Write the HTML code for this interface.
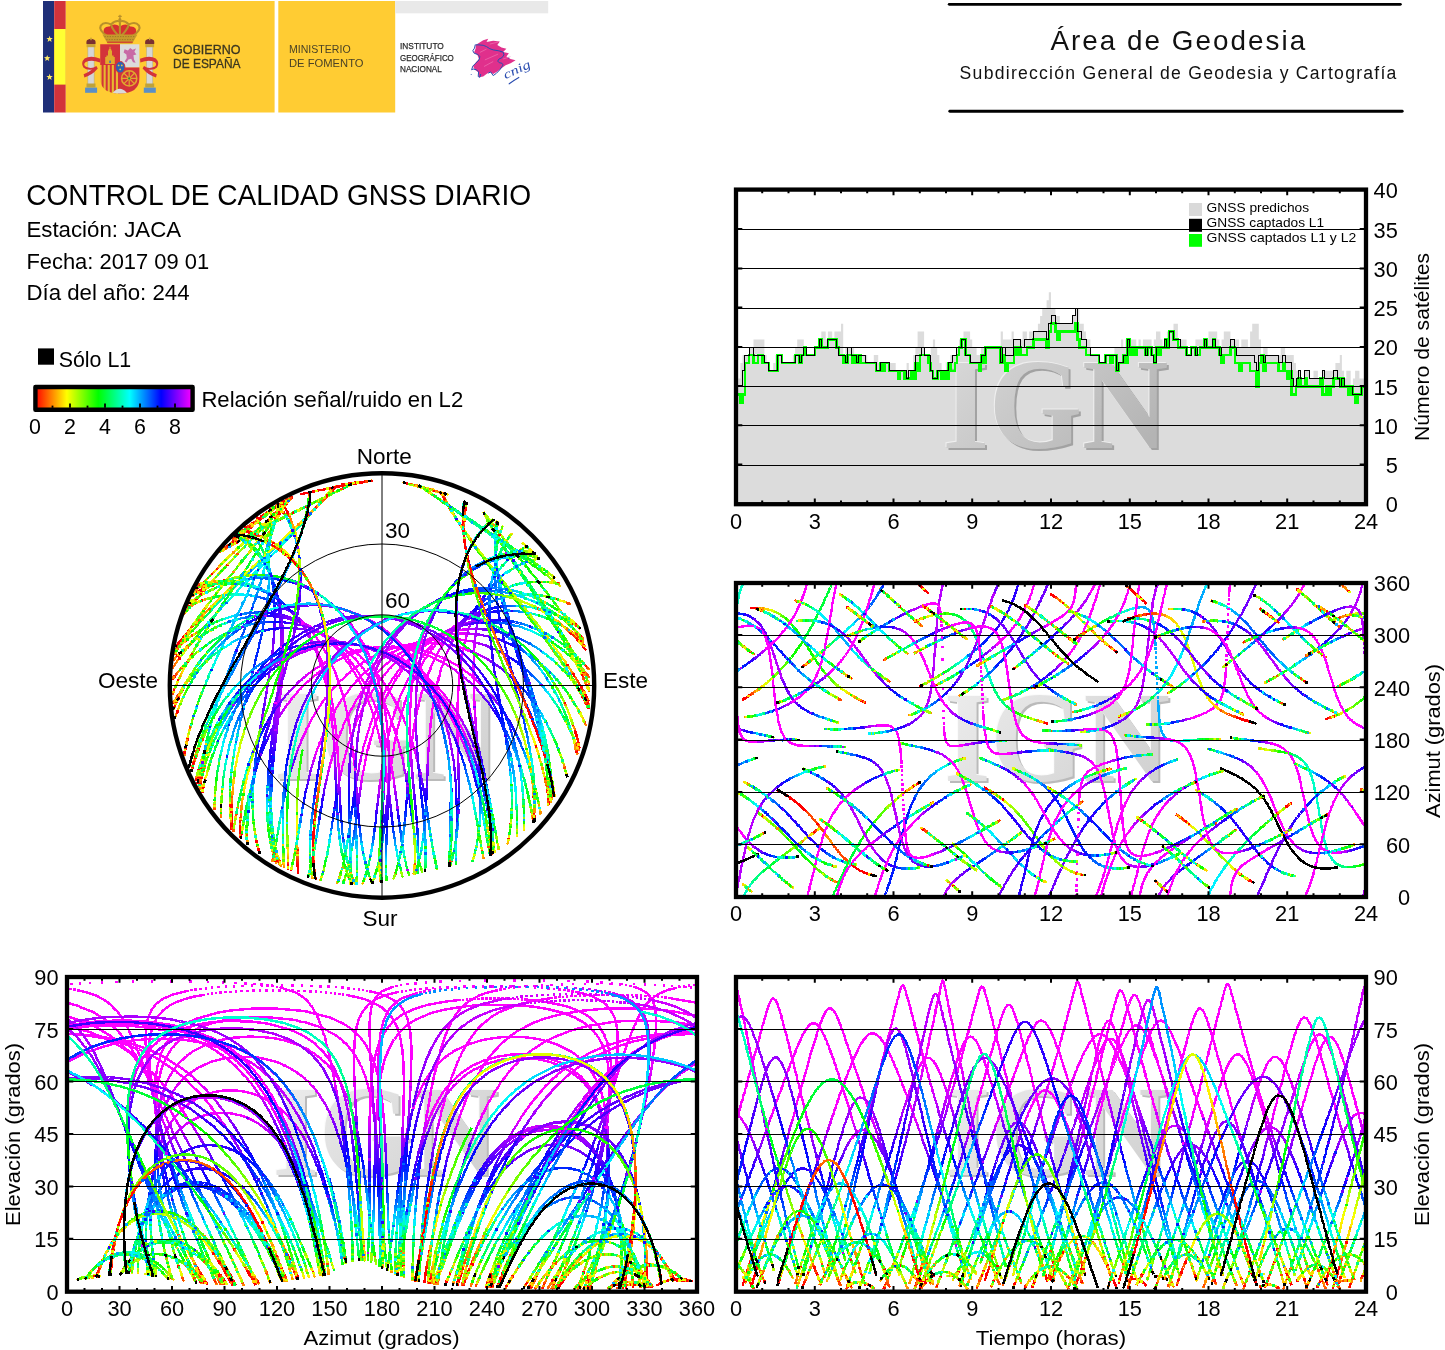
<!DOCTYPE html>
<html lang="es"><head><meta charset="utf-8"><title>Control de calidad GNSS diario - JACA</title>
<style>html,body{margin:0;padding:0;background:#fff}body{width:1445px;height:1350px;overflow:hidden}svg{display:block}</style></head><body>
<svg width="1445" height="1350" viewBox="0 0 1445 1350">
<rect width="1445" height="1350" fill="#fff"/>
<defs><linearGradient id="wgw" x1="0" x2="1" y1="0" y2="0.6"><stop offset="0" stop-color="#efefef"/><stop offset="1" stop-color="#d2d2d2"/></linearGradient><filter id="embw" x="-5%" y="-10%" width="110%" height="125%"><feOffset in="SourceAlpha" dx="2.4" dy="2.4" result="o1"/><feFlood flood-color="#bababa"/><feComposite in2="o1" operator="in" result="sh"/><feOffset in="SourceAlpha" dx="-1.2" dy="-1.2" result="o2"/><feFlood flood-color="#fbfbfb"/><feComposite in2="o2" operator="in" result="hl"/><feMerge><feMergeNode in="sh"/><feMergeNode in="hl"/><feMergeNode in="SourceGraphic"/></feMerge></filter><linearGradient id="wgg" x1="0" x2="1" y1="0" y2="0.6"><stop offset="0" stop-color="#dcdcdc"/><stop offset="1" stop-color="#b4b4b4"/></linearGradient><filter id="embg" x="-5%" y="-10%" width="110%" height="125%"><feOffset in="SourceAlpha" dx="2.4" dy="2.4" result="o1"/><feFlood flood-color="#a2a2a2"/><feComposite in2="o1" operator="in" result="sh"/><feOffset in="SourceAlpha" dx="-1.2" dy="-1.2" result="o2"/><feFlood flood-color="#efefef"/><feComposite in2="o2" operator="in" result="hl"/><feMerge><feMergeNode in="sh"/><feMergeNode in="hl"/><feMergeNode in="SourceGraphic"/></feMerge></filter></defs>
<g id="logo">
<rect x="43" y="1" width="11.2" height="111.5" fill="#1f2f78"/>
<rect x="54.2" y="1" width="11.6" height="111.5" fill="#d3333a"/>
<rect x="54.2" y="29" width="11.6" height="55.6" fill="#ffff33"/>
<polygon points="49.6,35.8 50.4,38.0 52.8,38.1 51.0,39.6 51.6,42.0 49.6,40.6 47.6,42.0 48.2,39.6 46.4,38.1 48.8,38.0" fill="#fde866"/>
<polygon points="47.2,54.9 48.0,57.1 50.4,57.2 48.6,58.7 49.2,61.1 47.2,59.7 45.2,61.1 45.8,58.7 44.0,57.2 46.4,57.1" fill="#fde866"/>
<polygon points="49.6,73.8 50.4,76.0 52.8,76.1 51.0,77.6 51.6,80.0 49.6,78.6 47.6,80.0 48.2,77.6 46.4,76.1 48.8,76.0" fill="#fde866"/>
<rect x="65.8" y="1" width="208.8" height="111.5" fill="#ffcc33"/>
<rect x="278.3" y="1" width="116.9" height="111.5" fill="#ffcc33"/>
<rect x="395.2" y="1" width="153" height="12.3" fill="#e9e9e9"/>
<g id="coat">
<rect x="87.89999999999999" y="46.5" width="6.2" height="38" fill="#d6d6d6" stroke="#a9a58f" stroke-width="0.5"/>
<rect x="86.6" y="43.6" width="8.8" height="3.6" fill="#c9a437"/>
<rect x="86.5" y="83.5" width="9" height="4" fill="#bfa23a"/>
<rect x="85.1" y="87.6" width="12" height="5.2" fill="#5b8fc7"/>
<path d="M86.5 44 q-0.600 -4 1.800 -4.400 q2.700 -1.600 5.400 0 q2.400 0.400 1.800 4.400 z" fill="#7a3030"/>
<rect x="90.3" y="37.6" width="1.4" height="2.6" fill="#c9a437"/>
<rect x="146.6" y="46.5" width="6.2" height="38" fill="#d6d6d6" stroke="#a9a58f" stroke-width="0.5"/>
<rect x="145.3" y="43.6" width="8.8" height="3.6" fill="#c9a437"/>
<rect x="145.2" y="83.5" width="9" height="4" fill="#bfa23a"/>
<rect x="143.8" y="87.6" width="12" height="5.2" fill="#5b8fc7"/>
<path d="M145.2 44 q-0.600 -4 1.800 -4.400 q2.700 -1.600 5.400 0 q2.400 0.400 1.800 4.400 z" fill="#7a3030"/>
<rect x="149.0" y="37.6" width="1.4" height="2.6" fill="#c9a437"/>
<path d="M84.6 58.6 q6 -3.6 15.8 0.2 l-0.4 3.6 q-8.6 -3.2 -14.6 -0.2 q-2.6 2.4 0.6 4.6 q5.6 2.6 10.4 -0.8 l1.4 2.6 q-5.8 6.8 -13.4 9 l-0.8 -3.4 q5 -1.6 8.4 -4.6 q-5.4 1 -8.6 -2.2 q-3 -4.6 1.2 -8.8z" fill="#d3333a"/>
<path d="M155.8 58.6 q-6 -3.6 -15.8 0.2 l0.4 3.6 q8.6 -3.2 14.6 -0.2 q2.6 2.4 -0.6 4.6 q-5.6 2.6 -10.4 -0.8 l-1.4 2.6 q5.800 6.8 13.4 9 l0.8 -3.400 q-5 -1.6 -8.4 -4.6 q5.400 1 8.6 -2.2 q3 -4.6 -1.2 -8.8z" fill="#d3333a"/>
<clipPath id="shc"><path d="M100.2 44.2 H139.4 V78 Q139.4 93.4 119.8 93.6 Q100.2 93.4 100.2 78 Z"/></clipPath>
<g clip-path="url(#shc)">
<rect x="100" y="44" width="20" height="21" fill="#d3333a"/>
<rect x="120" y="44" width="20" height="23.5" fill="#dcdcdc"/>
<rect x="100" y="65" width="20" height="30" fill="#e7b92f"/>
<rect x="101.6" y="65" width="2" height="30" fill="#d3333a"/>
<rect x="105.7" y="65" width="2" height="30" fill="#d3333a"/>
<rect x="109.8" y="65" width="2" height="30" fill="#d3333a"/>
<rect x="113.9" y="65" width="2" height="30" fill="#d3333a"/>
<rect x="118.0" y="65" width="2" height="30" fill="#d3333a"/>
<rect x="120" y="67.5" width="20" height="27" fill="#d3333a"/>
<path d="M113 92.500 Q119.800 85 126.500 92.500 V95 H113Z" fill="#dadada"/>
</g>
<path d="M105.2 64 V57 h1.2 v-1.400 h1.600 V50.400 h0.800 v-1.400 h0.700 v-2.200 h1 v2.200 h0.700 v1.400 h0.800 V55.600 h1.600 V57 h1.200 V64z" fill="#e2aa2c"/>
<rect x="109.300" y="60.600" width="1.500" height="2.400" fill="#3d6fb5"/>
<path d="M124.6 49.2 l3.4 1.400 l2.200 -2.600 l2.400 1.800 l3.400 -1.200 l-1.600 3.200 l2 2.800 l-3 0.600 l0.600 4.200 l1.600 3.400 l-2.600 -0.600 l-1.800 -3.400 l-2.800 0.800 l-2 3 l-1.800 -1 l2.200 -3.600 l-0.400 -3.400 l-2.800 -2 z" fill="#c86aa6"/>
<circle cx="129.2" cy="78.400" r="7.600" fill="none" stroke="#e0a92e" stroke-width="1.500"/>
<path d="M129.2 70.8 V86 M121.600 78.400 H136.8 M123.8 73 L134.600 83.8 M134.600 73 L123.8 83.8" stroke="#e0a92e" stroke-width="1.200" fill="none"/>
<circle cx="129.2" cy="78.400" r="1.100" fill="#2f8a3c"/>
<ellipse cx="120.2" cy="67.2" rx="4.700" ry="5.800" fill="#2d62b3" stroke="#d3333a" stroke-width="1"/>
<circle cx="118.600" cy="65.400" r="0.900" fill="#e7c43a"/><circle cx="121.800" cy="65.400" r="0.900" fill="#e7c43a"/><circle cx="120.200" cy="69.400" r="0.900" fill="#e7c43a"/>
<path d="M103.6 33 Q102.6 26 109.5 26.4 Q114.6 22.6 119.9 26.6 Q125.2 22.6 130.300 26.4 Q137.2 26 136.2 33 Q135 36 133 37 H106.800 Q104.800 36 103.600 33Z" fill="#d6302f"/>
<path d="M107.600 36.400 Q98.200 30 100.800 25.600 Q104.200 21 111 24.400 M119.900 37 Q112.400 30 111 24.400 Q115.400 19.800 119.900 21.400 Q124.400 19.800 128.800 24.400 Q127.400 30 119.900 37 M132.200 36.400 Q141.600 30 139 25.600 Q135.600 21 128.800 24.400 M119.900 21 V37" stroke="#b98f2a" stroke-width="2.100" fill="none"/>
<path d="M102.400 34.600 H137.400 L132.200 43.400 H107.600Z" fill="#c79a2c"/>
<path d="M104.400 36.600 H135.400 M106.200 39.600 H133.600" stroke="#8f6f22" stroke-width="0.700" stroke-dasharray="1.400 1.200"/>
<path d="M107.200 42.200 H132.600" stroke="#d6302f" stroke-width="1.100"/>
<circle cx="119.900" cy="19.600" r="1.500" fill="#b98f2a"/><rect x="119.300" y="14.800" width="1.300" height="4" fill="#b98f2a"/><rect x="118.100" y="15.800" width="3.700" height="1.100" fill="#b98f2a"/>
</g>
<text x="173" y="54.2" font-family="Liberation Sans, Arial, Helvetica, sans-serif" font-size="12.4" fill="#3b3620" stroke="#3b3620" stroke-width="0.3" textLength="67.5" lengthAdjust="spacingAndGlyphs">GOBIERNO</text>
<text x="173" y="68.4" font-family="Liberation Sans, Arial, Helvetica, sans-serif" font-size="12.4" fill="#3b3620" stroke="#3b3620" stroke-width="0.3" textLength="67.5" lengthAdjust="spacingAndGlyphs">DE ESPAÑA</text>
<text x="289" y="52.8" font-family="Liberation Sans, Arial, Helvetica, sans-serif" font-size="11.6" fill="#4a4226" textLength="61.6" lengthAdjust="spacingAndGlyphs">MINISTERIO</text>
<text x="289" y="67.3" font-family="Liberation Sans, Arial, Helvetica, sans-serif" font-size="11.6" fill="#4a4226" textLength="74.5" lengthAdjust="spacingAndGlyphs">DE FOMENTO</text>
<text x="400" y="49.3" font-family="Liberation Sans, Arial, Helvetica, sans-serif" font-size="9" fill="#2c2c2c" textLength="43.8" stroke="#2c2c2c" stroke-width="0.25" lengthAdjust="spacingAndGlyphs">INSTITUTO</text>
<text x="400" y="60.7" font-family="Liberation Sans, Arial, Helvetica, sans-serif" font-size="9" fill="#2c2c2c" textLength="53.8" stroke="#2c2c2c" stroke-width="0.25" lengthAdjust="spacingAndGlyphs">GEOGRÁFICO</text>
<text x="400" y="71.7" font-family="Liberation Sans, Arial, Helvetica, sans-serif" font-size="9" fill="#2c2c2c" textLength="41.8" stroke="#2c2c2c" stroke-width="0.25" lengthAdjust="spacingAndGlyphs">NACIONAL</text>
<g id="cnig">
<path d="M475.7 44.9L483.2 40.3L488.2 38.7L486.5 42.0L493.2 40.8L499.8 41.6L497.3 44.9L501.5 47.4L506.4 48.7L503.1 52.0L508.9 53.2L506.4 56.5L510.6 59.0L515.6 60.3L510.6 63.2L505.6 65.3L501.5 68.2L497.3 71.5L493.2 74.0L489.8 71.9L486.5 74.0L483.2 76.5L479.0 77.3L478.2 72.3L474.9 69.8L473.2 66.5L475.7 62.4L479.0 59.0L477.4 54.9L474.1 52.4L475.7 48.2 Z" fill="#e0308c"/>
<path d="M484.9 59.9L498.1 54.1M479.9 52.4L486.5 49.1M484.0 66.5L493.2 61.5M489.8 44.1L498.1 42.0M503.1 59.0L510.6 56.5" stroke="#f28cc0" stroke-width="0.5" fill="none"/>
<path d="M475.3 44.5L474.5 48.2L472.8 50.7L474.1 53.2L477.8 54.5L479.9 56.5L479.0 59.9L475.7 63.2L472.8 66.1L471.6 69.8L473.2 69.0L476.5 69.8L478.6 71.9L478.2 76.5L479.9 77.3L480.7 74.0 M488.2 73.2L490.7 71.9L493.2 75.6L496.5 73.2L499.8 69.8L503.1 64.9L501.9 63.2L499.4 62.8L497.7 61.1L499.0 59.0L501.9 57.8L504.0 54.9L503.1 52.0L500.2 51.6 M475.7 44.8L479.0 44.9L483.2 45.3L486.5 46.6L489.8 48.7L493.2 49.9L498.1 50.7L501.9 51.6" stroke="#2a4db0" stroke-width="1" fill="none" stroke-linejoin="round"/>
<circle cx="471.2" cy="74.6" r="0.5" fill="#2a4db0"/><circle cx="508.8" cy="58" r="0.6" fill="#2a4db0"/>
<text x="505.6" y="79.2" font-family="Liberation Serif, serif" font-style="italic" font-size="12.5" fill="#2a4db0" transform="rotate(-25 505.6 79.2)" textLength="28.5" lengthAdjust="spacingAndGlyphs">cnig</text>
<path d="M509.2 83.8 Q513.5 80.4 518.8 77.4" stroke="#2a4db0" stroke-width="1.1" fill="none" stroke-linecap="round"/>
</g>
</g>
<g id="area">
<line x1="949.2" y1="4.3" x2="1400.4" y2="4.3" stroke="#000" stroke-width="2.8" stroke-linecap="round"/>
<line x1="949.8" y1="111.3" x2="1402.2" y2="111.3" stroke="#000" stroke-width="2.9" stroke-linecap="round"/>
<text x="1050.5" y="49.5" font-family="Liberation Sans, Arial, Helvetica, sans-serif" font-size="27.8" fill="#111" textLength="254.6" lengthAdjust="spacing">Área de Geodesia</text>
<text x="959.6" y="78.6" font-family="Liberation Sans, Arial, Helvetica, sans-serif" font-size="17.6" fill="#111" textLength="436.8" lengthAdjust="spacing">Subdirección General de Geodesia y Cartografía</text>
</g>
<text x="26.2" y="205" font-family="Liberation Sans, Arial, Helvetica, sans-serif" font-size="29" fill="#000" textLength="505" lengthAdjust="spacingAndGlyphs">CONTROL DE CALIDAD GNSS DIARIO</text>
<text x="26.4" y="236.600" font-family="Liberation Sans, Arial, Helvetica, sans-serif" font-size="22.2" fill="#000" textLength="154.8" lengthAdjust="spacingAndGlyphs">Estación: JACA</text>
<text x="26.4" y="268.600" font-family="Liberation Sans, Arial, Helvetica, sans-serif" font-size="22.2" fill="#000" textLength="182.8" lengthAdjust="spacingAndGlyphs">Fecha: 2017 09 01</text>
<text x="26.4" y="299.600" font-family="Liberation Sans, Arial, Helvetica, sans-serif" font-size="22.2" fill="#000" textLength="163.2" lengthAdjust="spacingAndGlyphs">Día del año: 244</text>
<rect x="38" y="348.400" width="16" height="16.300" fill="#000"/>
<text x="58.7" y="366.500" font-family="Liberation Sans, Arial, Helvetica, sans-serif" font-size="21.8" fill="#000" textLength="72.6" lengthAdjust="spacingAndGlyphs">Sólo L1</text>
<text x="201.4" y="406.500" font-family="Liberation Sans, Arial, Helvetica, sans-serif" font-size="22.2" fill="#000" textLength="261.8" lengthAdjust="spacingAndGlyphs">Relación señal/ruido en L2</text>
<defs><linearGradient id="rb" x1="0" x2="1" y1="0" y2="0"><stop offset="0.0" stop-color="#ff0000"/><stop offset="0.2" stop-color="#ffff00"/><stop offset="0.4" stop-color="#00ff00"/><stop offset="0.6" stop-color="#00ffff"/><stop offset="0.8" stop-color="#0000ff"/><stop offset="1.0" stop-color="#ff00ff"/></linearGradient></defs>
<rect x="35.400" y="387" width="157.200" height="22.700" fill="url(#rb)" stroke="#000" stroke-width="4.400" stroke-linejoin="round"/>
<line x1="52.5" y1="407.8" x2="52.5" y2="405.6" stroke="#000" stroke-width="1.800"/>
<line x1="70.0" y1="407.8" x2="70.0" y2="403.6" stroke="#000" stroke-width="1.800"/>
<line x1="87.5" y1="407.8" x2="87.5" y2="405.6" stroke="#000" stroke-width="1.800"/>
<line x1="105.0" y1="407.8" x2="105.0" y2="403.6" stroke="#000" stroke-width="1.800"/>
<line x1="122.5" y1="407.8" x2="122.5" y2="405.6" stroke="#000" stroke-width="1.800"/>
<line x1="140.0" y1="407.8" x2="140.0" y2="403.6" stroke="#000" stroke-width="1.800"/>
<line x1="157.5" y1="407.8" x2="157.5" y2="405.6" stroke="#000" stroke-width="1.800"/>
<line x1="175.0" y1="407.8" x2="175.0" y2="403.6" stroke="#000" stroke-width="1.800"/>
<text x="35.0" y="433.600" font-family="Liberation Sans, Arial, Helvetica, sans-serif" font-size="21.400" fill="#000" text-anchor="middle">0</text>
<text x="70.0" y="433.600" font-family="Liberation Sans, Arial, Helvetica, sans-serif" font-size="21.400" fill="#000" text-anchor="middle">2</text>
<text x="105.0" y="433.600" font-family="Liberation Sans, Arial, Helvetica, sans-serif" font-size="21.400" fill="#000" text-anchor="middle">4</text>
<text x="140.0" y="433.600" font-family="Liberation Sans, Arial, Helvetica, sans-serif" font-size="21.400" fill="#000" text-anchor="middle">6</text>
<text x="175.0" y="433.600" font-family="Liberation Sans, Arial, Helvetica, sans-serif" font-size="21.400" fill="#000" text-anchor="middle">8</text>
<g id="sky">
<text x="387.0" y="779.0" font-family="Liberation Serif, Times New Roman, serif" font-size="130" font-weight="bold" text-anchor="middle" textLength="226" lengthAdjust="spacingAndGlyphs" fill="url(#wgw)" filter="url(#embw)">IGN</text>
<g transform="scale(0.5)" fill="none" stroke-width="4.6" stroke-linecap="square" stroke-linejoin="bevel" shape-rendering="crispEdges">
<defs><radialGradient id="g1_G4" gradientUnits="userSpaceOnUse" cx="764.0" cy="1371.0" r="424.4"><stop offset="0.000" stop-color="#5500ff"/><stop offset="0.044" stop-color="#4d00ff"/><stop offset="0.089" stop-color="#4600ff"/><stop offset="0.133" stop-color="#3e00ff"/><stop offset="0.178" stop-color="#3700ff"/><stop offset="0.222" stop-color="#2f00ff"/><stop offset="0.267" stop-color="#2800ff"/><stop offset="0.311" stop-color="#2000ff"/><stop offset="0.356" stop-color="#0b00ff"/><stop offset="0.400" stop-color="#0017ff"/><stop offset="0.444" stop-color="#0039ff"/><stop offset="0.489" stop-color="#006cff"/><stop offset="0.533" stop-color="#009fff"/><stop offset="0.578" stop-color="#00d4ff"/><stop offset="0.622" stop-color="#00fff1"/><stop offset="0.667" stop-color="#00ffb8"/><stop offset="0.683" stop-color="#00ff9f"/><stop offset="0.700" stop-color="#00ff85"/><stop offset="0.717" stop-color="#00ff6c"/><stop offset="0.733" stop-color="#00ff4d"/><stop offset="0.750" stop-color="#00ff2a"/><stop offset="0.767" stop-color="#00ff08"/><stop offset="0.783" stop-color="#18ff00"/><stop offset="0.800" stop-color="#37ff00"/><stop offset="0.817" stop-color="#55ff00"/><stop offset="0.833" stop-color="#73ff00"/><stop offset="0.850" stop-color="#9aff00"/><stop offset="0.867" stop-color="#c1ff00"/><stop offset="0.883" stop-color="#e7ff00"/><stop offset="0.900" stop-color="#ffe400"/><stop offset="0.917" stop-color="#ffad00"/><stop offset="0.933" stop-color="#ff7500"/><stop offset="0.950" stop-color="#ff3600"/><stop offset="0.967" stop-color="#ff0000"/><stop offset="1.000" stop-color="#ff0000"/></radialGradient><radialGradient id="g1_G5" gradientUnits="userSpaceOnUse" cx="764.0" cy="1371.0" r="424.4"><stop offset="0.000" stop-color="#bf00ff"/><stop offset="0.044" stop-color="#b800ff"/><stop offset="0.089" stop-color="#b000ff"/><stop offset="0.133" stop-color="#a900ff"/><stop offset="0.178" stop-color="#a100ff"/><stop offset="0.222" stop-color="#9900ff"/><stop offset="0.267" stop-color="#9200ff"/><stop offset="0.311" stop-color="#8a00ff"/><stop offset="0.356" stop-color="#7600ff"/><stop offset="0.400" stop-color="#5400ff"/><stop offset="0.444" stop-color="#3200ff"/><stop offset="0.489" stop-color="#0001ff"/><stop offset="0.533" stop-color="#0034ff"/><stop offset="0.578" stop-color="#006aff"/><stop offset="0.622" stop-color="#00a3ff"/><stop offset="0.667" stop-color="#00dcff"/><stop offset="0.683" stop-color="#00f5ff"/><stop offset="0.700" stop-color="#00ffef"/><stop offset="0.717" stop-color="#00ffd6"/><stop offset="0.733" stop-color="#00ffb7"/><stop offset="0.750" stop-color="#00ff95"/><stop offset="0.767" stop-color="#00ff73"/><stop offset="0.783" stop-color="#00ff51"/><stop offset="0.800" stop-color="#00ff2e"/><stop offset="0.817" stop-color="#00ff0c"/><stop offset="0.833" stop-color="#16ff00"/><stop offset="0.850" stop-color="#41ff00"/><stop offset="0.867" stop-color="#6cff00"/><stop offset="0.883" stop-color="#96ff00"/><stop offset="0.900" stop-color="#cdff00"/><stop offset="0.917" stop-color="#fff600"/><stop offset="0.933" stop-color="#ffba00"/><stop offset="0.950" stop-color="#ff7700"/><stop offset="0.967" stop-color="#ff3400"/><stop offset="0.983" stop-color="#ff1500"/><stop offset="1.000" stop-color="#ff0000"/></radialGradient><radialGradient id="g1_G6" gradientUnits="userSpaceOnUse" cx="764.0" cy="1371.0" r="424.4"><stop offset="0.000" stop-color="#ff00ff"/><stop offset="0.222" stop-color="#ff00ff"/><stop offset="0.267" stop-color="#fc00ff"/><stop offset="0.311" stop-color="#f500ff"/><stop offset="0.356" stop-color="#e000ff"/><stop offset="0.400" stop-color="#be00ff"/><stop offset="0.444" stop-color="#9c00ff"/><stop offset="0.489" stop-color="#6900ff"/><stop offset="0.533" stop-color="#3600ff"/><stop offset="0.578" stop-color="#0000ff"/><stop offset="0.622" stop-color="#0039ff"/><stop offset="0.667" stop-color="#0071ff"/><stop offset="0.683" stop-color="#008bff"/><stop offset="0.700" stop-color="#00a4ff"/><stop offset="0.717" stop-color="#00beff"/><stop offset="0.733" stop-color="#00ddff"/><stop offset="0.750" stop-color="#00ffff"/><stop offset="0.767" stop-color="#00ffdd"/><stop offset="0.783" stop-color="#00ffba"/><stop offset="0.800" stop-color="#00ff93"/><stop offset="0.817" stop-color="#00ff6d"/><stop offset="0.833" stop-color="#00ff47"/><stop offset="0.850" stop-color="#00ff18"/><stop offset="0.867" stop-color="#17ff00"/><stop offset="0.883" stop-color="#45ff00"/><stop offset="0.900" stop-color="#80ff00"/><stop offset="0.917" stop-color="#bfff00"/><stop offset="0.933" stop-color="#ffff00"/><stop offset="0.950" stop-color="#ffb800"/><stop offset="0.967" stop-color="#ff7100"/><stop offset="0.983" stop-color="#ff4e00"/><stop offset="1.000" stop-color="#ff2a00"/></radialGradient><radialGradient id="g1_G7" gradientUnits="userSpaceOnUse" cx="764.0" cy="1371.0" r="424.4"><stop offset="0.000" stop-color="#ff00ff"/><stop offset="0.400" stop-color="#ff00ff"/><stop offset="0.444" stop-color="#f100ff"/><stop offset="0.489" stop-color="#be00ff"/><stop offset="0.533" stop-color="#8b00ff"/><stop offset="0.578" stop-color="#5500ff"/><stop offset="0.622" stop-color="#1c00ff"/><stop offset="0.667" stop-color="#001cff"/><stop offset="0.683" stop-color="#0036ff"/><stop offset="0.700" stop-color="#004fff"/><stop offset="0.717" stop-color="#0069ff"/><stop offset="0.733" stop-color="#0088ff"/><stop offset="0.750" stop-color="#00aaff"/><stop offset="0.767" stop-color="#00ccff"/><stop offset="0.783" stop-color="#00f0ff"/><stop offset="0.800" stop-color="#00ffe4"/><stop offset="0.817" stop-color="#00ffbb"/><stop offset="0.833" stop-color="#00ff91"/><stop offset="0.850" stop-color="#00ff5f"/><stop offset="0.867" stop-color="#00ff2d"/><stop offset="0.883" stop-color="#05ff00"/><stop offset="0.900" stop-color="#42ff00"/><stop offset="0.917" stop-color="#85ff00"/><stop offset="0.933" stop-color="#c8ff00"/><stop offset="0.950" stop-color="#ffec00"/><stop offset="0.967" stop-color="#ffa200"/><stop offset="0.983" stop-color="#ff7c00"/><stop offset="1.000" stop-color="#ff5500"/></radialGradient><radialGradient id="g1_R0" gradientUnits="userSpaceOnUse" cx="764.0" cy="1371.0" r="424.4"><stop offset="0.000" stop-color="#9cff00"/><stop offset="0.044" stop-color="#a7ff00"/><stop offset="0.089" stop-color="#b2ff00"/><stop offset="0.133" stop-color="#beff00"/><stop offset="0.178" stop-color="#c9ff00"/><stop offset="0.222" stop-color="#d4ff00"/><stop offset="0.267" stop-color="#e6ff00"/><stop offset="0.311" stop-color="#f6ff00"/><stop offset="0.356" stop-color="#fff400"/><stop offset="0.400" stop-color="#ffdd00"/><stop offset="0.444" stop-color="#ffc600"/><stop offset="0.489" stop-color="#ffaa00"/><stop offset="0.533" stop-color="#ff8e00"/><stop offset="0.578" stop-color="#ff6f00"/><stop offset="0.622" stop-color="#ff4d00"/><stop offset="0.667" stop-color="#ff2a00"/><stop offset="0.683" stop-color="#ff1700"/><stop offset="0.700" stop-color="#ff0400"/><stop offset="0.717" stop-color="#ff0000"/><stop offset="1.000" stop-color="#ff0000"/></radialGradient><radialGradient id="g1_R1" gradientUnits="userSpaceOnUse" cx="764.0" cy="1371.0" r="424.4"><stop offset="0.000" stop-color="#00ffaa"/><stop offset="0.044" stop-color="#00ff9f"/><stop offset="0.089" stop-color="#00ff93"/><stop offset="0.133" stop-color="#00ff88"/><stop offset="0.178" stop-color="#00ff7d"/><stop offset="0.222" stop-color="#00ff71"/><stop offset="0.267" stop-color="#00ff60"/><stop offset="0.311" stop-color="#00ff4f"/><stop offset="0.356" stop-color="#00ff3b"/><stop offset="0.400" stop-color="#00ff25"/><stop offset="0.444" stop-color="#00ff0e"/><stop offset="0.489" stop-color="#0eff00"/><stop offset="0.533" stop-color="#2aff00"/><stop offset="0.578" stop-color="#4aff00"/><stop offset="0.622" stop-color="#6cff00"/><stop offset="0.667" stop-color="#8eff00"/><stop offset="0.683" stop-color="#a1ff00"/><stop offset="0.700" stop-color="#b4ff00"/><stop offset="0.717" stop-color="#c7ff00"/><stop offset="0.733" stop-color="#daff00"/><stop offset="0.750" stop-color="#edff00"/><stop offset="0.767" stop-color="#fffe00"/><stop offset="0.783" stop-color="#ffee00"/><stop offset="0.800" stop-color="#ffe600"/><stop offset="0.817" stop-color="#ffdd00"/><stop offset="0.833" stop-color="#ffd500"/><stop offset="0.850" stop-color="#ffbb00"/><stop offset="0.867" stop-color="#ffa100"/><stop offset="0.883" stop-color="#ff8800"/><stop offset="0.900" stop-color="#ff5c00"/><stop offset="0.917" stop-color="#ff2700"/><stop offset="0.933" stop-color="#ff0000"/><stop offset="1.000" stop-color="#ff0000"/></radialGradient><radialGradient id="g1_R2" gradientUnits="userSpaceOnUse" cx="764.0" cy="1371.0" r="424.4"><stop offset="0.000" stop-color="#00fff1"/><stop offset="0.044" stop-color="#00ffe6"/><stop offset="0.089" stop-color="#00ffda"/><stop offset="0.133" stop-color="#00ffcf"/><stop offset="0.178" stop-color="#00ffc4"/><stop offset="0.222" stop-color="#00ffb8"/><stop offset="0.267" stop-color="#00ffa7"/><stop offset="0.311" stop-color="#00ff96"/><stop offset="0.356" stop-color="#00ff82"/><stop offset="0.400" stop-color="#00ff6c"/><stop offset="0.444" stop-color="#00ff55"/><stop offset="0.489" stop-color="#00ff39"/><stop offset="0.533" stop-color="#00ff1c"/><stop offset="0.578" stop-color="#03ff00"/><stop offset="0.622" stop-color="#25ff00"/><stop offset="0.667" stop-color="#47ff00"/><stop offset="0.683" stop-color="#5aff00"/><stop offset="0.700" stop-color="#6dff00"/><stop offset="0.717" stop-color="#80ff00"/><stop offset="0.733" stop-color="#93ff00"/><stop offset="0.750" stop-color="#a6ff00"/><stop offset="0.767" stop-color="#baff00"/><stop offset="0.783" stop-color="#caff00"/><stop offset="0.800" stop-color="#d5ff00"/><stop offset="0.817" stop-color="#e0ff00"/><stop offset="0.833" stop-color="#ecff00"/><stop offset="0.850" stop-color="#fff600"/><stop offset="0.867" stop-color="#ffda00"/><stop offset="0.883" stop-color="#ffbe00"/><stop offset="0.900" stop-color="#ff8f00"/><stop offset="0.917" stop-color="#ff5800"/><stop offset="0.933" stop-color="#ff2000"/><stop offset="0.950" stop-color="#ff0000"/><stop offset="1.000" stop-color="#ff0000"/></radialGradient><radialGradient id="g1_R3" gradientUnits="userSpaceOnUse" cx="764.0" cy="1371.0" r="424.4"><stop offset="0.000" stop-color="#0080ff"/><stop offset="0.044" stop-color="#008bff"/><stop offset="0.089" stop-color="#0096ff"/><stop offset="0.133" stop-color="#00a1ff"/><stop offset="0.178" stop-color="#00adff"/><stop offset="0.222" stop-color="#00b8ff"/><stop offset="0.267" stop-color="#00c9ff"/><stop offset="0.311" stop-color="#00daff"/><stop offset="0.356" stop-color="#00eeff"/><stop offset="0.400" stop-color="#00fff9"/><stop offset="0.444" stop-color="#00ffe3"/><stop offset="0.489" stop-color="#00ffc6"/><stop offset="0.533" stop-color="#00ffaa"/><stop offset="0.578" stop-color="#00ff8b"/><stop offset="0.622" stop-color="#00ff69"/><stop offset="0.667" stop-color="#00ff47"/><stop offset="0.683" stop-color="#00ff34"/><stop offset="0.700" stop-color="#00ff21"/><stop offset="0.717" stop-color="#00ff0d"/><stop offset="0.733" stop-color="#06ff00"/><stop offset="0.750" stop-color="#19ff00"/><stop offset="0.767" stop-color="#2cff00"/><stop offset="0.783" stop-color="#3eff00"/><stop offset="0.800" stop-color="#4fff00"/><stop offset="0.817" stop-color="#5fff00"/><stop offset="0.833" stop-color="#70ff00"/><stop offset="0.850" stop-color="#91ff00"/><stop offset="0.867" stop-color="#b3ff00"/><stop offset="0.883" stop-color="#d4ff00"/><stop offset="0.900" stop-color="#fff600"/><stop offset="0.917" stop-color="#ffb900"/><stop offset="0.933" stop-color="#ff7c00"/><stop offset="0.950" stop-color="#ff2600"/><stop offset="0.967" stop-color="#ff0000"/><stop offset="1.000" stop-color="#ff0000"/></radialGradient><radialGradient id="g1_R4" gradientUnits="userSpaceOnUse" cx="764.0" cy="1371.0" r="424.4"><stop offset="0.000" stop-color="#0e00ff"/><stop offset="0.044" stop-color="#0300ff"/><stop offset="0.089" stop-color="#0008ff"/><stop offset="0.133" stop-color="#0014ff"/><stop offset="0.178" stop-color="#001fff"/><stop offset="0.222" stop-color="#002bff"/><stop offset="0.267" stop-color="#003cff"/><stop offset="0.311" stop-color="#004cff"/><stop offset="0.356" stop-color="#0060ff"/><stop offset="0.400" stop-color="#0077ff"/><stop offset="0.444" stop-color="#008eff"/><stop offset="0.489" stop-color="#00aaff"/><stop offset="0.533" stop-color="#00c6ff"/><stop offset="0.578" stop-color="#00e5ff"/><stop offset="0.622" stop-color="#00fff7"/><stop offset="0.667" stop-color="#00ffd4"/><stop offset="0.683" stop-color="#00ffc1"/><stop offset="0.700" stop-color="#00ffae"/><stop offset="0.717" stop-color="#00ff9b"/><stop offset="0.733" stop-color="#00ff88"/><stop offset="0.750" stop-color="#00ff75"/><stop offset="0.767" stop-color="#00ff62"/><stop offset="0.783" stop-color="#00ff4e"/><stop offset="0.800" stop-color="#00ff38"/><stop offset="0.817" stop-color="#00ff22"/><stop offset="0.833" stop-color="#00ff0c"/><stop offset="0.850" stop-color="#1aff00"/><stop offset="0.867" stop-color="#41ff00"/><stop offset="0.883" stop-color="#68ff00"/><stop offset="0.900" stop-color="#a1ff00"/><stop offset="0.917" stop-color="#e4ff00"/><stop offset="0.933" stop-color="#ffd800"/><stop offset="0.950" stop-color="#ff7d00"/><stop offset="0.967" stop-color="#ff2200"/><stop offset="0.983" stop-color="#ff0000"/><stop offset="1.000" stop-color="#ff0000"/></radialGradient><radialGradient id="g1_R5" gradientUnits="userSpaceOnUse" cx="764.0" cy="1371.0" r="424.4"><stop offset="0.000" stop-color="#7800ff"/><stop offset="0.044" stop-color="#6d00ff"/><stop offset="0.089" stop-color="#6200ff"/><stop offset="0.133" stop-color="#5600ff"/><stop offset="0.178" stop-color="#4b00ff"/><stop offset="0.222" stop-color="#4000ff"/><stop offset="0.267" stop-color="#2f00ff"/><stop offset="0.311" stop-color="#1e00ff"/><stop offset="0.356" stop-color="#0a00ff"/><stop offset="0.400" stop-color="#000dff"/><stop offset="0.444" stop-color="#0023ff"/><stop offset="0.489" stop-color="#0040ff"/><stop offset="0.533" stop-color="#005cff"/><stop offset="0.578" stop-color="#007bff"/><stop offset="0.622" stop-color="#009dff"/><stop offset="0.667" stop-color="#00bfff"/><stop offset="0.683" stop-color="#00d2ff"/><stop offset="0.700" stop-color="#00e5ff"/><stop offset="0.717" stop-color="#00f9ff"/><stop offset="0.733" stop-color="#00fff2"/><stop offset="0.750" stop-color="#00ffdf"/><stop offset="0.767" stop-color="#00ffcc"/><stop offset="0.783" stop-color="#00ffb7"/><stop offset="0.800" stop-color="#00ff9d"/><stop offset="0.817" stop-color="#00ff83"/><stop offset="0.833" stop-color="#00ff69"/><stop offset="0.850" stop-color="#00ff3f"/><stop offset="0.867" stop-color="#00ff14"/><stop offset="0.883" stop-color="#17ff00"/><stop offset="0.900" stop-color="#54ff00"/><stop offset="0.917" stop-color="#9bff00"/><stop offset="0.933" stop-color="#e1ff00"/><stop offset="0.950" stop-color="#ffbe00"/><stop offset="0.967" stop-color="#ff5f00"/><stop offset="0.983" stop-color="#ff3100"/><stop offset="1.000" stop-color="#ff0400"/></radialGradient><radialGradient id="g1_R6" gradientUnits="userSpaceOnUse" cx="764.0" cy="1371.0" r="424.4"><stop offset="0.000" stop-color="#e300ff"/><stop offset="0.044" stop-color="#d700ff"/><stop offset="0.089" stop-color="#cc00ff"/><stop offset="0.133" stop-color="#c100ff"/><stop offset="0.178" stop-color="#b500ff"/><stop offset="0.222" stop-color="#aa00ff"/><stop offset="0.267" stop-color="#9900ff"/><stop offset="0.311" stop-color="#8800ff"/><stop offset="0.356" stop-color="#7400ff"/><stop offset="0.400" stop-color="#5d00ff"/><stop offset="0.444" stop-color="#4700ff"/><stop offset="0.489" stop-color="#2a00ff"/><stop offset="0.533" stop-color="#0e00ff"/><stop offset="0.578" stop-color="#0011ff"/><stop offset="0.622" stop-color="#0033ff"/><stop offset="0.667" stop-color="#0055ff"/><stop offset="0.683" stop-color="#0068ff"/><stop offset="0.700" stop-color="#007bff"/><stop offset="0.717" stop-color="#008eff"/><stop offset="0.733" stop-color="#00a2ff"/><stop offset="0.750" stop-color="#00b5ff"/><stop offset="0.767" stop-color="#00c8ff"/><stop offset="0.783" stop-color="#00deff"/><stop offset="0.800" stop-color="#00fcff"/><stop offset="0.817" stop-color="#00ffe4"/><stop offset="0.833" stop-color="#00ffc6"/><stop offset="0.850" stop-color="#00ff98"/><stop offset="0.867" stop-color="#00ff69"/><stop offset="0.883" stop-color="#00ff3a"/><stop offset="0.900" stop-color="#07ff00"/><stop offset="0.917" stop-color="#51ff00"/><stop offset="0.933" stop-color="#9cff00"/><stop offset="0.950" stop-color="#ffff00"/><stop offset="0.967" stop-color="#ff9c00"/><stop offset="0.983" stop-color="#ff6a00"/><stop offset="1.000" stop-color="#ff3900"/></radialGradient><radialGradient id="g1_R7" gradientUnits="userSpaceOnUse" cx="764.0" cy="1371.0" r="424.4"><stop offset="0.000" stop-color="#ff00ff"/><stop offset="0.222" stop-color="#ff00ff"/><stop offset="0.267" stop-color="#ee00ff"/><stop offset="0.311" stop-color="#dd00ff"/><stop offset="0.356" stop-color="#c900ff"/><stop offset="0.400" stop-color="#b300ff"/><stop offset="0.444" stop-color="#9c00ff"/><stop offset="0.489" stop-color="#8000ff"/><stop offset="0.533" stop-color="#6300ff"/><stop offset="0.578" stop-color="#4400ff"/><stop offset="0.622" stop-color="#2200ff"/><stop offset="0.667" stop-color="#0000ff"/><stop offset="0.683" stop-color="#0013ff"/><stop offset="0.700" stop-color="#0026ff"/><stop offset="0.717" stop-color="#0039ff"/><stop offset="0.733" stop-color="#004dff"/><stop offset="0.750" stop-color="#0060ff"/><stop offset="0.767" stop-color="#0073ff"/><stop offset="0.783" stop-color="#008aff"/><stop offset="0.800" stop-color="#00abff"/><stop offset="0.817" stop-color="#00ccff"/><stop offset="0.833" stop-color="#00edff"/><stop offset="0.850" stop-color="#00ffdf"/><stop offset="0.867" stop-color="#00ffad"/><stop offset="0.883" stop-color="#00ff7b"/><stop offset="0.900" stop-color="#00ff37"/><stop offset="0.917" stop-color="#17ff00"/><stop offset="0.933" stop-color="#65ff00"/><stop offset="0.950" stop-color="#cbff00"/><stop offset="0.967" stop-color="#ffcd00"/><stop offset="0.983" stop-color="#ff9800"/><stop offset="1.000" stop-color="#ff6300"/></radialGradient></defs>
<path stroke="url(#g1_G7)" d="M452 1435l5-10 14-21 5-5 6-9 6-6 4-6 1 0 24-25 12-9 1-2 21-15 17-9 2-2 30-14 18-6 4 0 4-2 18-3 1-1 15-1 1-1 27-1 1 1 15 0 1 1 14 1 1 1 10 1 1 1 11 2 4 2 3 0 12 4 17 8 9 3 29 17 15 11 1 2 8 5 2 3 9 7 2 3 13 12 4 6 3 2 12 16 5 5 28 44 0 2 5 8 13 28 1 5 3 5 1 5 4 8 9 27 0 3 5 14 0 3 2 4 0 4 4 12 9 42 0 4 1 1 0 5 1 1 2 15 2 6 0 6 2 6 1 11 1 1 1 10 2 6 0 6 1 1 0 4 2 6M399 1573l2-12 2-4 4-18 2-3 3-13 2-3 0-3 2-3 5-16 16-37 20-35M1024 1212l22 0 1 1 7 0 1 1 12 1 1 1 15 3 4 2 3 0 17 6 5 3 5 1 21 11 22 14M583 995l-4 5-5 4-5 7-6 5-6 8-15 14-9 11-9 8-11 13-26 25-62 66-5 7-19 20-1 3-8 8-9 12-6 6-2 4-6 6M745 1765l9-26 0-3 5-17 0-4 1-1 0-5 1-1 0-4 2-6 0-5 1-1 3-27 1-1 0-7 1-1 1-16 1-2 0-9 1-1 0-8 1-1 0-9 1-1 0-9 1-1 0-9 1-1 2-27 1-1 0-7 1-1 0-7 1-1 0-8 1-1 2-20 1-1 4-29 2-6 0-5 1-1 2-13 6-21 0-4 9-27 0-3 3-6 0-3 2-3 0-2 2-3 0-3 4-7 0-3 4-7 2-7 9-18 2-2 14-26 2-1 5-9 2-1 4-7 2-1 6-9 2-1 5-7 2-1 11-12 9-7 1-2 4-2 1-2 4-2 0-1 7-5 3-1 0-1 15-9 14-7 2 0 3-2 2 0 0-1 11-4 3 0 4-2 3 0 12-4 5 0 7-2 30-1M351 1300l2-3 9-7 3-4 10-7 2-3 7-5 22-14 27-14 36-12 4 0 1-1 8-1 1-1 5 0 1-1 19-1 1-1 18 0 1 1 12 0 1 1 13 1 10 3 4 0 3 1 0 1 3 0 23 8 2 2 4 1 17 9 0 1 5 2 3 2 0 1 6 3 0 1 16 11 4 5 7 5 0 1 10 9 5 7 3 2 2 4 3 2 10 15 2 1 20 32 18 38 1 5 3 5 0 3 3 5 9 27 0 3 2 4 0 3 2 4 0 3 2 4 0 3 3 9 0 4 2 4 0 4 1 1 0 4 1 1 2 13 1 1 0 5 2 6 2 16 1 1 0 5 1 1 0 6 1 1 0 6 4 23 0 7 1 1 0 7 1 1 0 7 1 1 0 8 1 1 0 7 1 1 0 8 1 1 0 8 1 1 0 7 1 1 0 8 1 1 1 14 1 1 0 7 1 1 2 18 1 1 0 5 1 1 3 19 1 1 1 8 1 1 0 3 1 1 5 21M1068 1106l-22-19M482 1675l0-4 2-6 0-6 1-1 0-4 2-6 0-5 2-6 0-5 1-1 1-10 2-5 0-5 2-5 2-14 2-4 1-8 1-1 3-15 2-4 1-7 4-11 0-3 3-6 1-6 2-3 0-3 2-3 2-8 3-5 0-3 3-5 1-5 5-9 10-23 6-9 0-2 8-14 18-27 2-1 8-12 3-2 11-14 1 0 13-14 6-4 0-1 9-8 5-3 2-3 13-8 0-1 4-3 15-8 2-2 24-12 8-2 8-4 29-8 5 0 1-1 11-1 1-1 8 0 1-1 24-1 1 1 26 1 1 1 5 0 7 2 4 0 1 1 4 0 1 1 11 2 10 4 3 0 20 9 2 0 30 16 1 2 3 1 24 17 2 3 5 3 7 8 10 8 21 24 6 9 5 5 12 18 1 3 7 10 10 20 2 2 0 2 11 22 1 5 7 15 0 3 3 5 1 6 2 3 0 3 2 3 1 6 5 14 0 3 2 4 1 7 4 12 0 4 2 4 2 13 2 5 0 5 1 1 3 18M947 1345l1-48 1-1 0-11 1-1 0-9 1-1 2-20 1-1 1-10 1-1 0-4 3-9 2-12 11-32 1 0 3-9 1 0 1-4 10-18 1 0 4-8 1 0 10-14 3-2 10-12 5-3 0-1 6-4 1-2 24-15M541 1018l0 4 1 1 0 40-1 1 0 10-1 1 0 7-1 1 0 6-2 7 0 6-1 1-2 14-3 9-4 20-5 14 0 4-3 6-3 13-5 12 0 3-5 12 0 3-2 3 0 3-3 5 0 3-5 11-9 27-4 8-6 18-6 13 0 3-2 3-5 15-4 8-2 8-4 8 0 3-4 8-2 8-3 6 0 3-6 14 0 3-5 12 0 3-10 30-3 14-5 16 0 3-1 1 0 4-2 5 0 4-1 1-3 18-1 1-1 12-2 7 0 7-1 1 0 8-1 1-2 35M945 1722l3-7 0-4 2-4 1-8 3-10 1-10 1-1 2-23 1-1 1-33 1-1 0-36-1-1-1-43-1-1-1-27-1-1-1-25-1-1-2-37-1-1 0-12-1-1 0-14-1-1 0-16-1-1-1-66M582 1740l3-14 1-1 0-4 1 0 4-24 1-1 0-5 1-1 1-11 2-6 0-5 1-1 0-5 2-7 0-6 2-6 0-6 2-6 2-16 2-6 0-5 1-1 4-24 2-5 0-4 1-1 7-31 14-44 2-3 1-5 2-3 1-5 3-5 2-7 11-22 0-2 11-18 1-4 16-25 2-1 15-21 23-25 9-7 2-3 5-3 2-3 4-2 5-5 9-5 1-2 18-10 1-2 25-12 8-2 3-2 15-5 4 0 13-4 5 0 7-2 7 0 1-1 12 0 1-1 21 0 2 1 10 0 2 1 13 1 1 1 14 2 11 4 7 1 3 2 5 1 10 5 7 2 20 10 23 15 26 21 2 3 19 18 4 6 4 3 6 9 3 2 22 32 0 2 15 25 1 4 4 6 1 4 4 7 0 2 4 7 0 2 3 5 0 3 3 5 1 5 3 6M392 1560l1-7 2-4 4-17 8-24 5-11 1-5 7-14 0-3 4-6 6-15 7-11 1-4 17-27 24-32 4-3 3-5 1 0 14-15 10-8 2-3 8-5 2-3 25-17 33-17 25-9 7-1 8-3 4 0 1-1 4 0 7-2 6 0 1-1 8 0 1-1 38 0 2 1 20 2 1 1 4 0 1 1 4 0 1 1 11 2 12 5 3 0 6 3 2 0 29 14 31 20 2 3 4 2 14 12 2 3 18 17 3 5 3 2 3 5 6 6 7 11 2 1 3 4 14 22 20 38 5 14 4 7 1 5 7 16 0 3 2 3 1 6 3 6 2 10 3 7 0 3 2 4 0 4 2 4 0 4 2 4 0 4 2 4 3 17 1 1 21 116M1104 1578l-1-23-1-2 0-9-1-1-1-15-1-1-2-18-1-1 0-4-1-1 0-4-4-20-2-5 0-4-3-9-1-8-3-8-4-18-3-7-1-7-2-3-1-7-2-3-3-13-2-3-1-7-2-3 0-3-10-28 0-3-2-3 0-3-2-3-5-15 0-3-2-3 0-3-4-9 0-3-7-19-1-6-3-7 0-3-2-3-2-10-4-10 0-3-6-18 0-4-3-8-7-33-2-5 0-5-2-5-2-18-2-7 0-8-1-1 0-8-1-1 0-13-1-1 0-33 1-1 0-11 1-1 1-9M471 1072l10 5 0 1 3 1 0 1 4 2 1 2 9 6 0 1 14 13 4 6 2 1 13 19 1 4 1 0 3 5 1 4 1 0 1 2 0 2 6 12 1 5 2 3 4 12 0 3 2 4 0 3 3 9 0 4 2 5 1 10 1 1 0 6 2 7 1 19 1 1 0 12 1 1 0 65-1 1 0 17-1 2 0 13-1 1 0 11-1 2 0 9-1 2-2 27-1 1 0 9-1 1 0 8-1 1-2 25-1 1 0 8-1 1-2 25-1 1-2 28-1 2-1 22-1 1 0 14-1 2 0 19-1 1 0 40 1 1 0 16 1 2 1 19 6 34 1 1 3 15 7 19M1104 1598l0-29-1-1M1101 1603l0-40-1-1 0-12-1-1 0-8-1-1 0-8-2-7 0-7-1-1-1-10-1-1-5-29-2-5 0-4-1-1-6-27-3-8 0-3-3-7-1-7-3-7 0-3-3-7-4-16-30-91-1-6-3-7 0-3-2-3 0-3-2-4 0-3-2-3 0-3-2-4-5-21-6-18 0-4-2-4 0-4-2-4 0-4-1-1-3-17-2-5 0-5-2-6 0-5-1-1-1-11-1-1 0-6-1-1-1-18-1-1 0-15-1-1 1-38 1-1 0-8 1 0 0-6 1-2M473 1070l19 13 0 1 6 4 0 1 14 13 6 9 2 1 1 3 1 0 1 3 1 0 1 3 1 0 1 3 1 0 3 5 1 4 1 0 2 5 1 0 4 11 2 2 1 5 5 11 0 3 3 6 0 3 2 4 2 12 2 5 3 22 1 1 0 7 1 1 0 8 1 2 0 10 1 1 0 18 1 1-1 63-1 1 0 13-1 1 0 13-1 1-2 31-1 1 0 8-1 1 0 7-1 1-1 17-1 1-2 25-1 1-4 41-1 1-1 18-1 1-2 33-1 1 0 15-1 1 0 23-1 1 1 48 1 1 0 11 1 1 1 16 1 1 1 11 1 1 0 4 6 26 3 7 0 3 4 8M1178 1367l-4-8 0-2-2-2-1-4-2-2 0-2-6-12-2-2-1-4-2-2 0-2-2-2-2-5-2-2 0-2-14-23 0-2-3-3-2-5-12-18 0-2-3-3-8-14-9-12-2-5-3-3-1-3-5-6-1-3-5-6-9-15-6-7 0-2-15-20-3-6-7-9-1-3-8-10-3-6-10-13-2-5-13-18 0-2-24-36-1-4-8-12-6-12M392 1176l21-5 1-1 20-2 1-1 35 0 1 1 8 0 1 1 5 0 5 2 4 0 1 1 11 2 3 2 13 4 7 4 4 1 0 1 4 2 2 0 0 1 10 5 1 2 3 1 0 1 3 1 12 9 3 4 3 1 0 1 12 11 4 6 4 3 2 4 2 1 1 3 2 1 2 4 1 0 5 7 8 14 1 0 9 19 1 0 5 10 0 2 10 23 8 24 0 3 4 12 3 16 3 9 0 5 2 6 0 5 1 1 2 11 0 6 2 7 2 23 1 1 0 7 1 1 0 9 1 1 0 11 1 1 0 11 1 2 0 14 1 1 0 16 1 1 3 83 1 1 0 15 1 1 0 14 1 1 2 29 1 1 0 6 1 1 0 7 2 6 0 6 1 1 2 15 1 1 3 15 8 25 6 14M545 1722l2-7 0-4 1-1 0-5 1-1 2-14 1-1 1-10 1-1 0-6 2-6 0-5 1-1 1-11 1-1 1-10 2-6 0-5 2-6 0-5 1-1 3-19 1-1 1-8 3-10 0-4 2-4 3-15 2-4 0-4 18-54 4-7 1-5 9-18 1-4 4-6 7-15 21-33 5-7 2-1 8-12 1 0 6-8 7-6 4-6 10-8 6-7 5-3 2-3 8-5 1-2 4-3 9-5 1-2 15-9 33-16 6-1 3-2 12-4 4 0 4-2 18-3 1-1 17-1 1-1 36 0 1 1 9 0 1 1 6 0 1 1 14 2 1 1 11 2 33 12 25 13 30 20 2 3 5 3 2 3 5 3 3 4 10 8 4 6 1 0 4 5 3 2 4 6 3 2 9 13 2 1 3 4 16 24 3 5 0 2 9 14 1 4 6 10 0 2 13 27 0 3 3 5 0 3 3 5 0 3 2 3 3 9 0 3 2 3 7 25M556 1009l-2 17-1 1 0 4-2 5 0 4-1 1-2 11-2 4 0 3-3 7 0 3-3 7-1 6-2 3-10 30-3 5-4 12-7 14 0 2-8 17 0 2-3 4-9 20 0 2-2 2-2 6-4 6-3 9-2 2-2 6-3 4-2 6-2 2-3 9-2 2-2 6-6 10 0 2-6 11 0 2-3 4-1 4-2 2 0 2-11 22 0 2-3 4-3 9-2 2 0 2-10 21 0 2-18 43-9 28-2 3 0 3-4 10-1 7-2 3 0 3-6 21 0 4-2 5-4 25M900 1731l4-10 0-4 2-4 2-13 2-5 0-6 1-1 1-11 1-1 0-7 1-1 0-8 1-1 0-10 1-1 1-48 1-1-2-114-1-2 0-77 1-2 0-21 1-2 1-25 1-1 1-18 1-1 2-20 1-1 3-20 1-1 1-8 3-8 0-4 2-4 0-3 6-16 0-3 3-5 6-17 4-6 0-2 3-6 2-2 6-12 1 0 2-5 1 0 11-16 2-1 1-3 1 0 19-20 3-1 0-1 6-5 17-10 0-1 24-11 25-7M713 1580l2 33 1 2 0 11 1 1 0 10 1 1 0 11 1 1 1 16 1 1 0 7 1 1 0 7 1 1 0 5 2 7 0 6 1 1 0 4 1 1 0 4 2 5 3 17 11 32M1169 1292l-23-36-4-4 0-2-6-7-1-3-4-4-1-3-7-8-1-3-4-4-14-20-5-5-5-8-20-24-1-3-15-17-1-3-24-28 0-2-29-35-34-45M374 1214l4-1 20-10 3 0 3-2 12-4 3 0 13-4 4 0 1-1 12-1 1-1 9 0 1-1 27 0 1 1 16 1 1 1 9 1 21 6 27 12 2 2 5 2 0 1 5 2 1 2 3 1 10 7 1 2 3 1 3 4 6 4 0 1 16 15 2 4 2 1 12 15 1 3 11 15 3 7 5 7 17 36 17 51 0 3 3 9 0 4 2 4 0 4 3 10 1 9 1 1 0 5 2 6 2 18 2 7 0 6 1 1 1 16 1 1 0 7 1 1 0 9 1 1 0 9 1 1 2 35 1 1 0 12 1 1 0 12 1 2M475 1067l11 7 5 4 2 3 3 1 0 1 12 11 8 11 1 0 1 3 1 0 3 4 7 13 1 0 9 18 1 5 1 0 1 2 1 5 3 6 0 3 3 7 0 3 2 4 0 3 3 9 1 10 1 1 1 10 1 1 0 6 1 1 1 19 1 1 0 15 1 1 0 53-1 1 0 19-1 1 0 12-1 1 0 11-1 1 0 10-1 1 0 9-1 1 0 8-1 1 0 9-1 1-2 24-1 1 0 6-1 1 0 8-1 1-3 30-1 1 0 6-1 2 0 7-1 1 0 8-1 1 0 6-1 1 0 9-1 1-1 18-1 1 0 8-1 2 0 11-1 1-1 33-1 1 0 43 1 1 0 16 1 1 1 17 3 20 1 1 0 4 3 10 0 4 2 4 6 22M1096 1610l1-26-1-1 0-21-1-1-1-20-1-1 0-7-1-1 0-6-1-2 0-5-1-1 0-5-1-1 0-5-6-30-2-5 0-4-2-5-1-8-4-12-1-7-3-8-1-7-5-14-1-7-2-3-4-17-5-13-3-13-10-29-1-6-3-7 0-3-3-7 0-3-2-3 0-3-3-7-2-10-2-3-5-21-6-18 0-4-3-8 0-4-2-4 0-4-2-4 0-4-2-5 0-4-1-1-1-8-1-1 0-5-2-6 0-5-2-6 0-6-1-1-1-13-1-1 0-9-1-1 0-10-1-1 0-45 1-1 0-10 1-1 0-6 1-1 1-9M611 1250l2 0 4 2 0 1 11 5 0 1 7 3 3 3 12 7 1 2 14 10 0 1 24 23 3 5 2 1 3 5 2 1 2 4 4 4 13 19 13 24 2 2 14 30 17 47 0 3 6 18 0 4 3 8 0 4 5 18 2 15 2 5 0 5 2 7 0 5 1 1 0 5 1 1 0 5 1 1 3 27 1 1 0 7 1 1 0 6 1 1 2 24 1 1 0 7 1 1 0 7 1 1 0 6 1 1 0 7 1 1 0 7 1 1 3 27 1 1 0 5 1 1 4 24 2 5 0 4 6 20M348 1319l2-3 6-5 10-11 7-5 3-4 9-6 2-3 21-14 17-9 2-2 19-9 2 0 11-5 25-7 16-2 1-1 8 0 1-1 36 0 1 1 8 0 1 1 6 0 1 1 9 1 12 4 3 0 14 6 5 1 12 6M641 1760l7-21 1-8 1-1 1-8 3-10 0-4 1-1 0-4 1-1 0-5 1-1 1-10 1-1 0-6 1-1 0-5 2-7 0-6 2-7 0-6 2-7 0-6 1-1 0-6 2-7 0-6 1-1 3-23 1-1 2-16 1-1 0-4 1-1 0-4 1-1 0-4 3-10 2-13 14-51 2-3 0-3 3-6 0-3 9-21 1-5 5-9 7-17 9-15 4-9 10-16 2-1 10-16 5-5 2-4 3-2 9-12 1 0 15-16 5-3 5-6 4-2 5-5 17-12 5-2 5-4 31-15 22-7 3 0 9-3 4 0 1-1 12-1 1-1 9 0 2-1 28 0 1 1 10 0 1 1 12 1 1 1 4 0 1 1 19 4 9 4 3 0 6 3 2 0 27 13 20 12 4 4 11 7 2 3 9 6 0 1 8 6 0 1 16 15 5 7 4 3 24 32 15 24M581 996l-3 4-10 8-16 17-10 8-9 10-24 21-12 13-39 36-56 57-17 19M725 1767l2-6 1 0 3-9 0-3 4-10 0-3 3-9 0-4 2-5 2-14 1-1 0-5 1-1 0-5 1-1 0-5 1-1 0-5 1-2 0-6 1-1 1-14 1-1 0-7 1-1 3-35 1-1 1-16 1-1 0-7 1-1 0-9 1-1 0-7 1-1 0-6 1-1 2-21 1-1 1-12 1-1 0-5 1-1 0-5 1-1 0-5 2-6 1-10 2-5 0-4 4-14 0-4 2-4 0-4 3-8 0-4 7-20 0-3 2-3 1-6 2-3 6-18 16-35 2-2 4-9 5-7 5-10 4-6 1 0 6-10 2-1 4-7 1 0 4-6 2-1 2-4 1 0 21-22 4-2 2-3 5-3 4-4 10-6 1-2 27-15 34-12 4 0 1-1 8-1 1-1 5 0 1-1 23-1 1-1 24 1 1 1 13 1 1 1 18 3 22 7 25 12 2 0 16 9 7 6 21 14 2 3 3 2M568 1002l-9 8-7 4-11 10-21 15-6 6-8 5-6 6-9 6-7 7-2 0-7 7-10 7-7 7-3 1-10 10-2 0-3 3M686 1766l4-9 2-10 1 0 1-3 0-3 4-13 0-4 2-5 3-19 1-1 2-18 1-1 0-5 1-1 0-5 1-2 0-6 1-1 0-6 1-1 0-6 1-1 0-7 1-1 1-15 2-7 0-7 1-1 0-6 1-1 2-21 1-1 0-5 1-1 0-6 1-1 0-5 1-1 1-10 1-1 0-5 2-6 0-5 1-1 3-18 2-5 1-9 2-4 0-4 2-4 0-3 2-4 0-3 4-11 2-10 3-6 0-3 2-3 4-14 3-5 0-3 4-7 2-7 4-7 0-2 6-10 4-10 2-2 14-25 2-1 8-13 4-4 2-4 3-2 7-10 3-2 3-5 1 0 6-7 8-6 5-6 4-2 1-2 4-2 0-1 5-3 1-2 6-3 1-2 8-4 3-3 17-9 2 0 6-3 0-1 19-7 3 0 4-2 3 0 4-2 4 0 5-2 5 0 7-2 9 0 1-1 35 0 2 1 7 0 1 1 5 0 1 1 6 0 5 2 4 0 4 2 3 0 19 6 10 5 7 2 18 9 29 19 4 3 2 3 9 6 3 4 6 4 1 2 18 17 9 11M616 1754l2-10 4-12 0-3 1-1 3-17 1-1 0-5 2-6 0-5 1-1 0-5 2-6 2-18 1-1 0-5 1-1 0-5 2-7 0-6 1-1 0-5 2-7 0-6 2-6 3-22 1-1 2-15 1-1 1-8 3-10 0-4 2-5 0-4 2-4 0-4 2-4 0-3 4-12 0-3 2-4 0-3 3-6 0-3 6-18 6-13 0-3 4-7 1-5 9-19 2-2 0-2 4-8 6-9 1-4 6-10 6-8 3-6 2-1 9-14 3-2 5-8 2-1 4-6 1 0 21-22 8-6 2-3 7-4 1-2 7-4 1-2 6-3 11-8 19-9 4-3 27-10 3 0 12-4 9-1 1-1 12-1 1-1 9 0 1-1 29 0 1 1 18 1 1 1 5 0 5 2 9 1 28 9 34 16 6 5 17 10 4 4 8 5 2 3 5 3 3 4 6 4 0 1 16 15 4 6 4 3 10 14 3 2 14 20 2 5 8 11 3 7 5 7 1 4 3 4 1 4 6 11M1067 1643l1-19 1-1 0-53-1-1-1-22-1-2 0-7-1-1 0-7-1-1-2-19-1-1-2-16-1-1-5-29-2-5-1-9-2-5 0-4-3-8 0-4-7-25 0-4-7-23 0-4-4-12-2-12-2-4 0-3-1-1 0-3-8-29 0-4-4-13 0-4-3-9 0-4-1-1 0-4-1-1-3-18-1-1 0-5-1-1 0-4-2-6-3-26-2-7 0-8-1-1-1-23-1-2 0-44 1-1 0-10 1-1 0-8 1-1 0-6 1-1 2-14 9-27M491 1054l8 7 4 6 1 0 4 5 2 4 1 0 1 3 1 0 1 3 1 0 1 3 1 0 1 3 1 0 1 4 1 0 3 5 0 2 2 2 1 4 1 0 4 12 1 0 1 6 2 3 1 6 3 7 1 8 3 10 2 18 1 1 0 7 1 1 1 31 1 2-1 44-1 1 0 13-1 1 0 11-1 1-1 17-1 1 0 7-1 1 0 8-1 1 0 6-1 1 0 6-2 8-2 18-1 1-2 18-1 1 0 5-1 1 0 5-2 6-1 12-2 6 0 5-1 1 0 5-2 6-1 12-2 6-3 24-1 1 0 5-2 7 0 6-4 23 0 7-1 1 0 8-1 1-1 20-1 1 0 12-1 1-1 48 1 1 1 29 1 1 2 22 1 1 2 14 6 20"/>
<path stroke="url(#g1_R7)" d="M1109 1155l-14-11-11-7-8-7-6-3-11-9-2 0-24-18-2 0-7-6-6-3-6-5-3-1-6-5-27-17-3-3-14-8-15-11-17-10-21-15-11-6-19-14-2 0-3-3-3-1-3-3-26-17M350 1435l12-31 13-27 2-2 0-2 15-25 10-13 0-2 9-10 0-2 15-17 33-32 4-2 5-5 4-2 4-4 3-1 4-4 2 0 3-3 8-5 2 0 3-3 2 0 2-2 30-14 8-2 6-3 3 0 3-2 3 0 13-4 4 0 1-1 16-2 1-1 24-1 1-1 28 1 1 1 8 0 17 3 1 1 4 0 1 1 11 2 3 2 7 1 8 4 8 2 9 5 4 1 2 2 4 1 2 2 4 1 15 9 6 5 3 1 25 20 23 23 20 24 1 3 4 4 10 17 3 3 0 2 3 3 0 2 8 13 0 2 2 2 12 26 10 29 3 6 0 3 6 18 1 7 2 4 1 9 2 5 1 9 1 1 1 9 1 1 1 12 1 1 2 13 0 7 1 1 0 7 1 2 1 21 1 1 1 43 1 2 0 47-1 1-1 70M985 1706l0-8 1-1 0-35-1-1 0-15-1-1-1-19-1-1 0-7-1-1-1-12-1-1 0-6-2-6-1-10-1-1-1-10-1-1-3-19-3-10 0-4-3-9-1-9-3-9-2-12-3-9-1-8-1-1-11-50-2-5-1-8-2-5 0-5-2-5-7-38-1-1-6-40-1-1-2-22-1-1-2-29-1-2 0-16-1-1 0-43 1-1 1-24 1-1 1-14 1-1 3-19 2-4 0-4 5-14 0-3 6-13 1-5 8-16 3-3 5-10 18-23 16-14M555 1010l1 2 3 2 6 10 2 1 15 27 0 2 7 16 0 3 3 7 0 3 3 9 4 23 1 20 1 1 0 42-1 1 0 13-1 2 0 9-1 1-1 15-1 1-4 30-1 1 0 4-2 6 0 4-1 1 0 5-4 13-1 9-3 8-3 16-2 4-1 7-2 4-1 7-2 4 0 3-9 31-6 17 0 3-3 7 0 3-3 7 0 3-3 7-3 13-3 7 0 3-8 23 0 3-2 4 0 3-2 4 0 3-8 25-2 11-2 4 0 3-1 1 0 3-1 1 0 3-1 1-5 21 0 4-2 5 0 4-2 6-2 16-2 7-2 21-1 2 0 9-1 2 0 14-1 2 0 28 1 1 0 6M754 1379l1 7 2 5 0 5 2 5 5 33 1 16 1 1 0 10 1 2 0 13 1 1 0 19 1 1 0 66-1 1 0 25-1 1-1 36-1 1 0 16-1 1 0 16-1 1-1 54-1 2 2 46M1120 1172l-27-22-3-1-17-14-11-7-12-10-6-3-12-10-6-3-21-16-6-3-30-22-3-1-16-12-6-3-7-6-3-1-3-3-17-11-3-3-3-1-24-18-3-1-4-4-2 0-4-4-28-20M348 1417l3-9 4-7 0-2 2-2 1-5 2-2 0-2 3-4 2-6 2-2 4-9 2-2 5-10 3-3 0-2 21-30 24-27 16-16 31-24 26-16 4-1 2-2 2 0 2-2 4-1 7-4 25-9 22-5 1-1 4 0 1-1 6 0 1-1 14-1 2-1 40 0 2 1 7 0 2 1 5 0 1 1 11 1 1 1 15 3 10 4 3 0 8 4 3 0 3 2 2 0 2 2 4 1 16 8 2 2 2 0 16 11 3 1 25 20 21 20 0 2 17 18 0 2 5 5 7 10 1 3 4 4 0 2 3 3 5 10 5 7 0 2 2 2 10 20 0 2 2 2 0 2 5 10 10 27 1 6 7 21 6 28 1 1 3 20 1 1 1 12 1 1 2 23 1 1 0 9 1 1 1 27 1 1 1 37M671 973l-42 46-28 27-21 22-16 14-10 11-13 11-9 10-12 10-7 8-11 9-17 18-11 9-1 2-42 41-18 20-7 6-20 24-6 5-30 38M836 1745l0-15 1-2-1-57-1-1 0-14-1-1-1-23-1-1 0-10-1-2 0-8-1-1 0-10-1-1 0-10-1-1-2-30-1-2 0-11-1-1 0-10-1-2 0-13-1-1-1-37-1-2 0-63 1-2 1-30 1-2 0-8 1-1 0-8 1-1 2-20 1-1 1-10 2-6 0-5 3-9 1-8 2-4 4-17 5-12 0-3 11-25 0-2 2-2 2-6 4-6 0-2 20-31 6-8 4-3 3-5 4-3 14-15 5-3 2-3 11-8 31-18 7-2 5-3 3 0 3-2 13-3 4-2 32-5 31 0 2 1 9 0M556 1010l4 6 2 1 1 3 9 12 8 15 0 2 7 15 4 12 1 7 2 4 0 4 1 1 1 9 2 6 1 16 1 1 0 13 1 1 0 35-1 1-1 25-1 1-1 16-1 1 0 6-1 1-1 12-1 1 0 5-2 6-1 10-2 5 0 5-3 9-1 9-1 1-7 31-2 4-1 7-4 11 0 3-6 19 0 3-2 4 0 3-3 7 0 3-6 16 0 3-3 7-3 13-4 10-3 13-11 33 0 3-8 25-1 7-2 4-1 7-2 4 0 3-6 21-1 9-3 9-1 10-2 5 0 5-3 13 0 6-3 17 0 9-1 1 0 15-1 1 0 29 1 1 0 5M1109 1591l-4-28-1-1-7-32-7-21 0-3-17-48-6-13-6-17-6-12-2-7-2-2-1-5-2-2 0-2-3-5-7-18-5-9-3-9-4-6-1-5-4-6-3-9-5-9-4-11-20-43 0-2-6-12-2-7-2-2-3-10-2-2-3-10-5-10 0-2-6-14-1-6-5-11-4-12 0-3-5-12-1-7-3-7 0-3-7-25-2-14-2-6 0-5-1-1-1-15-1-1 0-9-1-1 0-42 1-1 1-12M378 1206l4-2 4-4 2 0 3-3 15-9 2 0 2-2 10-5 2 0 2-2 19-8 12-4 3 0 7-3 12-2 5-2 6 0 1-1 13-1 1-1 27-1 1 1 23 1 1 1 16 2 24 7 3 2 5 1 5 3 4 1 7 4 2 0 12 8 2 0 19 13 21 18 4 5 7 6 18 22 3 6 6 7 2 5 3 3 2 3 0 2 4 5 0 2 2 2 12 24 2 7 2 2 7 18 0 3 4 9 0 3 5 13 1 7 3 8 2 13 1 1 2 13 1 1 0 5 1 1 1 10 1 1 0 6 3 16 0 9 1 1 0 9 1 1 0 12 1 1 0 14 1 2 0 37 1 1 0 10-1 2-1 64-1 1 0 19-1 1-1 36-1 1 0 21-1 2 0 60 1 1 0 8M1108 1155l-21-17-2 0-16-13-2 0-11-9-3-1-23-17-2 0-7-6-6-3-18-13-3-1-7-6-2 0-15-11-3-1-17-12-3-1-3-3-6-3-3-3-2 0-7-6-2 0-21-15-2 0-13-10-2 0-19-14-2 0-4-4-2 0-4-4-3-1-3-3-10-6"/>
<path stroke="url(#g1_G6)" d="M396 1169l6-2 5 0 5-2 4 0 1-1 6 0 1-1 9 0 1-1 29 0 1 1 8 0 1 1 6 0 1 1 5 0 5 2 4 0 28 10 4 3 2 0 18 10 1 2 3 1 0 1 3 1 1 2 3 1 1 2 3 1 3 4 3 1 0 1 19 18 7 10 2 1 1 3 2 1 1 3 9 12 2 5 1 0 6 12 2 2 13 28 0 2 2 3 0 3 4 8 2 9 4 9 3 14 2 4 0 4 2 4 0 4 1 1 4 23 1 1 0 4 1 1 0 5 1 1 0 5 1 1 0 6 1 1 0 6 1 1 0 6 1 2 0 7 1 1 1 17 1 1 0 11 1 2 0 11 1 1 1 32 1 1 0 20 1 2 0 24 1 1 0 24 1 1 0 21 1 1 0 16 1 1 0 14 1 1 1 22 1 1 2 22 1 1 0 5 1 1 0 5 1 1 0 5 2 5 1 9 1 1 2 11 2 4 0 3 6 18 6 14M1178 1381l-6-15-6-11-1-4-2-2 0-2-3-6-2-2-1-4-2-2 0-2-3-4 0-2-6-9 0-2-7-11 0-2-3-3-2-5-2-2 0-2-4-5 0-2-4-5-5-10-3-3-2-5-3-3 0-2-5-6 0-2-5-6 0-2-5-6 0-2-11-15 0-2-3-3-3-6-13-18 0-2-3-3-5-9-15-21 0-2-8-10-2-5-7-9-2-5-11-15 0-2-13-19-1-4-15-23-16-30M574 999l-19 38-2 2-12 22-4 5-1 4-16 24-2 5-5 6-6 9 0 2-5 6-7 12-17 24 0 2-6 7-3 6-13 18 0 2-12 16-8 14-3 3-8 14-3 3-2 5-3 3-2 5-3 3-2 5-3 3 0 2-4 5-5 10-3 3 0 2-4 5 0 2-2 2-2 5-6 9 0 2-6 9-1 4-2 2-11 22 0 2-5 8-2 7-4 7-5 13M831 1747l4-12 0-3 2-4 0-4 5-18 0-5 1-1 0-5 1-1 1-11 1-1 2-24 1-1 1-23 1-1 0-14 1-1 0-18 1-2 0-21 1-1 0-24 1-1 0-22 1-1 1-34 1-1 0-14 1-1 1-21 1-1 0-9 1-1 3-30 1-1 3-23 3-10 3-18 2-4 0-4 2-4 3-14 4-9 0-3 3-6 3-11 13-27 0-2 19-32 2-1 6-10 2-1 9-12 1 0 11-12 8-6 1-2 3-1 1-2 8-5 1-2 5-2 0-1 10-6 10-5 2 0 0-1 2-1 5-1 2-2 9-2 0-1 6-2 3 0 9-3 4 0 1-1 14-1 1-1 37 0 1 1 7 0 1 1 11 1M345 1358l21-26 3-2 22-23 33-25 15-8 2-2 27-13 24-8 3 0 9-3 4 0 1-1 4 0 1-1 15-1 1-1 38 0 1 1 20 2 1 1 15 3 23 8 2 1 0 1 2 0 17 8 0 1 10 5 3 3 3 1 3 2 0 1 14 9 2 3 6 4 2 3 8 6 0 1 11 10 8 11 3 2 2 4 3 2 6 10 2 1 8 12 14 25 2 2 5 10 0 2 7 12 0 3 5 9 8 23 2 3 0 3 3 6 0 3 9 27 0 3 3 9 0 4 4 12 5 29 1 1 3 22 1 1 0 5 1 1 0 6 1 1 1 11 1 1 0 6 1 1 0 6 1 1 0 7 1 1 1 14 2 7 0 7 1 1 0 7 2 7 2 20 1 1 0 5 1 1 0 5 1 1 0 5 1 1 0 5 1 1 3 19 6 21M675 1765l1 0 5-15 1-7 3-7 1-8 3-10 0-4 1-1 0-4 1-1 0-4 1-1 0-4 1-1 0-5 1-1 0-5 2-7 0-6 1-1 0-6 2-7 2-21 1-1 2-22 1-1 3-26 1-1 0-6 1-1 0-5 1-1 1-11 2-6 0-5 1-1 0-5 2-5 2-15 2-5 1-9 2-4 0-4 2-4 0-4 16-52 17-41 5-8 4-10 18-30 2-1 8-13 3-2 2-4 11-13 3-2 6-8 12-10 2-3 6-4 2-3 21-15 10-5 0-1 15-7 0-1 14-6 25-8 4 0 1-1 8-1 1-1 5 0 1-1 20-1 1-1 17 0 1 1 12 0 1 1 14 1 14 4 8 1 12 4 3 2 8 2 29 14 2 2 10 5 6 4 1 2 14 9 5 5 5 3 3 4 6 4 2 3 18 17 8 11 4 3 6 8M557 1008l-3 3-7 4-5 5-7 4-4 4-3 1-9 8-2 0-5 5-8 5-5 5-2 0-5 5-8 5-5 5-3 1-6 6-5 3M346 1406l27-41 4-3 10-14 5-4 4-6 17-15 3-4 6-4 2-3 11-7 2-3 22-13 3-2 0-1 13-7 5-1 19-9 15-4 4-2 17-3 1-1 4 0 1-1 16-1 1-1 32 0 1 1 16 1 1 1 9 1 1 1 19 4 19 7 5 3 2 0 6 4 15 7 3 3 8 4 3 3 7 4 1 2 4 2 12 10 1 2 9 7 0 1 8 7 3 5 3 2 11 13 5 8 2 1 23 36 20 40 2 7 6 13 1 5 2 3 0 3 2 3 6 18 0 3 6 18 1 7 5 17 0 4 3 9 0 5 3 10 0 5 1 1 1 9 1 1 0 5 1 1 0 5 1 1 1 11 2 7 0 6 1 1 0 5 2 7 0 6 1 1 0 6 1 2 0 5 1 1 0 6 2 7 2 18 1 1 1 12 1 1 1 10 1 1 0 4 1 1 0 4 1 1 0 4 1 1 0 4 1 1 3 15M467 1661l4-27 2-5 0-5 1-1 3-19 2-5 0-4 2-5 0-4 1-1 5-23 2-4 1-7 2-4 0-3 3-6 0-3 4-12 2-3 0-3 2-3 2-8 11-24 2-7 2-2 11-23 5-7 1-4 15-23 7-8 7-11 1 0 5-7 4-3 3-5 2-1 18-19 5-3 1-2 6-4 2-3 11-7 1-2 22-13 3-3 34-16 6-1 12-5 3 0 9-3 4 0 5-2 10-1 1-1 18-1 1-1 31 0 1 1 18 1 1 1 19 3 8 3 4 0 9 4 11 3 31 15 26 16 2 3 7 4 2 3 8 5 3 4 9 7 1 2 9 8 4 6 4 3 9 12 6 6 17 25 15 25 2 6 2 2 15 32 0 3 4 7 2 8 2 3 0 3 2 3 7 21 2 10 3 7 0 4 2 4 0 3 4 13 0 4 2 5 0 4 2 5 0 4 2 5 0 5 2 5 0 5 1 1 1 10 2 7M405 1583l0-4 1-1 5-23 2-4 4-17 6-18 2-3 0-3 2-3 4-13 4-7 0-3 15-31 2-2 2-6 10-15 1-4 25-35 1 0 5-7 4-3 3-5 3-2 17-18 6-4 2-3 5-3 5-5 7-4 1-2 24-15 26-13 28-10 4 0 4-2 13-2 1-1 12-1 1-1 8 0 1-1 39 0 1 1 21 2 1 1 4 0 1 1 15 3 4 2 3 0 14 6 8 2 26 13 26 17 1 2 8 5 13 11 3 4 18 17 13 15 5 8 3 2 16 24 12 20 0 2 4 6 16 34 1 5 3 5 5 16 2 3 0 3 2 3 2 9 2 3 0 3 7 22 0 3 4 13 0 4 2 5 0 4 2 5 0 4 2 5 17 96M412 1215l-5 5 0 2-4 4-5 8-4 4-7 12-4 4-7 12-13 18 0 2-8 11 0 2-6 9M787 1757l5-12 0-3 2-4 0-3 4-12 0-4 2-5 1-10 2-6 0-5 1-1 1-12 1-1 2-24 1-1 0-9 1-1 0-10 1-1 0-11 1-1 0-12 1-1 1-25 1-2 0-11 1-2 0-12 1-1 0-12 1-1 3-40 1-1 2-22 1-1 1-13 1-1 0-5 1-1 0-5 1-1 0-5 2-6 1-10 2-5 1-9 2-4 0-4 1-1 2-11 2-4 1-7 4-10 4-15 4-8 0-3 6-12 0-3 17-34 2-3 1 0 5-10 3-3 3-6 2-1 3-6 2-1 2-4 2-1 2-4 2-1 4-6 2-1 17-18 3-1 1-2 5-4 17-12 5-2 0-1 9-5 4-1 0-1 2-1 7-2 2-2 11-3 0-1 3 0 4-2 3 0 9-3 9-1 1-1 20-1 1-1 17 0 1 1 19 1 1 1 5 0 10 3 4 0 14 4 3 2 6 1 13 6M581 996l-12 18-3 2-4 7-19 26-3 2-21 28-13 15-4 7-24 28-4 5-1 3-30 36-1 3-10 11 0 2-10 11 0 2-5 5-12 17M534 1093l1 9 1 1 0 6 1 1 0 10 1 1 0 49-1 1 0 12-1 2 0 8-1 2 0 6-1 1-2 21-1 1 0 5-1 1 0 5-1 1-1 10-2 6 0 5-1 1-3 18-4 14 0 4-2 5 0 4-2 4 0 4-1 1-12 51-3 8-1 8-4 12-1 8-3 8-2 12-3 8 0 4-4 14 0 4-4 13 0 4-1 1 0 4-1 1 0 4-1 1 0 4-1 1 0 4-2 6-3 23-1 1-1 13-1 1-2 26-1 1 0 13-1 1 0 52 1 2 1 20 1 1 0 6 2 7M1015 1687l5-24 1-15 1-1 0-10 1-1 0-18 1-2-1-47-1-1-1-24-1-1-1-17-1-1-3-29-1-1 0-5-1-1-2-18-1-1 0-5-2-7-1-12-2-6-1-11-2-6-3-23-2-6 0-5-1-1 0-5-1-1 0-5-2-7-1-11-1-1 0-6-1-1 0-5-1-1-1-13-1-1 0-6-1-1 0-6-1-2 0-7-1-1-2-26-1-2 0-10-1-1 0-16-1-1 0-53 1-1 0-12 1-1 0-8 1-2 1-12 1-1 0-5 1-1 1-9 1 0 3-15 6-18 2-2 1-5 1 0 0-2 6-12 1 0 1-4 1 0 5-10 1 0 8-11M514 1035l9 18 0 2 2 3 0 3 1 0 1 3 0 3 1 0 1 3 0 3 2 4 0 4 2 5 2 14"/>
<path stroke="url(#g1_R6)" d="M867 979l-20-4-9-3-8-1-9-3-13-2-1-1M442 1634l1-41 1-2 0-11 1-2 2-26 1-1 0-6 2-7 1-11 1-1 0-4 2-6 0-5 2-5 3-16 7-21 0-3 11-31 10-21 0-2 4-6 0-2 2-2 6-13 9-15 20-29 6-6 1-3 30-31 21-18 2 0 5-5 20-13 29-15 30-11 7-1 7-3 14-2 1-1 5 0 9-2 8 0 1-1 43 0 32 5 16 4 4 2 3 0 6 3 8 2 27 13 2 0 20 12 3 3 2 0 3 3 7 4 5 5 3 1 8 8 4 2 28 28 4 6 7 7 1 3 6 6 0 2 5 5 0 2 8 10 0 2 3 3 9 15 8 17 2 2 0 2 5 9 2 7 2 2 3 10 3 5 4 11 0 3 4 10 0 3 3 7 4 18 3 8 0 5 2 5 5 28 2 21 1 1 0 8 1 1 0 10 1 1 1 33 1 1 0 43M743 961l-1 1-7 0-1 1-44 5M568 1734l0-3-1-1 0-34-1-1 0-91 1-1 0-18 1-2 0-11 1-1 1-19 1-1 0-7 4-27 1-1 0-5 2-5 0-5 2-5 2-13 2-4 0-3 4-12 0-3 3-7 0-3 14-38 9-18 0-2 2-2 6-13 2-2 0-2 3-3 0-2 8-13 8-12 4-4 1-3 5-5 0-2 24-27 11-11 3-1 15-14 3-1 5-5 6-3 4-4 20-11 2-2 2 0 2-2 4-1 2-2 9-3 2-2 5-2 8-2 6-3 3 0 3-2 3 0 17-5 9-1 1-1 6 0 1-1 19-1 1-1 39 1 1 1 7 0 1 1 5 0 7 2 4 0 1 1 4 0 30 9 11 5 2 0 2 2 4 1 7 4 2 0 32 19 11 9 3 1 7 7 3 1 30 29 2 4 14 15 0 2 5 5 2 4 6 7 0 2 4 4 0 2 8 11 17 32 12 28 14 42 7 33 1 1M710 965l-38 19-2 0-2 2-2 0-2 2-14 7-2 0-2 2-2 0-2 2-2 0-8 5-2 0-2 2-2 0-62 31-2 2-2 0-8 5-2 0-8 5-6 2-4 3-2 0-9 6-2 0-25 14-2 0-5 4-2 0-9 6-2 0-5 4-2 0-2 2-24 13M713 1767l0-11 1-2 0-56-1-1 0-27-1-1-1-52-1-1 0-75 1-1 0-19 1-1 0-13 1-2 1-20 1-1 0-7 5-33 2-6 0-4 1-1 4-22 2-4 3-14 2-4 4-15 3-6 6-18 2-3 0-2 4-7 0-2 8-16 2-2 0-2 3-4 0-2 12-18 1-3 6-7 0-2 3-4 16-19 8-9 21-20 10-8 6-3 12-9 7-3 5-4 2 0 6-4 14-6 5-1 9-4 3 0 3-2 3 0 13-4 4 0 1-1 13-1 1-1 8 0 1-1 34 0 2 1 9 0 1 1 12 1 1 1 4 0 1 1 4 0 1 1 11 2 26 9 3 2 7 2 2 2 4 1 10 5 2 2 2 0 3 3 2 0 13 9 3 1 3 3 3 1 19 16 3 1 8 7 7 8M665 975l-20 25-6 6-1 3-5 6-16 17-4 6-27 28-4 6-15 14-14 16-12 11-12 14-21 20-11 13-18 17-9 11-5 4-11 13-7 6-15 18-6 5-53 63-1 3-11 13-15 22M850 1742l0-6 1-1 0-56-1-2 0-14-1-1 0-12-1-1-2-32-1-1 0-8-1-1-2-28-1-1-2-28-1-1 0-10-1-1 0-9-1-1-1-23-1-2-1-31-1-2-1-53 1-2 1-42 1-1 0-10 1-1 0-9 1-1 2-21 1-1 0-5 2-6 1-10 3-9 0-4 1-1 2-11 9-28 14-33 5-7 1-4 13-21 22-27 21-19 7-4 5-5 15-9 8-3 11-6 27-9 32-5 26 0M618 984l-1 21-1 1 0 6-1 1 0 5-1 1-1 9-2 5-1 9-2 4-4 17-7 21-15 38-13 27 0 2-2 2-1 4-2 2 0 2-14 28-2 2 0 2-2 2 0 2-2 2-24 46-5 7-2 6-2 2-6 12-6 9 0 2-14 23 0 2-2 2-3 7-6 9 0 2-2 2-9 18-2 2-2 6-2 2-5 11-3 4-20 40-1 4-16 34-3 10-2 2-4 13-3 6-9 27 0 3-4 11-4 18M604 1142l18 30 0 2 9 18 0 3 3 5 0 3 2 3 0 3 4 9 0 3 6 21 0 4 1 1 0 4 1 1 0 4 2 7 0 5 1 1 1 13 1 2 0 9 1 2 0 11 1 1 0 17 1 1 0 44-1 2 0 20-1 1 0 13-1 2-2 32-1 1-2 25-1 1 0 6-1 1 0 8-1 1-3 27-2 7-2 20-2 7-4 33-1 1 0 6-1 1 0 6-1 1 0 5-1 2 0 7-1 1-2 22-1 2 0 8-1 1 0 9-1 1 0 11-1 1-1 56 1 1 1 23 1 1 0 6 2 8M1177 1413l-8-16-6-9 0-2-9-14 0-2-3-3 0-2-8-11 0-2-5-6-10-17-6-7 0-2-23-31-1-3-8-9-1-3-26-33-1-3-31-38 0-2-14-16-1-3-13-15-1-3-10-11 0-2-10-11 0-2-5-5-6-9-4-4-1-3-5-5 0-2-11-13 0-2-4-4-9-14-3-3-1-3-3-3-3-6-11-15 0-2-5-6-2-5-10-15-1-4-5-7-1-4-5-7-1-4-3-5M384 1192l3-1 3-3 2 0 3-3 2 0 2-2 13-6 2-2 2 0 7-4 2 0 19-8 25-7 22-3 1-1 9 0 1-1 31 0 1 1 9 0 1 1 12 1 14 3 11 4 3 0 3 2 3 0 5 3 12 4 2 2 13 6 14 9 26 20 21 22 15 19 0 2 6 7 2 3 0 2 9 13 1 4 2 2 9 18 1 4 2 2 14 38 0 3 4 10 5 21M901 1607l0 51-1 1-1 72M895 989l-14-3-7-3-3 0-8-3-14-3-15-5-11-2-15-5M429 1618l1-35 1-2 1-19 1-1 0-6 1-1 1-14 1-1 3-22 4-14 1-8 1-1 3-14 3-7 0-3 4-10 0-3 5-14 3-5 3-10 3-5 3-9 4-6 0-2 2-2 6-13 10-17 10-14 1-3 4-4 1-3 6-6 0-2 24-27 23-21 17-12 4-4 2 0 4-4 5-2 12-8 11-5 2-2 7-2 2-2 7-2 8-4 34-10 25-4 9 0 1-1 37 0 1 1 10 0 1 1 23 3 1 1 14 3 4 2 3 0 27 10 2 2 2 0 30 16 3 3 12 7 5 5 2 0 6 6 13 10 23 23 18 22 14 20 15 25 0 2 2 2 16 34 13 36 0 3 6 18 3 16 2 5 0 5 2 5 3 22 1 1 0 6 1 1 0 6 1 1 0 7 1 2 0 8 1 2 0 8 1 2 1 35 1 1 0 52M710 965l-9 5-2 0-2 2-2 0-2 2-2 0-2 2-2 0-2 2-2 0-11 6-4 1-15 8-2 0-2 2-10 5-2 0-2 2-2 0-46 23-2 0-4 3-6 2-2 2-2 0-4 3-2 0-2 2-2 0-8 5-2 0-8 5-2 0-8 5-6 2-4 3-2 0-2 2-2 0-15 9-2 0-4 3-13 6-2 2-2 0-5 4-2 0-22 13-2 0-2 2M700 1768l0-3 1-1 0-76-1-1-1-56-1-1 0-83 1-1 0-19 1-1 0-12 1-1 1-20 2-9 1-13 1-1 0-6 1-1 1-10 1-1 0-5 1-1 1-9 2-5 2-12 4-12 1-7 3-7 0-3 3-6 1-6 3-6 3-10 3-5 2-7 4-7 0-2 14-27 2-2 2-5 3-3 0-2 12-16 0-2 13-15 2-4 8-7 12-14 24-20 3-1 9-7 15-9 2 0 14-8 2 0 5-3 5-1 12-5 10-2 8-3 9-1 1-1 13-1 1-1 10 0 2-1 27 0 1 1 18 1 1 1 4 0 24 5 3 2 3 0 12 4 3 2 17 6 2 2 2 0 10 5 2 2 14 7 3 3 2 0 4 4 2 0 4 4 3 1 4 4 4 2 24 21 10 11 8 7"/>
<path stroke="url(#g1_G5)" d="M770 1312l10 5 3 3 9 5 6 4 1 2 7 4 2 3 8 5 6 7 6 4 0 1 9 8 7 9 4 3 3 5 6 6 7 11 1 0 4 5 19 30 2 6 8 13 1 4 11 22 5 15 3 5 0 3 6 14 0 3 5 13 5 21 2 4 0 4 4 12 1 8 1 1 3 14 0 4 1 1 0 4 1 1 0 4 1 1 0 4 1 1 0 4 1 1 0 5 1 1 1 10 2 6 0 6 2 6 2 17 2 6 0 6 1 1 1 10 1 1 0 4 1 1 3 17M383 1542l11-36 2-3 6-18 4-7 0-2 4-7 0-2 4-7 1-4 4-6 6-13 5-7 3-7 14-21 5-7 3-2 9-13 3-2 3-5 3-2 22-23 6-4 2-3 8-5 1-2 27-18 25-13 27-10 10-2 4-2 9-1 5-2 6 0 1-1 6 0 1-1 10 0 1-1 29 0 1 1 10 0 1 1 6 0 1 1 6 0 1 1 9 1 18 5 25 9 27 14"/>
<path stroke="url(#g1_R5)" d="M621 984l-4 31-1 1-2 13-2 4 0 4-2 4-3 13-2 3 0 3-2 3 0 3-2 3 0 3-2 3-1 5-11 25-2 7-5 9-2 7-2 2-1 4-2 2 0 2-13 26-2 2 0 2-5 10-2 2 0 2-5 7-2 6-5 7-5 11-15 25 0 2-12 19 0 2-12 19 0 2-3 3 0 2-9 14 0 2-12 19 0 2-11 18 0 2-3 3-2 6-2 2-9 18-2 2 0 2-2 2 0 2-2 2 0 2-2 2 0 2-2 2 0 2-2 2 0 2-6 10 0 2-7 13 0 2-4 6 0 2-6 12-2 7-2 2-1 5-6 13-13 38 0 3-2 4-4 17M982 1708l0-18 1-1-1-36-1-2-1-21-1-1 0-7-1-1-2-20-1-1-1-10-1-1 0-6-1-1-6-34-1-1-2-13-3-9 0-5-1-1-4-20-3-9-2-12-2-5 0-5-3-9-1-8-1-1-6-29-1-1-1-9-2-5 0-5-1-1-2-13-2-6-1-10-1-1-4-26-1-1-2-19-1-1 0-8-1-1 0-6-1-1-1-17-1-1 0-10-1-1 0-14-1-1 0-56 1-2 0-11 1-1 1-15 1-1 0-5 1-1 0-5 1-1 3-18 6-20 2-3 0-3 5-10 0-2 9-18 12-19 2-1 2-4 2-1 2-4 3-2 5-7 10-8 2-3 4-2"/>
<path stroke="url(#g1_G4)" d="M395 1566l2-10 4-12 0-3 2-3 3-13 2-3 0-3 5-12 1-5 2-3 1-5 6-12 1-5 4-7 0-2 3-4 5-12 6-9 1-4 32-48 3-2 3-5 7-8 4-3 4-6 15-13 3-4 5-3 2-3 31-22 18-9 2-2 2 0 13-7 3 0 8-4 9-3 3 0 7-3 8-1 9-3 12-1 1-1 28-1 1-1 3 1 28 1 1 1 5 0 1 1 5 0 5 2 4 0 12 4 7 1 3 2 23 8 23 12 32 22 0 1 6 4 2 3 5 3 1 2 23 22 3 5 14 16 20 30 9 15 2 6 3 4 16 34 0 3 4 7 0 3 6 14 4 15 2 3 0 3 3 7 7 30 2 4 0 4 2 5 0 4 2 5 0 4 1 1 0 4 2 6 2 14 1 1 0 5 1 1 1 10 2 6 0 6 2 6 0 5 2 7 1 10 1 1 0 5 2 7 0 4 1 1 1 10"/>
<path stroke="url(#g1_R4)" d="M347 1417l8-17 0-2 2-2 0-2 6-11 0-2 8-13 0-2 7-10 0-2 3-3 1-3 5-6 0-2 6-7 1-3 8-9 0-2 14-16 22-23 27-22 15-10 3-1 3-3 2 0 9-6 16-8 2 0 2-2 27-10 14-4 8-1 1-1 27-4 27-1 1 1 16 0 1 1 20 2 1 1 4 0 20 6 3 0 24 10 2 0 16 8 2 2 2 0 5 4 5 2 3 3 6 3 7 6 3 1 12 10 29 28 7 8 2 4 6 6 2 4 6 7 1 3 4 4 0 2 8 11 3 5 0 2 3 3 0 2 8 13 0 2 6 11 0 2 2 2 2 7 3 5 6 18 3 6 1 6 7 21 1 7 2 4 0 3 3 9 0 5 2 5 0 5 2 5 1 12 1 1 3 20 0 7 1 1 1 19 1 1 1 31 1 1 0 97-1 1 0 38-1 1 0 8M891 988l-1-1-11-2-7-3-4 0-7-3-11-2-4-2-4 0-7-3-26-6"/>
<path stroke="url(#g1_R3)" d="M1177 1416l-5-8 0-2-2-2-2-6-11-18 0-2-10-15 0-2-8-11-12-20-3-3-3-6-3-3-1-3-6-7-1-3-6-7-4-7-7-8 0-2-11-13 0-2-12-14 0-2-13-15-4-7-13-15 0-2-28-34 0-2-9-10-6-9-14-17-11-16-5-5 0-2-10-12-1-3-4-4-1-3-5-5 0-2-4-4-7-12-4-4-3-6-3-3-1-3-11-16 0-2-5-6-7-14-11-18-1-4-5-9M385 1190l3-1 3-3 2 0 3-3 2 0 2-2 18-9 19-8 3 0 13-5 3 0 13-4 9-1 1-1 13-1 1-1 9 0 1-1 27 0 1 1 10 0 24 4 36 12 28 15 21 15 8 8 8 6 13 14 13 16 8 11 3 6 3 3 2 5 4 5 0 2 4 5 0 2 3 4 0 2 2 2 2 6 2 2 2 7 2 2 9 23 4 12 0 3 3 6 0 3 3 8 4 20 2 5 1 9 1 1 1 10 2 7 0 6 2 7 1 16 1 1 0 7 1 2 1 26 1 1 0 22 1 1 0 53-1 1 0 27-1 1 0 19-1 2 0 16-1 1-1 32-1 1 0 18-1 2 0 22-1 2 0 44 1 2 0 15 1 3M743 962l-6 0-2 1-22 2-8 2-21 2M576 1738l-1-67-1-1 0-51 1-2 0-24 1-2 1-26 1-2 0-8 1-2 2-22 2-7 0-6 1-1 0-5 2-5 2-15 1-1 6-27 12-37 3-5 7-19 6-11 0-2 2-2 0-2 2-2 6-13 19-30 10-12 1-3 8-8 2-4 23-23 18-16 2 0 5-5 13-9 20-12 2 0 4-3 4-1 2-2 2 0 23-10 3 0 10-4 12-2 5-2 4 0 6-2 6 0 1-1 8 0 1-1 31-1 1 1 13 0 2 1 8 0 1 1 11 1 1 1 9 1 5 2 7 1 4 2 3 0 3 2 6 1 3 2 17 6 7 4 2 0 9 6 2 0 9 6 2 0 3 3 12 7 5 5 2 0 6 6 3 1 10 10 2 0 29 30 7 10 6 6 2 4 6 7 1 3 3 3 18 30 10 20 0 2 4 6 1 5 2 2 2 8 2 2 2 8 10 27 0 3 5 15 3 14"/>
<path stroke="url(#g1_R2)" d="M740 1331l0-2 6-9 0-2 3-3 2-5 3-3 7-12 7-8 1-3 27-30 30-25 22-14 30-14 33-10 4 0 6-2 14-1 1-1 31-1 1 1 13 0 2 1 19 2 5 2 4 0 9 3 3 0 10 4 3 0 16 7 2 0 7 4 2 0 2 2 4 1 13 8 2 0 3 3 3 1 15 10 7 6 4 2 15 14 2 0 2 3 17 16 19 23M673 973l-7 6-11 13-54 54-30 27-9 10-30 26-7 8-19 16-6 7-10 8-4 5-13 11-6 7-11 9-1 2-41 40-24 27-7 6-31 37M828 1747l1-1 0-17 1-1-1-55-1-1 0-14-1-1-2-36-1-1 0-10-1-1 0-10-1-1-2-32-1-1 0-11-1-1-1-27-1-2 0-16-1-1 0-22-1-1 0-54 1-1 0-20 1-2 0-11 1-2 0-10 1-1 1-16 1-1 0-6 1-1 0-6 1-1 3-21 1-1 7-31 4-10 0-3 3-9 2-3 0-2 10-24 3-4 0-2 4-6 0-2 3-4 3-7 15-22 18-22 17-16 5-3 2-3 22-14M473 1070l6 0 1 1 6 0 1 1 9 1 27 8 27 13 1 2 11 6 3 2 2 3 7 4 0 1 21 20 3 5 2 1 7 11 2 1 12 19 1 4 4 6 7 15 6 18 2 3 0 3 3 7 0 3 2 4 0 3 3 9 0 4 1 1 2 13 1 1 1 11 1 1 2 23 1 1 0 10 1 1 0 14 1 2 0 65-1 2 0 16-1 1 0 13-1 2 0 10-1 1-2 28-1 1 0 7-2 9-2 23-1 1 0 6-1 1 0 6-1 1 0 6-1 1 0 6-10 64 0 6-4 26 0 8-1 1 0 9-1 1 0 11-1 1 0 15-1 2 0 47 1 1 1 20 1 1 0 6 2 7M1177 1401l-3-5 0-2-2-2 0-2-9-14 0-2-8-11 0-2-8-11 0-2-3-3-3-6-9-12-1-3-6-7-1-3-17-22 0-2-11-13 0-2-13-15-4-7-17-20-1-3-44-53-1-3-30-36-1-3-10-11-1-3-6-6-2-4-19-24-10-15-4-4-1-3-6-7-7-12-6-7 0-2-3-3-9-14-2-5-6-8-3-7-9-15"/>
<path stroke="url(#g1_R1)" d="M563 1006l9 13 9 18 10 28 0 4 3 9 0 5 1 1 1 11 1 1 0 8 1 1 0 12 1 1 0 35-1 1 0 14-1 1-1 18-1 1 0 6-1 1 0 5-5 30-2 5-2 14-1 1-9 39-2 4 0 3-2 4 0 3-2 4-4 17-3 7 0 3-11 32 0 3-5 12 0 3-6 16 0 3-12 33 0 3-9 25-3 13-3 6 0 3-3 7 0 3-2 4 0 3-2 4 0 3-2 4-1 7-2 4-2 11-2 4 0 3-3 9 0 4-3 10-1 8-1 1-1 10-1 1-1 10-1 1-2 22-1 1-1 22-1 1 0 31M1098 1607l-2-20-1-1-2-16-1-1-3-17-1-1-4-19-2-4 0-3-2-4 0-3-2-4 0-3-11-33-7-17-4-13-3-5-4-13-2-2-3-10-3-5-1-5-2-2-6-17-9-19-2-7-6-12 0-2-2-2-1-5-6-12-5-14-2-2-1-5-3-5-2-7-9-20 0-2-3-5-6-18-3-5 0-2-9-22 0-3-4-9-13-41 0-3-1-1 0-3-8-29-3-19-1-1-2-19-1-1 0-9-1-1-1-40 1-1 0-12 1-1 0-7 1-1 2-15M482 1062l5 0 1 1 12 2 7 3 3 0 8 4 3 0 20 10 10 6 4 4 6 3 2 3 4 2 7 6 1 2 11 10 3 5 3 2 2 4 3 2 18 30M463 1657l0-50 1-2 0-14 1-2 1-21 1-1 0-8 1-1 0-6 1-1 0-6 2-13 1-1 0-5 1-1 3-19 1-1 4-19 7-21 0-3 8-20 1-5 2-2 3-10 2-2 0-2 8-17 2-2 0-2 2-2 0-2 5-7 0-2 6-10 10-14 1-3 4-4 1-3 4-4 2-4 7-7 0-2 28-29 22-19 30-20 2 0 9-6 6-3 2 0 2-2 4-1 7-4 16-5 6-3 3 0 8-3 12-2 5-2 5 0 7-2 7 0 1-1 10 0 1-1 34 0 1 1 10 0 1 1 7 0 6 2 6 0 5 2 12 2 10 4 3 0 6 3 3 0 6 3 2 0 12 6 2 0 2 2 4 1 9 6 2 0 2 2 5 2 3 3 2 0 3 3 6 3 3 3 3 1 5 5 4 2 22 19 22 23 3 5 7 7 1 3 5 5 0 2 5 5 0 2 8 10 0 2 3 3 0 2 3 3 0 2 6 8 0 2 2 2 0 2 2 2 7 14 0 2 2 2 0 2 3 5 8 20 11 33 10 41 2 16 1 1 2 12 1 14 1 1 2 32 1 2 1 45M739 962l-9 1-6 2-5 0-6 2-5 0-6 2-5 0-6 2-5 0-1 1-14 2-10 2-1 1-5 0-6 2-14 2-32 7M596 1746l0-11-1-1 0-39-1-1 0-99 1-1 0-17 1-2 1-22 1-1 1-16 1-1 2-20 3-14"/>
<path stroke="url(#g1_R0)" d="M1108 1592l-2-15-1-1 0-5-1-1 0-4-7-31-2-4 0-3-2-4 0-3-2-4-2-9-4-10 0-3-11-28-1-5-6-13-4-13-2-2-6-17-2-2-2-7-9-19 0-2-2-2 0-2-11-23-4-11-5-9-3-9-2-2-3-9-2-2-3-9-2-2 0-2-10-21 0-2-2-2-1-5-2-2-2-7-11-24-3-10-2-2-9-26-8-19 0-3-3-6-1-6-2-3 0-3-4-10 0-3-3-7 0-3-7-25 0-4-2-5 0-5-1-1-3-17 0-6-1-1 0-8-1-1 0-11-1-1 0-32 1-1 0-10 1-1 0-7 1-1M474 1069l15 2 1 1 9 1 4 2 4 0 6 3 3 0 8 4 5 1 16 8 13 8 3 3 7 4 2 3 4 2 2 3 5 3 0 1 8 7 4 6 3 2 2 4 3 2 10 14 7 11 1 4 2 2 3 7 2 2 8 18 1 5 3 5 0 3 4 9 0 3 7 23 0 4 3 10 0 6 2 6 0 6 1 1 0 5 1 2 0 8 1 1 0 8 1 2 1 32 1 1 0 37-1 2 0 23-1 1 0 13-1 2 0 11-1 2-2 29-1 1 0 7-1 2-3 30-1 1-1 15-1 1 0 6-1 1 0 6-2 7-5 40-1 1 0 6-1 1 0 7-1 1 0 6-1 1 0 7-1 1 0 6-1 1 0 8-1 1-1 16-1 1 0 10-1 1 0 12-1 1 0 15-1 1 0 42 1 1 1 22 1 1 0 6 2 7"/>
<path stroke="#ff0000" d="M987 1692h0M401 1565h0M403 1556h0M405 1167h0M698 1756h0M702 1766h0M1174 1372h0M1173 1370h0M1172 1367h0M1166 1355h0M1164 1350h0M992 1069h0M1146 1247h0M1158 1255h0M583 995h0M559 1021h0M557 1023h0M547 1034h0M455 1130h0M401 1189h0M393 1198h0M569 1010h0M559 1028h0M384 1308h0M375 1324h0M356 1361h0M348 1381h0M1115 1167h0M346 1357h0M349 1353h0M354 1296h0M358 1293h0M371 1282h0M482 1675h0M482 1673h0M482 1671h0M483 1667h0M541 1019h0M542 1034h0M582 1739h0M1153 1489h0M680 1751h0M1164 1337h0M554 1011h0M549 1014h0M534 1025h0M527 1030h0M525 1032h0M523 1033h0M519 1037h0M516 1038h0M505 1047h0M472 1072h0M470 1074h0M392 1559h0M397 1540h0M347 1405h0M356 1390h0M362 1382h0M368 1373h0M991 1055h0M479 1076h0M559 1723h0M1104 1588h0M992 1058h0M993 1047h0M494 1085h0M496 1087h0M555 1721h0M1066 1637h0M1066 1639h0M405 1583h0M406 1576h0M407 1574h0M410 1560h0M361 1288h0M358 1293h0M1114 1198h0M581 996h0M573 1008h0M569 1014h0M567 1015h0M564 1019h0M563 1021h0M560 1025h0M550 1039h0M1167 1344h0M1162 1334h0M974 1038h0M396 1175h0M400 1174h0M411 1171h0M440 1167h0M547 1711h0M549 1703h0M556 1009h0M553 1027h0M375 1479h0M371 1497h0M369 1505h0M1168 1290h0M1162 1281h0M379 1212h0M404 1201h0M460 1611h0M461 1633h0M464 1653h0M1017 1678h0M1021 1649h0M515 1036h0M515 1038h0M517 1041h0M551 1722h0M1096 1606h0M1096 1601h0M1097 1598h0M385 1536h0M388 1525h0M391 1515h0M397 1499h0M400 1492h0M355 1311h0M358 1308h0M384 1285h0M1176 1406h0M569 1008h0M562 1015h0M558 1018h0M536 1040h0M434 1138h0M424 1148h0M408 1164h0M401 1172h0M395 1566h0M396 1561h0M398 1554h0M400 1545h0M403 1538h0M982 1694h0M983 1700h0M567 1003h0M565 1005h0M550 1016h0M522 1038h0M520 1039h0M501 1055h0M499 1056h0M488 1065h0M466 1083h0M1172 1332h0M999 1070h0M491 1054h0M496 1059h0M501 1064h0M513 1683h0M515 1692h0M517 1699h0M354 1426h0M355 1423h0M699 967h0M1153 1503h0M710 965h0M611 1014h0M586 1026h0M560 1039h0M495 1073h0M473 1085h0M1152 1248h0M359 1317h0M387 1526h0M386 1529h0M1107 1588h0M1097 1538h0M1096 1532h0M1089 1510h0M1085 1497h0M1080 1483h0M1068 1450h0M1022 1344h0M938 1126h0M933 1104h0M927 1065h0M926 1056h0M926 1036h0M926 1034h0M927 1020h0M927 1016h0M493 1072h0M507 1075h0M533 1085h0M539 1088h0M543 1090h0M627 1676h0M626 1686h0M626 1704h0M626 1709h0M626 1716h0M628 1743h0M630 1755h0M1168 1400h0M1165 1394h0M1164 1392h0M899 1015h0M897 1011h0M400 1181h0M426 1169h0M431 1167h0M449 1161h0M568 1014h0M575 1025h0M576 1026h0M480 1651h0M480 1659h0M480 1662h0M1097 1601h0M1097 1596h0M1090 1559h0M1072 1493h0M929 1042h0M931 1020h0M932 1014h0M498 1065h0M503 1066h0M512 1069h0M547 1086h0M394 1186h0M404 1181h0M425 1171h0M357 1397h0M851 977h0M848 976h0M811 966h0M733 963h0M727 964h0M724 964h0M711 966h0M699 967h0M576 1733h0M576 1731h0M1130 1407h0M1146 1450h0M1150 1462h0M1151 1465h0M1153 1471h0M686 977h0M588 1024h0M492 1073h0M455 1093h0M1162 1273h0M620 995h0M618 1008h0M1141 1266h0M1143 1268h0M1154 1279h0M665 981h0M659 987h0M655 991h0M632 1015h0M618 1029h0M388 1250h0M364 1278h0M356 1287h0M354 1290h0M561 1016h0M567 1025h0M478 1070h0M487 1072h0M502 1075h0M506 1076h0M630 1750h0M1167 1382h0M1163 1374h0M1148 1351h0M1147 1348h0M1135 1330h0M921 1050h0M891 1003h0M889 999h0M883 988h0M845 976h0M365 1379h0M868 982h0M817 968h0M814 967h0M463 1647h0M463 1617h0M463 1611h0M1064 1555h0M1067 1593h0M1068 1596h0M1068 1601h0M1069 1635h0M1069 1638h0M739 962h0M724 965h0M702 969h0M696 970h0M677 973h0M671 974h0M636 981h0M627 983h0M624 984h0M595 1700h0"/>
<path stroke="#ff4700" d="M401 1563h0M407 1542h0M399 1168h0M401 1168h0M441 1162h0M1167 1357h0M1140 1244h0M1152 1251h0M581 997h0M496 1087h0M475 1108h0M419 1169h0M410 1179h0M408 1181h0M384 1209h0M573 1000h0M383 1310h0M832 1742h0M352 1349h0M363 1336h0M382 1316h0M356 1294h0M384 1271h0M542 1024h0M401 1570h0M1140 1460h0M1152 1487h0M1173 1348h0M1175 1350h0M496 1053h0M977 1694h0M354 1394h0M355 1392h0M990 1070h0M990 1067h0M558 1721h0M1104 1593h0M1104 1570h0M475 1072h0M551 1707h0M467 1658h0M472 1630h0M473 1627h0M1063 1624h0M384 1253h0M364 1283h0M791 1747h0M1135 1206h0M1137 1207h0M579 998h0M1178 1366h0M1140 1293h0M978 1044h0M546 1719h0M547 1715h0M1128 1533h0M1129 1535h0M380 1455h0M371 1494h0M903 1722h0M1157 1273h0M1154 1269h0M1153 1267h0M1126 1228h0M383 1210h0M389 1207h0M462 1643h0M464 1656h0M519 1046h0M1096 1603h0M1096 1575h0M995 1049h0M964 1703h0M405 1479h0M348 1319h0M367 1300h0M374 1293h0M382 1287h0M553 1024h0M549 1027h0M499 1075h0M436 1136h0M1143 1264h0M397 1559h0M408 1522h0M980 1681h0M561 1008h0M525 1036h0M503 1053h0M451 1095h0M449 1097h0M696 1735h0M1168 1328h0M1170 1330h0M1175 1336h0M1162 1430h0M1170 1445h0M1068 1630h0M852 976h0M740 962h0M1152 1500h0M504 1068h0M445 1101h0M375 1295h0M618 990h0M393 1503h0M494 1669h0M1051 1409h0M953 1177h0M500 1074h0M553 1096h0M575 1112h0M601 1140h0M640 1556h0M630 1637h0M1171 1405h0M898 1013h0M439 1164h0M1093 1570h0M928 1051h0M868 991h0M836 973h0M429 1618h0M683 978h0M475 1082h0M458 1091h0M1143 1254h0M664 981h0M1076 1217h0M1150 1274h0M650 997h0M634 1013h0M470 1168h0M419 1218h0M378 1261h0M374 1266h0M830 1728h0M1166 1380h0M897 1012h0M901 1723h0M887 987h0M844 975h0M820 968h0M464 1594h0M733 963h0M714 966h0M595 1708h0"/>
<path stroke="#ff8e00" d="M402 1560h0M405 1546h0M409 1535h0M410 1166h0M431 1163h0M1171 1365h0M568 1012h0M438 1148h0M425 1162h0M397 1194h0M383 1211h0M571 1006h0M539 1064h0M534 1073h0M377 1320h0M372 1329h0M360 1354h0M350 1376h0M1077 1164h0M1081 1164h0M347 1355h0M380 1318h0M353 1298h0M360 1291h0M392 1266h0M484 1661h0M1078 1609h0M1081 1625h0M542 1023h0M542 1030h0M542 1051h0M408 1510h0M403 1551h0M679 1755h0M681 1747h0M685 1736h0M1165 1339h0M538 1022h0M348 1403h0M352 1396h0M358 1388h0M366 1375h0M377 1362h0M489 1084h0M1104 1578h0M1104 1573h0M480 1075h0M553 1714h0M470 1641h0M475 1616h0M1065 1632h0M378 1262h0M566 1017h0M562 1023h0M535 1058h0M524 1072h0M467 1144h0M410 1217h0M1169 1349h0M1154 1319h0M405 1173h0M702 1747h0M706 1757h0M545 1721h0M1128 1531h0M1133 1549h0M552 1033h0M386 1437h0M374 1481h0M1142 1250h0M1122 1223h0M987 1050h0M410 1199h0M462 1641h0M1008 1089h0M518 1043h0M522 1052h0M490 1078h0M545 1702h0M549 1715h0M384 1539h0M393 1511h0M394 1508h0M350 1317h0M362 1305h0M1151 1369h0M1172 1400h0M578 999h0M545 1031h0M505 1069h0M495 1078h0M467 1105h0M439 1132h0M428 1144h0M726 1766h0M1109 1244h0M399 1552h0M984 1704h0M557 1011h0M548 1018h0M542 1023h0M486 1067h0M477 1074h0M471 1079h0M616 1753h0M620 1740h0M1156 1419h0M1159 1425h0M1069 1623h0M1069 1618h0M1069 1600h0M998 1074h0M503 1067h0M511 1671h0M885 1003h0M859 985h0M844 975h0M833 971h0M1150 1491h0M1151 1497h0M650 995h0M1036 1104h0M520 1080h0M560 1101h0M627 1731h0M1107 1301h0M892 1002h0M413 1175h0M436 1165h0M580 1036h0M588 1056h0M483 1613h0M483 1616h0M480 1648h0M480 1670h0M1092 1568h0M1091 1562h0M1085 1537h0M541 1082h0M563 1098h0M427 1170h0M884 986h0M1131 1410h0M620 993h0M1079 1219h0M1164 1290h0M597 1049h0M461 1176h0M403 1234h0M494 1682h0M517 1079h0M627 1706h0M628 1735h0M1176 1398h0M942 1079h0M902 1021h0M901 1019h0M372 1365h0M466 1577h0M468 1556h0M1061 1538h0M1065 1564h0M1066 1575h0"/>
<path stroke="#ffd500" d="M987 1689h0M988 1696h0M410 1530h0M424 1163h0M457 1162h0M1177 1377h0M1140 1304h0M999 1082h0M970 1031h0M578 1001h0M574 1004h0M573 1006h0M563 1017h0M542 1039h0M529 1052h0M456 1128h0M423 1164h0M395 1196h0M386 1207h0M745 1764h0M751 1747h0M566 1016h0M564 1020h0M563 1022h0M562 1024h0M557 1032h0M551 1044h0M406 1270h0M354 1366h0M352 1371h0M347 1384h0M1102 1165h0M365 1334h0M839 1726h0M369 1283h0M484 1663h0M485 1656h0M1072 1582h0M1043 1099h0M412 1487h0M406 1523h0M584 1733h0M589 1708h0M591 1700h0M1133 1444h0M1155 1496h0M680 1753h0M1150 1323h0M1155 1328h0M1162 1335h0M530 1028h0M514 1040h0M503 1048h0M483 1063h0M481 1065h0M403 1520h0M979 1704h0M350 1401h0M372 1367h0M373 1365h0M1103 1560h0M992 1050h0M471 1072h0M560 1725h0M483 1077h0M497 1088h0M549 1698h0M471 1636h0M471 1634h0M1062 1619h0M407 1571h0M996 1691h0M376 1265h0M370 1274h0M367 1279h0M351 1305h0M1106 1196h0M570 1012h0M543 1049h0M516 1082h0M513 1086h0M502 1101h0M498 1105h0M457 1156h0M428 1193h0M407 1221h0M1160 1329h0M970 1030h0M409 1172h0M413 1171h0M708 1763h0M709 1765h0M1132 1547h0M555 1015h0M554 1023h0M379 1460h0M373 1487h0M372 1489h0M740 1757h0M1169 1292h0M972 1031h0M425 1195h0M461 1628h0M461 1636h0M1018 1670h0M1013 1082h0M1019 1073h0M521 1049h0M529 1071h0M505 1091h0M540 1679h0M550 1718h0M1096 1578h0M1096 1562h0M383 1541h0M357 1310h0M373 1295h0M438 1134h0M389 1185h0M387 1187h0M726 1764h0M1126 1252h0M1141 1262h0M1147 1266h0M407 1524h0M414 1503h0M975 1656h0M976 1662h0M983 1702h0M544 1021h0M510 1048h0M505 1051h0M447 1099h0M445 1101h0M1145 1402h0M997 1079h0M510 1664h0M516 1694h0M881 1000h0M350 1435h0M444 1588h0M566 1689h0M702 969h0M696 972h0M691 974h0M633 1003h0M580 1029h0M526 1057h0M518 1061h0M1090 1205h0M636 1011h0M383 1285h0M616 1010h0M565 1024h0M926 1038h0M646 1520h0M1157 1378h0M903 1022h0M501 1151h0M759 1733h0M481 1638h0M1080 1521h0M885 989h0M397 1185h0M1105 1160h0M351 1408h0M430 1592h0M1034 1660h0M575 1696h0M1157 1489h0M647 996h0M497 1070h0M489 1074h0M701 1755h0M1097 1219h0M1116 1231h0M1134 1246h0M662 983h0M975 1050h0M1114 1242h0M1158 1283h0M560 1084h0M465 1172h0M445 1191h0M408 1229h0M393 1245h0M370 1271h0M828 1747h0M829 1742h0M829 1737h0M829 1735h0M508 1077h0M534 1086h0M628 1731h0M1169 1385h0M1096 1275h0M925 1056h0M1108 1155h0M994 1075h0M359 1390h0M901 1728h0M832 972h0M463 1619h0M1035 1439h0M1064 1558h0M1066 1581h0M1067 1590h0M664 976h0"/>
<path stroke="#e3ff00" d="M987 1687h0M417 1509h0M403 1167h0M408 1166h0M416 1165h0M418 1164h0M435 1162h0M693 1740h0M701 1762h0M1178 1380h0M1175 1375h0M1162 1345h0M1159 1340h0M1157 1335h0M1152 1325h0M1145 1313h0M1040 1145h0M1022 1117h0M988 1063h0M1128 1237h0M1142 1245h0M566 1014h0M552 1028h0M549 1032h0M507 1075h0M468 1116h0M447 1138h0M413 1175h0M388 1204h0M372 1224h0M749 1755h0M573 1002h0M565 1018h0M555 1036h0M532 1075h0M531 1077h0M526 1085h0M514 1104h0M513 1106h0M490 1140h0M435 1224h0M417 1251h0M400 1279h0M380 1315h0M370 1334h0M368 1337h0M355 1364h0M1075 1164h0M1100 1165h0M383 1315h0M396 1304h0M388 1269h0M485 1658h0M488 1639h0M1072 1584h0M1037 1103h0M1051 1095h0M542 1026h0M542 1038h0M542 1059h0M540 1075h0M403 1543h0M401 1572h0M946 1720h0M947 1716h0M949 1709h0M583 1737h0M1134 1446h0M1150 1483h0M684 1739h0M1142 1314h0M1149 1321h0M536 1024h0M400 1529h0M365 1377h0M386 1350h0M392 1343h0M1103 1557h0M992 1051h0M549 1687h0M554 1705h0M554 1707h0M557 1716h0M560 1727h0M1104 1583h0M1101 1599h0M490 1082h0M548 1693h0M550 1700h0M468 1654h0M1060 1606h0M405 1581h0M417 1534h0M389 1246h0M381 1258h0M1129 1204h0M530 1064h0M522 1074h0M519 1078h0M478 1129h0M443 1173h0M435 1184h0M415 1210h0M413 1213h0M1177 1364h0M1114 1251h0M697 1731h0M699 1739h0M550 1695h0M1121 1510h0M1132 1545h0M555 1019h0M370 1500h0M1059 1122h0M1135 1241h0M1016 1088h0M1010 1080h0M1004 1072h0M990 1054h0M976 1037h0M460 1606h0M462 1638h0M1017 1680h0M1022 1647h0M1020 1071h0M530 1075h0M532 1085h0M478 1069h0M483 1072h0M544 1700h0M548 1713h0M1096 1608h0M1097 1585h0M993 1059h0M393 1278h0M395 1277h0M421 1261h0M1135 1350h0M1143 1359h0M1149 1367h0M564 1013h0M520 1054h0M491 1082h0M485 1088h0M475 1097h0M473 1099h0M447 1124h0M430 1142h0M729 1757h0M730 1755h0M736 1734h0M399 1549h0M432 1461h0M981 1688h0M563 1006h0M554 1013h0M535 1028h0M516 1043h0M512 1046h0M479 1072h0M689 1760h0M695 1739h0M1154 1416h0M1161 1427h0M1163 1432h0M1167 1441h0M1068 1633h0M992 1102h0M509 1074h0M513 1079h0M1087 1139h0M855 976h0M442 1617h0M445 1577h0M693 968h0M707 966h0M704 968h0M597 1021h0M501 1070h0M470 1087h0M1119 1223h0M1147 1244h0M362 1312h0M1059 1103h0M618 996h0M617 1001h0M513 1078h0M630 1753h0M1154 1373h0M1136 1344h0M922 1053h0M483 1153h0M759 1738h0M1088 1551h0M1086 1543h0M970 1241h0M933 1114h0M929 1039h0M489 1063h0M553 1090h0M622 1735h0M905 1025h0M407 1179h0M448 1162h0M762 1736h0M762 1748h0M861 986h0M354 1402h0M845 975h0M429 1612h0M715 965h0M576 1735h0M576 1721h0M1144 1444h0M636 1001h0M597 1020h0M594 1021h0M506 1065h0M701 1757h0M701 1748h0M1158 1269h0M1063 1112h0M618 1006h0M616 1017h0M615 1022h0M615 1024h0M411 1440h0M982 1707h0M1130 1256h0M1160 1286h0M1162 1288h0M606 1041h0M495 1144h0M430 1207h0M423 1213h0M401 1236h0M493 1655h0M1107 1576h0M926 1030h0M492 1073h0M567 1107h0M574 1112h0M630 1645h0M1084 1261h0M1031 1193h0M922 1052h0M912 1036h0M903 1023h0M898 1014h0M383 1203h0M385 1201h0M408 1188h0M410 1186h0M1080 1134h0M380 1352h0M412 1308h0M901 1726h0M487 1468h0M1068 1610h0M655 977h0M633 982h0M595 1710h0M594 1669h0"/>
<path stroke="#9cff00" d="M1141 1306h0M1126 1280h0M1015 1107h0M982 1053h0M976 1043h0M1113 1230h0M1136 1241h0M1148 1248h0M561 1019h0M488 1094h0M487 1096h0M421 1166h0M375 1220h0M755 1734h0M572 1004h0M530 1079h0M413 1258h0M412 1260h0M395 1289h0M359 1356h0M1069 1164h0M1108 1166h0M377 1322h0M843 1739h0M351 1300h0M802 1742h0M803 1746h0M804 1750h0M1066 1105h0M1077 1605h0M1018 1118h0M542 1032h0M542 1053h0M953 1693h0M957 1664h0M584 1731h0M590 1704h0M1137 1453h0M679 1756h0M1152 1324h0M1167 1341h0M545 1017h0M394 1550h0M395 1547h0M396 1545h0M396 1543h0M399 1534h0M405 1515h0M408 1506h0M409 1504h0M973 1674h0M381 1356h0M413 1323h0M872 1729h0M1103 1565h0M1100 1534h0M990 1072h0M492 1086h0M502 1094h0M546 1664h0M1104 1575h0M1101 1589h0M498 1089h0M512 1103h0M543 1666h0M546 1684h0M468 1656h0M468 1651h0M470 1645h0M471 1638h0M1064 1626h0M408 1567h0M416 1539h0M420 1525h0M993 1675h0M994 1679h0M997 1695h0M387 1249h0M363 1286h0M790 1749h0M1078 1191h0M1087 1192h0M1093 1193h0M1102 1195h0M526 1070h0M503 1098h0M480 1127h0M470 1140h0M448 1167h0M1163 1336h0M1149 1310h0M1148 1307h0M1146 1305h0M1135 1286h0M1134 1284h0M1080 1199h0M1020 1110h0M438 1167h0M1126 1526h0M1130 1540h0M547 1053h0M545 1061h0M530 1105h0M403 1387h0M378 1466h0M1062 1121h0M1066 1120h0M742 1761h0M1031 1106h0M1024 1098h0M1015 1086h0M1013 1084h0M1005 1074h0M982 1044h0M975 1035h0M973 1033h0M460 1581h0M460 1618h0M1020 1659h0M1022 1642h0M1022 1639h0M1023 1620h0M1009 1088h0M1021 1070h0M526 1062h0M529 1073h0M534 1093h0M489 1077h0M508 1095h0M543 1693h0M548 1711h0M550 1720h0M1097 1593h0M1092 1527h0M956 1657h0M394 1506h0M400 1490h0M409 1470h0M414 1459h0M810 1718h0M648 1739h0M1113 1327h0M1127 1341h0M1161 1383h0M1165 1389h0M514 1060h0M493 1080h0M402 1170h0M399 1174h0M401 1542h0M402 1540h0M408 1519h0M424 1478h0M529 1033h0M490 1063h0M687 1763h0M1135 1297h0M1155 1314h0M619 1742h0M1121 1368h0M1124 1372h0M1139 1391h0M1148 1406h0M1157 1421h0M1168 1443h0M1069 1590h0M510 1075h0M506 1618h0M507 1642h0M508 1654h0M510 1668h0M512 1678h0M1102 1150h0M856 983h0M848 975h0M442 1620h0M1048 1637h0M1138 1449h0M1141 1458h0M658 991h0M628 1006h0M529 1055h0M713 1765h0M713 1763h0M714 1742h0M650 994h0M391 1276h0M616 1007h0M986 1693h0M1170 1402h0M1147 1363h0M1138 1347h0M1056 1232h0M901 1017h0M421 1171h0M467 1156h0M480 1153h0M759 1723h0M507 1504h0M1094 1576h0M1053 1441h0M946 1167h0M929 1076h0M932 1011h0M484 1062h0M620 1708h0M622 1733h0M1151 1365h0M458 1159h0M927 1033h0M348 1417h0M363 1383h0M375 1361h0M891 988h0M826 970h0M823 970h0M429 1606h0M1034 1663h0M1143 1441h0M1145 1447h0M602 1017h0M557 1039h0M464 1088h0M1111 1228h0M1150 1260h0M405 1239h0M364 1286h0M1056 1112h0M1058 1112h0M1069 1213h0M608 1039h0M554 1090h0M456 1180h0M829 1744h0M830 1723h0M828 1671h0M558 1013h0M493 1658h0M493 1674h0M1097 1278h0M1090 1268h0M1073 1246h0M1071 1244h0M1052 1220h0M1035 1198h0M989 1141h0M393 1196h0M425 1179h0M1028 1098h0M392 1334h0M449 1271h0M902 1703h0M902 1713h0M862 980h0M856 978h0M470 1542h0M1032 1431h0M1037 1444h0M594 1672h0M594 1596h0"/>
<path stroke="#55ff00" d="M980 1647h0M412 1526h0M414 1519h0M422 1496h0M449 1162h0M463 1162h0M697 1752h0M1170 1362h0M1133 1292h0M1121 1271h0M1109 1252h0M1106 1248h0M1031 1132h0M1009 1098h0M1003 1088h0M984 1057h0M975 1041h0M1134 1240h0M554 1026h0M451 1134h0M445 1140h0M440 1146h0M432 1154h0M553 1040h0M552 1042h0M548 1048h0M535 1071h0M527 1083h0M485 1149h0M463 1181h0M442 1213h0M420 1247h0M351 1374h0M1112 1167h0M842 1737h0M398 1262h0M487 1643h0M1066 1559h0M1074 1591h0M1076 1600h0M1025 1112h0M1026 1111h0M541 1021h0M542 1036h0M541 1071h0M956 1673h0M586 1721h0M588 1714h0M589 1710h0M1131 1442h0M1138 1455h0M676 1764h0M681 1749h0M686 1732h0M1131 1304h0M978 1698h0M396 1339h0M866 1699h0M870 1721h0M872 1727h0M1101 1542h0M1100 1529h0M990 1069h0M551 1696h0M1101 1583h0M1101 1571h0M1101 1568h0M1101 1563h0M1093 1502h0M991 1073h0M492 1083h0M500 1090h0M513 1104h0M519 1112h0M549 1696h0M555 1718h0M487 1565h0M1059 1604h0M1063 1621h0M417 1537h0M418 1532h0M423 1516h0M983 1619h0M402 1228h0M398 1233h0M397 1235h0M394 1239h0M801 1708h0M578 1000h0M533 1060h0M482 1125h0M453 1161h0M442 1176h0M433 1186h0M1174 1359h0M1173 1356h0M1157 1324h0M1145 1302h0M1081 1201h0M977 1042h0M398 1174h0M419 1170h0M432 1168h0M442 1167h0M469 1167h0M703 1751h0M1109 1480h0M1131 1542h0M550 1041h0M542 1071h0M539 1082h0M396 1407h0M901 1728h0M904 1717h0M1024 1138h0M1111 1208h0M1093 1184h0M1091 1182h0M1076 1163h0M1073 1158h0M1064 1148h0M1051 1131h0M1039 1117h0M997 1064h0M994 1060h0M387 1208h0M391 1206h0M466 1516h0M461 1631h0M1021 1651h0M1005 1096h0M1011 1085h0M524 1057h0M477 1068h0M496 1082h0M497 1084h0M516 1105h0M537 1656h0M537 1658h0M1096 1570h0M1096 1565h0M991 1103h0M994 1053h0M957 1659h0M961 1683h0M395 1504h0M396 1501h0M817 1746h0M378 1290h0M431 1255h0M642 1759h0M644 1750h0M654 1711h0M1148 1365h0M501 1073h0M489 1084h0M451 1120h0M443 1128h0M410 1162h0M728 1761h0M1161 1276h0M1163 1278h0M400 1547h0M409 1517h0M410 1515h0M973 1643h0M974 1647h0M979 1675h0M980 1683h0M533 1029h0M531 1031h0M497 1058h0M442 1102h0M690 1754h0M694 1741h0M1141 1301h0M1163 1323h0M620 1738h0M1140 1393h0M1069 1613h0M1069 1595h0M1069 1593h0M1004 1055h0M508 1652h0M849 978h0M361 1408h0M818 968h0M443 1603h0M1047 1612h0M567 1721h0M566 1670h0M1144 1467h0M644 997h0M523 1058h0M498 1071h0M490 1076h0M1070 1195h0M1156 1253h0M409 1254h0M397 1268h0M364 1310h0M1008 1108h0M1041 1103h0M613 1025h0M405 1470h0M404 1473h0M400 1484h0M570 1031h0M1175 1413h0M1133 1339h0M1124 1327h0M954 1099h0M418 1172h0M759 1718h0M760 1752h0M482 1624h0M1083 1529h0M952 1188h0M936 1129h0M623 1747h0M1144 1355h0M1117 1314h0M466 1157h0M1115 1168h0M1062 1128h0M892 1008h0M890 1007h0M854 981h0M390 1337h0M839 974h0M430 1586h0M431 1580h0M431 1574h0M438 1527h0M1034 1649h0M1034 1666h0M575 1691h0M1083 1331h0M1123 1394h0M661 989h0M633 1002h0M628 1005h0M563 1037h0M529 1054h0M1154 1264h0M1160 1271h0M658 987h0M393 1252h0M359 1293h0M1068 1113h0M620 997h0M396 1478h0M395 1481h0M385 1509h0M963 1062h0M971 1054h0M977 1048h0M985 1041h0M821 1586h0M495 1629h0M494 1647h0M493 1666h0M926 1033h0M524 1082h0M566 1105h0M613 1157h0M634 1608h0M627 1696h0M1088 1266h0M969 1116h0M395 1195h0M1070 1126h0M1044 1108h0M1002 1080h0M976 1063h0M966 1056h0M855 982h0M382 1349h0M397 1327h0M902 1688h0M469 1551h0M469 1545h0M993 1359h0"/>
<path stroke="#0eff00" d="M988 1694h0M407 1539h0M410 1532h0M421 1498h0M425 1489h0M439 1162h0M447 1162h0M483 1165h0M686 1713h0M1160 1342h0M1143 1308h0M1128 1282h0M1114 1259h0M1095 1229h0M1076 1200h0M1063 1180h0M1055 1169h0M1053 1165h0M1007 1094h0M980 1049h0M978 1045h0M1091 1222h0M1109 1228h0M1111 1229h0M1130 1238h0M1132 1239h0M543 1038h0M520 1062h0M449 1136h0M443 1142h0M374 1222h0M752 1745h0M753 1741h0M542 1058h0M520 1095h0M507 1114h0M450 1201h0M436 1222h0M371 1332h0M835 1734h0M836 1730h0M1059 1165h0M1063 1164h0M1079 1164h0M1096 1164h0M360 1340h0M366 1332h0M385 1313h0M448 1269h0M840 1730h0M375 1279h0M400 1261h0M434 1243h0M484 1665h0M486 1650h0M489 1637h0M500 1583h0M1059 1534h0M1067 1562h0M1076 1602h0M1021 1115h0M1041 1100h0M540 1081h0M407 1515h0M956 1678h0M959 1652h0M585 1727h0M590 1706h0M1120 1421h0M677 1762h0M682 1745h0M688 1722h0M690 1712h0M1105 1285h0M1120 1296h0M1134 1308h0M1140 1312h0M547 1015h0M407 1508h0M430 1454h0M433 1450h0M384 1352h0M871 1723h0M873 1735h0M1102 1544h0M991 1102h0M990 1092h0M990 1088h0M542 1619h0M547 1673h0M1101 1591h0M1095 1517h0M990 1083h0M991 1068h0M993 1051h0M544 1670h0M1052 1572h0M1060 1608h0M419 1530h0M985 1630h0M987 1639h0M987 1641h0M990 1656h0M990 1658h0M992 1666h0M994 1683h0M407 1222h0M366 1281h0M353 1302h0M792 1745h0M792 1743h0M797 1727h0M532 1062h0M518 1080h0M483 1123h0M432 1189h0M422 1202h0M1161 1331h0M1153 1317h0M1137 1288h0M1089 1212h0M1084 1206h0M1048 1153h0M999 1079h0M969 1028h0M451 1167h0M465 1167h0M473 1168h0M550 1697h0M1091 1443h0M533 1099h0M408 1375h0M400 1395h0M386 1435h0M383 1448h0M1050 1125h0M732 1730h0M733 1734h0M734 1739h0M1146 1257h0M1096 1188h0M1061 1144h0M1052 1133h0M433 1193h0M437 1192h0M538 1124h0M463 1544h0M460 1579h0M1019 1666h0M1020 1661h0M1021 1654h0M1023 1635h0M1023 1571h0M997 1113h0M998 1111h0M1006 1094h0M520 1047h0M499 1086h0M503 1090h0M536 1651h0M537 1660h0M1095 1557h0M1093 1540h0M991 1112h0M994 1055h0M959 1672h0M427 1435h0M456 1391h0M816 1744h0M380 1288h0M386 1284h0M425 1259h0M1112 1326h0M1137 1351h0M1159 1381h0M547 1029h0M518 1056h0M516 1058h0M477 1095h0M420 1152h0M416 1156h0M727 1762h0M728 1759h0M732 1747h0M734 1740h0M740 1718h0M1078 1231h0M1095 1237h0M978 1673h0M688 1761h0M692 1750h0M621 1734h0M622 1732h0M622 1730h0M1141 1395h0M1069 1585h0M1069 1578h0M996 1083h0M504 1068h0M535 1124h0M515 1690h0M1048 1111h0M970 1059h0M876 996h0M854 982h0M442 1626h0M1047 1600h0M1048 1645h0M1105 1375h0M677 981h0M675 982h0M630 1004h0M574 1032h0M1105 1213h0M1112 1218h0M561 1093h0M385 1283h0M851 1695h0M617 999h0M617 1005h0M408 1462h0M985 1698h0M926 1025h0M1011 1174h0M761 1663h0M597 1178h0M487 1589h0M1078 1513h0M954 1193h0M621 1730h0M1166 1392h0M901 1018h0M440 1165h0M762 1750h0M1088 1147h0M1067 1131h0M1060 1126h0M1039 1111h0M1011 1091h0M922 1029h0M902 1015h0M897 1012h0M887 1005h0M880 1000h0M406 1316h0M899 1704h0M899 1712h0M899 1714h0M429 1600h0M1034 1636h0M658 990h0M571 1032h0M540 1048h0M1109 1226h0M1123 1237h0M1139 1250h0M1148 1258h0M420 1223h0M385 1262h0M1033 1112h0M1061 1112h0M610 1042h0M957 1071h0M481 1157h0M493 1653h0M927 1011h0M594 1131h0M629 1652h0M1006 1162h0M913 1039h0M400 1192h0M451 1169h0M772 1733h0M1088 1139h0M418 1301h0M490 1457h0M579 1312h0M1053 1498h0M594 1682h0M594 1627h0"/>
<path stroke="#00ff39" d="M979 1645h0M405 1549h0M428 1482h0M412 1165h0M479 1164h0M485 1165h0M685 1709h0M699 1758h0M1158 1338h0M1125 1278h0M1111 1254h0M1105 1245h0M1104 1243h0M1086 1216h0M1034 1136h0M1070 1216h0M1126 1236h0M417 1171h0M379 1215h0M750 1749h0M758 1720h0M570 1008h0M544 1056h0M410 1263h0M393 1291h0M834 1736h0M837 1725h0M1026 1171h0M1032 1169h0M1045 1166h0M1073 1164h0M1089 1164h0M418 1286h0M424 1282h0M840 1728h0M414 1253h0M426 1247h0M800 1732h0M802 1740h0M491 1624h0M1065 1555h0M1065 1557h0M1067 1564h0M1075 1596h0M1005 1131h0M1024 1113h0M1046 1097h0M542 1063h0M538 1095h0M415 1474h0M411 1495h0M404 1541h0M945 1722h0M957 1669h0M591 1698h0M595 1677h0M1130 1440h0M689 1718h0M1116 1293h0M1127 1301h0M1136 1309h0M1157 1330h0M490 1058h0M398 1536h0M412 1497h0M420 1476h0M972 1667h0M974 1678h0M387 1348h0M409 1326h0M418 1318h0M444 1298h0M861 1672h0M871 1725h0M1102 1547h0M1097 1511h0M994 1134h0M481 1077h0M484 1079h0M513 1106h0M535 1138h0M542 1597h0M990 1093h0M990 1077h0M990 1075h0M991 1069h0M993 1049h0M539 1600h0M540 1624h0M543 1661h0M474 1621h0M479 1599h0M486 1569h0M494 1540h0M1048 1556h0M1057 1592h0M424 1514h0M426 1509h0M442 1469h0M990 1660h0M991 1664h0M372 1272h0M803 1694h0M1099 1195h0M1116 1199h0M540 1052h0M536 1056h0M485 1121h0M452 1163h0M1120 1260h0M1105 1237h0M1101 1231h0M1060 1170h0M1050 1155h0M1028 1123h0M1011 1098h0M1010 1096h0M994 1071h0M980 1048h0M426 1169h0M444 1167h0M477 1168h0M693 1715h0M698 1733h0M704 1753h0M548 1709h0M549 1701h0M553 1681h0M1110 1483h0M550 1043h0M548 1051h0M539 1080h0M511 1151h0M388 1430h0M902 1726h0M1012 1146h0M1031 1134h0M736 1743h0M737 1747h0M738 1751h0M1109 1206h0M1103 1197h0M1084 1173h0M1023 1096h0M991 1056h0M402 1202h0M427 1195h0M429 1194h0M435 1193h0M460 1591h0M1019 1668h0M1023 1632h0M991 1130h0M995 1118h0M1016 1077h0M509 1096h0M535 1627h0M538 1665h0M540 1677h0M1091 1519h0M991 1118h0M992 1068h0M954 1642h0M957 1662h0M965 1705h0M386 1532h0M392 1513h0M433 1424h0M812 1726h0M387 1282h0M413 1265h0M441 1251h0M451 1246h0M645 1748h0M1125 1339h0M1155 1375h0M532 1043h0M503 1071h0M733 1745h0M734 1742h0M1115 1247h0M1120 1249h0M446 1435h0M481 1070h0M687 1765h0M1124 1288h0M1137 1298h0M1150 1309h0M1160 1319h0M617 1751h0M632 1678h0M1113 1359h0M1119 1366h0M1126 1374h0M1149 1408h0M1152 1412h0M993 1098h0M994 1094h0M508 1072h0M512 1078h0M518 1087h0M506 1589h0M505 1601h0M505 1611h0M507 1640h0M1061 1120h0M1051 1113h0M1022 1093h0M993 1074h0M916 1023h0M888 1005h0M383 1364h0M396 1343h0M410 1324h0M912 1722h0M446 1568h0M1048 1617h0M567 1704h0M567 1699h0M1134 1438h0M1137 1447h0M619 1010h0M714 1713h0M580 1074h0M421 1240h0M1022 1105h0M1031 1104h0M402 1478h0M398 1489h0M397 1492h0M986 1696h0M955 1071h0M587 1065h0M1016 1181h0M894 1006h0M573 1158h0M578 1159h0M761 1656h0M620 1710h0M1177 1413h0M1128 1329h0M932 1067h0M422 1172h0M762 1729h0M763 1757h0M924 1031h0M871 993h0M866 990h0M410 1311h0M422 1298h0M430 1597h0M440 1513h0M1034 1622h0M1034 1647h0M581 1532h0M1090 1340h0M694 973h0M689 976h0M667 986h0M616 1010h0M614 1012h0M512 1062h0M503 1067h0M642 1005h0M1028 1113h0M604 1061h0M417 1426h0M399 1470h0M982 1668h0M981 1642h0M948 1083h0M857 1211h0M820 1569h0M562 1018h0M580 1047h0M493 1661h0M645 1231h0M1093 1143h0M1065 1123h0M1018 1090h0M369 1370h0M428 1291h0M474 1252h0M506 1234h0M902 1691h0"/>
<path stroke="#00ff80" d="M981 1654h0M399 1570h0M421 1500h0M431 1476h0M443 1450h0M414 1165h0M443 1162h0M481 1165h0M495 1168h0M678 1666h0M682 1697h0M683 1703h0M1132 1289h0M1082 1209h0M1051 1162h0M1044 1152h0M995 1075h0M1101 1225h0M525 1056h0M505 1077h0M490 1093h0M470 1114h0M436 1150h0M759 1716h0M546 1052h0M506 1117h0M438 1219h0M428 1235h0M396 1286h0M840 1713h0M371 1327h0M400 1301h0M440 1273h0M479 1256h0M444 1239h0M1056 1095h0M488 1641h0M489 1635h0M1063 1550h0M539 1083h0M535 1108h0M524 1156h0M405 1531h0M950 1705h0M952 1696h0M954 1687h0M598 1656h0M1106 1400h0M1116 1414h0M1129 1438h0M1147 1476h0M416 1485h0M969 1648h0M975 1684h0M979 1706h0M391 1345h0M402 1332h0M408 1327h0M860 1663h0M864 1687h0M866 1701h0M869 1713h0M873 1733h0M1104 1575h0M990 1076h0M991 1065h0M486 1081h0M522 1117h0M534 1136h0M543 1628h0M545 1661h0M1091 1494h0M1087 1474h0M1084 1462h0M991 1101h0M990 1091h0M536 1140h0M547 1687h0M473 1625h0M474 1619h0M478 1601h0M480 1594h0M496 1533h0M1041 1533h0M1050 1565h0M1061 1610h0M421 1523h0M991 1662h0M400 1230h0M798 1719h0M1056 1189h0M1083 1191h0M1108 1197h0M492 1113h0M1172 1354h0M1110 1244h0M1093 1219h0M1071 1186h0M1002 1083h0M983 1052h0M428 1168h0M502 1173h0M700 1741h0M547 1713h0M558 1649h0M559 1645h0M1099 1458h0M1125 1521h0M546 1059h0M532 1101h0M416 1355h0M404 1385h0M392 1417h0M904 1719h0M905 1715h0M911 1685h0M914 1667h0M916 1639h0M1020 1141h0M732 1732h0M734 1738h0M1137 1244h0M1124 1226h0M1074 1161h0M1026 1100h0M534 1095h0M537 1110h0M538 1149h0M1024 1613h0M1023 1579h0M1001 1104h0M1002 1102h0M1003 1099h0M1007 1091h0M1018 1074h0M527 1066h0M475 1067h0M498 1085h0M515 1103h0M524 1115h0M535 1630h0M541 1684h0M543 1695h0M1091 1522h0M1086 1494h0M991 1101h0M954 1647h0M962 1691h0M809 1714h0M365 1301h0M407 1269h0M423 1260h0M656 1701h0M658 1691h0M1095 1312h0M1122 1336h0M1134 1348h0M1162 1385h0M522 1053h0M510 1064h0M738 1724h0M1068 1228h0M413 1506h0M435 1454h0M461 1411h0M962 1586h0M965 1599h0M527 1034h0M695 1737h0M704 1699h0M1101 1272h0M1110 1278h0M1129 1292h0M1148 1308h0M1167 1327h0M627 1709h0M627 1705h0M631 1686h0M1102 1346h0M1147 1404h0M1158 1423h0M1069 1573h0M1068 1558h0M1062 1513h0M993 1096h0M994 1090h0M523 1096h0M542 1148h0M505 1591h0M1014 1088h0M934 1035h0M842 973h0M461 1484h0M1046 1589h0M1047 1603h0M1109 1383h0M1136 1444h0M608 1015h0M554 1042h0M714 1725h0M1041 1185h0M1075 1197h0M1138 1237h0M611 1037h0M412 1451h0M411 1454h0M986 1662h0M970 1053h0M571 1032h0M501 1591h0M911 1035h0M591 1164h0M673 1219h0M589 1226h0M1169 1397h0M1154 1370h0M1136 1342h0M1108 1301h0M392 1188h0M432 1168h0M438 1166h0M464 1158h0M904 1017h0M899 1707h0M950 1234h0M976 1244h0M591 1023h0M526 1055h0M1051 1197h0M1089 1214h0M1099 1220h0M1106 1225h0M588 1060h0M447 1196h0M440 1202h0M1025 1113h0M616 1019h0M463 1338h0M425 1410h0M975 1597h0M938 1101h0M943 1091h0M927 1189h0M518 1123h0M497 1615h0M496 1618h0M1088 1501h0M1086 1495h0M927 1067h0M926 1055h0M654 1462h0M1052 1114h0M1015 1089h0M958 1051h0M401 1322h0M420 1299h0M902 1696h0"/>
<path stroke="#00ffc6" d="M978 1641h0M423 1494h0M426 1487h0M496 1168h0M679 1677h0M682 1694h0M1077 1202h0M1057 1171h0M1030 1130h0M1016 1109h0M1034 1212h0M1055 1214h0M1072 1217h0M1078 1218h0M524 1058h0M514 1068h0M749 1753h0M760 1714h0M505 1119h0M475 1164h0M1012 1176h0M1028 1170h0M1051 1166h0M464 1261h0M483 1254h0M830 1674h0M498 1590h0M1063 1548h0M1070 1573h0M990 1152h0M996 1143h0M999 1138h0M1002 1135h0M1032 1106h0M540 1077h0M537 1098h0M533 1119h0M528 1140h0M503 1220h0M449 1364h0M421 1451h0M413 1484h0M954 1689h0M593 1687h0M596 1673h0M597 1664h0M1112 1408h0M1124 1429h0M1141 1462h0M684 1738h0M693 1696h0M695 1683h0M407 1510h0M973 1672h0M543 1633h0M547 1671h0M1095 1515h0M1094 1512h0M1094 1510h0M1086 1472h0M991 1105h0M990 1089h0M990 1081h0M520 1113h0M526 1122h0M527 1124h0M540 1628h0M484 1576h0M983 1621h0M987 1643h0M800 1711h0M801 1706h0M1060 1189h0M511 1088h0M1111 1246h0M1095 1221h0M1092 1217h0M1031 1127h0M1018 1108h0M1014 1102h0M693 1717h0M694 1721h0M554 1674h0M557 1657h0M558 1651h0M1090 1441h0M549 1047h0M547 1055h0M544 1065h0M541 1075h0M538 1084h0M517 1138h0M513 1146h0M436 1311h0M420 1345h0M418 1350h0M413 1362h0M382 1450h0M1017 1143h0M1029 1135h0M1036 1131h0M1038 1130h0M726 1703h0M727 1709h0M728 1715h0M730 1723h0M1143 1253h0M1089 1180h0M1033 1108h0M1029 1104h0M446 1191h0M479 1189h0M525 1262h0M475 1471h0M466 1521h0M463 1541h0M460 1576h0M1023 1625h0M1024 1596h0M1023 1574h0M534 1133h0M535 1135h0M537 1140h0M535 1574h0M1091 1524h0M1087 1497h0M1085 1487h0M991 1110h0M992 1066h0M992 1064h0M950 1623h0M951 1627h0M415 1456h0M804 1687h0M806 1696h0M807 1704h0M808 1706h0M810 1720h0M453 1246h0M474 1239h0M654 1709h0M655 1707h0M1055 1226h0M1151 1311h0M619 1743h0M1069 1603h0M991 1116h0M998 1076h0M1001 1063h0M532 1115h0M506 1572h0M505 1608h0M511 1673h0M1079 1133h0M1041 1106h0M893 1008h0M367 1394h0M433 1297h0M912 1717h0M445 1574h0M1045 1581h0M1046 1592h0M1048 1631h0M566 1681h0M1124 1413h0M1139 1452h0M1129 1229h0M638 1009h0M480 1176h0M978 1118h0M1003 1109h0M1017 1106h0M427 1418h0M423 1427h0M419 1435h0M418 1437h0M401 1481h0M581 1051h0M497 1621h0M496 1629h0M633 1185h0M986 1141h0M461 1158h0M1008 1089h0M985 1073h0M368 1374h0M399 1325h0M416 1304h0M1022 1517h0M1023 1520h0M1034 1644h0M866 1220h0M963 1239h0M548 1044h0M700 1677h0M1120 1235h0M629 1019h0M525 1120h0M837 1708h0M983 1122h0M1038 1112h0M978 1621h0M971 1575h0M928 1126h0M962 1064h0M499 1599h0M493 1677h0M1099 1539h0M1096 1528h0M933 1103h0M927 1009h0M488 1160h0M1010 1085h0M989 1071h0M917 1024h0M912 1020h0M393 1332h0M501 1236h0M565 1213h0"/>
<path stroke="#00f1ff" d="M972 1608h0M435 1467h0M1093 1227h0M1000 1084h0M1097 1224h0M500 1083h0M765 1684h0M525 1087h0M402 1277h0M843 1700h0M992 1185h0M1030 1170h0M1043 1167h0M1049 1166h0M401 1299h0M416 1288h0M836 1712h0M412 1254h0M420 1250h0M794 1704h0M796 1716h0M798 1724h0M1054 1093h0M1055 1523h0M1079 1616h0M991 1150h0M535 1112h0M534 1117h0M527 1143h0M437 1399h0M420 1456h0M952 1698h0M958 1657h0M594 1683h0M1098 1388h0M694 1687h0M1099 1281h0M1125 1300h0M400 1531h0M440 1437h0M448 1423h0M465 1399h0M969 1650h0M970 1655h0M399 1336h0M492 1272h0M867 1707h0M1104 1578h0M1074 1416h0M1003 1180h0M1001 1171h0M996 1149h0M993 1125h0M992 1121h0M491 1085h0M512 1104h0M542 1607h0M543 1640h0M545 1654h0M1060 1377h0M992 1122h0M522 1116h0M523 1118h0M540 1633h0M554 1716h0M428 1502h0M448 1458h0M450 1454h0M464 1429h0M974 1579h0M979 1601h0M984 1623h0M1035 1190h0M1062 1189h0M1104 1196h0M1124 1267h0M1118 1258h0M1104 1235h0M1099 1228h0M1075 1192h0M1038 1138h0M522 1180h0M560 1642h0M536 1088h0M520 1131h0M514 1144h0M414 1360h0M393 1415h0M1013 1145h0M723 1688h0M729 1717h0M1047 1127h0M481 1189h0M491 1190h0M493 1190h0M507 1192h0M535 1097h0M536 1108h0M537 1181h0M499 1369h0M488 1414h0M464 1536h0M462 1549h0M461 1569h0M1023 1576h0M989 1136h0M527 1121h0M532 1129h0M534 1589h0M534 1611h0M1087 1499h0M1081 1472h0M1073 1439h0M1004 1201h0M992 1122h0M992 1072h0M993 1057h0M949 1618h0M457 1389h0M464 1381h0M804 1685h0M470 1240h0M659 1683h0M660 1676h0M662 1664h0M1105 1319h0M730 1753h0M741 1710h0M743 1702h0M1011 1221h0M1057 1226h0M1068 1256h0M1079 1261h0M1057 1309h0M1064 1523h0M990 1152h0M990 1134h0M990 1126h0M991 1114h0M516 1084h0M1033 1100h0M988 1071h0M931 1033h0M912 1714h0M1046 1586h0M566 1686h0M566 1646h0M566 1619h0M1082 1340h0M1084 1343h0M1095 1360h0M1108 1380h0M1119 1402h0M1140 1455h0M546 1046h0M713 1767h0M714 1749h0M714 1705h0M713 1680h0M1122 1224h0M534 1121h0M474 1183h0M417 1245h0M989 1114h0M1044 1103h0M614 1023h0M445 1381h0M985 1654h0M967 1056h0M509 1553h0M495 1640h0M620 1688h0M1134 1339h0M1133 1337h0M1083 1267h0M984 1139h0M926 1058h0M919 1047h0M903 1022h0M762 1712h0M1029 1104h0M1001 1084h0M993 1078h0M988 1075h0M456 1266h0M901 1631h0M900 1668h0M900 1687h0M1031 1574h0M1031 1579h0M1033 1610h0M574 1646h0M1105 1362h0M638 1009h0M611 1037h0M607 1041h0M516 1129h0M489 1154h0M1023 1113h0M553 1177h0M451 1359h0M981 1645h0M942 1093h0M573 1034h0M577 1041h0M496 1623h0M493 1664h0M1098 1534h0M413 1185h0M436 1174h0M438 1173h0M482 1160h0M772 1748h0M896 1010h0M884 1002h0"/>
<path stroke="#00aaff" d="M459 1422h0M976 1630h0M985 1679h0M450 1437h0M487 1166h0M677 1659h0M679 1675h0M1045 1212h0M762 1699h0M486 1147h0M483 1151h0M444 1210h0M842 1702h0M846 1679h0M851 1627h0M472 1258h0M829 1668h0M410 1255h0M799 1730h0M1035 1474h0M1051 1512h0M1038 1102h0M539 1089h0M516 1183h0M457 1342h0M418 1461h0M411 1492h0M410 1497h0M960 1624h0M604 1623h0M604 1621h0M677 1760h0M701 1640h0M1091 1276h0M442 1433h0M444 1429h0M859 1657h0M861 1670h0M863 1680h0M1079 1433h0M1036 1295h0M1009 1207h0M998 1158h0M996 1145h0M539 1146h0M545 1537h0M542 1621h0M553 1703h0M1101 1573h0M1080 1447h0M1065 1392h0M995 1145h0M992 1116h0M990 1085h0M487 1080h0M529 1127h0M539 1612h0M541 1645h0M545 1680h0M1020 1480h0M449 1456h0M451 1452h0M460 1435h0M805 1683h0M980 1205h0M485 1169h0M518 1179h0M690 1702h0M707 1761h0M563 1623h0M564 1618h0M1094 1447h0M1116 1496h0M537 1086h0M508 1160h0M505 1167h0M497 1182h0M485 1207h0M484 1210h0M913 1669h0M998 1158h0M999 1156h0M1044 1127h0M452 1190h0M538 1155h0M504 1349h0M497 1376h0M490 1406h0M474 1474h0M1018 1522h0M979 1207h0M534 1091h0M536 1138h0M1065 1409h0M1031 1298h0M1012 1231h0M998 1172h0M996 1158h0M471 1372h0M804 1683h0M399 1274h0M1120 1334h0M735 1738h0M741 1712h0M1016 1221h0M1018 1221h0M1138 1260h0M940 1509h0M700 1717h0M705 1689h0M1072 1258h0M632 1682h0M634 1667h0M1108 1353h0M1069 1605h0M990 1136h0M992 1104h0M517 1085h0M540 1140h0M508 1545h0M1004 1081h0M923 1028h0M380 1369h0M389 1353h0M425 1306h0M445 1285h0M463 1270h0M912 1719h0M1040 1535h0M1048 1640h0M566 1636h0M1019 1277h0M1069 1324h0M1118 1399h0M459 1093h0M442 1217h0M431 1410h0M414 1448h0M985 1646h0M980 1606h0M960 1064h0M595 1095h0M621 1678h0M620 1715h0M1139 1347h0M951 1095h0M533 1151h0M762 1740h0M944 1045h0M1024 1525h0M701 1724h0M926 1185h0M1064 1202h0M562 1085h0M498 1146h0M837 1715h0M963 1130h0M1009 1116h0M524 1231h0M503 1267h0M977 1608h0M934 1109h0M593 1086h0M501 1588h0M500 1594h0M1090 1506h0M539 1157h0M576 1163h0M984 1068h0"/>
<path stroke="#0063ff" d="M522 1177h0M544 1189h0M1089 1220h0M1099 1224h0M764 1689h0M833 1740h0M848 1659h0M851 1620h0M979 1193h0M1003 1180h0M418 1251h0M513 1225h0M524 1225h0M516 1525h0M518 1520h0M523 1158h0M452 1357h0M448 1367h0M601 1643h0M1000 1246h0M1004 1246h0M1013 1247h0M1089 1275h0M441 1435h0M960 1600h0M853 1615h0M1076 1421h0M1056 1356h0M1016 1231h0M1014 1224h0M1012 1217h0M997 1151h0M545 1160h0M543 1578h0M1096 1520h0M1048 1340h0M1010 1215h0M534 1135h0M548 1167h0M540 1571h0M544 1673h0M467 1424h0M801 1704h0M814 1591h0M959 1216h0M577 1002h0M1021 1112h0M471 1168h0M515 1178h0M538 1188h0M687 1681h0M524 1120h0M511 1153h0M457 1266h0M394 1412h0M387 1432h0M908 1702h0M915 1649h0M1033 1133h0M1053 1124h0M726 1705h0M731 1725h0M534 1199h0M533 1213h0M486 1421h0M472 1484h0M1020 1540h0M980 1188h0M981 1180h0M991 1129h0M557 1207h0M1075 1444h0M1000 1181h0M992 1128h0M799 1646h0M801 1662h0M801 1664h0M805 1690h0M457 1244h0M459 1243h0M646 1744h0M669 1620h0M1059 1287h0M1082 1302h0M740 1714h0M746 1683h0M523 1343h0M711 1652h0M712 1643h0M1064 1255h0M1091 1267h0M1105 1275h0M632 1680h0M1076 1322h0M1100 1345h0M1069 1588h0M990 1148h0M990 1144h0M547 1176h0M549 1208h0M509 1542h0M505 1604h0M394 1346h0M477 1437h0M979 1251h0M1094 1357h0M711 1617h0M1013 1179h0M582 1072h0M573 1080h0M542 1112h0M502 1154h0M453 1206h0M851 1707h0M925 1151h0M953 1130h0M1039 1103h0M458 1357h0M977 1590h0M927 1129h0M942 1091h0M621 1670h0M402 1320h0M901 1634h0M900 1671h0M988 1412h0M699 1643h0M1074 1206h0M621 1027h0M529 1116h0M502 1141h0M836 1678h0M985 1122h0M555 1174h0M917 1169h0M578 1043h0M601 1147h0M1102 1550h0M951 1171h0M498 1158h0M901 1014h0M903 1639h0"/>
<path stroke="#001cff" d="M956 1543h0M850 1634h0M482 1229h0M514 1532h0M519 1518h0M1046 1498h0M978 1172h0M989 1154h0M1015 1120h0M504 1217h0M960 1572h0M956 1509h0M1036 1327h0M697 1673h0M703 1624h0M459 1407h0M1072 1408h0M1068 1396h0M1051 1342h0M558 1205h0M547 1515h0M543 1571h0M1022 1258h0M1017 1239h0M994 1139h0M530 1128h0M549 1171h0M497 1529h0M436 1482h0M810 1639h0M496 1172h0M539 1189h0M544 1192h0M590 1515h0M516 1140h0M423 1340h0M917 1621h0M1006 1150h0M541 1202h0M534 1204h0M498 1371h0M1012 1483h0M981 1178h0M541 1148h0M1056 1379h0M1027 1286h0M1016 1248h0M533 1232h0M749 1661h0M1021 1334h0M992 1110h0M545 1166h0M546 1174h0M549 1206h0M522 1451h0M1043 1108h0M914 1642h0M454 1513h0M974 1362h0M1039 1532h0M897 1225h0M969 1246h0M1039 1293h0M838 1540h0M907 1170h0M968 1123h0M518 1248h0M982 1622h0M598 1113h0M601 1139h0M529 1479h0M512 1539h0M501 1594h0M497 1623h0M1021 1186h0M615 1175h0M624 1180h0M765 1643h0M533 1222h0M458 1450h0M558 1299h0M1018 1497h0M619 1009h0M951 1484h0M1065 1438h0M974 1231h0M508 1157h0"/>
<path stroke="#2a00ff" d="M494 1377h0M968 1590h0M972 1606h0M974 1619h0M1116 1264h0M966 1222h0M813 1562h0M1012 1432h0M1024 1453h0M1036 1476h0M495 1243h0M473 1301h0M420 1454h0M959 1543h0M603 1630h0M708 1590h0M709 1586h0M438 1439h0M475 1386h0M514 1346h0M515 1264h0M532 1260h0M559 1256h0M846 1572h0M1036 1298h0M1024 1259h0M1014 1226h0M552 1181h0M557 1201h0M560 1217h0M549 1500h0M545 1542h0M1019 1246h0M506 1504h0M527 1458h0M548 1423h0M509 1370h0M529 1351h0M548 1337h0M945 1225h0M1027 1121h0M686 1676h0M564 1616h0M590 1517h0M505 1344h0M495 1384h0M996 1385h0M985 1314h0M982 1283h0M979 1236h0M552 1182h0M553 1188h0M542 1496h0M534 1591h0M1049 1354h0M996 1156h0M524 1232h0M1018 1269h0M1024 1222h0M575 1310h0M716 1610h0M1060 1253h0M639 1637h0M515 1493h0M509 1540h0M510 1239h0M576 1215h0M914 1639h0M1022 1461h0M528 1230h0M985 1659h0M925 1133h0M589 1072h0M515 1528h0M1004 1165h0M913 1038h0M543 1152h0M764 1656h0M762 1702h0M761 1721h0M1011 1472h0M901 1191h0M560 1087h0M931 1150h0M585 1061h0M979 1245h0"/>
<path stroke="#7100ff" d="M675 1628h0M854 1574h0M916 1261h0M943 1224h0M485 1254h0M522 1509h0M547 1453h0M963 1213h0M405 1525h0M949 1414h0M1013 1311h0M1083 1370h0M933 1249h0M960 1245h0M940 1523h0M1059 1366h0M559 1211h0M562 1230h0M564 1243h0M542 1546h0M535 1444h0M587 1227h0M588 1228h0M679 1585h0M943 1303h0M983 1324h0M917 1626h0M917 1623h0M917 1600h0M965 1198h0M597 1236h0M982 1288h0M510 1232h0M962 1241h0M1043 1423h0M521 1453h0M910 1543h0M918 1228h0M711 1537h0M970 1555h0M629 1594h0M611 1173h0M636 1187h0M764 1646h0M531 1223h0M834 1652h0M595 1095h0M600 1187h0M589 1259h0M592 1167h0"/>
<path stroke="#b800ff" d="M467 1410h0M940 1233h0M956 1286h0M722 1513h0M516 1344h0M841 1548h0M566 1300h0M562 1376h0M551 1460h0M815 1572h0M557 1367h0M795 1615h0M815 1740h0M531 1232h0M613 1250h0M758 1587h0M907 1256h0M964 1241h0M937 1267h0M534 1381h0M525 1431h0M1012 1107h0M601 1164h0M768 1584h0M764 1654h0M510 1232h0"/>
<path stroke="#ff00ff" d="M566 1319h0M605 1245h0M639 1487h0M950 1497h0M604 1247h0M937 1301h0M927 1296h0M710 1539h0M562 1294h0M560 1330h0M551 1406h0"/>
<path stroke="#000" d="M703 1767l0 1M1160 1256h0M745 1765h0M425 1240l-2 2M1068 1106l-2-1M482 1675l0-1M409 1502l0 3M1053 1093h0M541 1020l-3 2M474 1073l2 1M471 1072h0M994 1045l0-1M1067 1642l0 1M409 1564l1-2M1095 1194l2 0M529 1066l-2 2M988 1061l-2-2M968 1027l0-1M392 1176l1 0M1133 1550l1 2M556 1011l0 2M372 1492l-1 2M556 1009h0M1077 1117h0M741 1759l1 2M1078 1165l-2-2M1036 1113l-2-2M995 1047l0-1M360 1306l2-1M1157 1377l1 2M1170 1397l2 3M543 1033l-2 1M534 1042l-2 1M396 1563l0-2M460 1088l-2 2M616 1754l0-1M519 1705h0M350 1435h0M442 1614l0-3M478 1082l-2 2M665 975l-1 1M850 1742l0-1M618 984h0M383 1541h0M985 1706l0-1M495 1687h0M1108 1592l-6-36-1-1-2-12-4-13M926 1030l1-17 1-1 0-7 1-1M474 1069l15 2 1 1 9 1 4 2 4 0 18 7M627 1728l1 15 1 1 0 6 2 7M385 1190h0M933 1007h0M355 1399l2-2M763 1763h0M899 1726l0 3M899 1730l0 1M808 965h0M702 969l-3 1M986 1040l1 0M352 1292h0M556 1010h0M882 986l-1-1M378 1206l1 0M1108 1155h0M840 973l-1-1M347 1417l1-1M891 988l-1-1M809 966h0M1069 1639l0 2M739 962l-1 0"/>
<path stroke="#000" d="M954 1132l28-13 12-4 3 0 4-2 4 0 10-3 13-1 1-1 12 0 1-1 27 1M621 984l-2 21-1 1-3 19-2 4 0 4-2 4 0 3-2 4 0 3-2 4 0 3-2 3-2 9-5 11 0 3-7 15-7 19-4 7-1 4-2 2-2 7-2 2-1 4-2 2 0 2-5 8 0 2-3 6-2 2 0 2-2 2-6 13-2 2 0 2-2 2 0 2-5 7-10 20-10 16-2 6-3 3 0 2-12 19 0 2-3 3 0 2-9 14 0 2-3 3 0 2-9 14 0 2-3 3 0 2-18 30 0 2-5 7 0 2-2 2-9 18-2 2 0 2-2 2 0 2-2 2 0 2-2 2 0 2-2 2-12 24 0 2-7 13 0 2-2 2 0 2-10 21-1 5-6 13-9 25 0 3-3 7 0 3-2 4 0 3-2 4 0 3-3 9M981 1709l0-9 1-2 0-35-1-1 0-14-1-2 0-9-1-1 0-8-1-2-2-21-1-1-1-11-1-1-1-10-1-1-1-10-1-1-5-29-4-13 0-5-3-9-5-26-1-1-3-16-1-1-3-16-5-18-1-9-1-1-4-22-2-5 0-5-2-5 0-5-2-5-1-11-2-5-4-30-2-7 0-7-1-2 0-6-1-1 0-7-1-1 0-9-1-1 0-9-1-1-2-56 1-1 1-32 1-1 0-8 1-1 2-18 1-1 1-9 2-4 0-4 10-31 12-25 2-2 2-5 2-1 4-8 2-1 2-4 9-11 2-1 11-12 8-6"/>
</g>
<circle cx="382.0" cy="685.5" r="70.7" fill="none" stroke="#000" stroke-width="1"/>
<circle cx="382.0" cy="685.5" r="141.5" fill="none" stroke="#000" stroke-width="1"/>
<path d="M169.8 685.5H594.2M382.0 473.3V897.7" stroke="#000" stroke-width="1"/>
<circle cx="382.0" cy="685.5" r="212.2" fill="none" stroke="#000" stroke-width="4.4"/>
<g font-family="Liberation Sans, Arial, Helvetica, sans-serif" font-size="22.5">
<text x="384.3" y="464" text-anchor="middle">Norte</text>
<text x="380" y="925.8" text-anchor="middle">Sur</text>
<text x="158" y="687.7" text-anchor="end">Oeste</text>
<text x="603" y="687.7">Este</text>
<text x="385" y="538.4">30</text>
<text x="385" y="607.8">60</text>
</g></g>
<g id="p1">
<path d="M736.0 386.5H738.2V378.6H740.4V362.9H742.6V355.1H749.1V347.2H753.5V339.4H764.4V355.1H766.6V362.9H768.8V370.8H773.2V362.9H775.4V355.1H781.9V362.9H792.9V355.1H795.1V347.2H797.2V339.4H803.8V347.2H806.0V355.1H814.8V347.2H819.1V339.4H821.3V331.6H825.7V339.4H827.9V331.6H832.2V339.4H834.4V331.6H841.0V323.7H843.2V355.1H845.4V347.2H854.1V355.1H867.2V362.9H873.8V355.1H878.2V362.9H895.7V370.8H906.6V362.9H908.8V370.8H913.2V355.1H915.4V347.2H917.6V331.6H924.1V355.1H930.7V347.2H932.9V339.4H935.1V347.2H937.2V355.1H939.4V362.9H941.6V370.8H946.0V362.9H950.4V355.1H956.9V347.2H959.1V339.4H963.5V331.6H970.1V339.4H972.2V347.2H976.6V355.1H981.0V347.2H1000.7V331.6H1002.9V339.4H1011.6V331.6H1013.8V339.4H1022.6V331.6H1026.9V339.4H1029.1V331.6H1037.9V323.7H1040.1V315.9H1042.2V308.0H1046.6V300.2H1048.8V292.3H1051.0V308.0H1055.4V315.9H1059.8V323.7H1072.9V315.9H1075.1V308.0H1079.4V323.7H1083.8V331.6H1086.0V339.4H1090.4V355.1H1099.1V362.9H1105.7V355.1H1114.4V347.2H1121.0V339.4H1123.2V347.2H1125.4V339.4H1136.3V347.2H1138.5V339.4H1140.7V347.2H1142.9V339.4H1151.6V347.2H1153.8V339.4H1156.0V331.6H1160.4V339.4H1162.6V347.2H1164.8V339.4H1166.9V331.6H1173.5V323.7H1177.9V339.4H1186.6V355.1H1191.0V347.2H1195.4V339.4H1208.5V331.6H1217.2V339.4H1219.4V347.2H1221.6V339.4H1223.8V331.6H1230.4V339.4H1239.1V347.2H1241.3V339.4H1247.9V347.2H1250.1V331.6H1252.2V323.7H1258.8V339.4H1261.0V355.1H1263.2V347.2H1267.6V355.1H1280.7V347.2H1285.1V355.1H1293.8V362.9H1296.0V370.8H1300.4V378.6H1304.8V370.8H1309.1V378.6H1313.5V370.8H1317.9V378.6H1322.2V370.8H1335.4V362.9H1339.8V355.1H1341.9V370.8H1344.1V378.6H1346.3V370.8H1350.7V386.5H1352.9V378.6H1355.1V370.8H1359.4V378.6H1363.8V386.5H1366V504.2H736Z" fill="#dcdcdc"/>
<text x="1055.5" y="448.3" font-family="Liberation Serif, Times New Roman, serif" font-size="130" font-weight="bold" text-anchor="middle" textLength="226" lengthAdjust="spacingAndGlyphs" fill="url(#wgg)" filter="url(#embg)">IGN</text>
<path d="M736.0 394.3H740.4V402.2H742.6V394.3H744.8V362.9H749.1V355.1H753.5V362.9H757.9V355.1H762.2V362.9H768.8V370.8H777.6V355.1H781.9V362.9H795.1V355.1H799.4V362.9H801.6V355.1H803.8V347.2H806.0V355.1H814.8V347.2H819.1V339.4H821.3V347.2H827.9V339.4H836.6V347.2H838.8V355.1H843.2V362.9H847.6V355.1H851.9V362.9H854.1V355.1H856.3V362.9H858.5V355.1H860.7V362.9H876.0V370.8H880.4V362.9H882.6V370.8H884.8V362.9H889.1V370.8H897.9V378.6H900.1V370.8H904.4V378.6H911.0V370.8H913.2V378.6H915.4V362.9H917.6V370.8H919.8V355.1H928.5V362.9H930.7V370.8H932.9V378.6H937.2V370.8H941.6V378.6H943.8V370.8H946.0V378.6H948.2V362.9H950.4V370.8H954.8V362.9H956.9V355.1H959.1V347.2H961.3V339.4H965.7V355.1H970.1V362.9H978.8V370.8H981.0V355.1H983.2V362.9H985.4V347.2H1000.7V362.9H1002.9V355.1H1005.1V370.8H1007.2V362.9H1013.8V347.2H1016.0V355.1H1018.2V347.2H1020.4V355.1H1026.9V347.2H1033.5V339.4H1046.6V347.2H1048.8V331.6H1051.0V323.7H1055.4V331.6H1057.6V339.4H1059.8V331.6H1075.1V323.7H1077.2V339.4H1079.4V347.2H1086.0V355.1H1099.1V362.9H1105.7V355.1H1110.1V362.9H1112.2V355.1H1116.6V370.8H1118.8V362.9H1123.2V355.1H1125.4V362.9H1127.6V339.4H1129.8V355.1H1131.9V347.2H1134.1V355.1H1136.3V347.2H1145.1V355.1H1147.2V347.2H1151.6V355.1H1153.8V362.9H1156.0V347.2H1158.2V355.1H1160.4V347.2H1164.8V339.4H1166.9V347.2H1169.1V331.6H1173.5V339.4H1177.9V347.2H1186.6V355.1H1191.0V347.2H1195.4V355.1H1199.8V347.2H1204.1V339.4H1206.3V347.2H1212.9V339.4H1215.1V347.2H1219.4V355.1H1221.6V362.9H1223.8V355.1H1230.4V347.2H1234.8V362.9H1239.1V370.8H1241.3V362.9H1250.1V370.8H1256.6V386.5H1258.8V362.9H1261.0V355.1H1263.2V370.8H1265.4V362.9H1278.5V370.8H1282.9V362.9H1285.1V370.8H1287.2V378.6H1289.4V370.8H1291.6V394.3H1296.0V386.5H1298.2V378.6H1300.4V386.5H1304.8V378.6H1306.9V386.5H1320.1V378.6H1322.2V394.3H1326.6V386.5H1328.8V394.3H1331.0V386.5H1333.2V378.6H1339.8V386.5H1341.9V378.6H1344.1V386.5H1348.5V394.3H1350.7V386.5H1352.9V394.3H1355.1V402.2H1357.2V394.3H1361.6V386.5H1366" fill="none" stroke="#00ff00" stroke-width="2.6" shape-rendering="crispEdges"/>
<path d="M736.0 386.5H742.6V370.8H744.8V355.1H749.1V347.2H753.5V355.1H764.4V362.9H768.8V370.8H777.6V355.1H781.9V362.9H795.1V355.1H799.4V362.9H801.6V355.1H803.8V347.2H806.0V355.1H814.8V347.2H819.1V339.4H821.3V347.2H827.9V339.4H836.6V347.2H838.8V355.1H845.4V362.9H847.6V347.2H851.9V355.1H856.3V362.9H858.5V355.1H865.1V362.9H876.0V370.8H880.4V362.9H889.1V370.8H906.6V378.6H908.8V370.8H915.4V355.1H921.9V347.2H924.1V355.1H930.7V370.8H932.9V378.6H937.2V370.8H948.2V362.9H952.6V355.1H956.9V347.2H961.3V339.4H965.7V355.1H970.1V362.9H981.0V355.1H985.4V347.2H1000.7V362.9H1002.9V347.2H1005.1V355.1H1013.8V339.4H1020.4V347.2H1024.8V339.4H1033.5V331.6H1046.6V339.4H1048.8V323.7H1051.0V315.9H1055.4V323.7H1072.9V315.9H1075.1V308.0H1077.2V331.6H1081.6V339.4H1086.0V347.2H1090.4V355.1H1099.1V362.9H1105.7V355.1H1116.6V370.8H1118.8V362.9H1123.2V355.1H1127.6V339.4H1129.8V347.2H1145.1V355.1H1147.2V347.2H1151.6V355.1H1153.8V362.9H1156.0V347.2H1164.8V339.4H1166.9V347.2H1169.1V331.6H1173.5V339.4H1180.1V347.2H1186.6V355.1H1191.0V347.2H1195.4V355.1H1197.6V347.2H1204.1V339.4H1206.3V347.2H1212.9V339.4H1215.1V347.2H1219.4V355.1H1221.6V347.2H1230.4V339.4H1234.8V347.2H1236.9V355.1H1254.4V362.9H1256.6V370.8H1258.8V355.1H1263.2V362.9H1265.4V355.1H1278.5V362.9H1282.9V355.1H1285.1V362.9H1291.6V378.6H1293.8V386.5H1296.0V378.6H1298.2V370.8H1300.4V378.6H1304.8V370.8H1309.1V378.6H1322.2V370.8H1324.4V378.6H1333.2V370.8H1337.6V378.6H1339.8V386.5H1341.9V378.6H1344.1V386.5H1352.9V394.3H1361.6V386.5H1366" fill="none" stroke="#000" stroke-width="1" shape-rendering="crispEdges"/>
<path d="M736 465.0H1366M736 425.7H1366M736 386.5H1366M736 347.2H1366M736 308.0H1366M736 268.8H1366M736 229.5H1366" stroke="#000" stroke-width="1" fill="none" shape-rendering="crispEdges"/>
<path d="M736 464.6h6.3M1366 464.6h-6.3M736 425.3h6.3M1366 425.3h-6.3M736 386.1h6.3M1366 386.1h-6.3M736 346.9h6.3M1366 346.9h-6.3M736 307.6h6.3M1366 307.6h-6.3M736 268.4h6.3M1366 268.4h-6.3M736 229.1h6.3M1366 229.1h-6.3M762.2 189.6v3.7M762.2 504.2v-3.7M788.5 189.6v3.7M788.5 504.2v-3.7M841.0 189.6v3.7M841.0 504.2v-3.7M867.2 189.6v3.7M867.2 504.2v-3.7M919.8 189.6v3.7M919.8 504.2v-3.7M946.0 189.6v3.7M946.0 504.2v-3.7M998.5 189.6v3.7M998.5 504.2v-3.7M1024.8 189.6v3.7M1024.8 504.2v-3.7M1077.2 189.6v3.7M1077.2 504.2v-3.7M1103.5 189.6v3.7M1103.5 504.2v-3.7M1156.0 189.6v3.7M1156.0 504.2v-3.7M1182.2 189.6v3.7M1182.2 504.2v-3.7M1234.8 189.6v3.7M1234.8 504.2v-3.7M1261.0 189.6v3.7M1261.0 504.2v-3.7M1313.5 189.6v3.7M1313.5 504.2v-3.7M1339.8 189.6v3.7M1339.8 504.2v-3.7M736.0 189.6v5.7M736.0 504.2v-5.7M814.8 189.6v5.7M814.8 504.2v-5.7M893.5 189.6v5.7M893.5 504.2v-5.7M972.2 189.6v5.7M972.2 504.2v-5.7M1051.0 189.6v5.7M1051.0 504.2v-5.7M1129.8 189.6v5.7M1129.8 504.2v-5.7M1208.5 189.6v5.7M1208.5 504.2v-5.7M1287.2 189.6v5.7M1287.2 504.2v-5.7M1366.0 189.6v5.7M1366.0 504.2v-5.7" stroke="#000" stroke-width="2" fill="none"/>
<rect x="736" y="189.6" width="630" height="314.6" fill="none" stroke="#000" stroke-width="4.3"/>
<g font-family="Liberation Sans, Arial, Helvetica, sans-serif" font-size="22.6" text-anchor="middle">
<text transform="translate(736.0 528.5) scale(0.965 1)">0</text>
<text transform="translate(814.8 528.5) scale(0.965 1)">3</text>
<text transform="translate(893.5 528.5) scale(0.965 1)">6</text>
<text transform="translate(972.2 528.5) scale(0.965 1)">9</text>
<text transform="translate(1051.0 528.5) scale(0.965 1)">12</text>
<text transform="translate(1129.8 528.5) scale(0.965 1)">15</text>
<text transform="translate(1208.5 528.5) scale(0.965 1)">18</text>
<text transform="translate(1287.2 528.5) scale(0.965 1)">21</text>
<text transform="translate(1366.0 528.5) scale(0.965 1)">24</text>
</g>
<g font-family="Liberation Sans, Arial, Helvetica, sans-serif" font-size="22.6" text-anchor="end">
<text transform="translate(1397.8 512.3) scale(0.965 1)">0</text>
<text transform="translate(1397.8 473.1) scale(0.965 1)">5</text>
<text transform="translate(1397.8 433.8) scale(0.965 1)">10</text>
<text transform="translate(1397.8 394.6) scale(0.965 1)">15</text>
<text transform="translate(1397.8 355.4) scale(0.965 1)">20</text>
<text transform="translate(1397.8 316.1) scale(0.965 1)">25</text>
<text transform="translate(1397.8 276.9) scale(0.965 1)">30</text>
<text transform="translate(1397.8 237.6) scale(0.965 1)">35</text>
<text transform="translate(1397.8 198.4) scale(0.965 1)">40</text>
</g>
<text transform="translate(1428.8 346.9) rotate(-90)" font-family="Liberation Sans, Arial, Helvetica, sans-serif" font-size="20.8" text-anchor="middle" textLength="188.2" lengthAdjust="spacingAndGlyphs">Número de satélites</text>
<rect x="1189" y="203" width="13" height="13" fill="#d9d9d9"/><rect x="1189" y="218.800" width="13" height="13" fill="#000"/><rect x="1189" y="234" width="13" height="12.800" fill="#00ff00"/>
<g font-family="Liberation Sans, Arial, Helvetica, sans-serif" font-size="13" lengthAdjust="spacingAndGlyphs"><text x="1206.6" y="211.6" textLength="102.5" lengthAdjust="spacingAndGlyphs">GNSS predichos</text>
<text x="1206.6" y="226.8" textLength="117.5" lengthAdjust="spacingAndGlyphs">GNSS captados L1</text>
<text x="1206.6" y="242.4" textLength="149.6" lengthAdjust="spacingAndGlyphs">GNSS captados L1 y L2</text></g>
</g>
<g id="p2">
<text x="1057.0" y="781.0" font-family="Liberation Serif, Times New Roman, serif" font-size="130" font-weight="bold" text-anchor="middle" textLength="226" lengthAdjust="spacingAndGlyphs" fill="url(#wgw)" filter="url(#embw)">IGN</text>
<g transform="scale(0.5)" fill="none" stroke-width="4.9" stroke-linecap="square" stroke-linejoin="bevel" shape-rendering="crispEdges">
<path stroke="#ff0000" d="M2530 1365l2 0 0-1M1841 1372l2-1 0-1 2 0 3-2M1556 1580l10 6 0 1 2 0 0 1 3 1 0 1 3 1 0 1 3 1 0 1 3 1 1 2 2 0 0 1 4 2 1 2 3 1 0 1 6 4 1 2 4 2 0 1 14 13M1699 1726l1 2 3 1 0 1 5 3 0 1 3 1 0 1 3 1 0 1 3 1 0 1 2 0 0 1 6 2 0 1 7 2 0 1 3 0 0 1 3 0 0 1 4 0 0 1 10 2M2247 1243l3-2 2 0 0-1 5-1 0-1 3 0 0-1 12-4 3 0 0-1 12-2 1-1 5 0 0-1 9 0 0-1 1 0M2464 1432l47 15M1517 1626l6 5M1673 1764h0M2149 1279l2-1 1-2 2 0 1-2 2 0 1-2M1503 1216l12 0M1718 1399l2 0 0 1 10 5M1970 1576l9 5M2165 1750l5 0M2666 1240l6-2 0-1 3 0 0-1 5-1M1840 1171l3 4 6 4 0 1 7 6M2238 1433l0-1 3 0 1-1M2576 1611l2-1 1-2 3-1M1631 1662l10-7M2102 1189l3 1 1 2 2 0 0 1 2 1M2218 1292l15 12M1830 1243l11-5M2088 1445l6 2M2354 1630l4 2 1 2 2 0 0 1 3 2M2503 1763l4 2M1605 1334l0-1 5-3M1486 1399l0-1 4-1 0-1 3-1 0-1 2 0 1-2 2 0M1831 1570l5-3 0-1 4-1M2253 1172l7 5 6 7 4 2 4 5 6 4 4 5 4 2 3 4M2652 1438l9-3"/>
<path stroke="#ff4700" d="M1693 1273l3-1 0-1 2 0M2274 1635l2 1M1983 1213l0 1 3 1M2130 1323l6 4M1768 1320l3-1 0-1 2 0 0-1M1997 1642l2-1M2521 1218l36 27M1954 1331l4-2M2006 1400l2 0M2065 1376l3-1M1500 1303l7 4 0 1M2635 1212l2 0 0 1 2 1M1678 1398l3 2M2699 1230l4 0M2532 1364l6-3M1848 1368l3-1 0-1 2 0M2219 1538l2 0M2678 1253l1 0 0 1M2650 1314l1 0M2613 1365h0M1616 1626l3 4 3 2 4 6 4 3 6 9 2 1 2 4 1 0 6 8 2 4 1 0 2 4M1663 1685l2 4 3 2 0 2 3 2 1 3 3 2 1 3 2 1 4 6 17 16M2303 1227l11 0 0 1 3 0M2451 1426l6 3 2 0 0 1 5 1 0 1M1523 1631l3 2M1670 1763l3 1M2158 1272l4-2M1515 1216l3 0M1714 1397l2 0 0 1 2 0 0 1M1979 1581l4 2 0 1M2162 1749l3 1M2680 1235l1 0 0-1 3 0M2567 1279l1-1M2242 1431l2 0M2573 1613l3-2M1842 1251l1 0 0 1M1591 1201l2 1M1775 1360l4 3M1626 1666l4-2 1-2M2110 1194l6 4M2212 1287l6 5M1841 1238l4-1M2085 1444l3 1M2364 1637l6 5M2498 1760l5 3M1610 1330l2-1 1-2M2326 1776l1 0 3 4 3 1 1 2M1498 1392l0-1 2 0 0-1 2-1M1827 1572l4-2M2661 1435l4-1"/>
<path stroke="#ff8e00" d="M2675 1373l5-2M1698 1271l4-2M2276 1636l6 4M1528 1666l2-1M2051 1211l9 5 0 1M2142 1279l12 9M1986 1215l6 3M2124 1319l6 4M2706 1690l2-1M1773 1317l4-2M1830 1306l2-1 0-1 4-1 0-1M1555 1405l3-1M2137 1222l5 1M2342 1371l0 1 3 1 0 1 2 0 0 1M1491 1434l2 0M1864 1606l2 0 0-1M1650 1458h0M1993 1645l0-1 4-2M1873 1370l3-1 0-1 2 0 0-1M1958 1329l5-3M2216 1243l5 0M2484 1428l2 1M2722 1578h0M1654 1577l1 0M2407 1243l5-1M2674 1427l2 1M2008 1400l4-2M2391 1564l1 0M2068 1375l3-2 2 0M1493 1298l3 1 0 1 4 2 0 1M2106 1679l2-1M2639 1214l7 4M1640 1638l4 3M2310 1275l7-3M2146 1424l2 0M2526 1592l1 0M1514 1218l5 2M1696 1352l0 1 2 0 0 1 5 3M1843 1656l2 1 1 2M2487 1285l5-3 2 0M1674 1396l4 2M2703 1230l4 1M1594 1242l4 0 0-1 1 0M1859 1425l2 1M2095 1575l1 0M1649 1533l1 0M2538 1361l4-2M2613 1311l0-1 2 0 0-1 5-2M2652 1630l3-2M1845 1211l5 3 0 1 3 1 1 2 2 0M1920 1268l14 10M2580 1660l2-1M1853 1366l2-1 0-1 2 0 0-1M2215 1539l3 0 1-1M1695 1215l52 39M2429 1647l3-2M2105 1443l1 0M2470 1620l0-1 3-1M2256 1237l5 0M2510 1415l3 2M2027 1338l3-2M1919 1391l4-2M2685 1171l1 2 4 2 4 5 6 4M1819 1430l2 0M2162 1605l3-2M2595 1179l0 1 1 0M2670 1246l0 1 4 2 0 1 4 3M2041 1666l1 0 0-1M2644 1310l3 1 0 1 3 2M2424 1202l2 1M2609 1362l1 0 1 2 2 0 0 1M2338 1218l2 0M2569 1409h0M1652 1671l1 0 1 3 1 0 8 11M2317 1228l12 2 0 1 2 0 3 2M2436 1417l15 9M1526 1633l5 3M1666 1761l2 0 0 1 2 0 0 1M2162 1270l3-2M2439 1479h0M1518 1216l7 1M1707 1392l0 1 2 0 0 1 5 2 0 1M1983 1584l3 1 0 1 5 3M2154 1747l8 2M2684 1234l0-1 3 0 0-1 4 0M1676 1445h0M1935 1627l3 2M2568 1278l5-3M2447 1334l3-2M2336 1386l2 0 0-1 2-1M2244 1431l3-1M2568 1617l5-4M1761 1179l0 1 1 0M1834 1244l8 7M2469 1662l0-1 2-1M1812 1305l3 2M1593 1202l2 0M1772 1358l3 2M1621 1670l5-3 0-1M2116 1198l6 4 0 1M2205 1281l7 6M2519 1497l2 0M1922 1218l1 0M2152 1409h0M1845 1237l4-2M2081 1443l4 1M2370 1642l5 3 0 1M2493 1757l5 3M1719 1283l0-1 3-1 0-1M1613 1327l4-2M2311 1762l4 3 7 8 3 1 1 2M1502 1389l1 0 1-2 2 0 1-2 3-1M1819 1578l8-6M2665 1434l6-3"/>
<path stroke="#ffd500" d="M2680 1371l3-1 0-1M1702 1269l4-1M1998 1464l2 0 0 1M2282 1640l2 1 1 2 3 1 0 1M2410 1739l3 2M1524 1668l4-2M2060 1217l3 1 1 2 2 0 0 1 2 1M2134 1273l8 6M1992 1218l3 2 2 0 0 1M2118 1314l0 1 6 4M2702 1691l4-1M1777 1315l5-3M1836 1302l2 0 0-1 2 0 0-1M2518 1709l2 1M1558 1404l4-1M1938 1570l3-1M2142 1223l1 1 3 0M2337 1369l3 1 0 1 2 0M1493 1434l3 0M1860 1609l0-1 2 0 0-1 2 0 0-1M1650 1458l3 0M1989 1647l0-1 4-1M1878 1367l4-1M1963 1326l4-2M2221 1243l3-1M2480 1426l4 2M2722 1578l0 1 2 0 0 1 2 1M1655 1577l4 3M2412 1242l3 0M2670 1425l4 2M2012 1398l4-1M2388 1566l0-1 3-1M2073 1373l0-1 4-1M2444 1542l2 0M1486 1292l0 1 3 1 0 1 4 2 0 1M2102 1681l4-2M2646 1218l1 0 1 2 2 0 0 1 3 1M1644 1641l6 4M2317 1272l3-1M2148 1424l4-1M2522 1594l4-2M1519 1220l4 1M1691 1349l5 3M2231 1705l1 0M1846 1659l3 1 0 1 4 2 0 1M2494 1282l0-1 4-1M1669 1393l5 3M1914 1547l2 1 0 1 2 0M2154 1723h0M2707 1231l3 0M1599 1241l3 0M1855 1423l4 2M2096 1575l2 1 0 1 2 0M1645 1534l3 0 0-1 1 0M2542 1359l5-3M2620 1307l0-1 4-1M2295 1449l3 0M2648 1632l4-2M1856 1218l1 2 3 1 1 2 2 0 1 2 4 2M1908 1258l0 1 4 2 1 2 3 1 0 1 4 2 0 1M2576 1662l4-2M1857 1363l5-2M2210 1540l4 0 0-1 1 0M2087 1461h0M2425 1649l4-2M2106 1443l3 0M2466 1622l4-2M1489 1564l3 2M2261 1237l3 0M2506 1413l4 2M2030 1336l4-3M1486 1768l0 1 4 2 6 7 7 5M1923 1389l2-1M2272 1558h0M1821 1430l2-1M2160 1607l2-1 0-1M2596 1180l0 1 5 3M2665 1242l5 4M2038 1669l0-1 3-2M2509 1191l3 1M2641 1307l2 1 1 2M2426 1203l2 0M2607 1361l2 1M2340 1218l3 0M2566 1408l3 1M2334 1233l2 0 0 1 8 4 0 1 10 9 1 3M2415 1395l1 0 4 7 16 15M1531 1636l0 1 4 3M1662 1758l2 1 0 1 2 0 0 1M2165 1268l5-3M2436 1479l3 0M1525 1217l10 1 0 1 5 1M1692 1383l0 1 2 0 0 1 3 1 0 1 2 0 1 2 2 0 0 1 5 2M1991 1589l3 1 1 2 3 1 0 1 10 7M2139 1741l3 2 2 0 0 1 10 3M2691 1232l0-1 4 0 0-1 4 0 6-2M1674 1445l2 0M1938 1629l2 1 1 2M2091 1764h0M2573 1275l3-2M1906 1688h0M2450 1332l0-1 4-2M1908 1773l11 10M2340 1384l3-2M2689 1553h0M2247 1430l0-1 3-1M2564 1620l4-3M1762 1180l0 1 5 3M1829 1240l5 4M2466 1664l0-1 3-1M1680 1189l1 0 0 1M1808 1302l4 3M1595 1202l0 1 3 0M1770 1357l2 1M2026 1537l2 1M2258 1735h0M1611 1677l10-7M2122 1203l6 4 2 3 3 1 0 1 5 4M2189 1266l1 2 15 13M2521 1497l1 0 0 1 6 0M1923 1218l3 0M2149 1407l0 1 3 1M2393 1580l0 1 1 0M1849 1235l7-2M2074 1441l7 2M2375 1646l1 0 2 3 3 1 0 1 5 4M2483 1750l10 7M1722 1280l4-2M1617 1325l0-1 3-2M1510 1384l0-1 3-1 1-2 2 0 0-1 4-2 1-2 3-1 1-2 3-1M1802 1591l0-1 4-2 2-3 2 0 0-1 4-2 1-2 4-2M2671 1431l5-1 0-1 2 0 0-1 2 0 0-1 2 0 3-2"/>
<path stroke="#e3ff00" d="M1795 1540l3 0M2683 1369l4-2M1706 1268l4-2M1995 1463l3 1M2288 1645l3 1 0 1 4 3M2404 1736l6 3M1520 1670l4-2M2068 1222l12 9M2121 1263l13 10M1997 1221l7 4M2111 1309l7 5M2698 1693l4-1 0-1M1782 1312l3-1 0-1 2 0M1840 1300l4-2M2520 1710l0 1 7 5M1562 1403l3-1M1935 1572l3-1 0-1M1592 1714l3-1M2146 1224l0 1 3 0 1 1M2333 1366l4 2 0 1M2591 1528l1 0M1496 1434l3-1M1856 1611l4-2M1653 1458l4 0M1984 1649l3-1 0-1 2 0M1882 1366l0-1 2 0 0-1 2-1M2249 1537l3 0M1967 1324l5-3M1472 1582l0 1 2 0M1670 1733l2 0M2224 1242l4 0M2476 1424l4 2M2726 1581l4 2M1659 1580l4 2M1860 1732l3 1M2415 1242l4 0M2666 1423l4 2M2016 1397l3-1 0-1M2384 1567l4-1M2077 1371l0-1 4-1M2441 1543l3 0 0-1M1477 1285l4 3 1 2 4 2M2097 1683l5-2M2653 1222l0 1 2 0 1 2 5 3M1650 1645l0 1 3 1 0 1 3 2M1770 1738l0 1 2 0 0 1 2 1M2320 1271l4-2M2617 1466l3 0M2152 1423l3-1M2518 1596l4-1 0-1M1523 1221l4 2M1686 1346l5 3M2228 1706l3-1M1853 1664l7 5M1947 1737l5 3M2498 1280l0-1 3-1M1665 1391l4 2M1918 1549l5 3M2150 1723l4 0M2710 1231l3 0 0 1 1 0M1602 1241l3 0M1851 1421l4 2M2100 1577l0 1 2 0 0 1 2 1M2304 1732l2 0M1641 1535l4-1M2547 1356l4-2M2624 1305l0-1 3-1M2298 1449l3 0M2644 1635l0-1 4-2M1868 1227l0 1 3 1 1 2 4 2 0 1 8 5 1 2 7 4 0 1 6 4 1 2 3 1 1 2 5 3M2250 1470l2 0M2572 1664l4-2M1862 1361l2-1 0-1 2 0 0-1 3-1M2205 1542l5-1 0-1M2087 1461l3 0M2421 1651l4-2M2109 1443l3 0M2461 1625l5-3M1492 1566l4 2M1709 1729l2 0M2264 1237l4 0M2502 1411l4 2M1493 1693l4 3M1583 1773l3 2M2034 1333l2-1 0-1M1925 1388l3-2M2269 1559l3-1M1823 1429l3-1M2157 1609l3-2M2601 1184l0 1 5 3 0 1M2659 1237l6 5M1739 1467h0M2035 1671l3-2M2512 1192l3 2M2638 1305l3 2M1929 1711l1-1M2428 1203l2 1M2604 1359l3 2M2343 1218l1 0M2564 1407l2 1M2355 1251l1 0 6 11 1 0 1 4 1 2 1 0 6 13 0 3 3 5 0 3 2 3 19 60 6 13 1 5 1 2 1 0 1 4 4 6 0 2 2 3 1 0 2 5M1535 1640l2 1 1 2 3 1 1 2M1656 1754l0 1 6 3M2170 1265l6-4M2432 1479l4 0M1540 1220l5 1 0 1 6 2M1681 1375l1 2 10 6M2008 1601l2 1 1 2 3 1 0 1 7 6M2126 1734l13 7M2705 1228l11-1M1672 1444l2 0 0 1M1941 1632l3 1M2088 1763l3 1M2576 1273l2-1 0-1M1906 1688l2 1 2 3M2001 1773l2 1 0 1M2454 1329l0-1 3-2M1894 1761l14 12M2343 1382l2-1M2686 1554l3-1M2250 1428l2 0 0-1 3-1M2557 1626l0-1 3-1 0-1 4-3M1767 1184l6 5M1823 1235l6 5M2163 1464l1 0M2463 1666l3-2M1681 1190l3 1M1804 1299l4 3M2359 1706h0M1598 1203l0 1 2 0M1766 1355l4 2M2028 1538l2 1M2255 1735l3 0M1594 1691l1-2 3-1 1-2 3-1 1-2 4-2 0-1 4-2 0-1M2138 1216l51 50M2528 1498l1 0 0 1 11 1M1926 1218l2 0M2147 1406l2 1M2394 1581l2 1M1856 1233l13-3M2062 1437l12 4M2386 1655l3 2 25 26M2456 1726l10 11 4 2 3 4 10 7M1726 1278l2-1 0-1M2326 1693l4 3M2416 1773l0 1 2 1M1620 1322l5-4M1528 1371l2-3 5-3 0-1 5-4M1789 1602l0-1 5-3 4-5 4-2M2685 1425l10-5"/>
<path stroke="#9cff00" d="M1792 1541l3-1M2687 1367l4-2M1710 1266l4-1M1991 1462l4 1M2295 1650l7 5M2397 1731l7 5M1516 1672l4-2M2080 1231l4 2 1 2 3 1 2 3 4 2 1 2 3 1 1 2 3 1 2 3 4 2 1 2 3 1 2 3 7 5M2462 1475l4 1M2004 1225l7 4M2103 1303l8 6M2416 1498h0M2694 1694l4-1M1787 1310l0-1 4-2M2109 1501h0M1844 1298l3-1 0-1 2 0M1565 1402l1 0 0-1 3 0M1931 1573l4-1M1589 1714l3 0M2150 1226l4 1M2328 1363l5 3M2592 1528l4 2M1499 1433l4 0M1852 1613l4-2M1657 1458l3 0M1980 1652l0-1 2 0 0-1 2-1M1886 1363l2 0 0-1 2-1M2246 1538l3 0 0-1M1972 1321l4-2 0-1M2303 1509l1 0M1474 1583l0 1 5 3M1666 1732l3 0 1 1M2228 1242l4 0M2472 1422l4 2M2730 1583l2 1 0 1M1663 1582l5 3M1857 1731l3 1M2419 1242l3 0 0-1M2662 1421l4 2M2019 1395l4-1M2380 1569l4-2M2081 1369l0-1 4-2M2437 1544l3 0 0-1 1 0M1472 1281l0 1 5 3M1801 1486l3 1M2093 1685l4-2M2661 1228l1 0 1 2 2 0 1 2 3 1 0 1 3 2M2722 1276l10 8M1656 1650l6 4M1764 1735l6 3M2324 1269l4-1M2613 1465l3 0 0 1 1 0M2155 1422l3 0M2515 1598l3-1 0-1M1527 1223l5 2M1681 1342l5 3 0 1M2224 1707l4-1M1545 1474l2 1M1860 1669l9 7M1939 1731l8 6M2501 1278l4-1 0-1M1660 1388l5 3M1923 1552l4 2M2146 1723l4 0M2714 1232l4 0 0 1M1605 1241l4 0M1847 1419l4 2M2104 1580l5 3M2300 1731l4 1M1636 1536l5-1M2551 1354l3-1 0-1 3-1 0-1M2627 1303l5-3M2301 1449l3 0M2639 1637l3-1 0-1 2 0M2252 1470l0 1 3 0M2568 1666l4-2M1869 1357l2-1 0-1 2 0 0-1 3-1M2199 1544l6-2M2090 1461l4 0M2417 1654l0-1 4-2M2112 1443l4-1M2457 1627l4-2M1496 1568l4 2 0 1M1706 1728l3 1M2268 1237l3 0M2498 1408l0 1 4 2M1497 1696l2 1 2 3M1579 1770l4 3M2036 1331l2-1 1-2M1928 1386l2-1 0-1M2266 1561l3-2M1826 1428l2-1M2154 1612l0-1 3-2M2606 1189l7 5 2 3M2650 1229l8 6 1 2M1739 1467l3 0M2032 1673l0-1 3-1M2515 1194l3 1 0 1M2635 1302l0 1 3 1 0 1M1926 1712l3-1M2430 1204l3 1M2601 1357l3 2M1607 1538l1 1M1837 1735h0M2344 1218l3 0M2561 1406l3 1M1542 1646l10 8M1647 1748l0 1 3 1 1 2 2 0 1 2 2 0M2176 1261l7-4M2426 1479l6 0M1551 1224l10 5 0 1 3 1 0 1M1667 1364l1 0 4 5 3 1 3 4 3 1M2021 1612l1 0 15 16M2110 1720l3 4 5 3 2 3 6 3 0 1M2716 1227l11 0M1670 1443l2 1M1944 1633l0 1 3 1 0 1M2085 1761l3 2M2578 1271l4-2M1910 1692l3 1 1 2M1997 1770l4 3M2457 1326l1 0 1-2M2345 1381l3-2M2684 1556l0-1 2 0 0-1M2255 1426l6-2M2549 1633l2-3 3-1 0-1 3-2M1773 1189l0 1 5 3 0 1 4 3M1813 1226l1 0 4 5 4 2 1 2M2164 1464l2 0M2459 1669l4-3M1684 1191l3 2M1801 1296l0 1 3 2M2357 1708l2-1 0-1M1600 1204l3 1M1763 1352l0 1 2 0 1 2M2030 1539l3 1M2252 1736l3-1M1580 1701l0-1 2 0 0-1 8-5 1-2 3-1M2540 1500l2 0 0 1 7 0M1928 1218l2 0M2144 1405l3 1M2396 1582l3 2M2588 1752l1 0M1869 1230l2-1 5 0 0-1 4 0M2053 1434l9 3M2414 1683l10 9 4 6 6 5 4 6 18 17M1728 1276l3-1 0-1M2330 1696l0 1 4 3M2411 1770l5 3M1625 1318l5-3M1927 1517l3-1M1540 1360l16-15M1773 1616l16-14M2695 1420l1 0 1-2 2 0 0-1 8-4"/>
<path stroke="#55ff00" d="M1789 1542l3-1M2691 1365l4-2M1714 1265l1 0 0-1 3 0 0-1M1986 1460l5 2M2302 1655l10 8M2388 1725l9 6M1512 1674l4-2M2466 1476l3 0M2011 1229l0 1 3 1 0 1 3 1 0 1 3 1 0 1M2093 1295l4 3 1 2 5 3M2416 1498l3 0 0 1 1 0M2689 1696l5-1 0-1M1791 1307l6-3M2106 1501l3 0M1849 1296l2-1 0-1 2 0 0-1M2160 1491l1 0M1569 1401l0-1 3-1M1927 1575l4-2M1585 1715l4-1M2154 1227l1 0 0 1 3 0M2323 1359l0 1 2 0 0 1 3 1 0 1M2596 1530l3 1M1503 1433l3-1M1847 1616l5-3M1660 1458l1 0 0 1 3 0M1974 1655l6-3M1890 1361l4-2M2242 1539l4-1M1976 1318l6-3M2299 1509l4 0M1479 1587l4 2M1662 1730l4 2M2232 1242l3 0M2468 1420l4 2M1668 1585l5 3M1853 1730l1 0 0 1 3 0M2422 1241l4 0M2658 1419l4 2M2023 1394l3-1 0-1 2 0M2375 1571l5-2M2085 1366l3-1 0-1 2 0M2432 1546l5-2M1804 1487l3 0 0 1 1 0M2088 1687l5-2M2672 1236l10 7 1 2 3 1 2 3 4 2 0 1 5 3 1 2 5 3 1 2 4 2 1 2 5 3 1 2 3 1 0 1 4 3M1662 1654l8 6M1757 1730l7 5M2328 1268l4-2M2610 1464l3 0 0 1M2158 1422l1 0 0-1 3 0M2510 1601l5-3M1532 1225l3 1 0 1 2 0M1676 1338l0 1 5 3M1961 1516l2 1M2220 1708l1 0 0-1 3 0M1541 1473l1 0 0 1 3 0M1869 1676l12 9M1928 1723l0 1 2 0 1 2 3 1 1 2 4 2M2505 1276l4-1M1655 1384l0 1 3 1 0 1 2 0 0 1M1927 1554l5 3M2141 1723l5 0M2718 1233l4 0 1 1M1609 1241l4 0M1843 1417l4 2M2109 1583l4 2 0 1M2296 1730l4 1M1631 1537l5-1M2557 1350l2 0 0-1 5-2 0-1M1690 1494h0M2632 1300l4-2M2304 1449l4 0M2635 1640l0-1 2 0 0-1 2-1M2255 1471l4 0M2563 1669l5-3M1876 1353l2-1 0-1 5-2 0-1 2 0M2192 1546l7-2M2094 1461l3 0M2412 1656l3-1 0-1 2 0M2116 1442l3 0M2452 1630l5-3M1500 1571l5 2M1702 1728l4 0M2271 1237l4 0M2494 1406l0 1 4 1M1501 1700l6 4 0 1M1574 1766l5 4M2039 1328l4-2M1930 1384l4-2M2263 1563l3-2M1828 1427l2 0 0-1M2150 1615l1-2 3-1M2615 1197l7 5 8 9 4 2 0 1 2 1 8 9 4 2 2 3M1742 1467l2 0M2028 1676l0-1 4-2M2518 1196l3 1 1 2M2630 1299l5 3M1923 1714l3-2M2433 1205l3 1M2598 1355l3 2M1608 1539l3 1M1834 1736l3-1M2347 1218l2 0M2559 1404l2 1 0 1M1552 1654l0 1 4 2 18 19M1625 1729l6 7 16 12M2183 1257l0-1 2 0 0-1 5-2 0-1 2 0 1-2 3-1M2416 1479l10 0M1564 1232l8 5 13 14M1646 1341l8 10 1 0 12 13M2037 1628l2 3 3 2 8 11 1 0 2 4 1 0 2 4 4 4 4 7 1 0 5 7 1 3 2 1 1 3 1 0 2 4 1 0 1 3 2 1 0 2 2 1 1 3 2 1 9 13 1 0 6 8 8 7M2727 1227l5 0 0 1M1667 1442l3 1M1947 1636l4 2 0 1M2082 1760l3 1M2582 1269l3-2M1597 1480h0M1914 1695l6 5M1992 1766l5 4M2459 1324l4-3M2348 1379l4-3M2681 1557l3-1M2261 1424l2-1 0-1 2 0 7-4M2532 1646l3-1 0-1 8-6 3-4 3-1M1782 1197l2 1 7 8 6 4 8 9 6 4 2 3M2166 1464l3 0M2456 1672l0-1 3-2M1687 1193l4 3M1797 1293l4 3M2354 1709l3-1M1603 1205l4 2M1759 1350l4 2M2033 1540l3 1 0 1M2249 1736l3 0M1566 1712l1-2 3-1 1-2 3-1 1-2 5-3M2549 1501l0 1 10 1M2725 1730l0-1 3 0 0-1 3 0 1-1M1930 1218l3 0M2142 1404l2 1M2399 1584l3 2M2585 1751l3 1M1880 1228l11-1M2042 1430l11 4M1731 1274l3-1 0-1M2334 1700l6 5M2406 1766l5 4M1630 1315l0-1 2-1 1-2 3-1 1-2M1922 1519l5-2M1556 1345l21-23M1752 1640l21-24M2707 1413l1-2 2 0 1-2 3-1 1-2 3-1 0-1 4-3"/>
<path stroke="#0eff00" d="M1784 1543l5-1M2695 1363l5-3M1718 1263l6-1M1982 1459l4 1M2312 1663l2 1 2 3 3 1 3 4 3 1 2 3M2374 1714l1 2 3 1 1 2 3 1 1 2 5 3M1507 1677l0-1 2 0 3-2M2469 1476l1 0 0 1 3 0M2020 1236l12 8 1 2 3 1M2078 1282l3 4 12 9M2420 1499l5 1M2684 1698l5-2M1797 1304l6-4M2101 1501l5 0M1853 1293l2 0 0-1 3-1M2156 1490l4 1M1572 1399l2 0 0-1 3-1M1923 1577l4-2M1580 1715l5 0M2158 1228l0 1 5 1 0 1M2317 1355l2 1 1 2 3 1M2599 1531l5 3M1506 1432l4 0 0-1M1842 1619l5-3M1664 1459l5 0M1968 1659l0-1 6-3M1894 1359l3-2 2 0 0-1M2238 1540l4-1M1982 1315l4-2 0-1 2 0 0-1M2294 1510l5-1M1483 1589l0 1 2 0 1 2 3 1M1657 1729l5 1M2235 1242l4 0M2463 1418l2 0 0 1 3 1M1673 1588l0 1 2 0 0 1 3 1 0 1M1848 1729l5 1M2426 1241l5 0M2653 1417l2 0 0 1 3 1M2028 1392l0-1 2 0 3-2M2370 1574l0-1 2 0 0-1 3-1M2090 1364l0-1 2 0 0-1 2 0 0-1 2-1M2428 1547l4-1M1808 1488l5 1M2082 1689l6-2M1670 1660l0 1 4 2 1 2 3 1 0 1 3 2M1747 1723l3 2 0 1 7 4M2332 1266l4-1M2606 1462l0 1 4 0 0 1M2162 1421l1 0 0-1 3 0M2505 1603l2 0 0-1 3-1M1537 1227l0 1 5 2M1669 1334l7 4M1963 1517l3 1 0 1 2 0M2216 1709l0-1 4 0M1537 1472l1 0 0 1 3 0M1881 1685l1 2 3 1 3 4 3 1 1 2 4 2 3 4 3 1 1 2 10 7 1 2 14 10M2509 1275l3-1 0-1 2 0M1648 1380l2 1 0 1 5 2M1932 1557l6 3M2136 1722l4 0 1 1M2723 1234l5 1M1613 1241l4 0M1838 1415l2 0 0 1 3 1M2113 1586l6 3M2291 1728l5 2M1625 1539l6-1 0-1M2564 1346l5-2 0-1 2-1M1686 1494l4 0M2636 1298l5-3M2308 1449l4 0M2630 1643l0-1 5-2M2259 1471l1 1 3 0M2558 1671l5-2M1885 1348l1-2 2 0 0-1 5-3M2185 1549l7-3M2097 1461l4 0 0 1M2407 1659l5-3M2119 1442l4 0M2447 1633l5-3M1505 1573l0 1 2 0 0 1 3 1 0 1M1697 1726l0 1 4 0 1 1M2275 1237l5 1M2488 1403l2 1 0 1 4 1M1507 1705l7 6M1566 1760l4 2 0 1 4 3M2043 1326l0-1 4-2M2354 1519h0M1934 1382l3-2M2260 1564l3-1M1830 1426l3-1M2146 1618l0-1 4-2M1744 1467l3 0M2024 1679l0-1 4-2M2522 1199l2 0 0 1 3 2M2626 1295l1 0 3 4M1674 1503l1 0M1920 1715l3-1M2436 1206l3 1M2595 1352l0 1 3 2M1611 1540l3 1M1832 1736l2 0M2349 1218l3 0M2556 1403l3 1M1574 1676l1 0 0 1 5 4 4 6 7 6 3 5 8 7 3 5 20 19M2196 1249l12-7M2407 1479l9 0M1585 1251l3 4 3 2 0 2 3 2 0 2 2 1 4 7 1 0 1 3 2 3 1 0 0 2 1 0 3 6 2 3 1 0 0 2 1 0 1 3 1 0 2 5 1 0 2 5 1 0 2 5 1 0 3 6 2 3 1 0 0 2 1 0 5 9 1 0 9 13M1664 1441l3 1M1951 1639l4 3M2078 1757l0 1 2 0 0 1 2 1M2585 1267l3-2M1594 1480l3 0M1920 1700l7 6M1986 1761l6 5M2463 1321l4-3M1512 1516l2 0M2352 1376l3-2M2678 1559l3-2M2272 1418l3-1 0-1 2 0 1-2 2 0 0-1 2-1M2518 1660l0-1 1 0 3-4 4-2 6-7M2169 1464l3-1M2452 1674l4-2M1691 1196l1 0 1 2 2 0 0 1M1793 1290l4 3M2351 1711l0-1 3-1M1607 1207l5 2M1754 1346l1 0 1 2 2 0 1 2M2036 1542l2 0 0 1 3 1M2245 1737l4-1M1547 1726l7-5 0-1 4-2 0-1 4-2 1-2 3-1M2559 1503l13 2M2710 1733l15-3M1933 1218l2 0M2139 1402l3 2M2402 1586l3 2M2582 1751l3 0M1891 1227l13 1 0 1 2 0M2028 1423l4 2 0 1 2 0 8 4M1734 1272l4-2M2010 1482l1 0M2340 1705l0 1 4 2 3 4M2399 1760l7 6M1637 1308l8-6M1917 1520l5-1M1577 1322l3-5 3-2 1-3 1 0 3-5 1 0 6-10 2-1 1-3 2-3 1 0 6-10M1721 1682l2-3 1 0 0-2 1 0 2-4 1 0 0-2 2-1 5-9 2-1 1-3 1 0 9-13 1 0 3-4M2722 1401l3-2 7-8"/>
<path stroke="#00ff39" d="M1780 1545l0-1 3 0 1-1M2700 1360l6-3M1724 1262l0-1 6-1M1976 1457l6 2M2327 1676l3 1 4 5 10 7 3 4 5 3 2 3 4 2 3 4 3 1 1 2 9 6M1501 1679l6-2M2473 1477l3 0 0 1 1 0M2036 1247l0 1 5 3 2 3 3 1 2 3 5 3 3 4 3 1 2 3 5 3 4 5 3 1 2 3 3 1M2425 1500l6 2M2678 1699l6-1M1803 1300l6-3M2096 1501l5 0M1858 1291l6-3M2151 1490l5 0M1577 1397l2 0 0-1 2 0 0-1M1918 1580l5-3M1576 1715l4 0M2163 1231l6 2M2310 1350l7 5M2604 1534l2 0 0 1 3 1M1510 1431l4 0M1836 1622l2 0 0-1 2 0 0-1 2-1M1669 1459l5 0M1961 1662l5-2 0-1 2 0M1899 1356l6-3M2234 1541l4-1M1988 1311l2 0 0-1 5-3M2290 1510l4 0M1489 1593l6 4M1651 1726l0 1 3 0 0 1 3 1M2239 1242l5 0M2458 1415l3 1 0 1 2 0 0 1M1678 1592l7 4M1842 1726l6 3M2431 1241l3 0 1 1M2648 1414l3 1 0 1 2 0 0 1M2033 1389l6-2M2364 1576l6-2M2096 1360l6-3M2422 1549l6-2M1813 1489l5 1M2077 1691l2 0 0-1 3-1M1681 1669l3 2 2 3 3 1 3 4 6 4M1731 1711l16 12M2336 1265l6-2M2601 1461l5 1M2166 1420l5-2M2500 1607l0-1 5-2 0-1M1542 1230l8 5M1661 1328l3 1 0 1 4 2 1 2M1968 1519l4 2M2211 1709l5 0M1532 1471l5 1M2514 1273l3-1 0-1 2 0M1472 1235l6 2M1642 1376l6 4M1938 1560l0 1 2 0 0 1 4 2M2130 1721l6 1M2728 1235l4 1M1617 1241l5 0M1833 1412l3 1 0 1 2 0 0 1M2119 1589l6 4M2286 1726l3 1 0 1 2 0M1619 1541l6-2M2571 1342l3-1 0-1 5-3M1682 1493l1 1 3 0M2641 1295l6-3M2312 1449l4 0M2624 1646l6-3M2263 1472l4 0M2553 1674l5-3M1893 1342l3-1 1-2 2 0 0-1 2-1M2179 1551l6-2M2101 1462l5 0M2401 1662l6-3M2123 1442l4-1M2442 1636l5-3M1510 1577l6 3M1692 1725l1 0 0 1 4 0M2280 1238l4 0M2483 1400l5 3M1514 1711l10 9M1557 1751l0 1 6 4 3 4M2047 1323l0-1 3-2M2352 1520l2 0 0-1M1937 1380l5-3M2256 1567l4-2 0-1M1833 1425l2 0 0-1 2 0 0-1M2140 1622l6-4M1747 1467l3-1M2018 1683l6-4M2527 1202l5 3 1 2M2619 1289l7 6M1675 1503l3 1M1916 1717l4-2M2439 1207l2 0 0 1 2 0 0 1M2590 1349l5 3M1614 1541l0 1 3 1M1829 1737l3-1M2352 1218l2 0M2553 1401l3 2M2208 1242l3-1 0-1 2 0 0-1 2 0 0-1 2 0 0-1 2-1 2 0M2397 1479l10 0M1661 1440l3 1M1955 1642l6 5M2073 1754l5 3M2588 1265l5-3M1592 1480l2 0M1927 1706l0 1 6 4 1 2M1977 1754l3 1 0 1 6 5M2467 1318l4-3M1508 1517l3 0 0-1 1 0M2355 1374l5-3M2673 1562l5-3M2282 1412l6-3 1-2 2 0 0-1 3-2M2500 1677l4-5 7-5 0-1 7-6M2172 1463l3 0M2446 1678l6-4M1695 1199l5 3M1788 1285l0 1 5 4M2099 1499l1 0M2348 1712l3-1M1612 1209l5 2 0 1M1748 1341l0 1 3 1 0 1 3 2M2041 1544l4 2M2240 1737l5 0M1527 1742l20-16M2572 1505l0 1 8 1 0 1 3 0 0 1 3 0 0 1 1 0M2692 1734l15 0 0-1 3 0M1935 1218l3 0M2137 1401l2 1M2405 1588l3 2M2580 1750l2 0 0 1M1906 1229l6 1 0 1 2 0 8 4 0 1 2 0 0 1M2011 1411l7 5 1 2 2 0 1 2 6 3M1738 1270l0-1 3-1M2008 1482l2 0M2347 1712l10 8M2389 1751l10 9M1645 1302l13-11M1908 1524l9-4M1607 1280l4-7 1 0 0-2 2-3 1 0 3-7 1 0 0-2 6-9 1-4 1 0 2-5 1 0 0-2 3-4 0-2 2-4 1 0 0-2 3-6 1 0 4-11 1 0 2-4 3-9 4-6 0-2 4-7 0-2 3-5 3-9M1665 1793l3-6 0-2 4-6 0-2 3-5 3-9 3-6 1 0 4-11 2-2 1-4 2-4 1 0 0-2 4-6 1-4 1 0 6-13 2-2 0-2 4-5 0-2 1 0 1-3 1 0 2-5 2-2 0-2 1 0 3-6"/>
<path stroke="#00ff80" d="M1775 1546l5-1M2706 1357l5-3M1730 1260l6-2M1971 1456l5 1M1496 1682l5-3M2477 1478l5 0M2431 1502l5 2M2672 1701l6-1 0-1M1809 1297l7-4M2090 1501l6 0M1864 1288l5-3M2147 1489l1 0 0 1 3 0M1581 1395l6-2M1912 1583l4-2 0-1 2 0M1571 1715l5 0M2169 1233l7 4M2303 1345l7 5M2609 1536l5 2 0 1M1514 1431l1-1 4 0M1831 1626l5-3 0-1M1674 1459l5 0M1954 1666l5-2 0-1 2 0 0-1M1905 1353l5-3M2229 1543l5-2M1995 1307l3-1 0-1 2 0 0-1 2-1M2284 1510l6 0M1495 1597l7 5M1645 1724l6 2M2244 1242l5 0M2452 1412l6 3M1685 1596l6 4 0 1M1836 1724l6 2M2435 1242l5 0M2643 1411l5 3M2039 1387l0-1 2 0 0-1 2 0 0-1 2 0 0-1M2358 1580l0-1 2 0 0-1 4-1 0-1M2102 1357l0-1 2 0 0-1 2 0 0-1 3-1M2417 1551l5-2M1818 1490l5 1M2070 1694l7-3M1698 1683l4 3 4 5 3 1 2 3 3 1 4 5 4 2 2 3 3 1 0 1 4 3M2342 1263l5-2M2596 1460l5 1M2171 1418l4-1M2494 1610l4-2 0-1 2 0M1550 1235l8 5M1652 1321l8 5 1 2M1972 1521l6 2M2206 1710l5-1M1528 1470l1 0 0 1 3 0M2519 1271l6-3M1478 1237l7 3M1634 1371l8 5M1944 1564l7 4M2123 1719l7 2M1622 1241l5 0M1827 1409l6 3M2125 1593l7 5M2280 1724l6 2M1612 1543l7-2M2579 1337l9-5M1677 1493l5 0M2647 1292l6-3M2316 1449l3 0 1-1M2618 1650l0-1 2 0 0-1 4-2M2267 1472l1 0 0 1 4 0M2547 1677l6-3M1901 1337l11-7M2170 1555l9-4M2106 1462l4 0M2395 1665l2 0 0-1 2 0 0-1 2-1M2127 1441l5 0M2435 1640l7-4M1516 1580l6 4M1686 1723l6 2M2284 1238l6 1M2477 1397l6 3M1524 1720l0 1 1 0 3 4 4 2 14 15 6 4 0 1 5 4M2050 1320l6-5M2348 1521l4-1M1942 1377l0-1 5-3M2251 1570l5-3M1837 1423l4-1M2134 1627l1 0 2-3 3-1 0-1M1750 1466l4 0M2013 1687l1-2 4-2M2533 1207l7 4 2 3M2610 1281l9 8M1678 1504l4 0 0 1M1911 1719l5-2M2443 1209l2 0 0 1 3 1M2585 1345l0 1 5 3M1617 1543l3 1M1825 1737l4 0M2354 1218l4 0M2549 1399l4 2M2221 1236l0-1 6-2 0-1 4-1 0-1 2 0 0-1 2 0 0-1 2 0M2384 1480l10 0 0-1 3 0M1657 1439l4 1M1961 1647l7 6M2066 1750l7 4M2593 1262l6-4M1588 1479l3 0 0 1 1 0M1934 1713l1 0 9 10 7 5 15 16 6 4 5 6M2471 1315l5-4M1504 1519l4-2M2360 1371l0-1 4-2 1-2M2669 1565l1-2 3-1M2294 1404l6-4 2-3 3-1 5-6M2477 1700l1 0 0-1 9-8 3-5 10-9M2175 1463l4 0 0-1M2441 1683l0-1 4-2 1-2M1700 1202l0 1 3 1 0 1 4 3M1780 1279l4 2 0 1 4 3M2100 1499l4 1M2344 1714l4-2M1617 1212l2 0 0 1 3 1 0 1 2 0 0 1 2 1M1738 1333l10 8M2045 1546l4 1 0 1 2 0 0 1 2 0M2233 1737l7 0M1502 1768l5-7 1 0 16-17 3-1 0-1M2587 1510l4 1 0 1 2 0 0 1 2 0 0 1 6 3 0 1 7 6M2670 1725l2 1 1 2 2 0 1 2 2 0 6 3 8 1M1938 1218l4 0M2132 1399l2 0 0 1 3 1M2408 1590l4 2M2576 1749l4 1M1924 1237l5 3 12 14 5 10 2 2 4 11M1984 1368l7 16 1 0 3 7 1 0 1 3 2 3 1 0 0 2 3 2 1 3 1 0 6 7M1741 1268l5-4M2004 1482l4 0M2357 1720l12 13 9 7 0 1 11 10M1658 1291l15-13M1898 1528l6-3 2 0 0-1 2 0"/>
<path stroke="#00ffc6" d="M1770 1548l5-2M2711 1354l7-4M1736 1258l7-1M1965 1454l6 2M1490 1685l0-1 6-2M2482 1478l5 1M2436 1504l6 1M2665 1703l7-2M1816 1293l8-4M2084 1501l6 0M1869 1285l7-3M2141 1489l6 0M1587 1393l3-1 0-1 2 0 0-1M1906 1586l6-3M1565 1715l6 0M2176 1237l3 1 0 1 3 1 0 1 2 0 0 1M2294 1338l0 1 3 1 1 2 5 3M2614 1539l2 0 0 1 2 0 2 1 0 1M1519 1430l5-2M1824 1630l7-4M1679 1459l1 0 0-1 6 0M1946 1671l8-5M1910 1350l7-4M2224 1545l0-1 5-1M2002 1303l3-1 0-1 2 0 1-2 2 0M2278 1511l6-1M1502 1602l8 6M1638 1720l2 1 0 1 2 0 3 2M2249 1242l6 1M2446 1409l2 0 0 1 4 2M1691 1601l8 5M1829 1720l0 1 2 0 5 3M2440 1242l5 0 1 1M2636 1408l2 0 0 1 5 2M2045 1383l2 0 0-1 2 0 0-1 3-1M2350 1583l2 0 2-1 0-1 4-1M2109 1353l0-1 3-1 0-1 2 0 0-1 2-1M2410 1554l7-3M1823 1491l6 1M2063 1696l7-2M2347 1261l6-1M2591 1458l1 0 0 1 4 0 0 1M2175 1417l6-2M2487 1614l7-4M1558 1240l5 3 0 1 3 1 1 2 3 1M1640 1310l0 1 4 2 3 4 3 1 2 3M1978 1523l3 1 0 1 2 0 0 1M2200 1711l1-1 5 0M1522 1469l6 1M2525 1268l6-2M1485 1240l4 1 0 1 2 0 0 1 2 0M1626 1365l8 6M1951 1568l7 4 0 1M2116 1717l7 2M1627 1241l1 0 0 1 5 0M1821 1406l4 1 0 1 2 1M2132 1598l8 6M2273 1720l0 1 7 3M1605 1546l4-2 3 0 0-1M2588 1332l0-1 3-1 1-2 2 0 0-1 3-1M1672 1493l5 0M2653 1289l6-3M2320 1448l6 0M2611 1654l2-1 0-1 2 0 0-1 3-1M2272 1473l5 0M2540 1680l7-3M1912 1330l0-1 3-1 1-2 3-1 5-4M2160 1560l10-5M2110 1462l5 0M2389 1669l4-2 0-1 2 0 0-1M2132 1441l1-1 4 0M2428 1644l3-1 0-1 2 0 0-1 2-1M1522 1584l7 5M1680 1721l6 2M2290 1239l6 2M2471 1393l0 1 2 0 0 1 4 2M2056 1315l6-5M2344 1523l0-1 3 0 0-1 1 0M1947 1373l7-5M2245 1575l3-2 1-2 2 0 0-1M1841 1422l6-3M2126 1634l3-2 1-2 4-2 0-1M1754 1466l5 0 0-1M2006 1692l0-1 7-4M2542 1214l1 0 3 4 4 2 7 8M2594 1265l2 1 14 15M1682 1505l5 0 0 1M1905 1721l6-2M2448 1211l5 2 0 1 2 0 0 1M2577 1339l8 6M1620 1544l3 2 2 0M1821 1737l4 0M2358 1218l4 0M2545 1397l4 2M2237 1228l3-2 2 0 0-1 7-2 0-1 5-1M2368 1481l12 0 0-1 4 0M1651 1437l6 2M1968 1653l9 8M2057 1742l1 2 4 2 0 1 4 2 0 1M2599 1258l4-2 0-1 2 0 0-1M1585 1479l3 0M2476 1311l6-5M1499 1520l5-1M2365 1366l3-1 0-1 4-2 0-1M2662 1569l2-1 0-1 2 0 1-2 2 0M2310 1390l12-11 9-12M2450 1733l2-1 0-2 1 0 3-5 3-2 0-2 3-2 3-5 1 0 4-6 3-2 4-6M2179 1462l5 0M2433 1688l5-3 1-2 2 0M1707 1208l2 1 2 3 5 3 0 1M1770 1269l3 2 7 8M2104 1500l3 0M2339 1716l2 0 0-1 3-1M1626 1217l7 4 1 2 6 4M1724 1320l0 1 7 5 0 1 7 6M2053 1549l0 1 2 0 0 1 7 3M2224 1736l0 1 9 0M1472 1220l7-34 4-12 2-3 1-5M1487 1793l3-5 1-4 1 0 1-2 0-2 1 0 3-6 1 0 4-6M2608 1524l5 6 3 5 1 4 3 4 0 3 4 8 0 3 3 8 3 17 4 15 0 5 4 18 0 5 3 13 3 22 4 15 0 4 4 11 0 3 7 18 1 0 5 9 1 0 4 5M1942 1218l4 0M2128 1396l2 1 0 1 2 0 0 1M2412 1592l2 1 1 2 2 0M2571 1747l5 2M1952 1277l3 5 1 5 6 14 0 3 4 9 3 13 15 42M1746 1264l5-3M2000 1482l4 0M1673 1278l16-14M1887 1534l2-1 0-1 2 0 2-1 0-1 2 0 0-1 3-1"/>
<path stroke="#00f1ff" d="M1764 1550l6-2M2718 1350l0-1 4-1 0-1 3-1 0-1M1743 1257l7-2M1958 1452l7 2M1482 1688l6-3 2 0M2487 1479l6 1M2442 1505l7 3M2658 1704l7-1M1824 1289l2-1 0-1 6-2M2078 1501l6 0M1876 1282l3-2 2 0 0-1 2 0M2136 1489l5 0M1592 1390l2 0 0-1 2 0 2-1 0-1M1900 1589l6-3M1559 1715l6 0M2184 1242l2 0 1 2 2 0 1 2 4 2M2284 1330l10 8M2620 1542l2 0 5 3M1524 1428l6-1M1816 1635l8-5M1686 1458l5 0M1938 1675l8-4M1917 1346l0-1 2 0 1-2 2 0 0-1 2-1M2218 1547l0-1 6-1M2010 1299l0-1 8-4M2272 1512l6-1M1510 1608l2 1 2 3 5 3M1629 1715l1 0 1 2 2 0 0 1 3 1 0 1 2 0M2255 1243l5 0 0 1 1 0M2440 1405l6 4M1699 1606l3 2 1 2 3 1 2 3M1821 1716l8 4M2446 1243l5 0 1 1M2630 1404l4 2 0 1 2 0 0 1M2052 1380l7-4M2344 1587l3-1 0-1 3-1 0-1M2116 1348l3-1 1-2 2 0 0-1 2-1M2403 1557l3-1 0-1 2 0 0-1 2 0M1829 1492l7 2M2056 1698l3 0 0-1 3 0 0-1 1 0M2353 1260l6-2M2585 1456l6 2M2181 1415l5-2M2480 1618l2 0 0-1 3-1 0-1 2 0 0-1M1570 1248l1 2 3 1 1 2 13 10M1621 1293l0 1 8 6 4 5 7 5M1983 1526l3 0 0 1 4 1M2194 1711l6 0M1517 1468l5 1M2531 1266l6-2M1493 1243l0 1 2 0 0 1 5 2 0 1 2 0 0 1M1616 1357l0 1 3 1 3 4 4 2M1958 1573l3 1 0 1 3 1 0 1 3 2M2109 1714l0 1 3 0 0 1 4 1M1633 1242l2 0 0 1 5 0M1815 1402l4 2 0 1 2 0 0 1M2140 1604l8 6M2265 1716l2 1 0 1 6 2M1596 1550l9-4M2597 1326l0-1 11-7M1667 1493l5 0M2659 1286l7-4M2326 1448l4 0 0-1 1 0M2603 1658l2 0 1-2 2 0 0-1 3-1M2277 1473l5 1M2534 1683l6-3M1924 1321l13-10M2150 1565l10-5M2115 1462l5 0M2382 1673l0-1 2 0 0-1 2 0 0-1 3-1M2137 1440l6-1M2421 1649l7-4 0-1M1529 1589l5 3 1 2 2 0 0 1M1672 1718l2 0 6 3M2296 1241l6 1M2464 1389l1 0 1 2 2 0 0 1 3 1M2062 1310l7-5 0-1M2340 1524l4-1M1954 1368l1-2 3-1 0-1 5-4M2237 1581l1-2 7-4M1847 1419l7-4M2116 1642l4-2 0-1 6-5M1759 1465l6 0 1-1M1997 1698l2-1 1-2 6-3M2557 1228l1 0 36 37M1687 1506l5 0 0 1 2 0M1897 1724l5-1 0-1 3 0 0-1M2455 1215l3 1 0 1 3 1 3 2 0 1M2568 1331l0 1 9 7M1625 1546l0 1 5 2M1816 1737l5 0M2362 1218l6 1M2540 1394l5 3M2254 1221l6-2 0-1 7-1 0-1 10-1M2349 1482l17 0 2-1M1645 1435l6 2M1977 1661l3 2 13 14M2042 1729l0 1 4 2 7 8 4 2M2605 1254l3-1 0-1 2 0 0-1 3-1 0-1M1580 1479l5 0M2482 1306l7-6M1493 1523l0-1 3 0 0-1 3-1M2372 1361l10-8M2655 1574l7-5M2331 1367l4-6 1 0 0-2 1 0 3-4 0-2 1 0 2-3 9-18 2-2 0-2 4-7 0-2 3-5 0-2 5-11M2408 1181l7-15M2415 1793l5-9 1-4 3-4 0-2 1 0 3-5 0-2 2-2 2-5 1 0 2-5 1 0 14-22M2184 1462l6-1M2424 1695l0-1 3-1 0-1 3-1 0-1 3-2M1716 1216l1 0 7 8 4 2 11 12M1747 1246l12 13 11 9 0 1M2107 1500l1 0 0 1 4 0M2334 1719l3-2 2 0 0-1M1640 1227l0 1 3 1 0 1 18 17M1703 1298l3 4 8 7 3 5 7 6M2062 1554l10 6M2213 1735l11 1M1946 1218l5 1M2123 1393l0 1 2 0 0 1 3 1M2417 1595l1 2 5 3M2566 1745l3 1 0 1 2 0M1751 1261l6-4M1996 1482l4 0M1689 1264l3-2 5-6 9-7 4-5M1872 1543l15-9"/>
<path stroke="#00aaff" d="M1472 1343l4-2 0-1M1757 1553l7-3M2725 1345l7-4M1750 1255l9-1M1950 1449l8 3M1475 1691l7-3M2493 1480l6 0M2732 1691h0M2449 1508l3 0 0 1 5 1M2649 1706l1-1 6 0 2-1M1832 1285l0-1 10-5M2071 1502l5 0 0-1 2 0M1883 1279l0-1 2 0 0-1 2 0 0-1 3-1M2130 1488l6 1M1598 1387l2 0 5-3M1892 1594l8-5M1552 1714l5 0 0 1 2 0M2194 1248l14 11M2269 1317l15 13M2627 1545l7 4M1530 1427l6-2M1808 1640l3-1 1-2 2 0 0-1 2-1M1691 1458l8 0 0-1M1929 1680l9-5M1924 1341l3-1 1-2 2 0 0-1 2-1M2211 1549l4-1 0-1 3 0M2018 1294l10-6M2264 1513l2 0 0-1 6 0M1519 1615l2 1 3 4 4 2 2 3M1619 1708l0 1 6 3 1 2 3 1M2261 1244l3 0 5 2M2433 1401l1 0 1 2 2 0 0 1 3 1M1708 1614l4 2 2 3 3 1 2 3M1810 1709l11 7M2452 1244l7 1M2622 1399l5 3 0 1 3 1M2059 1376l10-6M2334 1593l10-6M2124 1343l11-7M2395 1560l2 0 0-1 6-2M1836 1494l7 1M2047 1701l9-3M2359 1258l7-1M2579 1455l6 1M2186 1413l7-2M2472 1624l5-3 0-1 3-1 0-1M1588 1263l0 1 6 4 4 5 4 2 10 11 4 2 0 1 5 4M1990 1528l0 1 6 2M2187 1711l7 0M1510 1466l7 2M2537 1264l7-2M1502 1249l2 0 1 2 2 0 1 2 2 0 1 2 4 2M1602 1346l14 11M1967 1579l4 2 1 2 3 1 0 1 3 2M2098 1709l5 3 2 0 0 1 2 0 0 1 2 0M1640 1243l0 1 7 1M1807 1397l8 5M2148 1610l11 9M2254 1709l5 3 0 1 3 1 0 1 3 1M1586 1554l2 0 0-1 2 0 0-1 6-2M2608 1318l5-3 0-1 5-3 0-1 3-1M1661 1493l6 0M2666 1282l8-4M2331 1447l6 0M2596 1663l0-1 2 0 0-1 5-2 0-1M2282 1474l6 0M2526 1687l0-1 2 0 6-3M1937 1311l6-4 2-3 3-1 2-3M2139 1572l9-5 0-1 2 0 0-1M2120 1462l6 0M2374 1677l4-2 0-1 4-1M2143 1439l1 0 0-1 5 0M2413 1654l8-5M1537 1595l4 2 1 2 3 1 1 2M1664 1713l4 2 0 1 4 1 0 1M2302 1242l3 1 0 1 5 1M2456 1384l3 1 1 2 2 0 0 1 2 1M2069 1304l5-3 0-1 4-3M2333 1527l7-3M1963 1360l2-1 2-3 5-3 4-5M2224 1591l3-2 1-2 4-2 1-2 4-2M1854 1415l10-6M2102 1656l0-1 10-8 4-5M1766 1464l9-1M1984 1707l13-9M1694 1507l8 1 0 1 1 0M1887 1728l10-3 0-1M2464 1221l8 5 0 1 6 4 2 3M2551 1315l17 16M1630 1549l6 3M1810 1737l6 0M2368 1219l6 1M2533 1390l7 4M2277 1215l0-1 10 0 0 1 4 0 0 1 2 0 0 1 3 1 4 5 1 3 1 0 0 3 3 7 3 17 3 36M2311 1297h0M2312 1305h0M2312 1315h0M2312 1325h0M2313 1335h0M2313 1346h0M2314 1357h0M2314 1367h0M2315 1377h0M2315 1386h0M2316 1395h0M2316 1403l3 40 3 16 4 11 1 0 2 4 1 0 3 4 2 0 0 1 2 0 0 1 3 0 0 1 9 1M1635 1432l10 3M1993 1677l4 5 7 6 7 9 3 2 8 10 1 0 16 18 3 2M2613 1249l2 0 0-1 10-5M1575 1479l5 0M2489 1300l9-7M1483 1527l3-1 0-1 7-2M2382 1353l0-1 3-1 0-1 10-9M2642 1584l13-10M2366 1301l5-12 2-8 2-3 0-3 3-6 0-3 4-9 0-3 3-6 1-6 3-6 0-3 3-6 1-6 2-3 2-8 11-29M2190 1461l1-1 9-1 0-1M2411 1704l13-9M1739 1238l2 1 6 7M2112 1501l5 1M2327 1722l7-3M1661 1247l42 51M2072 1560l14 10M2199 1729l3 1 0 1 2 0 0 1 9 2 0 1M1951 1219l6 1M2116 1390l2 0 0 1 2 0 0 1 3 1M2423 1600l7 5M2559 1742l3 1 0 1 2 0 0 1 2 0M1757 1257l3-1 0-1 3-1 0-1 2 0M1990 1482l6 0M1710 1244l10-9 14-16M1855 1559l7-8 5-3 1-2 3-1 1-2"/>
<path stroke="#0063ff" d="M1476 1340l9-5 1-2M1749 1556l2 0 0-1 6-2M1759 1254l10 0M1941 1446l9 3M1472 1692l3-1M2499 1480l1 0 0 1 6 0M2723 1694l9-3M2457 1510l9 3M2639 1706l10 0M1842 1279l3-1 0-1 2 0 0-1 2 0 0-1 2 0 0-1 2 0 0-1M2062 1503l1-1 8 0M1890 1275l9-4M2123 1488l7 0M1605 1384l9-5M1883 1600l9-6M1543 1712l9 2M2208 1259l2 1 4 5 4 2 7 8 7 5 0 1 3 2 28 29 6 4 0 1M2634 1549l8 4 0 1M1536 1425l5-1 0-1 3 0M1798 1647l5-3 0-1 3-1 0-1 2 0 0-1M1699 1457l9 0M1917 1686l12-6M1932 1336l10-7M2204 1552l7-3M2028 1288l12-7M2256 1514l8-1M1530 1625l5 3 0 1 14 13M1601 1694l1 0 3 4 5 3 0 1 9 6M2269 1246l3 0 0 1 5 1M2423 1395l10 6M1719 1623l7 5 0 1 11 10M1793 1695l8 6 1 2 8 5 0 1M2459 1245l1 0 0 1 3 0 0 1 3 0 0 1 3 0M2613 1393l0 1 9 5M2069 1370l11-7M2323 1601l0-1 3-1 0-1 3-1 5-4M2135 1336l0-1 3-1 0-1 4-2 0-1 2 0 0-1 3-2M2385 1566l2-1 0-1 2 0 0-1 6-2 0-1M1843 1495l10 3M2036 1703l11-2M2366 1257l0-1 9-1M2571 1452l8 3M2193 1411l0-1 3 0 0-1 2 0 0-1 3-1M2462 1631l0-1 10-6M1996 1531l8 4M2179 1710l0 1 8 0M1503 1465l7 1M2544 1262l5-1 0-1 4 0 0-1M1515 1257l0 1 3 1 3 4 3 1 0 1 11 9 1 2M1581 1325l1 0 20 21M1978 1587l13 11M2085 1700l0 1 3 1 1 2 2 0 1 2 2 0 0 1 4 2M1647 1245l0 1 9 2M1798 1391l2 1 1 2 2 0 1 2 3 1M2159 1619l3 2 6 7 4 2 0 1 4 3M2239 1697l0 1 15 11M1576 1560l2-1 0-1 2 0 0-1 6-2 0-1M2621 1309l0-1 3-1 1-2 4-2 1-2 4-2M1653 1492l1 0 0 1 7 0M2674 1278l9-4M2337 1447l0-1 7 0 0-1M2585 1669l11-6M2288 1474l7 1M2517 1690l9-3M1950 1300l4-2 0-1 1 0 3-4 4-2 2-3M2127 1581l12-9M2126 1462l8-1M2364 1682l10-5M2149 1438l0-1 7-1M2403 1660l10-6M1546 1602l5 3 0 1 7 5 1 2M1651 1705l3 1 1 2 2 0 1 2 2 0 1 2 3 1M2310 1245l10 5M2445 1376l5 3 0 1 3 1 0 1 3 1 0 1M2078 1297l14-12M2324 1531l9-4M1976 1348l7-5 9-10M2210 1604l0-1 7-5 0-1 7-6M1864 1409l13-9M2084 1673l4-5 14-12M1775 1463l10-3M1970 1717l0-1 3-1 0-1 3-1 0-1 3-1 1-2 2 0 0-1 2-1M1703 1509l11 2M1875 1731l12-3M2480 1234l14 13 10 13 4 3 1 3 3 2 10 14 3 2 1 3 3 2 7 10 4 3 3 5 1 0 7 8M1636 1552l9 5M1800 1736l2 0 0 1 8 0M2374 1220l10 3M2523 1383l2 1 1 2 2 0 1 2 2 0 0 1 2 1M1472 1227l4 0M1625 1427l0 1 5 1 0 1 5 1 0 1M2625 1243l2-1 0-1 2 0 0-1 2 0 0-1 2 0 0-1 5-2M1566 1480l2-1 7 0M2498 1293l0-1 3-1 3-4 4-2 0-1 4-3M1472 1532l2 0 0-1 2 0 0-1 7-3M2395 1341l17-16M2628 1596l14-12M2200 1458l4 0 0-1 6-1M2397 1714l14-10M2117 1502l9 1 0 1M2317 1726l3-1 0-1 7-2M2086 1570l2 1 17 18M2180 1715l5 4 2 3 3 1 1 2 2 0 0 1 6 3M1957 1220l10 3M2106 1383l3 1 1 2 2 0 1 2 2 0 1 2M2430 1605l1 2 3 1 0 1 7 5 1 2M2547 1735l12 7M1765 1253l0-1 3-1 0-1 2 0 0-1 6-3M1982 1483l7 0 0-1 1 0M1734 1219l0-1 3-2 1-3 3-2 1-3 2-1 6-10 1 0 6-11 1 0 3-7 1 0 2-6 1 0M1829 1597l0-2 2-2 1-4 1 0 4-8 2-3 1 0 0-2 2-1 1-3 1 0 2-4 2-1 2-4 5-4"/>
<path stroke="#001cff" d="M1486 1333l2 0 0-1 7-4 0-1 3-2M1740 1561l9-5M1769 1254l10 0M1931 1442l2 0 0 1 5 1 0 1 3 1M2506 1481l2 0 0 1 7 0M2713 1698l0-1 3 0 0-1 3 0 0-1 3 0 0-1 1 0M2466 1513l0 1 3 0 0 1 7 2 0 1M2629 1706l10 0M1853 1273l2 0 0-1 2 0 0-1 2 0 0-1 5-2M2053 1503l9 0M1899 1271l11-4M2114 1488l9 0M1614 1379l11-7M1872 1607l11-7M1533 1708l0 1 10 3M2642 1554l2 0 1 2 2 0 1 2 2 0 0 1 3 2M1544 1423l0-1 3 0 0-1 6-2M1787 1655l1-2 2 0 1-2 7-4M1708 1457l2 0 0-1 7 0M1906 1692l0-1 2 0 0-1 2 0 0-1 2 0 5-3M1942 1329l12-8M2194 1557l2-1 0-1 2 0 6-3M2040 1281l6-3 0-1 4-1 0-1 2-1M2246 1516l10-2M1549 1642l14 15 1 0 31 32 6 4 0 1M2277 1248l11 5M2412 1387l1 0 1 2 2 0 1 2 3 1 1 2 2 0 0 1M1737 1639l11 12 45 44M2469 1248l0 1 7 2 0 1 2 0 0 1 2 0 0 1M2602 1385l1 2 10 6M2080 1363l3-2 1-2 2 0 0-1 5-3M2311 1609l12-8M2147 1327l12-9M2375 1572l0-1 3-1 0-1 2 0 0-1 2 0 0-1 3-1M1853 1498l9 2M2026 1705l0-1 8 0 0-1 2 0M2375 1255l9-1M2563 1449l3 1 0 1 5 1M2201 1407l2 0 0-1 2 0 0-1 2 0 0-1 3-1M2451 1639l0-1 4-2 1-2 2 0 1-2 3-1M2004 1535l10 5M2169 1709l10 1M1494 1463l9 2M2553 1259l4 0 0-1 6-1M1536 1276l10 11 6 5 4 6 7 6 3 5 4 3 11 13M1991 1598l3 2 0 1 10 9 4 6 2 1M2067 1685l2 1 6 7 3 1 3 4 4 2M1656 1248l0 1 2 0 0 1 2 0 7 4M1786 1382l3 2 1 2 3 1 1 2 4 2M2176 1634l0 1 20 19 8 10 1 0 27 28 7 5M1565 1566l11-6M2634 1299l1-2 3-1 1-2 4-2 2-3 3-1M1645 1492l8 0M2683 1274l11-5M2344 1445l9-1M2574 1676l0-1 4-1 0-1 5-2 0-1 2 0 0-1M2295 1475l9 0M2507 1695l0-1 5-1 0-1 5-1 0-1M1964 1288l1 0 20-21M2110 1596l1 0 7-8 5-3 0-1 4-3M2134 1461l8 0M2354 1687l10-5M2156 1436l9-2M2391 1668l12-8M1559 1613l11 9 8 9M1633 1689l3 4 4 2 2 3 4 2 1 2 3 1 1 2M2320 1250l12 7M2433 1365l2 3 5 3 0 1 5 3 0 1M2092 1285l0-1 5-3 5-6 4-2 1-2M2314 1536l10-5M1992 1333l1 0 4-6 7-6 11-14M2189 1626l1 0 3-5 7-6 4-6 6-5M1877 1400l3-2 2-3 3-1 0-1 8-7M2061 1697l3-4 10-9 7-9 3-2M1785 1460l7-1 0-1 3 0 0-1 3 0 0-1M1953 1728l1 0 1-2 2 0 1-2 8-4 1-2 3-1M1714 1511l13 4M1860 1733l15-2M1645 1557l11 7M1789 1733l4 2 7 1M2384 1223l12 6M2511 1374l3 2 1 2 3 1 1 2 4 2M1476 1227l14 2M1611 1420l2 1 0 1 2 0 0 1 4 1 0 1 4 2 2 0M2638 1236l16-8M1557 1480l9 0M2512 1281l0-1 3-1 4-5 8-6M2732 1532h0M2412 1325l0-1 5-4 3-5 8-7 0-2 3-2 3-5 1 0M2609 1617l0-1 4-3 3-5 1 0 11-12M2210 1456l0-1 4 0 0-1 10-3M2379 1727l18-13M2126 1504l10 1M2306 1729l11-3M2105 1589l9 13 1 0 2 5 1 0 2 3 0 2 1 0 1 3 1 0 0 2 7 11 0 2 3 4 1 4 1 2 1 0 1 4 19 38 1 0 8 15 5 7 2 1 0 2 1 0 7 8M1967 1223l4 1 0 1 2 0 0 1 2 0 2 1 0 1 2 0 0 1M2095 1374l0 1 3 1 1 2 3 1 0 1 4 2 0 1M2442 1616l1 0 15 16M2532 1722l4 5 3 1 2 3 6 4M1776 1246l0-1 2 0 0-1 2 0 0-1 8-4M1972 1484l10-1M1765 1173l3-7M1768 1793l5-10 4-13 2-3 1-6 7-20 0-3 3-8 0-4 3-8 1-8 4-12 0-4 6-21 0-4 8-26 0-3 3-7 0-3 3-6 0-3 2-3 2-7 7-14"/>
<path stroke="#2a00ff" d="M1498 1325l1 0 1-2 2 0 0-1 4-2 0-1 4-2 0-1M1729 1567l2-1 0-1 2 0 0-1 2 0 0-1 2 0 0-1 3-1M1779 1254l5 0 0 1 5 0 0 1 1 0M1920 1436l11 6M2515 1482l2 1 7 0M2702 1701l1 0 0-1 7-1 0-1 3 0M2476 1518l2 0 0 1 2 0 0 1 2 0 2 1 0 1 2 0 0 1M2617 1704l1 0 0 1 11 1M1864 1268l12-6M2043 1504l9 0 0-1 1 0M1910 1267l0-1 5-1 0-1 6-2M2105 1487l7 0 2 1M1625 1372l7-4 1-2 3-1M1860 1616l12-9M1521 1702l0 1 3 1 0 1 9 3M2653 1561l4 2 1 2 3 1 0 1 4 3M1553 1419l2 0 0-1 5-1 0-1 3-1M1774 1664l0-1 4-2 0-1 2 0 1-2 6-3M1717 1456l10-1M1894 1697l2 0 0-1 2 0 0-1 2 0 0-1 6-2M1954 1321l3-2 1-2 2 0 0-1 7-5M2184 1562l10-5M2052 1274l8-4 0-1 4-1 0-1M2236 1518l4 0 6-2M2288 1253l14 8M2399 1375l4 5 5 3 0 1 4 3M2480 1254l5 2 0 1 3 1 0 1 5 3M2588 1374l1 0 3 4 3 1 2 3 5 3M2091 1355l3-2 1-2 3-1 0-1 6-5M2298 1620l3-2 1-2 5-3 1-2 3-1 0-1M2159 1318l2-1 2-3 4-2 2-3 3-1 1-2M2363 1579l12-7M1862 1500l1 0 0 1 3 0 0 1 3 0 0 1 3 1M2015 1705l11 0M2384 1254l11 0M2553 1446l7 2 0 1 3 0M2210 1403l5-2 0-1 2 0 0-1 2-1 2 0M2438 1648l6-4 1-2 3-1 1-2 2 0M2014 1540l0 1 4 1 0 1 7 4M2158 1706l11 3M1485 1460l9 3M2563 1257l11-1M2010 1617l4 6 1 0 7 9 2 1 1 3 3 2 2 4 2 1 2 4 2 1 10 14 4 3 6 9 1 0 10 11M1667 1254l6 3 0 1 3 1 0 1 5 3M1772 1370l4 3 4 5 6 4M1552 1576l10-7 0-1 3-1 0-1M2648 1288l4-5 5-3 0-1 7-6M1636 1492l9 0M2694 1269l11-5M2353 1444l1 0 0-1 8-1M2562 1683l2-1 0-1 2 0 0-1 2 0 0-1 6-3M2304 1475l9 1M2496 1699l0-1 8-2 0-1 3 0M1985 1267l9-10 8-12 1 0 6-11 1 0 3-7 1 0 0-2 4-6 0-2 9-19 10-31M2037 1793l2-4 0-4 3-8 0-3 8-29 0-4 3-9 3-17 15-52 7-16 0-2 6-11 0-2 1 0 3-5 0-2 1 0 9-15 1 0 3-5 1 0 3-5 1 0 3-4M2142 1461l7 0 2-1M2342 1693l12-6M2165 1434l0-1 9-2M2379 1676l0-1 12-7M1578 1631l2 1 4 6 7 6 3 5 8 7 3 5 7 6 4 6 17 16M2332 1257l17 14M2416 1349l9 10 8 6M2107 1271l21-19M2299 1546l15-10M2015 1307l3-4 2-1 2-4 1 0 2-4 1 0 2-4 3-4 1 0 1-3 2-1 1-3 10-14M2161 1665l6-10 1 0 0-2 2-1 4-7 2-1 0-2 2-1 1-3 3-2 0-2 4-3 3-5M1893 1386l3-4 6-5 4-6 4-3 0-2 1 0 0-1 2-1 0-2 1 0M2033 1732l9-13 2-1 2-4 4-3 0-2 3-2 3-5 1 0 4-5M1798 1456l6-1 0-1 2 0 8-4M1933 1742l20-14M1727 1515l2 0 0 1 5 1 0 1 2 0 6 3M1843 1731l0 1 5 0 1 1 11 0M1656 1564l4 2 1 2 3 1 1 2 7 5M1773 1726l5 3 2 0 0 1 2 1 2 0 0 1 5 1M2396 1229l3 1 1 2 2 0 1 2 3 1 1 2 3 1 0 1 4 3M2493 1357l1 0 7 9 10 8M1490 1229l9 3 0 1 4 1 0 1 5 3M1594 1407l0 1 7 5 1 2 9 5M2654 1228l6-3 2 0 0-1 7-2 0-1 3 0 0-1M1544 1481l13-1M2527 1268l2-3 6-4 0-1 12-11M2718 1541l2-1 0-1 2 0 1-2 2 0 0-1 3-1 0-1 4-1 0-1M2435 1299l3-5 4-3 0-2 3-2 0-2 3-2 0-2 2-1 2-4 3-4 1 0 0-2 2-1 1-3 2-3 1 0 0-2 1 0 2-4 1 0 0-2M2582 1654l0-2 1 0 5-9 3-4 1 0 1-3 2-1 1-3 1 0 2-4 2-1 1-3 1 0 6-7M2224 1451l15-7 0-1M2359 1742l20-15M2136 1505l13 3M2291 1733l1-1 9-1 0-1 4 0 0-1 1 0M1979 1229l9 5 0 1 4 2 0 1 5 4M2076 1356l12 13 7 5M2458 1632l4 3 2 4 1 0 5 7 2 1 1 3 3 2 0 2 3 2 1 3 2 1 7 11 1 0 2 4 2 1 0 2 2 1 14 20 1 0 4 6 2 1 1 3 14 13M1788 1239l16-9M1959 1485l13-1"/>
<path stroke="#7100ff" d="M1510 1316l4-2 2-3 4-2 0-1 4-3M1718 1574l11-7M1790 1256l12 4M1910 1429l0 1 10 6M2524 1483l0 1 9 1M2691 1703l4 0 0-1 7-1M2486 1523l5 2 0 1 3 1 0 1 3 1 0 1M2606 1701l5 1 0 1 3 0 0 1 3 0M1876 1262l2 0 0-1 2 0 0-1 5-1 0-1 3-1M2033 1506l1 0 0-1 8 0 1-1M1921 1262l11-3M2095 1487l10 0M1636 1365l0-1 3-1 1-2 3-1 1-2 4-2M1847 1626l13-10M1507 1693l9 6 0 1 2 0 1 2 2 0M2665 1570l14 13M1563 1415l10-5M1760 1674l2-1 1-2 3-1 1-2 3-1 1-2 3-1M1727 1455l1 0 0-1 8 0M1882 1703l0-1 3 0 0-1 2 0 0-1 2 0 0-1 2 0 3-2M1967 1311l13-10M2173 1568l11-6M2064 1267l13-7M2227 1521l5-1 0-1 4 0 0-1M2302 1261l1 2 4 2 2 3 6 4 3 4M2382 1358l0 1 17 16M2493 1262l7 5 0 1 10 9M2571 1356l17 18M2104 1344l8-6 5-6M2285 1632l0-1 6-4 0-1 7-6M2173 1306l1 0 2-3 3-1 0-1 8-7M2351 1588l3-1 1-2 3-1 0-1 5-3 0-1M1872 1504l2 0 0 1 5 1 0 1 3 1M2004 1704l11 1M2395 1254l11 1M2543 1441l3 1 0 1 2 0 0 1 2 0 0 1 3 0 0 1M2221 1398l0-1 8-4 0-1 2 0 0-1M2424 1659l14-11M2025 1547l2 1 1 2 3 1 1 2 3 1 1 2M2146 1700l2 1 0 1 2 0 8 4M1476 1457l0 1 9 2M2574 1256l1-1 10 0M2732 1457h0M1681 1263l15 13 3 4M1754 1351l2 1 3 5 1 0 12 13M1522 1610l4-7 2-1 0-2 4-3 0-2 20-19M2664 1273l8-9 10-9 1-3 1 0 5-7 1 0 9-14M1626 1492l10 0M2705 1264l12-4M2362 1442l10-3M2550 1690l12-7M2313 1476l10 1M2484 1702l9-2 0-1 3 0M2151 1460l10 0M2330 1698l3-1 0-1 5-1 0-1 2 0 0-1 2 0M2174 1431l1 0 0-1 3 0 0-1 3 0 0-1 3-1M2366 1684l10-6 0-1 3-1M2349 1271l1 2 11 10 3 5 4 3 4 6 3 2 0 2 3 2 2 4 2 1 10 14 2 1 2 4 4 3 1 3 2 1 3 5 1 0 9 10M2128 1252l0-1 12-11 4-6 1 0 6-7M2282 1561l2-3 4-2 4-5 7-5M2046 1265l1-3 1 0 5-8 0-2 1 0 2-3 0-2 1 0 3-5 0-2 1 0 3-5 0-2 2-2 6-13 1 0 1-4 3-4 2-6 2-2 3-9 2-2 6-13 0-2 5-9M2097 1794l9-19 0-2 3-5 3-9 4-7 0-2 3-6 1 0 0-2 3-5 3-9 2-2 2-6 1-2 1 0 2-6 6-10 0-2 11-18 0-2 1 0 1-3 1 0 0-2 1 0 6-10M1914 1362l2-4 1 0 2-4 1 0 0-2 1 0 2-4 1 0 0-2 10-16 0-2 4-6 0-2 3-5 0-2 7-14 4-11M1988 1188l9-22M1997 1793l1 0 2-6 3-6 1 0 2-6 1 0 1-2 0-2 6-9 0-2 1 0 4-8 1 0 2-3 0-2 1 0 3-6 2-1 0-2 1 0 4-6M1814 1450l9-4 0-1 2 0 1-2 2 0 1-2 3-1 0-1 3-2M1910 1761l0-1 8-6 2-3 3-1 1-2 3-1 1-2 5-3M1742 1521l8 5 2 3 3 1 9 12M1820 1716l7 8 6 3 0 1 2 0 0 1 2 0 0 1 3 0 0 1 3 0M1672 1576l0 1 10 9 10 14M1752 1706l15 16 3 1 0 1 3 1 0 1M2414 1242l0 1 6 5 4 6 2 1 2 4 1 0 5 7 1 3 1 0 12 19 0 2 1 0 1 3 1 0 12 22 2 3 1 0 0 2 2 3 1 0 2 5 1 0 5 9 1 0 2 4 13 16M1508 1238l13 12 0 2 2 1 1 3 4 5 0 2 1 0 3 5 0 2 6 13M1564 1358l6 12 0 2 5 10 2 2 0 2 2 3 1 0 0 2 1 0 4 7 3 2 3 5 3 2M2672 1220l12-4 3 0 0-1 7-1M1529 1482l15-1M2547 1249l17-16 6-8M2700 1555l1 0 3-4 3-1 2-3 4-2 1-2 4-2M2466 1255l1 0 2-4 1 0 0-2 1 0 1-3 1 0 0-2 1 0 1-3 1 0 0-2 8-12 0-2 1 0 4-9 1 0 0-2 3-4 1-4 2-2 2-6 3-4 0-2 12-25M2514 1794l4-11 11-23 3-10 4-7 1-4 3-4 0-2 3-5 3-9 3-6 1 0 4-11 1 0 2-6 3-4 0-2 2-2 8-16 1 0 0-2 2-2 2-5 1 0 2-3 0-2 1 0 2-4 1 0M2239 1443l2 0 0-1 8-4 1-2 4-2 0-1 6-5M2335 1765l15-16 4-2 1-2 3-1 1-2M2149 1508l15 4M2274 1734l17-1M1997 1242l3 4 8 7 1 3 2 1 4 7 1 0 4 7 1 0 33 56 1 0 5 9 3 4 1 0 1 3 2 1 0 2 3 2 2 4 1 0 3 4M1804 1230l16-8 2 0 0-1M1944 1487l6 0 0-1 7 0 0-1 2 0"/>
<path stroke="#b800ff" d="M1524 1305l14-12M1707 1582l0-1 3-1 1-2 2 0 1-2 4-2M1802 1260l9 5 1 2 3 1 0 1 5 4M1893 1413l13 14 4 2M2533 1485l10 2M2680 1705l10-1 0-1 1 0M2497 1530l4 2 13 14M2588 1688l3 2 2 3 3 1 1 2 2 0 1 2 2 0 0 1 2 0 0 1 2 0 0 1M1888 1257l9-3 0-1 8-2M2019 1507l14-1M1932 1259l1-1 3 0 0-1 8-1 0-1M2086 1486l7 0 0 1 2 0M1648 1356l2-3 3-1 0-1 8-6 0-1M1833 1639l3-2 7-8 3-1 1-2M1488 1673l2 3 3 2 3 5 1 0 4 5 6 4 0 1M2679 1583l4 5 3 2 8 11 1 0 2 4M1573 1410l5-2 0-1 2 0 0-1 4-2M1747 1684l13-10M1736 1454l1-1 13-1M1865 1709l5-1 0-1 12-4M1980 1301l0-1 3-1 3-4 4-2 0-1 4-3M2162 1576l5-3 1-2 2 0 0-1 3-1 0-1M2077 1260l4-2 0-1 6-2 0-1 5-2 0-1 2 0M2212 1526l3-1 0-1 3 0 9-3M2318 1276l1 0 3 5 4 3 4 6 2 1 1 3 3 2 0 2 3 2 1 3 1 0 5 8 1 0 1 3 2 1 0 2 1 0 5 8 2 1 0 2 1 0 11 16 2 1 1 3 2 1 3 5 4 4M2510 1277l2 3 3 2 3 5 4 3 1 3 3 2 1 3 1 0 2 4 2 1 0 2 2 1 2 4 3 4 1 0 1 3 2 1 0 2 2 1 1 3 1 0 5 8 2 1 0 2 2 1 1 3 2 1 1 3 1 0 3 5 4 3 0 2 1 0 2 3M2117 1332l9-8 4-6 4-3 3-5M2264 1655l6-8 4-3 3-5 8-7M2187 1294l21-22M2334 1605l2-3 11-9 4-5M1882 1508l3 1 0 1 3 1 0 1 2 0 0 1 7 5M1987 1698l3 1 0 1 5 1 0 1 9 2M2406 1255l11 3M2532 1435l11 6M2231 1391l10-6 1-2M2410 1671l3-2 4-5 3-1 0-1 4-3M2036 1556l6 4 0 1 8 7M2132 1690l2 1 3 4 9 5M1472 1456l1 0 0 1 3 0M2585 1255l8 0 0 1 3 0M2722 1453l3 1 0 1 7 2M1699 1280l1 2 3 2 3 5 4 3 0 2 4 3 0 2 3 2 0 2 3 2 0 2 2 1 2 4 3 4 1 0 1 3 1 0 2 4 2 1 0 2 2 1 2 4 16 20M1472 1784l4-14 0-4 3-10 3-19 15-67 3-7 0-3 7-21 7-14 0-2 8-13M2699 1231l4-7 1 0 0-2 1-2 1 0 2-6 1 0 5-11 8-22 0-3 4-12M2726 1793l6-23M1616 1492l10 0M2717 1260l11-4M2372 1439l10-2 0-1M2537 1697l2 0 0-1 11-6M2323 1477l10 1M2473 1705l1-1 4 0 6-2M2161 1460l10-1M2319 1703l0-1 5-1 0-1 6-2M2184 1427l5-1 0-1 2 0 0-1 3-1M2354 1692l12-8M2151 1227l3-4 1 0 3-5 3-2 1-3 2-1 6-10 2-1 0-2 1 0 2-4 1 0 0-2 2-3 1 0 0-2 2-3M2258 1593l3-6 1 0 1-3 2-3 1 0 0-2 2-1 6-9 1 0 5-7 2-1M1952 1288l4-12 2-3 0-3 3-6 2-8 2-3 8-26 2-3 2-8 6-14 0-3 5-11M1835 1437l8-7 0-2 3-2 0-2 1 0 2-3 8-18 0-3 3-9 4-23 0-7 4-30 0-11 3-29 0-13 3-28 0-11 4-28 0-7 4-17 0-4 5-17M1888 1793l0-2 5-10 2-3 1 0 0-2 1 0 5-8 8-7M1764 1542l6 10 10 27 0 3 3 8 1 8 3 9 0 4 6 24 1 9 4 13 0 4 2 5 1 7 3 7 0 3 4 9 0 3 4 7 0 2 1 0 3 7 1 0 3 5M1692 1600l1 2 2 1 1 3 7 10 0 2 2 2 2 5 2 2 1 4 2 2 5 10 0 2 1 0 2 6 1 2 1 0 2 6 1 2 1 0 2 6 2 2 1 4 2 2 3 7 1 0 5 10 2 3 1 0 0 2 1 0 6 9M1538 1283l8 20 0 3 3 6 0 3 3 6 0 3 4 9 0 3 3 6 5 16M2694 1214l5 0 0-1 10 1 0 1 4 1 0 1 5 4 0 2 2 2 2 5 3 14 3 36M2728 1287h0M2729 1296h0M2729 1305h0M2730 1315h0M2730 1326h0M2731 1337h0M2731 1349h0M2732 1361h0M2732 1372h0M1511 1484l1 0 0-1 15 0 0-1 2 0M2570 1225l1 0 3-5 1 0 6-8 1 0 17-25M2677 1585l9-14 14-16M2260 1428l3-4 3-2 0-2 2-1 2-3 0-2 1 0 1-3 1 0 6-14 1-6 4-11 7-42 0-7 2-11 1-17 4-32 0-9 4-27 0-7 3-15 0-6 7-30 4-10M2316 1794l3-5 1-4 1 0 1-2 0-2 1 0 3-6 1 0 6-9 2-1M2164 1512l0 1 2 0 6 3 0 1 4 1 1 2 6 4M2253 1727l3 1 0 1 2 0 0 1 2 0 0 1 3 0 0 1 3 0 1 1 6 0 1 1M1822 1221l11-4 0-1 5-1 0-1 5-1M1926 1490l5 0 1-1 5 0 7-2"/>
<path stroke="#ff00ff" d="M1538 1293l0-1 4-2 0-1 14-13 10-13 4-3 0-2 3-2 1-3 1 0 4-7 1 0 0-2 1 0 2-4 1 0 0-2 2-3 1 0 1-4 1 0 13-27 1-5 2-3 0-3 2-3 5-15 2-9M1615 1793l1-7 3-8 0-3 11-41 0-4 1-1 5-23 8-24 0-3 4-12 2-3 0-3 3-5 1-5 3-6 1 0 0-2 7-14 1 0 1-3 1 0 0-2 1 0 2-4 1 0 0-2 1 0 5-8 4-5 4-3 6-8 15-12M1820 1273l9 11 2 4 1 0 0 2 4 5 0 2 1 0 2 5 1 0 0 2 9 18 1 5 4 7 1 5 5 10 0 3 4 7 0 2 2 3 2 7 3 4 3 9 2 2 7 14 1 0 5 9 1 0 0 1 2 1 0 2 1 0M2543 1487l11 3 0 1 3 0 0 1 6 2 0 1 3 1 0 1 2 0 0 1 12 11 8 14 0 2 4 7 7 22 0 4 3 9 0 4 8 33 0 5 10 43 7 20 3 5 0 2 4 5 0 2 2 1 2 4 1 0 5 6 9 5 2 0 0 1 3 0 0 1 4 0 1 1 17 0M2514 1546l1 2 2 1 4 7 1 0 0 2 1 0 4 8 1 0 1 4 1 0 2 6 4 6 0 2 7 14 0 3 3 5 0 2 10 23 1 5 7 14 0 2 4 6 0 2 6 9 0 2 1 0 2 4 1 0 0 2 3 2 1 3 1 0 5 6M1905 1251l4-2 3 0 0-1 8-1 0-1 5 0 0-1 12 0 0 1 3 0 4 2 0 1 5 4 3 5 5 19 5 51M1962 1335h0M1962 1343h0M1963 1352h0M1963 1361h0M1964 1370h0M1964 1379h0M1965 1389h0M1965 1398h0M1966 1406h0M1966 1415h0M1966 1422l3 38 3 15 0 5 6 16 7 8 7 3 5 0 0 1 17 0 0-1 5 0M1944 1255l11-1 0-1 15 0 1 1 4 0 11 5 0 1 8 7 0 2 1 0 1 3 1 0 0 2 7 15 1 7 3 8 0 5 2 6 4 24 11 78 8 31 9 18 4 5 6 4 1 2 2 0 0 1 4 1 0 1 2 0 0 1 6 1 0 1 19 3M1661 1344l14-13 3-5 3-2 1-3 4-3 0-2 3-2 0-2 2-1 1-3 2-3 1 0 3-6 1 0 2-5 1 0 2-5 2-2 1-4 1 0 2-4 0-2 1 0 3-6 0-2 10-22 5-16 2-3 0-3 7-19 0-3 4-10 0-3 3-7 0-3 4-13M1750 1793l2-9 4-9 0-3 10-29 10-22 0-2 4-7 0-2 1 0 4-9 2-2 0-2 1 0 2-5 8-11 1-3 2-1 0-2 1 0 2-4 1 0 7-10 3-2 3-5 1 0 14-15M1472 1651l4 5 1 3 2 1 0 2 2 1 1 3 1 0 5 7M2697 1605l5 7 2 1 0 2 1 0 2 4 1 0 1 3 1 0 1 3 2 3 1 0 0 2 1 0 2 4 1 0 0 2 1 0 2 4 1 0 0 2 1 0 3 6 1 0 1 3 1 0 3 5M1584 1404l3-1 1-2 2 0 1-2 10-6 0-1 11-9 4-6 2-1 1-3 2-1 1-3 1 0 2-4 1 0 0-2 4-5 0-2 3-4 0-2 7-15 0-3 4-10 0-3 6-22 0-4 8-40 0-5 6-32 0-5 9-44M1674 1793l4-17 8-19 0-2 1-2 1 0 1-4 8-14 1 0 3-6 2-1 0-2 3-2 1-3 3-2 4-6 1 0 10-11 6-4 4-5 3-1 2-3 7-5M1750 1452l3 0 1-1 23 0 0 1 3 0 5 2 0 1 6 5 3 5 4 13 0 5 3 16 2 27M1803 1533h0M1804 1541h0M1804 1550h0M1804 1560h0M1805 1569h0M1805 1579h0M1806 1590h0M1806 1600h0M1807 1610h0M1807 1619h0M1808 1628h0M1808 1636h0M1808 1643l5 45 3 12 3 7 1 0 2 4 5 3 2 0 0 1 11 1 0-1 7 0 0-1 8-1 0-1 3 0 7-3M1994 1289l0-1 3-1 0-1 21-20 7-10 3-2 1-3 2-1 1-3 1 0 4-7 1 0 5-10 1 0 1-3 1 0 0-2 3-4 2-6 1 0 1-2 4-12 3-5 0-3 4-8 0-3 5-15M2069 1794l9-33 3-17 3-9 0-4 4-13 0-4 3-9 4-19 14-42 7-13 0-2 1 0 3-5 0-2 1 0 1-3 1 0 0-2 1 0 6-10 1 0 3-5 3-2 3-5 1 0 7-8 14-11M2094 1251l0-1 5-2 0-1 2 0 0-1 5-2 0-1 2 0 0-1 5-2 0-1 2 0 0-1 3-1 0-1 2 0 0-1 3-1 1-2 2 0 1-2 3-1 0-1 10-9 0-2 1 0 2-3 5-13 3-18 1-15M2152 1790h0M2153 1781h0M2153 1771h0M2154 1759h0M2154 1745h0M2154 1728h0M2155 1709h0M2155 1690h0M2156 1671h0M2156 1654h0M2157 1639h0M2157 1626h0M2158 1616h0M2158 1607l1-18 3-16 0-5 3-7 0-3 3-4 0-2 1 0 3-5 1 0 3-4 3-1 0-1 4-2 0-1 2 0 0-1 5-2 0-1 9-3 0-1 13-4M2137 1310l7-8 1-3 2-1 3-6 1 0 0-2 1 0 2-3 0-2 1 0 2-3 11-21 0-2 8-16 7-21 2-3 1-6 7-18 0-3 3-7 0-3 5-15M2201 1794l3-7 0-3 3-7 3-13 4-9 0-3 3-6 5-16 6-13 0-2 15-30 1 0 1-3 1 0 0-2 2-3 1 0 0-2 1 0 3-6 1 0 10-14M2208 1272l6-8 1 0 8-12 1 0 0-2 1 0 2-4 1 0 0-2 1 0 4-8 1 0 1-4 1 0 13-28 4-13 3-6 0-3 4-10 1-6M2262 1793l2-10 2-4 0-4 4-11 0-4 3-8 7-31 4-11 0-4 14-42 4-7 3-9 3-4 0-2 5-9 1 0 1-3 1 0 0-2 1 0 5-9 1 0 3-5 8-9M1897 1518l1 0 0 1 8 7 2 4 2 1 0 2 1 0 3 6 1 0 9 18 0 2 6 14 0 3 4 9 0 3 4 10 0 3 10 30 0 3 10 27 13 23 1 0 4 6 4 2 3 4 2 0 0 1 2 1M2417 1258l3 1 0 1 2 0 0 1 2 0 0 1 2 0 0 1 7 4 0 1 12 11 0 2 2 1 1 3 2 3 1 0 7 14 1 0 3 9 7 14 1 5 3 5 0 3 3 5 0 3 3 5 5 15 10 21 0 2 7 11 0 2 1 0 3 6 1 0 2 4 10 12 6 4 2 3 6 3 0 1M2242 1383l7-4 4-5 7-5 6-8 4-3 1-3 3-2 0-2 2-1 1-3 3-3 0-2 1 0 4-8 1 0 12-26 0-3 4-8 0-3 3-7 0-3 3-7 1-7 3-8 10-43 0-4 1-1 3-12 0-4 4-12 0-4 4-14M2335 1794l1-6 4-10 0-3 4-8 0-3 2-3 1-5 5-11 2-2 2-6 1 0 1-2 0-2 1 0 5-10 2-3 1 0 3-6 2-1 0-2 3-2 0-2 3-2 1-3 3-2 4-6 24-23M2050 1568l3 5 1 0 4 6 2 1 1 3 2 1 1 3 3 3 1 3 1 0 2 5 1 0 2 3 5 10 1 0 1 4 1 0 1 3 1 0 1 4 1 0 3 7 1 0 3 7 2 2 0 2 1 0 3 7 1 0 7 13 1 0 1 3 2 3 1 0 0 2 2 1 2 4 4 5 3 2 3 5 6 5M2596 1256l7 1 0 1 3 0 0 1 3 0 0 1 4 1 0 1 3 1 0 1 3 1 1 2 4 2 3 5 3 2 1 3 2 1 2 5 1 0 1 3 1 0 2 6 1 0 4 12 3 5 0 3 2 3 5 15 0 3 11 33 3 13 3 6 0 3 8 17 0 2 6 10 0 2 1 0 3 6 1 0 6 9 1 0 3 4 3 1 2 3 7 4 0 1 9 4M1472 1256l6-2 4 0 0-1 4 0 1-1 8 0 0-1 13 1 1 1 3 0 0 1 2 0 0 1 2 0 0 1 2 0 0 1 6 5 2 4 1 0 1 4 1 0 2 4 7 25 8 57 0 8 6 52 4 19 0 5 7 24 8 14 10 8 15 5 20 1M2728 1256l4-1M2382 1436l3 0 6-2 0-1 3 0 0-1 8-2 0-1 2 0 0-1 2 0 0-1 7-2 0-1 13-7 0-1 5-3 5-7 2-1 0-2 1 0 3-5 5-16 4-29 1-17M2452 1329h0M2453 1320h0M2453 1311h0M2454 1301h0M2454 1290h0M2455 1278h0M2455 1265h0M2456 1253h0M2456 1241h0M2456 1229h0M2457 1218h0M2457 1208h0M2458 1199h0M2458 1191l2-24M2460 1790l2-10 0-6 4-16 4-8 0-2 1 0 5-9 1 0 7-8 5-3 1-2 3-1 0-1 3-1 0-1 3-1 0-1 3-1 0-1 3-1 0-1 2 0 1-2 4-1 0-1 3-1 0-1 3-1 0-1 4-1 0-1 8-4 0-1 2 0 0-1 5-2 0-1M2333 1478l16 3 0 1 5 1 0 1 2 0 7 4 9 8 2 4 1 0 0 2 1 0 1 3 1 0 2 6 1 0 1 5 4 8 0 3 3 8 0 4 3 10 0 4 8 41 0 6 3 14 0 5 4 22 3 10 0 4 4 11 0 3 6 13 0 2 4 5 1 3 1 0 6 7 6 3 0 1 10 3 20 0 0-1 5 0M2171 1459l26-1 0 1 7 0 7 2 0 1 6 2 0 1 4 3 7 12 0 3 4 11 5 37 9 123 6 34 5 12 1 0 2 4 3 2 1 2 3 1 0 1 6 1 0 1 15 0 0-1 5 0 0-1 8-1 15-5 0-1 3 0M2194 1423l2 0 0-1 2 0 0-1 2 0 0-1 2 0 2-1 0-1 6-2 0-1 8-4 0-1 3-1 1-2 4-2 0-1 12-11 1-3 2-1 2-5 1 0 1-3 1 0 0-2 6-12 0-3 3-7 5-22 0-6 3-15 0-7 3-20 0-9 4-33 0-10 4-30 0-8 5-30M2279 1793l5-22 4-11 3-5 1-4 2-2 0-2 2-3 1 0 3-6 2-1 1-3 2-1 3-5 1 0 3-4 4-2 6-7 3-1 0-1 5-3 1-2 7-4 0-1 16-11M2181 1185l3-6 1 0 1-4 2-2 3-7M2191 1793l5-10 5-15 2-3 1-6 3-6 0-3 3-7 0-3 4-11 7-30 3-8 0-4 4-11 1-7 3-7 3-14 7-18 0-3 3-5 1-5 3-5 3-9 1 0 5-10M1472 1388h0M1472 1398h0M1473 1407h0M1473 1415l3 33 3 12 0 4 3 6 0 2 1 0 1 3 1 0 3 4 3 1 0 1 2 0 0 1 3 0 0 1 8 0 0 1 7 0M2599 1187l11-21M2610 1794l9-22 8-24 1-7 2-4 0-4 4-11 0-4 4-12 0-4 6-21 0-4 4-12 4-18 6-17 0-3 4-8 0-3 4-7 0-3 6-11 0-2 1 0 4-8M2183 1524l7 8 6 10 0 2 4 7 0 3 4 9 10 43 0 5 4 16 0 5 6 27 0 5 8 29 3 6 0 3 9 16 1 0 8 9M1843 1213l0-1 3 0 0-1 3 0 0-1 3 0 0-1 3 0 1-1 4 0 0-1 11 0 0 1 2 0 3 2 2 3 3 10 2 20M1883 1251h0M1884 1261h0M1884 1275h0M1885 1294h0M1885 1319h0M1885 1348h0M1886 1377h0M1886 1402h0M1887 1422h0M1887 1436h0M1888 1447h0M1888 1455l1 15 3 13 2 4 1 0 3 4 2 0 0 1 18 0 1-1 6 0 1-1"/>
<path stroke="#000" d="M1472 1727l9-3 0-1 5-1 0-1 3 0 0-1 11-4 0-1 2 0 0-1 2 0 0-1 2 0 2-1 0-1 2 0 0-1 2 0 0-1 3-1M2007 1201l1 0 0 1 3 0 0 1 9 2 0 1 5 1 0 1 2 0 2 1 0 1 6 2 0 1 5 2 0 1 2 0 1 2 2 0 1 2 3 1 1 2 3 1 1 2 5 3 0 1 22 21 7 10 4 3 6 9 3 2 1 3 4 3 2 4 1 0 3 5 4 3 1 3 3 2 3 5 1 0 27 28 5 3 2 3 3 1 1 2 3 1 0 1 5 3 0 1 4 2 0 1 7 4 1 2 2 0 0 1 3 1 0 1 3 1 0 1 5 3M2442 1537l6 2 0 1 2 0 0 1 2 0 0 1 7 2 0 1 2 0 0 1 2 0 0 1 2 0 2 1 0 1 2 0 4 2 0 1 6 2 0 1 5 2 0 1 2 0 1 2 2 0 0 1 3 1 0 1 3 1 0 1 3 1 1 2 4 2 0 1 9 7 6 8 2 1 2 4 2 1 5 7 5 9 1 0 2 5 6 9 0 2 1 2 1 0 1 4 1 2 1 0 2 6 2 2 2 6 1 2 1 0 1 4 21 40 6 9 1 0 0 2 3 2 0 2 1 0 14 15 3 1 1 2 2 0 1 2 2 0 0 1 4 1 0 1 2 0 0 1 2 0 0 1 3 0 0 1 3 0 0 1 3 0 1 1 4 0 0 1 6 0 0 1 22 0 0-1 12-1"/>
<path stroke="#ff0000" d="M1793 1541h0M2678 1372h0M2681 1370h0M1697 1271h0M1995 1463h0M2000 1464h0M2277 1637h0M2278 1637h0M2279 1638h0M2283 1641h0M2285 1642h0M2394 1729h0M1524 1668h0M1529 1666h0M2051 1211h0M2064 1219h0M2064 1220h0M2070 1223h0M2113 1257h0M2139 1277h0M2142 1279h0M1987 1216h0M1995 1220h0M2107 1306h0M2113 1311h0M2126 1321h0M2134 1326h0M2707 1690h0M1769 1320h0M1770 1319h0M1832 1305h0M1833 1304h0M1840 1301h0M1555 1405h0M1556 1405h0M1557 1405h0M1559 1404h0M2138 1222h0M2145 1224h0M1492 1434h0M1862 1607h0M1657 1458h0M1991 1646h0M2522 1219h0M2524 1220h0M2530 1225h0M2532 1227h0M2533 1227h0M2534 1228h0M2536 1229h0M2537 1230h0M2541 1233h0M2554 1243h0M2555 1244h0M1874 1370h0M1881 1366h0M1954 1331h0M1960 1328h0M1964 1326h0M1967 1324h0M1666 1732h0M2220 1243h0M2483 1427h0M2725 1580h0M1856 1731h0M1861 1732h0M2420 1242h0M2420 1242h0M2672 1426h0M2390 1565h0M2391 1564h0M2065 1376h0M2068 1375h0M2069 1375h0M2074 1372h0M1500 1303h0M1502 1304h0M2098 1683h0M2635 1212h0M2640 1214h0M2643 1216h0M2644 1217h0M2645 1218h0M2646 1218h0M2648 1219h0M2654 1223h0M1648 1644h0M1651 1646h0M1769 1738h0M2312 1274h0M2314 1273h0M2318 1272h0M2330 1267h0M2151 1423h0M2154 1423h0M1514 1218h0M1522 1221h0M1692 1350h0M1699 1354h0M1701 1356h0M1844 1657h0M1847 1659h0M2489 1284h0M2499 1279h0M1664 1390h0M1672 1394h0M1678 1398h0M1917 1549h0M1928 1555h0M2700 1230h0M2700 1230h0M2702 1230h0M1860 1426h0M2097 1576h0M2098 1577h0M2099 1577h0M2532 1364h0M2537 1362h0M2540 1360h0M2546 1357h0M2549 1355h0M2616 1309h0M2618 1308h0M2630 1301h0M2654 1629h0M1851 1215h0M1854 1218h0M1856 1219h0M1867 1226h0M1912 1262h0M1916 1265h0M1924 1270h0M1927 1273h0M1841 1372h0M1843 1371h0M1846 1369h0M1849 1368h0M1852 1366h0M2215 1539h0M2218 1539h0M1695 1215h0M1696 1216h0M1702 1220h0M1714 1229h0M1714 1229h0M1722 1235h0M1723 1236h0M1728 1239h0M1736 1246h0M2429 1647h0M1702 1728h0M2256 1237h0M2260 1237h0M2263 1237h0M2504 1412h0M2508 1414h0M2511 1415h0M2029 1336h0M2030 1336h0M2697 1182h0M2163 1604h0M2595 1179h0M2626 1206h0M2634 1214h0M2642 1221h0M2662 1239h0M2669 1245h0M2039 1668h0M2644 1310h0M2609 1362h0M2610 1362h0M1557 1581h0M1573 1591h0M1574 1592h0M1581 1597h0M1586 1600h0M1590 1603h0M1601 1612h0M1635 1648h0M1706 1732h0M1714 1738h0M1728 1745h0M1732 1746h0M1740 1749h0M1741 1749h0M1746 1751h0M1748 1751h0M2254 1240h0M2260 1238h0M2270 1234h0M2273 1233h0M2274 1233h0M2482 1438h0M2485 1439h0M2491 1441h0M2493 1441h0M2496 1442h0M2505 1445h0M2510 1446h0M1522 1630h0M1524 1631h0M1524 1632h0M1661 1758h0M1663 1759h0M2154 1275h0M2163 1269h0M2165 1268h0M2171 1264h0M1507 1216h0M1512 1216h0M1513 1216h0M1722 1401h0M1725 1402h0M1726 1403h0M1972 1577h0M1973 1578h0M1985 1585h0M2006 1599h0M2156 1748h0M2165 1750h0M2168 1750h0M2672 1237h0M2674 1237h0M2678 1236h0M2693 1231h0M2570 1277h0M2574 1274h0M2581 1270h0M2453 1329h0M1907 1772h0M1908 1773h0M1918 1782h0M1842 1173h0M1844 1175h0M1845 1176h0M1848 1179h0M1852 1182h0M2239 1432h0M2240 1432h0M2555 1627h0M2568 1617h0M2572 1614h0M2573 1613h0M2574 1612h0M1769 1186h0M1799 1213h0M1829 1240h0M1840 1250h0M2470 1661h0M1595 1203h0M1601 1204h0M1629 1664h0M1630 1664h0M1634 1660h0M2106 1191h0M2108 1193h0M2110 1194h0M2120 1201h0M2126 1206h0M2218 1292h0M2228 1300h0M2232 1303h0M2232 1303h0M1925 1218h0M1930 1218h0M1832 1242h0M1835 1241h0M1840 1238h0M1842 1238h0M2091 1446h0M2360 1634h0M2363 1636h0M2371 1642h0M2372 1643h0M2378 1648h0M2481 1749h0M2499 1761h0M2501 1762h0M2505 1764h0M2416 1774h0M1616 1325h0M2317 1768h0M2332 1781h0M2333 1782h0M1489 1397h0M1498 1391h0M1500 1390h0M1813 1582h0M1825 1574h0M1826 1573h0M1827 1572h0M1838 1566h0M1839 1565h0M2253 1172h0M2258 1176h0M2264 1181h0M2266 1183h0M2271 1188h0M2273 1189h0M2282 1198h0M2285 1200h0M2286 1201h0M2668 1433h0"/>
<path stroke="#ff4700" d="M2679 1372h0M2686 1368h0M1694 1272h0M1695 1272h0M1712 1266h0M2282 1640h0M1521 1670h0M1526 1667h0M2052 1211h0M2094 1242h0M2104 1249h0M2130 1270h0M2134 1273h0M2135 1274h0M2147 1283h0M1983 1213h0M2108 1307h0M2418 1498h0M1772 1318h0M1778 1314h0M1788 1309h0M1832 1304h0M1846 1297h0M2140 1223h0M2344 1373h0M1851 1614h0M1861 1608h0M1996 1643h0M1997 1642h0M2545 1236h0M2246 1538h0M1958 1329h0M1959 1328h0M1659 1730h0M1661 1730h0M2482 1427h0M2723 1579h0M2731 1584h0M2408 1243h0M2667 1424h0M2008 1400h0M2019 1396h0M2020 1395h0M2385 1567h0M1487 1293h0M1498 1301h0M1805 1487h0M2106 1679h0M2107 1678h0M2636 1212h0M1640 1638h0M1666 1657h0M1766 1736h0M2148 1424h0M2149 1424h0M2520 1595h0M2521 1595h0M1685 1345h0M1698 1353h0M1965 1518h0M1850 1661h0M1852 1663h0M1853 1663h0M1868 1675h0M2490 1283h0M2493 1282h0M1675 1396h0M1679 1399h0M2705 1230h0M2098 1576h0M2107 1582h0M2304 1732h0M1644 1534h0M2554 1352h0M2613 1311h0M2623 1305h0M2626 1303h0M2630 1301h0M1859 1221h0M1860 1222h0M1883 1239h0M1911 1261h0M2571 1665h0M1844 1370h0M1858 1363h0M2210 1541h0M1698 1217h0M1713 1228h0M1721 1235h0M1742 1251h0M1743 1251h0M2101 1462h0M2428 1647h0M2428 1647h0M2431 1646h0M2465 1622h0M2471 1619h0M1493 1566h0M1490 1772h0M2686 1172h0M2162 1605h0M2659 1237h0M2678 1253h0M2637 1304h0M2426 1203h0M2602 1357h0M2563 1406h0M1614 1624h0M1689 1717h0M2257 1239h0M2279 1231h0M2289 1229h0M2304 1227h0M2442 1421h0M2469 1433h0M1520 1629h0M1662 1758h0M2168 1266h0M1981 1582h0M2153 1747h0M1994 1767h0M1911 1776h0M2336 1386h0M1770 1186h0M1834 1244h0M1840 1249h0M2462 1667h0M1684 1191h0M1604 1683h0M1632 1662h0M2112 1196h0M2120 1201h0M2185 1262h0M2205 1281h0M2222 1295h0M2224 1297h0M2526 1498h0M2361 1635h0M2496 1759h0M1927 1517h0M2312 1763h0M2324 1774h0M2331 1780h0M1505 1387h0M2255 1174h0M2260 1178h0M2666 1433h0"/>
<path stroke="#ff8e00" d="M2680 1371h0M2685 1368h0M2689 1366h0M1699 1271h0M1707 1267h0M2280 1639h0M2059 1216h0M2121 1263h0M2127 1268h0M2140 1278h0M2148 1283h0M1986 1215h0M2011 1229h0M2014 1232h0M2112 1310h0M2115 1312h0M2124 1319h0M2132 1324h0M2691 1695h0M2693 1695h0M1770 1319h0M1787 1309h0M1831 1305h0M1834 1304h0M1849 1296h0M1561 1403h0M1934 1572h0M1940 1570h0M2140 1223h0M2143 1224h0M2153 1227h0M2324 1360h0M2338 1369h0M1655 1458h0M1658 1458h0M1664 1459h0M1992 1645h0M2528 1223h0M1955 1331h0M1958 1329h0M1961 1327h0M1966 1324h0M1972 1321h0M2226 1242h0M2728 1582h0M2730 1583h0M2411 1242h0M2670 1425h0M2014 1397h0M2024 1393h0M2388 1565h0M1490 1296h0M2644 1217h0M2647 1219h0M2663 1229h0M2669 1234h0M2700 1258h0M2729 1282h0M1646 1643h0M1657 1650h0M2316 1273h0M2610 1464h0M2615 1465h0M2147 1424h0M2519 1596h0M2526 1592h0M1524 1222h0M1678 1340h0M1693 1351h0M1859 1668h0M1869 1676h0M1942 1733h0M2502 1278h0M1674 1396h0M2141 1723h0M2703 1230h0M2708 1231h0M1602 1241h0M1852 1422h0M1857 1424h0M2532 1365h0M2542 1359h0M2543 1358h0M2614 1310h0M2620 1307h0M2638 1638h0M2652 1630h0M1846 1212h0M1862 1223h0M1881 1237h0M1885 1240h0M1897 1250h0M1910 1260h0M1915 1264h0M2251 1470h0M2556 1672h0M1846 1369h0M2219 1538h0M1700 1218h0M1703 1221h0M1706 1223h0M1728 1240h0M1732 1243h0M1734 1245h0M2106 1443h0M2112 1443h0M2461 1625h0M2463 1623h0M1496 1568h0M1497 1569h0M1504 1573h0M1700 1727h0M2265 1237h0M2500 1410h0M1569 1762h0M1579 1770h0M1584 1774h0M1496 1777h0M2160 1607h0M2162 1606h0M2614 1195h0M1921 1715h0M2265 1236h0M2282 1231h0M2501 1444h0M1555 1657h0M1666 1761h0M2159 1272h0M2167 1267h0M1518 1216h0M1526 1217h0M1710 1394h0M1711 1395h0M1721 1400h0M1728 1404h0M1982 1583h0M1984 1584h0M1992 1589h0M2690 1232h0M2700 1229h0M2582 1269h0M1897 1764h0M2556 1626h0M1594 1202h0M1605 1682h0M1638 1657h0M2135 1214h0M2189 1266h0M2211 1287h0M2151 1409h0M1846 1236h0M2075 1441h0M2085 1444h0M2355 1630h0M2470 1739h0M2492 1756h0M2493 1757h0M1621 1321h0M1510 1383h0M1517 1379h0M1808 1586h0M1816 1580h0M1819 1578h0"/>
<path stroke="#ffd500" d="M1792 1541h0M1795 1540h0M2691 1365h0M1705 1268h0M1719 1263h0M2275 1635h0M2302 1655h0M2389 1726h0M2411 1740h0M2054 1213h0M2056 1214h0M2056 1214h0M2062 1218h0M2072 1225h0M2078 1230h0M2112 1256h0M2128 1269h0M2141 1279h0M2146 1282h0M2462 1475h0M2470 1477h0M1990 1217h0M1992 1218h0M1993 1218h0M1994 1219h0M1997 1221h0M2002 1224h0M2093 1295h0M2128 1322h0M2130 1323h0M2134 1326h0M2701 1692h0M1779 1314h0M2101 1501h0M1839 1301h0M1560 1404h0M1563 1403h0M1924 1577h0M1589 1714h0M2316 1355h0M2329 1363h0M1495 1434h0M1506 1432h0M1510 1432h0M1845 1617h0M1865 1606h0M1656 1458h0M1984 1649h0M1986 1648h0M1990 1646h0M2532 1226h0M2538 1231h0M2542 1234h0M2550 1240h0M2551 1241h0M1888 1362h0M2250 1537h0M1956 1330h0M1970 1322h0M1971 1322h0M1478 1586h0M1669 1732h0M2216 1243h0M2484 1428h0M2413 1242h0M2421 1242h0M2664 1422h0M2016 1397h0M2017 1396h0M2383 1568h0M2070 1374h0M2443 1543h0M1491 1296h0M1495 1299h0M1496 1300h0M1506 1307h0M2094 1684h0M2642 1215h0M2658 1226h0M2673 1237h0M2675 1238h0M2681 1243h0M2683 1244h0M2705 1262h0M2720 1274h0M2731 1283h0M1653 1648h0M1772 1740h0M2317 1272h0M2319 1271h0M2617 1466h0M2618 1466h0M2526 1592h0M1517 1219h0M1520 1220h0M1686 1346h0M1695 1352h0M1696 1352h0M1544 1474h0M1843 1656h0M1951 1739h0M2508 1275h0M1670 1393h0M1672 1395h0M1920 1550h0M2146 1723h0M2151 1723h0M2707 1231h0M2718 1232h0M1612 1241h0M1843 1417h0M1858 1425h0M2106 1581h0M2112 1585h0M2531 1365h0M2617 1308h0M2625 1304h0M1910 1260h0M1932 1277h0M1933 1278h0M2252 1470h0M2563 1669h0M2570 1665h0M2573 1664h0M1857 1363h0M1865 1359h0M2199 1544h0M2202 1543h0M2218 1539h0M1705 1222h0M1719 1233h0M1720 1234h0M1744 1252h0M1745 1253h0M2454 1629h0M1698 1727h0M2498 1408h0M2509 1415h0M1571 1764h0M2027 1338h0M1933 1383h0M1835 1424h0M2597 1181h0M2599 1183h0M2601 1184h0M2619 1200h0M2636 1215h0M2652 1231h0M2655 1233h0M2016 1684h0M2525 1200h0M2633 1301h0M2434 1205h0M2345 1218h0M1739 1749h0M2431 1413h0M1529 1635h0M1658 1756h0M2189 1253h0M2428 1479h0M1718 1398h0M1997 1593h0M2089 1763h0M2571 1276h0M1911 1692h0M2449 1332h0M2344 1381h0M2685 1555h0M2252 1427h0M2580 1608h0M1781 1196h0M1827 1238h0M1830 1241h0M2168 1464h0M2444 1680h0M2451 1675h0M2458 1670h0M1685 1192h0M2252 1736h0M1618 1672h0M1636 1659h0M2150 1228h0M2187 1264h0M2195 1272h0M2210 1285h0M2216 1290h0M2225 1298h0M2519 1497h0M2521 1497h0M2523 1498h0M2524 1498h0M1843 1237h0M1854 1234h0M2084 1444h0M2359 1634h0M2397 1665h0M2478 1747h0M2326 1693h0M2364 1728h0M1613 1328h0M1929 1517h0M2328 1777h0M1497 1392h0M1777 1612h0M1814 1581h0M1821 1576h0M1824 1575h0M2274 1191h0"/>
<path stroke="#e3ff00" d="M1791 1541h0M2699 1361h0M1696 1272h0M1698 1271h0M1701 1270h0M1702 1269h0M1709 1267h0M1988 1461h0M1998 1464h0M2274 1635h0M2276 1636h0M2287 1644h0M2288 1645h0M2290 1646h0M2294 1649h0M2298 1652h0M2363 1706h0M2374 1715h0M2397 1731h0M1516 1672h0M1522 1669h0M2060 1217h0M2067 1221h0M2069 1223h0M2089 1238h0M2107 1252h0M2117 1260h0M2133 1272h0M2145 1281h0M2153 1287h0M2467 1476h0M1984 1214h0M1991 1217h0M1999 1222h0M2015 1232h0M2016 1233h0M2020 1235h0M2028 1241h0M2028 1242h0M2042 1253h0M2076 1281h0M2086 1290h0M2097 1298h0M2110 1308h0M2117 1314h0M2118 1314h0M2127 1321h0M2690 1696h0M2700 1692h0M1789 1308h0M1795 1305h0M1847 1296h0M1562 1403h0M1570 1400h0M1924 1577h0M1586 1715h0M1594 1714h0M2141 1223h0M2147 1225h0M2156 1228h0M2163 1231h0M2336 1368h0M2345 1374h0M2592 1528h0M2594 1529h0M2596 1530h0M1493 1434h0M1846 1617h0M1860 1609h0M1662 1459h0M1980 1652h0M1983 1650h0M2529 1224h0M1885 1364h0M1966 1325h0M1978 1317h0M1981 1315h0M1479 1587h0M1668 1732h0M2469 1420h0M2476 1424h0M2476 1424h0M2480 1426h0M2484 1428h0M2727 1581h0M1656 1578h0M2417 1242h0M2662 1421h0M2665 1422h0M2009 1399h0M2378 1570h0M2066 1376h0M2084 1367h0M1484 1291h0M1489 1294h0M2104 1680h0M2666 1231h0M2670 1234h0M2672 1236h0M2694 1253h0M2712 1268h0M2716 1271h0M2727 1280h0M2728 1281h0M1641 1639h0M1682 1670h0M2603 1462h0M2607 1463h0M2158 1422h0M2512 1600h0M2525 1593h0M1518 1220h0M1700 1355h0M2223 1707h0M1862 1671h0M1925 1721h0M1929 1724h0M1932 1726h0M1940 1732h0M1948 1737h0M1662 1389h0M1673 1395h0M1916 1549h0M1929 1555h0M2152 1723h0M2720 1233h0M2725 1234h0M1595 1242h0M1598 1241h0M1851 1421h0M1856 1424h0M2096 1575h0M2104 1580h0M2300 1731h0M2635 1298h0M2636 1298h0M2647 1292h0M2630 1643h0M2634 1640h0M2638 1638h0M1854 1217h0M1874 1232h0M1887 1242h0M1889 1244h0M1894 1247h0M1895 1248h0M1906 1257h0M1914 1263h0M2255 1471h0M2256 1471h0M2266 1472h0M1847 1368h0M1882 1349h0M2212 1540h0M1697 1216h0M1700 1219h0M1708 1225h0M1716 1231h0M1718 1232h0M1731 1242h0M2090 1461h0M2099 1461h0M2460 1625h0M2464 1623h0M2466 1622h0M2470 1620h0M1492 1566h0M1687 1724h0M2269 1237h0M2273 1237h0M1501 1699h0M1490 1771h0M1924 1388h0M1937 1380h0M2699 1184h0M2596 1180h0M2596 1181h0M2630 1211h0M2660 1238h0M2670 1246h0M2027 1677h0M2037 1669h0M2643 1308h0M1929 1711h0M2428 1203h0M2430 1204h0M2262 1237h0M2509 1446h0M1531 1636h0M1540 1644h0M1646 1748h0M2182 1257h0M2430 1479h0M1987 1586h0M1990 1588h0M2086 1693h0M2129 1736h0M2157 1748h0M2669 1239h0M2695 1230h0M1669 1443h0M2075 1755h0M2574 1274h0M2588 1265h0M1587 1479h0M1591 1479h0M1996 1769h0M2451 1331h0M1909 1774h0M2338 1385h0M1847 1178h0M2238 1432h0M2244 1431h0M2567 1618h0M1784 1199h0M1797 1210h0M1798 1211h0M1825 1236h0M2167 1464h0M2170 1463h0M2468 1662h0M2356 1708h0M1600 1204h0M1604 1206h0M1606 1206h0M1607 1207h0M1749 1342h0M2027 1537h0M1624 1668h0M1636 1658h0M1637 1658h0M2132 1211h0M2176 1253h0M2201 1277h0M2204 1280h0M2212 1287h0M2142 1404h0M2398 1583h0M2579 1750h0M1837 1240h0M1868 1230h0M1872 1229h0M2054 1434h0M2402 1670h0M2427 1696h0M2480 1748h0M2486 1752h0M2491 1756h0M2495 1758h0M1720 1282h0M1721 1281h0M1729 1276h0M1730 1275h0M2336 1701h0M1625 1318h0M1641 1305h0M1928 1517h0M1544 1357h0M1830 1570h0M2277 1193h0M2283 1198h0M2665 1434h0M2679 1428h0"/>
<path stroke="#9cff00" d="M2301 1654h0M2310 1662h0M2378 1718h0M2401 1734h0M2406 1737h0M1510 1675h0M1519 1671h0M1524 1668h0M2063 1218h0M2098 1244h0M2098 1245h0M2129 1269h0M2151 1286h0M2476 1478h0M1985 1214h0M2017 1234h0M2089 1292h0M2090 1293h0M2100 1301h0M2125 1319h0M2687 1697h0M2704 1691h0M1785 1310h0M2107 1501h0M1830 1306h0M2156 1490h0M2158 1490h0M2160 1491h0M2518 1709h0M1932 1573h0M1574 1715h0M2144 1224h0M2154 1227h0M2602 1533h0M2614 1538h0M1496 1434h0M1508 1432h0M1848 1615h0M1654 1458h0M1985 1649h0M1993 1645h0M2526 1221h0M1877 1368h0M1878 1368h0M1879 1367h0M1880 1367h0M1883 1365h0M1890 1361h0M1894 1359h0M1895 1359h0M2237 1540h0M1975 1319h0M1992 1309h0M2300 1509h0M1476 1585h0M1487 1592h0M1658 1729h0M2228 1242h0M2234 1242h0M2460 1416h0M2729 1583h0M1659 1580h0M2422 1241h0M2432 1241h0M2652 1416h0M2658 1419h0M2008 1400h0M2010 1399h0M2013 1398h0M2015 1397h0M2386 1567h0M2071 1373h0M2082 1368h0M2087 1365h0M2436 1545h0M2438 1544h0M2445 1542h0M1485 1292h0M1499 1302h0M1804 1487h0M2083 1689h0M2086 1688h0M2089 1687h0M2092 1685h0M2668 1233h0M2680 1242h0M2693 1252h0M2698 1256h0M2709 1266h0M1650 1646h0M1660 1653h0M1661 1653h0M1662 1654h0M1669 1660h0M1670 1660h0M1702 1687h0M1738 1716h0M2330 1267h0M2518 1597h0M2523 1594h0M1533 1226h0M1537 1227h0M1555 1238h0M1661 1327h0M1688 1347h0M2224 1707h0M2226 1706h0M1546 1474h0M1917 1715h0M1921 1718h0M1926 1722h0M1927 1723h0M1931 1726h0M1944 1735h0M1949 1738h0M1950 1739h0M1653 1383h0M1666 1391h0M1924 1553h0M1930 1556h0M1931 1557h0M1938 1561h0M2142 1723h0M2153 1723h0M2714 1232h0M2719 1233h0M2728 1235h0M1602 1241h0M1615 1241h0M1848 1420h0M1855 1423h0M1859 1425h0M2101 1578h0M2124 1593h0M1625 1539h0M2544 1358h0M2550 1355h0M2558 1350h0M2562 1348h0M1677 1493h0M2305 1449h0M2618 1649h0M2625 1645h0M2644 1634h0M2647 1633h0M1876 1234h0M1886 1241h0M1926 1272h0M1928 1274h0M1850 1367h0M1851 1367h0M1859 1362h0M1874 1354h0M1711 1227h0M1727 1239h0M2088 1461h0M2411 1657h0M2420 1651h0M2111 1443h0M2439 1638h0M2441 1637h0M2449 1632h0M2456 1628h0M2462 1624h0M2470 1619h0M1507 1575h0M2270 1237h0M2481 1399h0M2490 1404h0M2494 1407h0M2499 1409h0M2503 1411h0M1496 1695h0M1580 1771h0M1491 1773h0M1924 1389h0M2265 1562h0M2148 1616h0M2150 1614h0M2611 1193h0M2621 1202h0M2652 1230h0M1740 1467h0M1741 1467h0M1748 1467h0M2518 1195h0M2630 1298h0M2433 1205h0M1611 1540h0M1521 1629h0M1534 1639h0M1539 1643h0M1580 1681h0M1660 1757h0M2162 1270h0M2177 1260h0M2182 1258h0M2425 1479h0M1675 1371h0M1980 1581h0M2022 1613h0M2111 1721h0M2143 1743h0M2168 1750h0M2667 1240h0M1659 1440h0M1668 1442h0M1951 1638h0M2592 1262h0M1972 1749h0M2447 1334h0M2457 1326h0M2464 1320h0M1896 1762h0M1914 1779h0M1915 1779h0M2340 1384h0M2686 1555h0M2566 1619h0M2568 1617h0M1795 1209h0M1809 1222h0M1838 1247h0M2449 1676h0M2464 1665h0M1790 1288h0M1808 1302h0M2353 1710h0M2354 1709h0M1602 1685h0M2131 1210h0M2153 1230h0M2190 1268h0M2520 1497h0M2528 1498h0M2546 1501h0M1924 1218h0M2143 1404h0M2148 1407h0M2396 1664h0M2400 1668h0M2407 1675h0M2408 1676h0M2417 1685h0M2425 1694h0M2446 1716h0M1724 1279h0M1735 1271h0M2353 1717h0M1631 1313h0M1657 1292h0M1920 1519h0M1924 1518h0M2319 1769h0M2321 1771h0M1521 1376h0M1775 1615h0M1779 1611h0M2678 1429h0M2702 1416h0"/>
<path stroke="#55ff00" d="M1775 1546h0M2693 1364h0M2695 1363h0M2704 1358h0M1715 1264h0M1721 1262h0M1994 1463h0M2280 1639h0M2306 1658h0M2314 1664h0M2321 1670h0M2322 1672h0M2368 1710h0M2382 1721h0M2386 1724h0M2400 1733h0M2406 1737h0M1518 1671h0M2066 1221h0M2115 1258h0M2118 1260h0M2120 1262h0M2124 1265h0M2000 1223h0M2001 1223h0M2004 1225h0M2014 1231h0M2019 1235h0M2046 1256h0M2059 1267h0M2071 1277h0M2084 1288h0M2131 1324h0M2706 1690h0M2106 1501h0M1852 1294h0M1568 1401h0M1915 1581h0M1927 1575h0M1930 1574h0M1579 1715h0M1580 1715h0M2139 1223h0M2146 1224h0M2162 1230h0M2610 1537h0M1500 1433h0M1504 1433h0M1505 1432h0M1844 1618h0M1849 1615h0M1650 1458h0M1658 1458h0M1665 1459h0M1974 1655h0M2247 1538h0M1983 1314h0M2287 1510h0M2296 1509h0M2299 1509h0M1484 1590h0M1489 1593h0M1660 1730h0M2472 1422h0M1661 1581h0M1665 1584h0M1666 1584h0M1668 1585h0M1689 1599h0M1849 1729h0M2418 1242h0M2423 1241h0M2433 1241h0M2437 1242h0M2663 1421h0M2672 1426h0M2044 1384h0M2377 1570h0M2384 1567h0M2083 1367h0M2084 1367h0M2091 1363h0M2414 1552h0M1477 1285h0M1479 1287h0M1480 1288h0M1482 1289h0M1822 1491h0M2637 1212h0M2664 1230h0M2692 1251h0M2707 1264h0M2713 1269h0M2717 1272h0M1643 1640h0M1644 1641h0M1655 1649h0M1663 1655h0M1701 1686h0M1767 1737h0M2313 1274h0M2322 1270h0M2327 1268h0M2331 1266h0M2343 1263h0M2612 1464h0M2500 1606h0M2524 1593h0M1528 1223h0M1541 1230h0M1546 1232h0M1668 1333h0M1962 1517h0M1966 1519h0M2205 1710h0M1875 1681h0M1885 1689h0M1886 1689h0M1894 1696h0M1896 1697h0M1900 1701h0M1907 1707h0M1913 1712h0M1936 1729h0M1938 1730h0M2492 1282h0M2494 1281h0M1630 1368h0M1671 1394h0M1927 1554h0M2138 1722h0M2144 1723h0M2711 1231h0M1594 1242h0M1606 1241h0M1607 1241h0M1621 1241h0M1834 1413h0M1835 1413h0M2109 1583h0M2111 1584h0M2280 1724h0M2302 1731h0M1626 1539h0M1636 1536h0M2545 1358h0M2546 1357h0M1689 1494h0M2628 1302h0M2652 1290h0M2295 1449h0M2300 1449h0M2317 1449h0M2637 1639h0M1882 1238h0M1888 1242h0M1904 1255h0M1908 1258h0M1923 1270h0M2253 1471h0M2579 1660h0M2580 1660h0M1848 1368h0M1860 1362h0M1860 1362h0M2194 1545h0M2196 1545h0M2207 1541h0M2210 1540h0M1709 1225h0M1710 1226h0M1724 1237h0M1746 1253h0M2092 1461h0M2098 1461h0M2414 1655h0M2425 1649h0M2112 1443h0M2450 1631h0M1499 1570h0M1505 1574h0M1506 1574h0M1710 1729h0M2493 1406h0M1582 1773h0M2035 1332h0M1500 1781h0M1929 1385h0M2257 1567h0M1824 1429h0M1841 1422h0M2153 1612h0M2616 1197h0M2653 1232h0M2661 1239h0M2664 1241h0M2009 1689h0M2041 1666h0M2622 1291h0M2627 1296h0M2642 1308h0M1910 1719h0M1923 1714h0M2440 1207h0M2591 1350h0M2592 1351h0M2596 1353h0M2349 1218h0M1518 1627h0M1542 1646h0M1546 1649h0M1629 1733h0M2161 1271h0M2423 1479h0M2435 1479h0M1714 1396h0M1994 1591h0M2104 1714h0M2124 1732h0M1673 1444h0M1954 1641h0M1968 1653h0M2595 1261h0M1908 1689h0M1926 1705h0M1985 1760h0M1986 1761h0M1999 1771h0M2472 1314h0M1910 1775h0M2346 1380h0M2348 1379h0M2350 1378h0M2364 1368h0M2681 1557h0M2686 1554h0M2254 1427h0M2529 1650h0M2551 1631h0M1776 1192h0M1785 1200h0M1787 1202h0M1807 1220h0M1818 1230h0M2466 1664h0M2469 1662h0M1686 1193h0M1796 1292h0M1811 1304h0M2358 1707h0M1596 1203h0M1762 1351h0M1762 1352h0M1771 1358h0M2245 1737h0M2249 1736h0M2252 1736h0M2257 1735h0M2574 1506h0M2134 1399h0M2140 1403h0M2146 1406h0M2578 1749h0M1849 1235h0M1868 1230h0M1895 1227h0M2042 1430h0M2071 1440h0M2400 1668h0M2456 1726h0M1725 1278h0M2339 1704h0M2348 1712h0M2362 1725h0M2371 1734h0M2374 1737h0M2413 1771h0M1626 1317h0M1634 1311h0M1915 1521h0M1518 1378h0M1520 1376h0M1750 1642h0"/>
<path stroke="#0eff00" d="M1794 1541h0M2687 1367h0M2690 1366h0M2703 1359h0M2707 1357h0M1711 1266h0M1714 1265h0M1730 1260h0M1977 1458h0M2288 1644h0M2300 1653h0M2309 1661h0M2318 1668h0M2330 1677h0M2341 1687h0M2349 1694h0M2353 1698h0M2355 1699h0M2384 1722h0M2403 1735h0M2405 1736h0M1500 1680h0M1508 1676h0M1509 1676h0M1517 1672h0M1518 1671h0M2071 1224h0M2083 1233h0M2116 1259h0M2119 1261h0M2152 1287h0M2471 1477h0M2473 1477h0M2008 1228h0M2024 1239h0M2032 1245h0M2067 1274h0M2075 1280h0M2116 1313h0M2421 1499h0M2423 1500h0M2683 1698h0M2685 1697h0M2692 1695h0M2699 1693h0M1776 1315h0M1780 1313h0M1790 1308h0M1818 1292h0M2103 1501h0M1841 1300h0M1853 1294h0M1868 1286h0M1560 1404h0M1566 1402h0M1571 1400h0M1592 1391h0M1905 1586h0M1916 1581h0M1931 1573h0M1576 1715h0M1588 1714h0M2166 1232h0M2326 1361h0M2609 1536h0M2618 1540h0M1497 1433h0M1507 1432h0M1835 1623h0M1651 1458h0M1659 1458h0M1670 1459h0M1674 1459h0M1962 1662h0M1969 1658h0M1976 1654h0M1979 1652h0M2525 1221h0M1893 1360h0M1914 1347h0M1916 1346h0M1977 1318h0M2297 1509h0M2302 1509h0M1483 1590h0M1645 1724h0M1650 1726h0M1651 1727h0M2443 1407h0M2463 1418h0M1658 1579h0M1684 1595h0M1845 1727h0M1852 1730h0M1860 1732h0M2653 1417h0M2364 1576h0M2378 1570h0M2085 1366h0M2418 1551h0M2421 1549h0M2422 1549h0M2428 1547h0M2429 1547h0M2433 1546h0M2440 1544h0M1475 1283h0M1497 1301h0M1505 1306h0M1806 1487h0M1807 1488h0M1814 1489h0M2665 1230h0M2672 1236h0M2691 1251h0M2718 1273h0M2723 1277h0M1652 1647h0M1658 1651h0M1668 1659h0M1697 1682h0M1700 1685h0M1720 1702h0M1751 1726h0M1773 1740h0M2335 1265h0M2341 1263h0M2344 1262h0M2157 1422h0M2485 1615h0M1552 1236h0M1657 1324h0M1664 1329h0M1678 1340h0M1682 1343h0M2218 1708h0M1532 1471h0M1533 1471h0M1536 1472h0M1856 1666h0M1883 1687h0M1902 1702h0M1906 1706h0M2512 1274h0M2513 1273h0M1486 1240h0M1640 1375h0M1652 1383h0M1922 1551h0M1924 1552h0M1926 1554h0M1933 1558h0M1956 1571h0M2129 1721h0M2130 1721h0M2139 1722h0M2706 1231h0M1608 1241h0M1611 1241h0M1832 1412h0M1836 1414h0M2113 1586h0M2120 1590h0M2276 1722h0M2302 1731h0M1631 1537h0M2572 1342h0M2591 1329h0M1688 1494h0M2629 1302h0M2631 1300h0M2649 1291h0M2617 1650h0M2630 1642h0M2644 1635h0M1861 1223h0M1874 1232h0M1875 1233h0M1893 1247h0M1918 1266h0M1920 1268h0M2252 1471h0M2254 1471h0M2260 1472h0M2263 1472h0M2273 1473h0M2543 1679h0M2550 1675h0M2206 1542h0M2089 1461h0M2094 1461h0M2114 1443h0M2115 1442h0M2116 1442h0M2451 1631h0M1509 1576h0M1511 1577h0M1696 1726h0M2266 1237h0M2296 1241h0M2507 1414h0M1514 1711h0M1540 1736h0M1573 1765h0M1580 1771h0M1922 1390h0M2253 1569h0M2267 1560h0M2124 1636h0M2605 1188h0M2606 1189h0M2620 1201h0M2638 1217h0M2022 1680h0M2024 1678h0M2559 1229h0M2632 1300h0M1691 1506h0M2429 1203h0M2432 1204h0M2588 1348h0M1609 1539h0M1744 1750h0M1601 1704h0M2404 1479h0M1572 1237h0M1702 1390h0M2000 1595h0M2102 1712h0M1667 1442h0M1942 1632h0M2078 1757h0M2586 1266h0M1592 1480h0M1917 1698h0M1924 1704h0M1927 1706h0M1934 1713h0M1944 1722h0M1974 1751h0M1981 1757h0M1983 1759h0M1986 1761h0M1989 1764h0M2480 1308h0M1504 1519h0M1507 1518h0M1508 1517h0M2342 1383h0M2677 1559h0M1777 1193h0M1804 1218h0M1814 1227h0M2448 1677h0M2454 1673h0M2460 1668h0M2463 1666h0M1784 1282h0M1799 1295h0M2345 1714h0M2355 1709h0M1614 1210h0M2240 1737h0M2181 1258h0M2141 1404h0M2587 1752h0M1882 1228h0M2056 1435h0M2438 1708h0M2485 1752h0M1727 1277h0M1744 1266h0M2001 1482h0M2333 1699h0M1644 1303h0M1547 1353h0M1599 1292h0M1796 1596h0M2674 1430h0M2693 1421h0"/>
<path stroke="#00ff39" d="M1774 1546h0M2684 1369h0M2709 1355h0M1700 1270h0M1728 1260h0M1731 1260h0M1975 1457h0M1996 1463h0M2289 1645h0M2311 1662h0M2320 1669h0M2323 1672h0M2324 1673h0M2335 1682h0M2366 1708h0M1491 1684h0M1515 1673h0M2131 1271h0M2149 1285h0M2470 1476h0M2483 1478h0M1986 1215h0M2008 1227h0M2091 1293h0M2101 1302h0M2420 1499h0M2425 1500h0M2668 1702h0M2671 1701h0M2677 1700h0M2689 1696h0M2696 1694h0M1805 1299h0M1808 1298h0M2102 1501h0M1859 1290h0M1864 1288h0M2152 1490h0M2155 1490h0M1576 1398h0M1913 1582h0M1914 1582h0M1916 1580h0M1929 1574h0M1566 1715h0M1578 1715h0M1591 1714h0M2158 1228h0M2172 1235h0M2312 1352h0M2319 1357h0M2335 1367h0M2591 1528h0M2612 1537h0M1510 1431h0M1519 1430h0M1843 1618h0M1672 1459h0M1967 1659h0M1972 1656h0M1977 1653h0M1987 1647h0M2547 1238h0M1882 1365h0M1897 1357h0M1905 1353h0M2234 1541h0M2238 1540h0M1979 1317h0M1990 1310h0M1994 1308h0M2007 1301h0M2275 1511h0M2298 1509h0M1482 1589h0M1495 1597h0M1632 1717h0M2221 1243h0M2223 1243h0M2242 1242h0M2260 1244h0M2435 1403h0M1840 1726h0M1847 1728h0M1848 1729h0M1851 1730h0M1860 1732h0M2627 1402h0M2636 1407h0M2650 1415h0M2022 1394h0M2031 1390h0M2042 1385h0M2054 1379h0M2358 1579h0M2372 1572h0M2092 1363h0M2093 1362h0M2109 1353h0M2430 1546h0M2432 1546h0M1494 1298h0M1828 1492h0M2092 1685h0M2098 1682h0M2660 1227h0M2662 1229h0M2690 1250h0M2708 1264h0M1678 1667h0M1687 1674h0M1690 1677h0M1714 1696h0M1720 1702h0M1733 1712h0M1743 1720h0M1744 1721h0M1755 1729h0M1764 1735h0M2324 1269h0M2332 1266h0M2346 1262h0M2596 1460h0M2604 1462h0M2613 1464h0M2152 1423h0M2155 1422h0M2164 1420h0M2501 1606h0M1529 1224h0M1532 1225h0M1545 1232h0M1574 1251h0M1676 1338h0M1963 1517h0M2198 1711h0M2209 1710h0M1538 1472h0M1539 1473h0M1541 1473h0M1876 1682h0M1880 1684h0M1889 1692h0M1922 1718h0M1939 1731h0M2498 1279h0M2509 1275h0M2510 1274h0M2512 1273h0M1657 1386h0M1921 1551h0M1934 1558h0M2120 1718h0M2126 1720h0M2148 1723h0M1616 1241h0M1824 1407h0M1838 1414h0M1842 1417h0M2126 1594h0M2274 1721h0M2295 1730h0M1619 1541h0M1627 1539h0M1645 1534h0M2534 1363h0M2541 1359h0M2576 1339h0M1680 1493h0M2632 1300h0M2644 1294h0M2656 1287h0M2660 1285h0M2301 1449h0M2624 1646h0M2641 1636h0M1868 1228h0M1882 1238h0M2260 1472h0M2262 1472h0M2559 1671h0M2560 1670h0M1892 1343h0M1730 1241h0M2087 1461h0M2406 1660h0M2412 1656h0M2418 1653h0M2423 1650h0M2106 1443h0M2139 1439h0M2434 1641h0M2438 1638h0M2442 1636h0M2456 1627h0M2458 1626h0M1689 1724h0M1691 1725h0M2268 1237h0M2272 1237h0M2277 1237h0M2470 1393h0M2475 1396h0M2478 1398h0M2489 1404h0M1510 1707h0M1513 1710h0M1523 1719h0M1532 1728h0M1559 1753h0M1568 1761h0M2049 1321h0M2056 1315h0M2063 1310h0M2352 1520h0M1939 1378h0M2259 1565h0M1830 1427h0M1832 1426h0M2144 1619h0M2147 1617h0M2624 1204h0M1759 1465h0M2551 1222h0M2616 1287h0M1916 1717h0M1919 1715h0M2594 1352h0M2597 1354h0M2598 1355h0M1610 1540h0M1819 1737h0M2364 1219h0M1598 1701h0M1664 1760h0M2214 1239h0M2216 1238h0M2401 1479h0M1660 1440h0M1935 1627h0M1963 1648h0M2058 1744h0M2580 1270h0M1584 1479h0M1594 1480h0M1973 1750h0M1993 1767h0M1994 1768h0M2482 1306h0M2487 1302h0M2343 1382h0M2368 1364h0M2672 1562h0M2680 1557h0M2305 1395h0M2532 1646h0M1766 1183h0M1768 1185h0M1775 1191h0M1790 1205h0M1791 1206h0M1823 1235h0M1826 1237h0M1694 1198h0M2344 1714h0M1621 1214h0M1745 1339h0M1759 1349h0M2040 1543h0M2049 1547h0M2234 1737h0M1528 1741h0M2580 1507h0M1926 1218h0M1940 1218h0M2144 1405h0M1924 1236h0M2331 1698h0M2341 1706h0M2357 1720h0M1619 1323h0M1648 1300h0M1666 1284h0M1678 1274h0M1916 1521h0"/>
<path stroke="#00ff80" d="M1777 1545h0M2676 1373h0M2702 1359h0M2712 1353h0M2722 1347h0M1700 1270h0M1713 1265h0M1729 1260h0M1735 1258h0M1958 1452h0M1970 1455h0M1972 1456h0M2307 1659h0M2337 1684h0M2356 1700h0M2360 1703h0M2392 1728h0M1504 1678h0M2080 1231h0M2090 1238h0M2097 1244h0M2106 1251h0M2122 1264h0M2484 1479h0M2006 1226h0M2033 1245h0M2074 1280h0M2080 1285h0M2099 1300h0M2430 1502h0M1783 1312h0M1797 1304h0M1815 1294h0M1832 1285h0M1872 1284h0M2523 1713h0M1569 1400h0M1572 1399h0M1911 1583h0M2167 1232h0M2177 1238h0M2196 1250h0M2331 1365h0M2598 1531h0M2602 1533h0M2605 1534h0M1528 1427h0M1826 1629h0M1832 1625h0M1842 1619h0M1857 1610h0M1902 1355h0M2226 1544h0M2241 1539h0M2251 1537h0M1980 1316h0M1986 1312h0M1989 1311h0M2272 1512h0M2281 1511h0M2288 1510h0M2293 1510h0M2302 1509h0M1473 1583h0M1657 1729h0M1662 1730h0M2224 1242h0M2249 1242h0M2260 1243h0M2447 1409h0M2459 1415h0M1692 1601h0M1699 1606h0M1703 1609h0M1837 1724h0M1841 1726h0M2453 1244h0M2659 1420h0M2021 1395h0M2023 1394h0M2030 1391h0M2033 1389h0M2056 1377h0M2350 1584h0M2362 1577h0M2379 1569h0M2088 1365h0M2431 1546h0M1478 1286h0M1818 1490h0M2073 1693h0M2084 1688h0M2095 1684h0M2686 1247h0M1644 1641h0M1685 1672h0M1694 1680h0M1707 1691h0M1749 1725h0M1762 1734h0M2325 1269h0M2358 1258h0M2608 1463h0M2150 1423h0M2177 1416h0M2179 1416h0M2491 1612h0M2516 1598h0M1536 1227h0M1553 1237h0M1650 1318h0M1660 1327h0M1672 1335h0M1966 1518h0M1967 1519h0M1980 1524h0M1986 1527h0M1997 1532h0M2203 1710h0M1532 1471h0M1535 1472h0M1861 1670h0M1868 1675h0M1895 1697h0M1920 1717h0M1473 1235h0M1480 1238h0M1496 1245h0M1941 1562h0M1953 1569h0M2134 1721h0M2134 1722h0M2136 1722h0M2140 1722h0M2150 1723h0M2715 1232h0M1594 1242h0M1608 1241h0M1620 1241h0M1627 1241h0M1825 1407h0M1845 1418h0M1849 1420h0M2126 1594h0M2135 1601h0M2280 1724h0M1621 1540h0M1639 1535h0M1675 1493h0M2622 1306h0M2641 1295h0M2648 1291h0M2322 1448h0M2326 1448h0M2610 1655h0M2623 1647h0M2629 1643h0M2645 1634h0M1873 1231h0M1878 1235h0M2270 1473h0M2539 1681h0M1864 1360h0M1884 1348h0M1902 1336h0M2171 1554h0M2176 1552h0M1712 1227h0M2100 1461h0M2117 1462h0M2395 1665h0M2400 1663h0M2408 1658h0M2417 1653h0M2427 1648h0M2126 1441h0M2127 1441h0M2135 1440h0M2428 1644h0M2455 1628h0M2462 1624h0M1513 1579h0M1518 1582h0M1534 1593h0M1690 1725h0M1692 1725h0M2282 1238h0M2308 1244h0M2471 1394h0M1525 1722h0M1552 1747h0M1493 1775h0M1965 1359h0M2250 1571h0M2254 1568h0M2126 1634h0M2146 1618h0M2627 1207h0M2644 1223h0M1755 1466h0M2000 1696h0M2011 1688h0M2034 1671h0M2444 1209h0M2585 1345h0M2586 1346h0M1622 1545h0M1829 1737h0M2350 1218h0M2538 1393h0M1653 1753h0M2221 1235h0M2256 1220h0M1588 1254h0M1940 1631h0M1949 1637h0M1958 1645h0M1972 1657h0M2569 1277h0M2583 1268h0M2585 1267h0M2594 1261h0M1980 1756h0M1505 1518h0M2477 1700h0M2486 1691h0M1798 1212h0M1818 1231h0M2428 1692h0M2442 1682h0M2445 1679h0M2448 1677h0M1718 1217h0M1774 1273h0M1776 1275h0M2343 1715h0M1605 1206h0M1716 1312h0M1740 1334h0M2064 1555h0M2226 1737h0M2231 1737h0M1553 1721h0M2167 1244h0M2129 1397h0M2130 1397h0M2421 1599h0M2423 1600h0M2565 1745h0M2569 1747h0M1996 1392h0M2345 1710h0M2358 1721h0M2377 1740h0M1636 1310h0M1644 1302h0M1917 1520h0"/>
<path stroke="#00ffc6" d="M1772 1547h0M2705 1358h0M2708 1356h0M1736 1258h0M1962 1453h0M1969 1455h0M2340 1686h0M2352 1697h0M2369 1711h0M2378 1717h0M1476 1690h0M1485 1687h0M1492 1683h0M1495 1682h0M2081 1231h0M2085 1235h0M2468 1476h0M2485 1479h0M2034 1246h0M2052 1261h0M2661 1704h0M2669 1702h0M2680 1699h0M1826 1288h0M1833 1284h0M2079 1501h0M1589 1392h0M1910 1584h0M1920 1579h0M1553 1714h0M1559 1715h0M1561 1715h0M1563 1715h0M1583 1715h0M2164 1231h0M2173 1235h0M2182 1240h0M2190 1246h0M2221 1270h0M2274 1321h0M2304 1346h0M2316 1354h0M2604 1534h0M1515 1430h0M1521 1429h0M1524 1428h0M1830 1626h0M1839 1621h0M1852 1613h0M1663 1459h0M1681 1458h0M1686 1458h0M1892 1360h0M2236 1541h0M2448 1410h0M2462 1417h0M1685 1596h0M1686 1597h0M1686 1597h0M1700 1607h0M1835 1723h0M1842 1726h0M1846 1728h0M2438 1242h0M2443 1242h0M2444 1242h0M2638 1408h0M2040 1386h0M2414 1552h0M2423 1549h0M1821 1491h0M1823 1491h0M2075 1692h0M2676 1239h0M1684 1671h0M1693 1679h0M1695 1681h0M1731 1711h0M1739 1717h0M1742 1719h0M2597 1460h0M2599 1460h0M2167 1419h0M2174 1417h0M2176 1417h0M2484 1616h0M1531 1225h0M1534 1226h0M1538 1228h0M1543 1231h0M1546 1233h0M1568 1247h0M1572 1250h0M1634 1305h0M1646 1315h0M1648 1317h0M1652 1321h0M1683 1343h0M2201 1710h0M2208 1710h0M2211 1709h0M2212 1709h0M1520 1469h0M1523 1469h0M1525 1470h0M1529 1470h0M1858 1667h0M1887 1690h0M1916 1714h0M1918 1716h0M2517 1272h0M2531 1266h0M1540 1280h0M1615 1356h0M1632 1370h0M1639 1374h0M1651 1382h0M1937 1560h0M1947 1566h0M1955 1571h0M1636 1243h0M1637 1243h0M1640 1244h0M1804 1396h0M2125 1593h0M2134 1600h0M2138 1602h0M2277 1723h0M2296 1730h0M2297 1730h0M1611 1544h0M1613 1543h0M2563 1347h0M1664 1493h0M1667 1493h0M1671 1493h0M1672 1493h0M1678 1493h0M2661 1285h0M2670 1280h0M2318 1449h0M2319 1449h0M2533 1683h0M2419 1652h0M2110 1443h0M1503 1572h0M1681 1721h0M1700 1727h0M1706 1728h0M2292 1240h0M2464 1389h0M2477 1397h0M2501 1410h0M1504 1702h0M1517 1713h0M1566 1760h0M2039 1329h0M2073 1301h0M2350 1520h0M1938 1380h0M2247 1573h0M2251 1571h0M2263 1563h0M1838 1423h0M2136 1626h0M2148 1616h0M2030 1674h0M2524 1199h0M2592 1263h0M1899 1724h0M1909 1720h0M1914 1718h0M2574 1337h0M2577 1339h0M2580 1341h0M2581 1342h0M2595 1352h0M2358 1218h0M2547 1398h0M2550 1400h0M2238 1227h0M2030 1717h0M2593 1262h0M1944 1723h0M1952 1730h0M2460 1324h0M2476 1311h0M2484 1304h0M2640 1586h0M2641 1585h0M2680 1558h0M2449 1735h0M2482 1696h0M1812 1224h0M2196 1459h0M2453 1673h0M1700 1203h0M1743 1242h0M2112 1501h0M2327 1722h0M2347 1713h0M2056 1551h0M2070 1559h0M2216 1735h0M2244 1737h0M2124 1394h0M2149 1408h0M2409 1590h0M2413 1593h0M2552 1738h0M2588 1752h0M1756 1258h0M2359 1723h0M2366 1730h0M2391 1753h0M2392 1754h0M1632 1312h0M1676 1276h0M1698 1256h0"/>
<path stroke="#00f1ff" d="M1759 1552h0M2715 1351h0M2330 1678h0M2388 1725h0M1503 1679h0M2092 1240h0M2498 1480h0M2021 1236h0M2096 1298h0M2435 1503h0M2652 1705h0M2670 1702h0M2676 1700h0M2679 1699h0M1798 1303h0M1804 1299h0M2095 1501h0M1858 1291h0M1861 1289h0M2140 1489h0M2145 1489h0M2148 1490h0M2524 1713h0M1901 1589h0M1937 1571h0M1554 1714h0M2179 1239h0M2181 1240h0M2191 1246h0M2286 1331h0M2306 1347h0M2601 1532h0M2616 1540h0M1517 1430h0M1821 1632h0M1685 1458h0M1959 1663h0M1972 1656h0M1884 1364h0M1921 1343h0M1927 1339h0M1938 1332h0M2227 1543h0M2229 1543h0M1985 1313h0M2028 1288h0M2290 1510h0M1472 1582h0M1528 1623h0M1614 1704h0M1617 1707h0M1626 1713h0M1636 1719h0M1637 1720h0M2227 1242h0M2241 1242h0M2439 1405h0M2451 1411h0M2456 1414h0M1733 1635h0M1828 1720h0M2440 1242h0M2441 1242h0M2639 1409h0M2671 1425h0M2096 1360h0M2113 1350h0M2115 1349h0M2126 1342h0M2398 1559h0M2406 1555h0M2415 1552h0M2064 1696h0M2076 1692h0M2093 1685h0M1676 1665h0M1679 1668h0M1688 1675h0M1691 1677h0M1705 1689h0M1727 1707h0M2367 1256h0M2180 1415h0M1548 1234h0M1566 1245h0M1571 1249h0M1651 1320h0M1671 1335h0M2199 1711h0M1514 1467h0M1526 1470h0M1909 1708h0M2532 1266h0M2536 1264h0M2537 1264h0M2543 1262h0M1474 1236h0M1479 1237h0M1510 1253h0M1579 1322h0M1594 1338h0M1637 1373h0M1642 1376h0M1649 1381h0M1954 1570h0M2118 1718h0M1630 1242h0M1635 1242h0M1810 1399h0M1818 1404h0M2134 1599h0M2143 1606h0M2154 1615h0M2240 1698h0M2272 1720h0M2294 1729h0M2301 1731h0M1609 1544h0M2592 1329h0M2596 1326h0M1663 1493h0M2668 1281h0M2330 1448h0M2332 1447h0M2337 1446h0M2614 1652h0M2257 1471h0M2276 1473h0M2280 1474h0M2515 1691h0M2534 1683h0M2381 1673h0M2386 1671h0M2406 1658h0M1531 1590h0M1665 1714h0M1673 1718h0M1677 1720h0M1682 1722h0M2275 1237h0M1519 1716h0M1534 1730h0M1553 1748h0M2350 1521h0M2249 1572h0M1836 1424h0M1849 1418h0M1858 1413h0M2112 1647h0M2112 1646h0M2119 1640h0M2126 1634h0M2133 1628h0M2149 1615h0M2646 1225h0M1739 1467h0M1746 1467h0M1762 1465h0M1770 1464h0M2028 1676h0M2570 1240h0M2595 1266h0M2618 1288h0M1903 1722h0M1924 1713h0M2439 1207h0M2562 1326h0M1624 1546h0M1827 1737h0M2526 1385h0M2554 1401h0M1652 1437h0M1959 1646h0M1960 1646h0M1985 1669h0M2031 1718h0M2062 1746h0M2066 1750h0M2076 1756h0M1578 1479h0M1938 1716h0M1947 1725h0M1950 1728h0M1952 1729h0M2501 1290h0M1480 1528h0M1492 1523h0M1498 1521h0M2658 1572h0M2659 1571h0M2669 1564h0M2269 1420h0M2540 1640h0M1696 1199h0M1708 1209h0M1710 1211h0M1747 1246h0M1757 1256h0M2342 1715h0M1662 1249h0M1723 1319h0M2048 1547h0M2230 1737h0M1934 1218h0M1938 1218h0M2132 1398h0M2145 1405h0M2411 1592h0M1731 1274h0M1739 1269h0M1740 1268h0M1755 1259h0M2007 1482h0M2398 1759h0M2402 1763h0"/>
<path stroke="#00aaff" d="M1477 1340h0M1768 1549h0M1788 1542h0M2728 1344h0M1732 1259h0M1955 1451h0M1961 1453h0M1481 1688h0M2491 1479h0M2045 1255h0M2047 1257h0M2070 1277h0M2434 1503h0M2444 1506h0M2464 1513h0M1829 1286h0M2077 1501h0M1857 1291h0M2151 1490h0M1882 1601h0M1896 1591h0M1587 1715h0M2169 1233h0M2207 1258h0M2266 1314h0M2308 1349h0M2318 1356h0M2320 1357h0M2629 1546h0M1541 1423h0M1542 1423h0M1652 1458h0M1704 1457h0M1956 1665h0M1923 1342h0M1924 1341h0M2269 1512h0M2274 1511h0M2279 1511h0M1522 1617h0M1571 1664h0M1603 1696h0M1622 1711h0M1628 1714h0M2265 1245h0M2414 1388h0M2444 1408h0M2475 1423h0M1664 1583h0M1708 1614h0M1728 1630h0M1818 1714h0M1831 1721h0M1844 1727h0M2415 1242h0M2446 1243h0M2631 1405h0M2644 1412h0M2657 1418h0M2329 1597h0M2114 1349h0M2116 1348h0M2123 1344h0M1832 1493h0M2039 1703h0M2350 1261h0M2365 1257h0M2591 1458h0M2616 1466h0M2188 1413h0M2190 1412h0M2487 1614h0M2506 1603h0M1547 1233h0M1577 1254h0M1580 1256h0M1586 1261h0M1595 1270h0M1596 1271h0M1986 1526h0M2190 1711h0M2190 1711h0M2216 1709h0M2519 1271h0M1499 1247h0M1572 1315h0M1581 1325h0M1592 1336h0M1616 1357h0M1973 1583h0M2087 1702h0M2728 1235h0M1639 1243h0M2165 1624h0M2204 1664h0M2229 1688h0M2252 1707h0M2257 1711h0M2600 1323h0M1662 1493h0M2638 1297h0M2622 1647h0M2264 1472h0M2275 1473h0M2517 1691h0M2518 1690h0M2568 1666h0M2141 1571h0M2109 1462h0M2121 1462h0M2383 1672h0M2137 1440h0M2143 1439h0M2432 1642h0M1502 1572h0M1672 1718h0M1686 1723h0M2276 1237h0M2304 1243h0M2455 1383h0M1529 1725h0M1556 1751h0M2047 1323h0M2052 1318h0M2070 1304h0M2078 1297h0M2085 1291h0M2351 1520h0M2233 1583h0M2266 1561h0M1853 1416h0M2084 1672h0M2106 1652h0M2132 1629h0M2673 1249h0M2608 1278h0M2572 1335h0M2584 1345h0M1627 1548h0M1640 1554h0M1823 1737h0M2377 1221h0M1649 1436h0M1662 1441h0M1957 1643h0M2048 1734h0M2617 1247h0M1588 1479h0M1966 1744h0M2643 1583h0M2179 1462h0M2386 1722h0M2433 1688h0M1728 1227h0M1754 1253h0M2110 1501h0M2319 1725h0M2336 1718h0M1680 1270h0M1692 1285h0M2060 1553h0M2223 1736h0M1957 1220h0M2120 1392h0M2122 1393h0M2420 1598h0M1774 1247h0M1787 1239h0M2368 1731h0"/>
<path stroke="#0063ff" d="M1748 1256h0M1760 1254h0M2333 1680h0M1504 1678h0M2496 1480h0M2419 1498h0M2452 1508h0M2467 1514h0M2644 1706h0M2657 1704h0M1860 1290h0M1901 1270h0M1905 1269h0M1615 1379h0M1616 1377h0M2197 1251h0M2271 1318h0M2274 1322h0M1533 1426h0M1917 1686h0M1919 1685h0M1923 1683h0M1955 1666h0M1922 1343h0M2207 1551h0M2252 1515h0M1526 1621h0M1549 1642h0M1594 1688h0M1597 1690h0M1600 1693h0M1625 1713h0M2272 1246h0M2428 1398h0M1683 1595h0M1746 1648h0M1791 1693h0M2450 1243h0M2466 1247h0M2616 1396h0M2654 1417h0M2127 1341h0M1824 1491h0M1868 1502h0M2028 1704h0M2638 1213h0M1737 1716h0M2344 1262h0M2364 1257h0M2375 1255h0M2582 1456h0M1561 1242h0M1574 1252h0M1617 1290h0M1670 1334h0M1677 1339h0M1972 1521h0M1994 1530h0M2210 1709h0M2220 1708h0M1521 1469h0M1530 1471h0M2555 1259h0M1522 1263h0M1597 1341h0M1619 1360h0M1967 1579h0M2095 1707h0M2098 1709h0M2121 1719h0M1671 1256h0M2153 1614h0M2248 1705h0M2269 1719h0M1647 1492h0M1653 1492h0M1654 1492h0M1664 1493h0M2663 1284h0M2664 1283h0M2302 1449h0M2355 1443h0M2593 1665h0M2603 1658h0M2274 1473h0M2288 1474h0M1937 1311h0M2136 1461h0M2140 1461h0M2379 1674h0M2391 1668h0M2397 1665h0M2138 1440h0M2415 1652h0M2428 1645h0M1508 1575h0M1667 1715h0M1669 1716h0M2320 1250h0M2333 1258h0M2454 1382h0M2476 1396h0M2055 1316h0M1980 1345h0M2070 1688h0M2118 1641h0M1791 1459h0M1990 1703h0M2550 1221h0M2554 1224h0M2567 1237h0M2583 1254h0M2603 1274h0M1686 1505h0M1875 1731h0M1888 1727h0M1922 1714h0M2554 1318h0M1645 1557h0M1794 1735h0M1810 1737h0M1646 1435h0M2478 1309h0M1481 1528h0M1493 1523h0M2607 1619h0M2207 1457h0M2436 1686h0M1704 1205h0M1742 1240h0M1752 1251h0M2123 1503h0M2328 1721h0M1661 1248h0M2199 1729h0M1938 1218h0M1980 1229h0M2406 1588h0M2528 1719h0M1760 1256h0M2396 1757h0M1898 1528h0"/>
<path stroke="#001cff" d="M1734 1564h0M2462 1512h0M1888 1276h0M1612 1380h0M1617 1377h0M1891 1595h0M1543 1712h0M1552 1714h0M1573 1715h0M2220 1270h0M2648 1557h0M2671 1575h0M1789 1653h0M1691 1458h0M1710 1457h0M1934 1335h0M1531 1625h0M1535 1629h0M1554 1647h0M2292 1255h0M2406 1382h0M2426 1397h0M1776 1678h0M1783 1685h0M1821 1716h0M2447 1243h0M2468 1248h0M2058 1376h0M2104 1356h0M1850 1497h0M2355 1259h0M2376 1255h0M2378 1255h0M2230 1392h0M1569 1248h0M1644 1314h0M2004 1535h0M2195 1711h0M2559 1258h0M1518 1260h0M1580 1323h0M1987 1595h0M2099 1710h0M1644 1245h0M2176 1634h0M2209 1668h0M2223 1682h0M2694 1269h0M2296 1475h0M1597 1651h0M1684 1722h0M2316 1248h0M2319 1249h0M2332 1257h0M2421 1355h0M1516 1713h0M2325 1530h0M1956 1366h0M2177 1641h0M2232 1584h0M2042 1720h0M2066 1692h0M2092 1665h0M1742 1521h0M1866 1732h0M1895 1725h0M2518 1277h0M1635 1551h0M2384 1223h0M2393 1227h0M2502 1366h0M2521 1382h0M2539 1393h0M2548 1399h0M2014 1699h0M2648 1231h0M2652 1229h0M1554 1480h0M2529 1266h0M2387 1348h0M2442 1289h0M2634 1591h0M1790 1204h0M2099 1583h0M2442 1615h0M2508 1696h0M1763 1253h0"/>
<path stroke="#2a00ff" d="M1498 1325h0M1752 1555h0M1758 1552h0M1763 1550h0M2316 1667h0M2703 1700h0M2036 1505h0M1864 1613h0M1873 1607h0M1882 1600h0M2230 1279h0M2251 1299h0M2305 1347h0M2658 1565h0M1538 1424h0M1723 1455h0M1725 1455h0M1920 1344h0M1944 1328h0M1965 1313h0M2037 1283h0M2044 1279h0M2056 1272h0M2236 1519h0M1570 1663h0M1584 1678h0M1596 1689h0M2281 1250h0M2290 1254h0M2297 1258h0M2400 1377h0M2415 1389h0M1780 1683h0M2068 1371h0M2086 1358h0M2101 1347h0M2153 1323h0M2163 1314h0M2172 1307h0M2022 1705h0M1734 1713h0M2581 1455h0M2190 1412h0M2229 1393h0M1570 1313h0M1584 1328h0M2022 1631h0M2047 1662h0M2058 1675h0M2076 1693h0M1660 1250h0M1663 1252h0M1776 1374h0M1811 1399h0M2184 1643h0M2258 1712h0M2691 1270h0M2575 1675h0M2520 1689h0M1960 1292h0M2153 1460h0M2378 1675h0M2155 1436h0M2436 1368h0M2453 1381h0M2103 1275h0M2126 1254h0M2324 1531h0M2210 1603h0M2512 1269h0M1622 1545h0M1792 1734h0M2367 1219h0M2518 1379h0M2022 1708h0M2070 1752h0M2621 1245h0M1559 1480h0M1574 1479h0M1581 1479h0M2626 1598h0M2377 1729h0M1729 1228h0M2305 1729h0M1946 1218h0M2504 1690h0"/>
<path stroke="#7100ff" d="M1943 1447h0M2484 1522h0M2604 1700h0M2624 1706h0M1834 1283h0M1621 1375h0M1644 1359h0M1524 1704h0M2330 1364h0M2704 1614h0M1778 1660h0M1812 1637h0M1889 1699h0M1901 1694h0M2177 1566h0M1546 1639h0M2294 1257h0M2302 1262h0M2308 1266h0M2608 1390h0M2092 1354h0M2403 1255h0M2404 1255h0M2546 1442h0M2407 1673h0M2425 1658h0M2002 1534h0M2003 1534h0M2012 1539h0M2166 1708h0M2588 1255h0M2056 1674h0M2685 1273h0M2336 1695h0M1566 1619h0M2422 1356h0M2294 1550h0M2049 1712h0M1817 1449h0M1657 1564h0M1621 1426h0M2646 1232h0M2657 1227h0M1555 1480h0M2528 1267h0M2132 1504h0M1960 1221h0M1994 1239h0M2017 1266h0M1793 1236h0"/>
<path stroke="#b800ff" d="M1482 1336h0M2691 1703h0M1754 1679h0M1752 1452h0M1966 1312h0M2227 1521h0M2330 1289h0M2357 1325h0M2577 1362h0M1875 1505h0M1731 1321h0M1635 1492h0M1686 1494h0M2694 1269h0M2729 1256h0M2325 1477h0M2313 1705h0M2337 1695h0M2356 1691h0M2397 1327h0M2414 1347h0M1912 1719h0M2402 1233h0M1535 1482h0M1558 1480h0M2521 1273h0"/>
<path stroke="#ff00ff" d="M1533 1297h0M1941 1256h0M1594 1398h0M2366 1577h0M2414 1257h0M2405 1676h0M2122 1680h0M2714 1449h0M1705 1287h0M1718 1303h0M2479 1339h0"/>
<path stroke="#000" d="M2000 1465h0M1530 1665h0M2462 1475h0M2082 1286l1 1M2518 1709h0M1555 1405l1 0M2322 1358l0 1M1595 1713h0M2527 1223l1 0M2218 1243h0M2216 1243h0M1862 1733l1 0M2392 1564h0M2072 1373l1 0 0-1M2090 1686l1 0M2666 1232l1 0M1759 1732l1 0M1773 1740l1 1M2310 1275l1 0M2527 1592h0M1515 1218l0 1 1 0M1697 1353l1 0M1514 1218h0M2232 1705h0M1545 1474l1 0M1893 1695l1 1M1915 1713l1 1M2305 1732l1 0M2619 1307l1 0M2642 1636l0-1 1 0M2651 1631l0-1 1 0M1863 1224l1 0M1868 1227l0 1M1842 1371l1 0M1739 1248l1 1M2105 1443l1 0M2513 1417h0M2027 1338h0M1925 1388l1-1M2667 1244l1 0 0 1M2509 1191l1 0M1674 1503h0M2424 1202h0M2613 1365h0M1607 1538h0M2569 1409h0M1556 1580l19 12M1742 1750l10 2M2247 1243l3-2 2 0 0-1 15-5M2500 1443l11 4M2149 1279h0M2170 1750h0M2452 1330l1-1M1597 1480h0M1512 1516l1 0M1514 1516h0M1919 1783h0M1763 1181l1 1M2257 1735l1 0M2233 1304h0M1922 1218h0M2506 1764l1 1M1719 1283l0-1M2326 1693h0M2418 1775h0M1605 1334h0M2311 1762h0M2334 1783h0M1839 1565l1 0M2253 1172l1 0"/>
</g>
<path d="M736 844.7H1366M736 792.3H1366M736 740.0H1366M736 687.7H1366M736 635.3H1366" stroke="#000" stroke-width="1" fill="none" shape-rendering="crispEdges"/>
<path d="M736 844.3h6.3M1366 844.3h-6.3M736 791.9h6.3M1366 791.9h-6.3M736 739.6h6.3M1366 739.6h-6.3M736 687.3h6.3M1366 687.3h-6.3M736 634.9h6.3M1366 634.9h-6.3M762.2 583.0v3.7M762.2 897.0v-3.7M788.5 583.0v3.7M788.5 897.0v-3.7M841.0 583.0v3.7M841.0 897.0v-3.7M867.2 583.0v3.7M867.2 897.0v-3.7M919.8 583.0v3.7M919.8 897.0v-3.7M946.0 583.0v3.7M946.0 897.0v-3.7M998.5 583.0v3.7M998.5 897.0v-3.7M1024.8 583.0v3.7M1024.8 897.0v-3.7M1077.2 583.0v3.7M1077.2 897.0v-3.7M1103.5 583.0v3.7M1103.5 897.0v-3.7M1156.0 583.0v3.7M1156.0 897.0v-3.7M1182.2 583.0v3.7M1182.2 897.0v-3.7M1234.8 583.0v3.7M1234.8 897.0v-3.7M1261.0 583.0v3.7M1261.0 897.0v-3.7M1313.5 583.0v3.7M1313.5 897.0v-3.7M1339.8 583.0v3.7M1339.8 897.0v-3.7M736.0 583.0v5.7M736.0 897.0v-5.7M814.8 583.0v5.7M814.8 897.0v-5.7M893.5 583.0v5.7M893.5 897.0v-5.7M972.2 583.0v5.7M972.2 897.0v-5.7M1051.0 583.0v5.7M1051.0 897.0v-5.7M1129.8 583.0v5.7M1129.8 897.0v-5.7M1208.5 583.0v5.7M1208.5 897.0v-5.7M1287.2 583.0v5.7M1287.2 897.0v-5.7M1366.0 583.0v5.7M1366.0 897.0v-5.7" stroke="#000" stroke-width="2" fill="none"/>
<rect x="736" y="583.0" width="630" height="314.0" fill="none" stroke="#000" stroke-width="4.3"/>
<g font-family="Liberation Sans, Arial, Helvetica, sans-serif" font-size="22.6" text-anchor="middle">
<text transform="translate(736.0 921.3) scale(0.965 1)">0</text>
<text transform="translate(814.8 921.3) scale(0.965 1)">3</text>
<text transform="translate(893.5 921.3) scale(0.965 1)">6</text>
<text transform="translate(972.2 921.3) scale(0.965 1)">9</text>
<text transform="translate(1051.0 921.3) scale(0.965 1)">12</text>
<text transform="translate(1129.8 921.3) scale(0.965 1)">15</text>
<text transform="translate(1208.5 921.3) scale(0.965 1)">18</text>
<text transform="translate(1287.2 921.3) scale(0.965 1)">21</text>
<text transform="translate(1366.0 921.3) scale(0.965 1)">24</text>
</g>
<g font-family="Liberation Sans, Arial, Helvetica, sans-serif" font-size="22.6" text-anchor="end">
<text transform="translate(1410.2 905.1) scale(0.965 1)">0</text>
<text transform="translate(1410.2 852.8) scale(0.965 1)">60</text>
<text transform="translate(1410.2 800.4) scale(0.965 1)">120</text>
<text transform="translate(1410.2 748.1) scale(0.965 1)">180</text>
<text transform="translate(1410.2 695.8) scale(0.965 1)">240</text>
<text transform="translate(1410.2 643.4) scale(0.965 1)">300</text>
<text transform="translate(1410.2 591.1) scale(0.965 1)">360</text>
</g>
<text transform="translate(1440.2 741.0) rotate(-90)" font-family="Liberation Sans, Arial, Helvetica, sans-serif" font-size="20.8" text-anchor="middle" textLength="153.8" lengthAdjust="spacingAndGlyphs">Azimut (grados)</text>
</g>
<g id="p3">
<text x="385.5" y="1174.5" font-family="Liberation Serif, Times New Roman, serif" font-size="130" font-weight="bold" text-anchor="middle" textLength="226" lengthAdjust="spacingAndGlyphs" fill="url(#wgw)" filter="url(#embw)">IGN</text>
<g transform="scale(0.5)" fill="none" stroke-width="4.9" stroke-linecap="square" stroke-linejoin="bevel" shape-rendering="crispEdges">
<defs><linearGradient id="g2_G4" gradientUnits="userSpaceOnUse" x1="0" y1="2583.4" x2="0" y2="1954.0"><stop offset="0.000" stop-color="#ff0000"/><stop offset="0.033" stop-color="#ff0000"/><stop offset="0.050" stop-color="#ff3600"/><stop offset="0.067" stop-color="#ff7500"/><stop offset="0.083" stop-color="#ffad00"/><stop offset="0.100" stop-color="#ffe400"/><stop offset="0.117" stop-color="#e7ff00"/><stop offset="0.133" stop-color="#c1ff00"/><stop offset="0.150" stop-color="#9aff00"/><stop offset="0.167" stop-color="#73ff00"/><stop offset="0.183" stop-color="#55ff00"/><stop offset="0.200" stop-color="#37ff00"/><stop offset="0.217" stop-color="#18ff00"/><stop offset="0.233" stop-color="#00ff08"/><stop offset="0.250" stop-color="#00ff2a"/><stop offset="0.267" stop-color="#00ff4d"/><stop offset="0.283" stop-color="#00ff6c"/><stop offset="0.300" stop-color="#00ff85"/><stop offset="0.317" stop-color="#00ff9f"/><stop offset="0.333" stop-color="#00ffb8"/><stop offset="0.378" stop-color="#00fff1"/><stop offset="0.422" stop-color="#00d4ff"/><stop offset="0.467" stop-color="#009fff"/><stop offset="0.511" stop-color="#006cff"/><stop offset="0.556" stop-color="#0039ff"/><stop offset="0.600" stop-color="#0017ff"/><stop offset="0.644" stop-color="#0b00ff"/><stop offset="0.689" stop-color="#2000ff"/><stop offset="0.733" stop-color="#2800ff"/><stop offset="0.778" stop-color="#2f00ff"/><stop offset="0.822" stop-color="#3700ff"/><stop offset="0.867" stop-color="#3e00ff"/><stop offset="0.911" stop-color="#4600ff"/><stop offset="0.956" stop-color="#4d00ff"/><stop offset="1.000" stop-color="#5500ff"/></linearGradient><linearGradient id="g2_G5" gradientUnits="userSpaceOnUse" x1="0" y1="2583.4" x2="0" y2="1954.0"><stop offset="0.000" stop-color="#ff0000"/><stop offset="0.017" stop-color="#ff1500"/><stop offset="0.033" stop-color="#ff3400"/><stop offset="0.050" stop-color="#ff7700"/><stop offset="0.067" stop-color="#ffba00"/><stop offset="0.083" stop-color="#fff600"/><stop offset="0.100" stop-color="#cdff00"/><stop offset="0.117" stop-color="#96ff00"/><stop offset="0.133" stop-color="#6cff00"/><stop offset="0.150" stop-color="#41ff00"/><stop offset="0.167" stop-color="#16ff00"/><stop offset="0.183" stop-color="#00ff0c"/><stop offset="0.200" stop-color="#00ff2e"/><stop offset="0.217" stop-color="#00ff51"/><stop offset="0.233" stop-color="#00ff73"/><stop offset="0.250" stop-color="#00ff95"/><stop offset="0.267" stop-color="#00ffb7"/><stop offset="0.283" stop-color="#00ffd6"/><stop offset="0.300" stop-color="#00ffef"/><stop offset="0.317" stop-color="#00f5ff"/><stop offset="0.333" stop-color="#00dcff"/><stop offset="0.378" stop-color="#00a3ff"/><stop offset="0.422" stop-color="#006aff"/><stop offset="0.467" stop-color="#0034ff"/><stop offset="0.511" stop-color="#0001ff"/><stop offset="0.556" stop-color="#3200ff"/><stop offset="0.600" stop-color="#5400ff"/><stop offset="0.644" stop-color="#7600ff"/><stop offset="0.689" stop-color="#8a00ff"/><stop offset="0.733" stop-color="#9200ff"/><stop offset="0.778" stop-color="#9900ff"/><stop offset="0.822" stop-color="#a100ff"/><stop offset="0.867" stop-color="#a900ff"/><stop offset="0.911" stop-color="#b000ff"/><stop offset="0.956" stop-color="#b800ff"/><stop offset="1.000" stop-color="#bf00ff"/></linearGradient><linearGradient id="g2_G6" gradientUnits="userSpaceOnUse" x1="0" y1="2583.4" x2="0" y2="1954.0"><stop offset="0.000" stop-color="#ff2a00"/><stop offset="0.017" stop-color="#ff4e00"/><stop offset="0.033" stop-color="#ff7100"/><stop offset="0.050" stop-color="#ffb800"/><stop offset="0.067" stop-color="#ffff00"/><stop offset="0.083" stop-color="#bfff00"/><stop offset="0.100" stop-color="#80ff00"/><stop offset="0.117" stop-color="#45ff00"/><stop offset="0.133" stop-color="#17ff00"/><stop offset="0.150" stop-color="#00ff18"/><stop offset="0.167" stop-color="#00ff47"/><stop offset="0.183" stop-color="#00ff6d"/><stop offset="0.200" stop-color="#00ff93"/><stop offset="0.217" stop-color="#00ffba"/><stop offset="0.233" stop-color="#00ffdd"/><stop offset="0.250" stop-color="#00ffff"/><stop offset="0.267" stop-color="#00ddff"/><stop offset="0.283" stop-color="#00beff"/><stop offset="0.300" stop-color="#00a4ff"/><stop offset="0.317" stop-color="#008bff"/><stop offset="0.333" stop-color="#0071ff"/><stop offset="0.378" stop-color="#0039ff"/><stop offset="0.422" stop-color="#0000ff"/><stop offset="0.467" stop-color="#3600ff"/><stop offset="0.511" stop-color="#6900ff"/><stop offset="0.556" stop-color="#9c00ff"/><stop offset="0.600" stop-color="#be00ff"/><stop offset="0.644" stop-color="#e000ff"/><stop offset="0.689" stop-color="#f500ff"/><stop offset="0.733" stop-color="#fc00ff"/><stop offset="0.778" stop-color="#ff00ff"/><stop offset="1.000" stop-color="#ff00ff"/></linearGradient><linearGradient id="g2_G7" gradientUnits="userSpaceOnUse" x1="0" y1="2583.4" x2="0" y2="1954.0"><stop offset="0.000" stop-color="#ff5500"/><stop offset="0.017" stop-color="#ff7c00"/><stop offset="0.033" stop-color="#ffa200"/><stop offset="0.050" stop-color="#ffec00"/><stop offset="0.067" stop-color="#c8ff00"/><stop offset="0.083" stop-color="#85ff00"/><stop offset="0.100" stop-color="#42ff00"/><stop offset="0.117" stop-color="#05ff00"/><stop offset="0.133" stop-color="#00ff2d"/><stop offset="0.150" stop-color="#00ff5f"/><stop offset="0.167" stop-color="#00ff91"/><stop offset="0.183" stop-color="#00ffbb"/><stop offset="0.200" stop-color="#00ffe4"/><stop offset="0.217" stop-color="#00f0ff"/><stop offset="0.233" stop-color="#00ccff"/><stop offset="0.250" stop-color="#00aaff"/><stop offset="0.267" stop-color="#0088ff"/><stop offset="0.283" stop-color="#0069ff"/><stop offset="0.300" stop-color="#004fff"/><stop offset="0.317" stop-color="#0036ff"/><stop offset="0.333" stop-color="#001cff"/><stop offset="0.378" stop-color="#1c00ff"/><stop offset="0.422" stop-color="#5500ff"/><stop offset="0.467" stop-color="#8b00ff"/><stop offset="0.511" stop-color="#be00ff"/><stop offset="0.556" stop-color="#f100ff"/><stop offset="0.600" stop-color="#ff00ff"/><stop offset="1.000" stop-color="#ff00ff"/></linearGradient><linearGradient id="g2_R0" gradientUnits="userSpaceOnUse" x1="0" y1="2583.4" x2="0" y2="1954.0"><stop offset="0.000" stop-color="#ff0000"/><stop offset="0.283" stop-color="#ff0000"/><stop offset="0.300" stop-color="#ff0400"/><stop offset="0.317" stop-color="#ff1700"/><stop offset="0.333" stop-color="#ff2a00"/><stop offset="0.378" stop-color="#ff4d00"/><stop offset="0.422" stop-color="#ff6f00"/><stop offset="0.467" stop-color="#ff8e00"/><stop offset="0.511" stop-color="#ffaa00"/><stop offset="0.556" stop-color="#ffc600"/><stop offset="0.600" stop-color="#ffdd00"/><stop offset="0.644" stop-color="#fff400"/><stop offset="0.689" stop-color="#f6ff00"/><stop offset="0.733" stop-color="#e6ff00"/><stop offset="0.778" stop-color="#d4ff00"/><stop offset="0.822" stop-color="#c9ff00"/><stop offset="0.867" stop-color="#beff00"/><stop offset="0.911" stop-color="#b2ff00"/><stop offset="0.956" stop-color="#a7ff00"/><stop offset="1.000" stop-color="#9cff00"/></linearGradient><linearGradient id="g2_R1" gradientUnits="userSpaceOnUse" x1="0" y1="2583.4" x2="0" y2="1954.0"><stop offset="0.000" stop-color="#ff0000"/><stop offset="0.067" stop-color="#ff0000"/><stop offset="0.083" stop-color="#ff2700"/><stop offset="0.100" stop-color="#ff5c00"/><stop offset="0.117" stop-color="#ff8800"/><stop offset="0.133" stop-color="#ffa100"/><stop offset="0.150" stop-color="#ffbb00"/><stop offset="0.167" stop-color="#ffd500"/><stop offset="0.183" stop-color="#ffdd00"/><stop offset="0.200" stop-color="#ffe600"/><stop offset="0.217" stop-color="#ffee00"/><stop offset="0.233" stop-color="#fffe00"/><stop offset="0.250" stop-color="#edff00"/><stop offset="0.267" stop-color="#daff00"/><stop offset="0.283" stop-color="#c7ff00"/><stop offset="0.300" stop-color="#b4ff00"/><stop offset="0.317" stop-color="#a1ff00"/><stop offset="0.333" stop-color="#8eff00"/><stop offset="0.378" stop-color="#6cff00"/><stop offset="0.422" stop-color="#4aff00"/><stop offset="0.467" stop-color="#2aff00"/><stop offset="0.511" stop-color="#0eff00"/><stop offset="0.556" stop-color="#00ff0e"/><stop offset="0.600" stop-color="#00ff25"/><stop offset="0.644" stop-color="#00ff3b"/><stop offset="0.689" stop-color="#00ff4f"/><stop offset="0.733" stop-color="#00ff60"/><stop offset="0.778" stop-color="#00ff71"/><stop offset="0.822" stop-color="#00ff7d"/><stop offset="0.867" stop-color="#00ff88"/><stop offset="0.911" stop-color="#00ff93"/><stop offset="0.956" stop-color="#00ff9f"/><stop offset="1.000" stop-color="#00ffaa"/></linearGradient><linearGradient id="g2_R2" gradientUnits="userSpaceOnUse" x1="0" y1="2583.4" x2="0" y2="1954.0"><stop offset="0.000" stop-color="#ff0000"/><stop offset="0.050" stop-color="#ff0000"/><stop offset="0.067" stop-color="#ff2000"/><stop offset="0.083" stop-color="#ff5800"/><stop offset="0.100" stop-color="#ff8f00"/><stop offset="0.117" stop-color="#ffbe00"/><stop offset="0.133" stop-color="#ffda00"/><stop offset="0.150" stop-color="#fff600"/><stop offset="0.167" stop-color="#ecff00"/><stop offset="0.183" stop-color="#e0ff00"/><stop offset="0.200" stop-color="#d5ff00"/><stop offset="0.217" stop-color="#caff00"/><stop offset="0.233" stop-color="#baff00"/><stop offset="0.250" stop-color="#a6ff00"/><stop offset="0.267" stop-color="#93ff00"/><stop offset="0.283" stop-color="#80ff00"/><stop offset="0.300" stop-color="#6dff00"/><stop offset="0.317" stop-color="#5aff00"/><stop offset="0.333" stop-color="#47ff00"/><stop offset="0.378" stop-color="#25ff00"/><stop offset="0.422" stop-color="#03ff00"/><stop offset="0.467" stop-color="#00ff1c"/><stop offset="0.511" stop-color="#00ff39"/><stop offset="0.556" stop-color="#00ff55"/><stop offset="0.600" stop-color="#00ff6c"/><stop offset="0.644" stop-color="#00ff82"/><stop offset="0.689" stop-color="#00ff96"/><stop offset="0.733" stop-color="#00ffa7"/><stop offset="0.778" stop-color="#00ffb8"/><stop offset="0.822" stop-color="#00ffc4"/><stop offset="0.867" stop-color="#00ffcf"/><stop offset="0.911" stop-color="#00ffda"/><stop offset="0.956" stop-color="#00ffe6"/><stop offset="1.000" stop-color="#00fff1"/></linearGradient><linearGradient id="g2_R3" gradientUnits="userSpaceOnUse" x1="0" y1="2583.4" x2="0" y2="1954.0"><stop offset="0.000" stop-color="#ff0000"/><stop offset="0.033" stop-color="#ff0000"/><stop offset="0.050" stop-color="#ff2600"/><stop offset="0.067" stop-color="#ff7c00"/><stop offset="0.083" stop-color="#ffb900"/><stop offset="0.100" stop-color="#fff600"/><stop offset="0.117" stop-color="#d4ff00"/><stop offset="0.133" stop-color="#b3ff00"/><stop offset="0.150" stop-color="#91ff00"/><stop offset="0.167" stop-color="#70ff00"/><stop offset="0.183" stop-color="#5fff00"/><stop offset="0.200" stop-color="#4fff00"/><stop offset="0.217" stop-color="#3eff00"/><stop offset="0.233" stop-color="#2cff00"/><stop offset="0.250" stop-color="#19ff00"/><stop offset="0.267" stop-color="#06ff00"/><stop offset="0.283" stop-color="#00ff0d"/><stop offset="0.300" stop-color="#00ff21"/><stop offset="0.317" stop-color="#00ff34"/><stop offset="0.333" stop-color="#00ff47"/><stop offset="0.378" stop-color="#00ff69"/><stop offset="0.422" stop-color="#00ff8b"/><stop offset="0.467" stop-color="#00ffaa"/><stop offset="0.511" stop-color="#00ffc6"/><stop offset="0.556" stop-color="#00ffe3"/><stop offset="0.600" stop-color="#00fff9"/><stop offset="0.644" stop-color="#00eeff"/><stop offset="0.689" stop-color="#00daff"/><stop offset="0.733" stop-color="#00c9ff"/><stop offset="0.778" stop-color="#00b8ff"/><stop offset="0.822" stop-color="#00adff"/><stop offset="0.867" stop-color="#00a1ff"/><stop offset="0.911" stop-color="#0096ff"/><stop offset="0.956" stop-color="#008bff"/><stop offset="1.000" stop-color="#0080ff"/></linearGradient><linearGradient id="g2_R4" gradientUnits="userSpaceOnUse" x1="0" y1="2583.4" x2="0" y2="1954.0"><stop offset="0.000" stop-color="#ff0000"/><stop offset="0.017" stop-color="#ff0000"/><stop offset="0.033" stop-color="#ff2200"/><stop offset="0.050" stop-color="#ff7d00"/><stop offset="0.067" stop-color="#ffd800"/><stop offset="0.083" stop-color="#e4ff00"/><stop offset="0.100" stop-color="#a1ff00"/><stop offset="0.117" stop-color="#68ff00"/><stop offset="0.133" stop-color="#41ff00"/><stop offset="0.150" stop-color="#1aff00"/><stop offset="0.167" stop-color="#00ff0c"/><stop offset="0.183" stop-color="#00ff22"/><stop offset="0.200" stop-color="#00ff38"/><stop offset="0.217" stop-color="#00ff4e"/><stop offset="0.233" stop-color="#00ff62"/><stop offset="0.250" stop-color="#00ff75"/><stop offset="0.267" stop-color="#00ff88"/><stop offset="0.283" stop-color="#00ff9b"/><stop offset="0.300" stop-color="#00ffae"/><stop offset="0.317" stop-color="#00ffc1"/><stop offset="0.333" stop-color="#00ffd4"/><stop offset="0.378" stop-color="#00fff7"/><stop offset="0.422" stop-color="#00e5ff"/><stop offset="0.467" stop-color="#00c6ff"/><stop offset="0.511" stop-color="#00aaff"/><stop offset="0.556" stop-color="#008eff"/><stop offset="0.600" stop-color="#0077ff"/><stop offset="0.644" stop-color="#0060ff"/><stop offset="0.689" stop-color="#004cff"/><stop offset="0.733" stop-color="#003cff"/><stop offset="0.778" stop-color="#002bff"/><stop offset="0.822" stop-color="#001fff"/><stop offset="0.867" stop-color="#0014ff"/><stop offset="0.911" stop-color="#0008ff"/><stop offset="0.956" stop-color="#0300ff"/><stop offset="1.000" stop-color="#0e00ff"/></linearGradient><linearGradient id="g2_R5" gradientUnits="userSpaceOnUse" x1="0" y1="2583.4" x2="0" y2="1954.0"><stop offset="0.000" stop-color="#ff0400"/><stop offset="0.017" stop-color="#ff3100"/><stop offset="0.033" stop-color="#ff5f00"/><stop offset="0.050" stop-color="#ffbe00"/><stop offset="0.067" stop-color="#e1ff00"/><stop offset="0.083" stop-color="#9bff00"/><stop offset="0.100" stop-color="#54ff00"/><stop offset="0.117" stop-color="#17ff00"/><stop offset="0.133" stop-color="#00ff14"/><stop offset="0.150" stop-color="#00ff3f"/><stop offset="0.167" stop-color="#00ff69"/><stop offset="0.183" stop-color="#00ff83"/><stop offset="0.200" stop-color="#00ff9d"/><stop offset="0.217" stop-color="#00ffb7"/><stop offset="0.233" stop-color="#00ffcc"/><stop offset="0.250" stop-color="#00ffdf"/><stop offset="0.267" stop-color="#00fff2"/><stop offset="0.283" stop-color="#00f9ff"/><stop offset="0.300" stop-color="#00e5ff"/><stop offset="0.317" stop-color="#00d2ff"/><stop offset="0.333" stop-color="#00bfff"/><stop offset="0.378" stop-color="#009dff"/><stop offset="0.422" stop-color="#007bff"/><stop offset="0.467" stop-color="#005cff"/><stop offset="0.511" stop-color="#0040ff"/><stop offset="0.556" stop-color="#0023ff"/><stop offset="0.600" stop-color="#000dff"/><stop offset="0.644" stop-color="#0a00ff"/><stop offset="0.689" stop-color="#1e00ff"/><stop offset="0.733" stop-color="#2f00ff"/><stop offset="0.778" stop-color="#4000ff"/><stop offset="0.822" stop-color="#4b00ff"/><stop offset="0.867" stop-color="#5600ff"/><stop offset="0.911" stop-color="#6200ff"/><stop offset="0.956" stop-color="#6d00ff"/><stop offset="1.000" stop-color="#7800ff"/></linearGradient><linearGradient id="g2_R6" gradientUnits="userSpaceOnUse" x1="0" y1="2583.4" x2="0" y2="1954.0"><stop offset="0.000" stop-color="#ff3900"/><stop offset="0.017" stop-color="#ff6a00"/><stop offset="0.033" stop-color="#ff9c00"/><stop offset="0.050" stop-color="#ffff00"/><stop offset="0.067" stop-color="#9cff00"/><stop offset="0.083" stop-color="#51ff00"/><stop offset="0.100" stop-color="#07ff00"/><stop offset="0.117" stop-color="#00ff3a"/><stop offset="0.133" stop-color="#00ff69"/><stop offset="0.150" stop-color="#00ff98"/><stop offset="0.167" stop-color="#00ffc6"/><stop offset="0.183" stop-color="#00ffe4"/><stop offset="0.200" stop-color="#00fcff"/><stop offset="0.217" stop-color="#00deff"/><stop offset="0.233" stop-color="#00c8ff"/><stop offset="0.250" stop-color="#00b5ff"/><stop offset="0.267" stop-color="#00a2ff"/><stop offset="0.283" stop-color="#008eff"/><stop offset="0.300" stop-color="#007bff"/><stop offset="0.317" stop-color="#0068ff"/><stop offset="0.333" stop-color="#0055ff"/><stop offset="0.378" stop-color="#0033ff"/><stop offset="0.422" stop-color="#0011ff"/><stop offset="0.467" stop-color="#0e00ff"/><stop offset="0.511" stop-color="#2a00ff"/><stop offset="0.556" stop-color="#4700ff"/><stop offset="0.600" stop-color="#5d00ff"/><stop offset="0.644" stop-color="#7400ff"/><stop offset="0.689" stop-color="#8800ff"/><stop offset="0.733" stop-color="#9900ff"/><stop offset="0.778" stop-color="#aa00ff"/><stop offset="0.822" stop-color="#b500ff"/><stop offset="0.867" stop-color="#c100ff"/><stop offset="0.911" stop-color="#cc00ff"/><stop offset="0.956" stop-color="#d700ff"/><stop offset="1.000" stop-color="#e300ff"/></linearGradient><linearGradient id="g2_R7" gradientUnits="userSpaceOnUse" x1="0" y1="2583.4" x2="0" y2="1954.0"><stop offset="0.000" stop-color="#ff6300"/><stop offset="0.017" stop-color="#ff9800"/><stop offset="0.033" stop-color="#ffcd00"/><stop offset="0.050" stop-color="#cbff00"/><stop offset="0.067" stop-color="#65ff00"/><stop offset="0.083" stop-color="#17ff00"/><stop offset="0.100" stop-color="#00ff37"/><stop offset="0.117" stop-color="#00ff7b"/><stop offset="0.133" stop-color="#00ffad"/><stop offset="0.150" stop-color="#00ffdf"/><stop offset="0.167" stop-color="#00edff"/><stop offset="0.183" stop-color="#00ccff"/><stop offset="0.200" stop-color="#00abff"/><stop offset="0.217" stop-color="#008aff"/><stop offset="0.233" stop-color="#0073ff"/><stop offset="0.250" stop-color="#0060ff"/><stop offset="0.267" stop-color="#004dff"/><stop offset="0.283" stop-color="#0039ff"/><stop offset="0.300" stop-color="#0026ff"/><stop offset="0.317" stop-color="#0013ff"/><stop offset="0.333" stop-color="#0000ff"/><stop offset="0.378" stop-color="#2200ff"/><stop offset="0.422" stop-color="#4400ff"/><stop offset="0.467" stop-color="#6300ff"/><stop offset="0.511" stop-color="#8000ff"/><stop offset="0.556" stop-color="#9c00ff"/><stop offset="0.600" stop-color="#b300ff"/><stop offset="0.644" stop-color="#c900ff"/><stop offset="0.689" stop-color="#dd00ff"/><stop offset="0.733" stop-color="#ee00ff"/><stop offset="0.778" stop-color="#ff00ff"/><stop offset="1.000" stop-color="#ff00ff"/></linearGradient></defs>
<path stroke="url(#g2_G7)" d="M1039 2427l0-2 3-4 0-2 8-15 1-4 2-2 7-16 2-2 8-17 9-15 0-2 6-9 4-9 6-9 0-2 9-14 2-5 3-3 0-2 7-10 0-2 3-3 0-2 3-3 13-22 18-25 1-3 12-15 1-3 13-15 0-2 20-22 6-8 3-2 17-18 7-5 2-3 6-4 5-5 9-6 1-2 15-9 1-2 12-7 36-18 21-8 35-10 18-3M137 2055l22-4 7 0 20-3 11 0 3-1 65 0 25 2 17 3 7 0 6 2 16 2 21 5 8 3 3 0 18 7 3 0 23 10 26 14 1 2 8 4 3 3 7 4 1 2 17 13 1 2 16 15 11 14 3 2 29 42 0 2 9 14 0 2 7 11 0 2 3 6 2 2 0 2 4 7 4 11 2 2 0 2 4 7 1 5 5 10 0 2 3 5 2 8 2 3 6 19 2 3 4 12 0 3 7 19 0 3 4 10 3 14 4 11 3 15 2 4 1 8 3 8 1 8 4 14 7 38 1 1 2 16 1 1 1 10 1 1 2 12 0 5 1 1 1 12 1 1M978 2573l2-7 2-3 0-3 4-8 0-3 5-10 0-3 5-10 5-15 5-10 0-2 8-17 3-9 5-9 3-9 3-4 3-9 5-9 0-2 3-4 0-2 4-8M339 2406l0 3 3 7 3 15 3 7 0 3 3 7 0 3 4 10 1 6 5 15 2 3 0 3 4 9 0 3 2 3 2 8 5 11 0 3 3 5 0 3 3 5 1 5 9 20 0 2M1304 2573l-6-8-1 0-7-8-5-3 0-1-6-4 0-1-3-1 0-1-5-3-6-3-2 0 0-1-2 0 0-1-13-4-6 0 0-1-18 0-1 1-10 1-12 4 0 1-3 0 0 1-2 0 0 1-2 0 0 1-2 0 0 1-7 3 0 1-12 7 0 1-6 4 0 1-4 2 0 1-10 8-4 5M774 2539l-1-10-1-1-1-18-1-2-1-20-1-2 0-12-1-1-2-39-1-1 0-14-1-2 0-13-1-1 0-15-1-1 0-15-1-1 0-14-1-1 0-14-1-1 0-14-1-1-1-24-1-2 0-10-1-2-3-36-1-1 0-7-1-2-3-26-3-12 0-4-1-1 0-4-1-1 0-4-11-39-6-14 0-2-4-6-1-4-15-24-2-1-10-13-4-2-4-5-13-10-14-7-2-2-18-8-29-9-4 0-10-3-12-2-41-4-44 0-37 4-18 3-17 4-21 7-19 9-15 9-1 2-9 6-1 2-9 8-3 5-3 2-13 21 0 2-8 18-7 29-2 20-1 2 0 12-1 2 0 41 1 2 0 15 1 1 0 11 1 1 2 26 1 1 2 19 1 1 0 5 1 1 2 16 1 1 4 24 3 9 0 4 9 36M1113 2576l7-14 1-5 4-7 1-4 3-5 1-5 6-12 1-5 9-20 0-3 5-10 0-3 3-5 2-8 2-3 0-3 6-14 0-3 2-3 19-60 1-7 2-4 10-42 1-1 2-12 2-5 0-5 2-5 0-5 2-5 0-5 2-5 0-5 1-1 0-5 2-7 0-6 1-1 0-5 1-1 0-6 1-2 0-8 1-1 0-6 1-2 1-23 1-1 0-52-1-2 0-8-1-1-1-13-7-27-4-8 0-2-7-13-6-9-2-1-3-5-2-1-4-5-15-12-12-6-2-2-25-10-32-8-30-5-41-3-63 0-35 3-40 7-20 5-14 5-3 2-7 2-2 2-6 2-12 7-12 9-13 13-8 12-2 1-12 24 0 2-4 8-6 21 0 4-2 5-3 16 0 5-3 16 0 7-1 2 0 9-1 1 0 9-1 2 0 12-1 2 0 14-1 2 0 19-1 2-4 180-1 2 0 23-1 2-1 37-1 1 0 13-1 3M305 2551l-14-3M914 2570l6-26 0-4 1-1 6-27 6-18 5-21 7-20 0-3 3-6 0-3 7-21 6-14 8-24 6-13 3-10 2-2 6-17 2-2 0-2 21-44 8-13 0-2 2-2 0-2 2-2 5-10 10-15 0-2 3-3 3-6 19-27 31-37 3-2 10-11 7-5 3-4 30-23 34-20 32-14 39-12 39-8 48-5 56 0M136 2068l11 0 29 3 34 6 40 11 27 11 2 0 30 15 40 26 4 3 2 3 10 7 10 9 4 5 22 21 22 26 0 2 9 10 4 7 4 4 1 3 10 13 0 2 4 4 0 2 3 3 24 40 0 2 3 3 0 2 2 2 6 13 2 2 0 2 2 2 12 24 0 2 5 8 0 2 4 7 0 2 2 2 2 7 2 2 2 7 2 2 2 7 4 7 6 17 9 20 1 6 9 21 0 3 3 6 3 11 2 3 1 6 2 3 0 3 10 29 1 7 2 3 2 9M421 2228l-3 0-20 6-16 8-3 3-5 2-16 13-23 28-9 15-1 4-2 2-9 21-6 18 0 3-3 7-4 18 0 4-2 5 0 6-2 6-1 14-1 1 0 9-1 1 0 9-1 2 0 15-1 1 0 57 1 1 0 16 1 2 1 22 1 1M1281 2573l-5-29-2-4 0-4-1-1-2-11-2-4-2-9-2-3-1-6-2-3-5-15-19-36-1 0-6-10-4-3-3-5-2-1-9-10-5-3-1-2-20-12-14-5-9-1 0-1-24 0-1 1-5 0-17 5-5 3-2 0 0 1-2 1-4 1 0 1-13 7 0 1-8 5-1 2-3 1-3 4-7 5 0 1-6 5-5 7-5 4-7 10-2 1-14 19-9 15-2 1-15 25-2 5-5 7-3 7-2 2-17 31M668 2540l-6-18 0-3-2-3-3-9 0-3-7-19 0-3-3-6 0-3-3-6 0-3-8-21 0-3-3-6-1-5-4-9 0-3-5-13-3-5-6-18-2-2-2-7-3-5 0-2-2-2-4-11-2-2 0-2-2-2 0-2-2-2 0-2-2-2-4-9-5-7 0-2-3-3 0-2-4-4 0-2-3-3-1-3-4-4-9-13-24-25-3-1-6-6-7-4-3-3-19-10-2 0-2-2-12-4-24-5-28 0-1 1-6 0-12 3M856 2565l2-33 1-1 0-9 1-1 2-26 1-2 0-6 1-1 0-7 4-23 0-6 1-1 0-5 1-1 0-5 1-1 4-29 2-6 2-16 1-1 13-63 10-35 0-3 7-21 0-3 4-9 6-21 2-3 1-5 2-3 8-23 21-44 5-7 3-7 18-26 24-26 9-7 1-2 4-2 1-2 16-11 31-16 21-8 36-10 5 0 30-6 56-5 70 0 31 2 33 4 44 9M135 2033l35 11 2 2 16 6 35 21 18 14 23 22 14 18 3 2 16 21 1 3 15 21 0 2 5 6 6 11 3 3 0 2 10 15 0 2 3 3 2 6 3 3 0 2 15 25 6 13 2 2 0 2 8 13 0 2 6 9 0 2 2 2 1 4 8 13 1 4 5 8 0 2 2 2 8 17 2 2 1 4 2 2 1 4 2 2 1 4 2 2 1 4 2 2 1 4 2 2 1 4 2 2 2 6 2 2 1 4 2 2 2 6 2 2 1 4 2 2 2 6 3 4 0 2 10 19 1 4 3 4 1 4 7 13 0 2 4 6 0 2 5 11 2 2 4 11 4 7 0 2 24 53M985 2574l2-8 3-5 0-3 5-10 0-3 5-10 3-10 11-24 0-2 8-17 0-2 3-4 6-14 0-2 2-2 4-9 0-2 3-4 10-23 2-2 1-4 3-4 0-2 3-4 0-2 3-4 1-4 2-2 1-4 2-2 1-4 6-10 0-2 2-2 5-11 2-2 5-11 2-2 0-2 10-16 4-9 6-9 0-2 3-3 2-5 2-2 0-2 3-3 2-5 17-28 21-32 3-3 1-3 11-14 1-3 11-13 1-3 18-22 5-4 6-8 4-3 20-21 6-4 2-3 10-8 8-5 1-2 12-7 1-2 28-15 2-2 11-5 2 0 21-9 22-7 23-5M134 2052l13-3 34-5 26-2 15 0 4-1 35 0 4 1 30 1 49 7 34 8 46 18 26 14 18 12 1 2 10 7 5 6 5 3 1 2 7 6 3 5 7 6 6 9 3 2 21 30 0 2 6 8 21 40 0 2 10 20 0 2 5 10 1 5 5 10 21 62 4 17 5 14 2 11 2 4 1 8 2 4 1 8 5 17 3 18 3 10 4 24 1 1 3 22 1 1 1 10 1 1 1 12 1 1 0 6 1 1 2 18M559 2544l-2-2-9-19-6-9-6-13-32-51-2-1-12-17-3-2-2-4-2-1-19-20-14-11-3-1-1-2-10-5 0-1-6-2-2-2-7-2 0-1-6-1-3-2-9-1 0-1-26-1-1 1-5 0-1 1-8 1-11 4-8 5-2 0 0 1-6 3-14 11 0 1-7 6-4 6-2 1-2 4-2 1-1 3-2 1-4 8-2 1-13 25 0 2-7 15-2 8-2 3-10 36 0 4-1 1 0 4-2 6 0 5-2 6M1239 2575l1-21 1-1 0-17 1-2 0-54-1-2-1-27-1-1-1-16-1-1 0-6-1-1 0-5-2-7 0-4-1-1-1-10-3-9 0-4-2-3-2-11-2-3 0-3-3-6 0-3-2-3 0-2-5-10 0-2-3-4-5-12-6-8 0-2-15-20-1 0-12-13-9-7-16-10-19-8-12-2-1-1-5 0-1-1-29 0-1 1-6 0-1 1-4 0-8 3-3 0-3 2-10 3-15 9-2 0-17 13-20 19-13 15-4 7-4 4-3 6-3 3-12 20 0 2-2 2-4 9-2 2-1 4-2 2 0 2-2 2 0 2-4 7-1 4-2 2-2 7-2 2 0 2-20 48-1 6-7 16 0 3-4 8-2 8-3 6 0 3-4 8 0 3-2 3-2 8-2 3 0 3-4 8-8 23M567 2561l-2-6-2-2-5-11-4-6M570 2561l-4-6-6-14-7-11-3-8-2-2-10-20-2-2-8-15-24-37-2-1-4-7-3-4-2-1-3-5-3-2-2-4-2-1-16-17-6-4-1-2-4-2 0-1-5-3 0-1-3-1-3-2 0-1-5-2-2-2-10-5-2 0-2-1 0-1-6-1-3-2-8-1-5-2-9 0-1-1-18 1-1 1-8 1-14 5-6 3 0 1-4 1 0 1-10 6-1 2-3 1 0 1-17 16-2 4-2 1-1 3-2 1-4 8-2 1-2 5-2 2-13 26-3 10-3 5 0 3-3 6 0 3-2 4 0 3-2 4 0 3-2 4 0 3-3 9-5 29M1240 2574l1-22 1-1 0-20 1-1 0-39-1-1 0-19-1-1 0-12-1-2 0-8-1-1 0-8-1-1 0-6-1-1-3-23-2-5-2-12-7-21 0-3-2-3-2-8-5-12-13-25-7-10-11-14-16-15-16-11-6-2-9-5-15-5-10-1-1-1-11 0-1-1-18 1-11 2-1 1-4 0-7 3-3 0-5 3-11 4-15 9-14 11-18 17-13 15-4 7-4 4-3 6-3 3-12 20 0 2-6 9 0 2-2 2-6 12 0 2-2 2-5 13-2 2 0 2-2 3-2 7-2 2-14 38-6 13-1 6-4 8-2 8-11 28 0 3-4 8-1 5-2 3 0 3-3 5-1 5-6 14M447 2568l-3-5-2-1-17-22-2-1-23-24-4-2-1-2-7-4 0-1-7-4 0-1-17-9-2 0 0-1-3 0 0-1-6-1 0-1-3-1-10-1-1-1-20 0-1 1-10 1 0 1-8 2-12 6 0 1-2 0 0 1-12 8 0 1-15 14-3 5-1 0-1 3-3 2-10 17M1176 2577l3-12 2-3 5-21 3-7 1-8 3-8 2-12 5-18 1-9 2-5 3-20 1-1 1-11 1-1 0-6 1-1 2-20 1-2 0-7 1-1 0-9 1-1 1-23 1-1 0-22 1-1 0-28-1-1 0-20-1-1-1-19-7-39-6-17-1-6-7-15 0-2-3-4-5-11-6-8-1-3-18-21-10-7-2-3-15-10-4-1-6-4-11-5-30-9-18-3-9 0-2-1-30 0-27 4-29 8-23 10-24 16-2 3-5 3-2 3-13 12-12 15-12 19 0 2-4 5 0 2-3 4-1 4-4 7 0 2-4 7-7 21-2 3-6 19-2 10-2 4 0 4-2 4-2 12-2 4 0 4-3 9-3 18-2 6 0 5-1 1-2 13-1 1 0 5-2 6 0 5-1 1 0 5-2 6-2 17-2 6 0 5-1 1 0 5-1 1 0 5-1 1 0 5-1 1 0 5-1 1 0 5-1 1-2 16-1 1-3 22-1 1-3 21-2 5-1 10-1 1 0 4-2 7M876 2567l4-35 1-1 1-11 2-7 0-6 2-7 2-16 1-1 0-5 1-1 1-9 2-6 0-4 3-10 0-5 1-1 6-30 2-4 2-12 2-4 6-26 3-7 3-14 7-19 0-3 5-15 2-3 5-17 6-13 1-5 5-10 1-5 4-7 0-2 4-7 4-11 2-2 11-23 4-5 0-2 5-7 0-2 11-15 0-2 4-6 8-9 8-12 3-2 7-9 3-2 10-11 20-17 29-19 24-11 28-11 33-9 51-8 23-2 23 0 3-1 58 2 3 1 18 1 37 6M134 2052l18 4 30 9 28 12 31 16 15 10 29 23 1 2 30 29 27 33 1 3 16 20 0 2 10 13 1 3 11 15 0 2 4 4 0 2 3 3 0 2 3 3 1 3 7 10 0 2 3 3 0 2 3 3 2 5 12 19 4 9 6 9 0 2 10 16 1 4 6 9 0 2 3 4 0 2 2 2 1 4 2 2 3 7 2 2 0 2 3 4 0 2 3 4 0 2 3 4 1 4 2 2 10 23 6 10 3 9 3 4 0 2 9 18 0 2 8 17 0 2 2 2 4 9 3 10 11 24 0 3 5 10 0 3 4 9M1290 2573l-3-8-1-7-3-7 0-3-2-3-4-14-9-19 0-2-12-22-2-1-2-5-1 0-2-4-1 0-1-3-2-1-1-3-3-2-9-11-6-4-1-2-4-2 0-1-7-4 0-1-2 0-2-2-6-3-2 0 0-1-11-4-8-1-1-1-16-1-1 1-8 0-1 1-9 1-19 7 0 1-7 3 0 1-4 1 0 1-6 3 0 1-7 4 0 1-6 4-2 3-6 4 0 1-12 11-4 6-5 4-2 4-2 1-2 4-1 0-3 5-2 1-1 3-4 4-7 10-1 3-2 1-3 6-5 6-4 8-5 6-6 12-2 1-5 10M691 2525l-2-10-4-12 0-3-1-1 0-3-2-4-3-15-2-4-2-11-2-4-4-18-2-4 0-3-2-4 0-3-2-4 0-3-4-12 0-3-3-7 0-3-3-7-1-6-6-15 0-3-5-15-3-5-2-8-3-5-5-15-2-2-3-9-2-2 0-2-5-8-2-6-15-25-6-7-1-3-18-21-12-11-12-10-2 0-6-5-10-5-2-2-2 0-14-7-25-7-12-1-2-1-28 0-19 3-22 7-2 2-9 3-8 6-2 0-16 12-19 20-8 11-1 3-3 3 0 2-2 2-2 5-2 2 0 2-4 6-9 22 0 3-5 13-3 16-2 5-1 10-1 1-1 10-1 1-2 26-1 1 0 13-1 1 0 66 1 1 0 14 1 1 0 11 1 1 1 18 1 1 1 14 1 2 0 5 1 1 0 7 2 6 1 12M812 2273l-7 36-3 25-1 1 0 7-1 2 0 5-1 1 0 7-1 1 0 5-1 2-5 46-1 1 0 8-1 2 0 6-1 1 0 7-1 1 0 8-1 1-1 14-1 1 0 8-1 1 0 6-1 2-8 61M411 2566l-2-1-7-9-2-1-10-11-6-4-2-3-4-2-2-3-7-4 0-1-2 0 0-1-3-1 0-1-15-8-2 0 0-1-5-1 0-1-3-1-7-1 0-1-5 0 0-1-8 0-1-1-17 1-20 6 0 1-4 1 0 1-5 2-11 8 0 1-8 6 0 1-6 5-2 4-3 2M1156 2577l19-55 1-6 3-7 1-7 5-14 0-3 1-1 0-3 4-12 0-3 3-9 0-4 3-9 0-4 2-5 3-19 2-5 8-52 1-17 1-1 0-11 1-1 0-13 1-2 0-60-1-1-1-20-1-1-1-13-1-1-2-14-2-4-2-11-4-12-5-10 0-2-2-2 0-2-7-13-13-18-7-8-10-8-1-2-13-9-30-15-27-8-21-4-20-2-36 0-20 2-27 5-18 6-3 0-34 16-1 2-8 4-1 2-4 2-19 17-3 5-2 1-4 6-2 1-12 18-3 7-3 4 0 2-4 6-2 7-6 12-12 38-1 7-4 13-5 29M1242 2575l1-28 1-2 0-57-1-1 0-15-1-1-1-20-1-2-1-13-1-1 0-6-1-1-5-29-5-15 0-3-2-3 0-3-8-19 0-2-3-5-3-9-14-23-13-17-16-15-18-12-13-6-12-4-4 0-6-2-6 0-1-1-24 0-1 1-6 0-9 3-4 0-3 2-3 0-3 2-12 4-7 5-4 1-19 14-7 6-22 23 0 2-9 10-3 6-9 12-2 5-3 3 0 2-10 16 0 2-5 8-1 4-2 2 0 2-4 7-5 13-2 2-4 12-4 7 0 2-11 26-2 8-7 16 0 3-6 13 0 3-4 8-5 16-2 3-1 5-4 8-1 5-2 3-4 12M574 2561l-7-15-5-8-1-4-8-13-3-8-2-2-9-18-16-25-1-3-20-30-2-1-5-8-3-2-3-5-6-5-6-8-8-6-4-5-4-2-1-2-7-5-3-1 0-1-8-5-12-6-2 0 0-1-15-5-4 0-6-2-10 0-1-1-16 1 0 1-9 1 0 1-7 1 0 1-5 1-2 2-2 0-2 1 0 1-4 1-16 11 0 1-17 16-2 4-2 1-15 23-10 20 0 2-6 13 0 3-2 3-4 12 0 3-5 15 0 4-2 4-6 35M1213 2244l4-20 0-6 1-1 0-7 1-1 1-17 1-2 0-9 1-2 0-17 1-2-1-36-1-2-1-15-1-1-4-20-6-14 0-2-10-16-2-3-18-17-17-10-19-8-16-5-30-6-25-4-21-2M1044 1999h0M1036 1998h0M1029 1998h0M1021 1998h0M1013 1997h0M1005 1997h0M997 1997h0M989 1997h0M981 1997h0M973 1997h0M965 1997h0M957 1998h0M949 1998h0M941 1998h0M934 1999h0M926 2000h0M919 2000l-27 3-38 7-28 9-21 10-19 14-7 9-2 1-13 20-7 16-4 12-6 27 0 5-3 16 0 7-1 2-1 23-1 2 0 16-1 2 0 31-1 2 0 199-1 2 0 42-1 1-1 42M1104 2576l3-5 0-3 10-20 1-4 3-5 1-5 4-7 0-2 4-7 1-5 6-12 3-10 5-10 0-3 5-10 0-3 5-10 0-3 4-8 0-3 4-8 0-3 2-3 5-17 2-3 0-3 11-32 0-3 2-4 0-3 5-14 0-3 2-4 2-11 4-12 2-12 1-1 6-29 1-1 1-9 1-1 0-5 2-6 3-22M825 2559l1-66 1-1 0-21 1-2 1-30 1-2 0-12 1-2 0-11 1-2 0-9 2-13 0-10 1-1 0-8 1-2 0-8 1-2 2-25 1-1 0-7 1-1 1-16 1-1 0-7 3-15 1-14 1-1 2-19 2-7 1-12 3-12 2-16 1-1 1-11 1-1 0-4 8-38 2-5 0-4 2-5 0-4 3-8 6-25 8-24 7-17 5-9 0-2 9-15 11-14 15-13 21-12 17-6 18-4M1001 1979h0M1009 1978h0M1018 1976h0M1028 1975h0M1040 1974h0M1053 1973h0M1068 1972h0M1084 1971h0M1103 1970h0M1124 1969h0M1146 1968h0M1170 1968h0M1195 1968h0M1220 1968h0M1244 1968h0M1268 1968h0M1290 1969h0M1310 1970h0M1328 1971h0M1344 1972h0M1358 1973h0M1371 1974h0M1382 1975h0M1392 1977h0M141 1978h0M149 1979h0M157 1981l17 4 18 6 20 11 10 8 8 9 5 4 17 26 14 29 6 14 1 5 7 15 2 8 2 3 8 25 2 3 5 16 2 3 10 31 3 5 13 39 6 13 4 13 11 29 5 10 10 28 2 2 11 29 2 2 7 19 3 7 2 2 0 2 3 5 5 14 6 11 7 18 3 4 0 2 7 14 0 2 4 6 9 22 9 17 0 2 5 9 0 2 5 9 0 2 5 9 1 4 6 10 2 6M1303 2573l-1-2-1 0-4-5-5-3-1-2-2 0-1-2-6-4-12-6-2 0 0-1-3 0-3-1 0-1-4 0 0-1-5 0-1-1-22 0 0 1-5 0-1 1-7 1 0 1-10 3-10 5 0 1-2 0 0 1-3 1-3 2 0 1-10 6 0 1-10 8M784 2544l-1-1-1-22-1-1-2-43-1-1 0-17-1-1-2-70-1-1 0-28-1-2 0-27-1-1 0-24-1-2-1-38-1-1 0-14-1-2 0-12-1-2-1-19-1-2-1-16-4-21-1-11-3-10 0-4-3-8 0-4-9-26-10-18 0-2-13-18-18-17-15-10-28-13-47-12-15-2-47-4-44 0-47 4-23 4-43 12-14 6-2 2-12 6-4 3-1 2-8 5-1 2-5 4-16 21-9 19-8 29-1 11-1 1 0 7-1 1 0 11-1 2 0 42 1 2 0 14 1 1 0 11 1 1 0 8 4 24 0 6 1 1 0 5 1 1 0 5 1 1 6 36 2 5 2 13 1 1 5 23 2 4 3 15 2 4 4 17 4 10 0 3 6 16 0 3 2 3 0 3 5 12 0 3 2 3 4 14 5 11 2 8 3 5 0 3 3 5 3 10 9 20 1 5 9 19M1296 2573l-8-4-5-1 0-1-4 0 0-1-3 0-1-1-5 0-1-1-18 0 0 1-6 0 0 1-8 1 0 1-8 2 0 1-2 0 0 1-2 0-8 4M803 2551l-1-33-1-2 0-133 1-1 0-35 1-1 0-29 1-2 2-83 1-2 1-79-1-2 0-25-1-2-1-22-1-1 0-6-1-1-2-15-6-21-11-21-4-5-16-15-20-11-16-6-34-8M686 1989h0M679 1988h0M670 1987h0M662 1986h0M652 1985h0M642 1984h0M632 1983h0M621 1983h0M609 1982h0M597 1982h0M585 1981h0M572 1981h0M559 1981h0M546 1981h0M533 1981h0M520 1981h0M507 1981h0M495 1982h0M483 1982h0M472 1983h0M461 1984h0M451 1984h0M441 1985h0M432 1986h0M424 1987h0M416 1988h0M408 1990l-19 3-16 4-20 7-12 6-7 5-8 6-6 7-5 6-4 7 0 2-3 4-6 19-3 18 0 11-1 2 0 23 1 1 1 27 1 2 0 6 1 2 0 6 4 22 0 5 2 7 0 5 1 1 1 9 2 6 6 32 1 1 5 23 2 4 4 19 10 31 0 3 5 13 0 3 10 30 3 6 0 3 3 6 4 13 2 3 0 3 6 13 0 3 6 13 0 3 8 17 1 5 11 24 7 19 4 7 0 2 15 31 0 3 8 16M838 2562l2-53 1-1 1-27 1-1 0-11 1-1 0-10 1-1 2-28 1-1 0-6 1-2 0-8 1-1 2-23 2-7 0-7 1-1 1-12 1-1 1-12 1-1 1-12 1-1 0-5 4-18 0-5 2-10 1-1 0-4 1-1 6-34 1-1 2-12 4-13 0-4 7-23 0-4 9-30 2-3 2-9 2-3 1-5 2-3 8-22 3-5 0-2 4-6 0-2 12-22 17-24 12-13 21-17 15-9 38-15 29-7 38-6M1111 1995h0M1119 1994h0M1126 1994h0M1134 1993h0M1143 1992h0M1151 1992h0M1160 1991h0M1169 1991h0M1178 1990h0M1188 1990h0M1197 1990h0M1207 1990h0M1216 1990h0M1226 1990h0M1236 1990h0M1245 1990h0M1255 1990h0M1264 1990h0M1273 1991h0M1282 1991h0M1291 1992h0M1300 1992h0M1308 1993h0M1316 1993h0M1324 1994h0M1331 1995h0M1338 1996l53 9M136 2006l21 6 3 2 26 10 27 17 24 22 3 5 2 1 3 5 2 1 6 9 4 4 6 9 2 5 8 11 0 2 5 7 9 18 2 2 0 2 3 4 0 2 3 4 2 6 5 8 0 2 2 2 0 2 6 11 0 2 4 6 1 5 2 2 0 2 5 9 0 2 5 9 0 2 2 2 1 5 4 6 0 2 7 14 0 2 2 2 2 7 15 31 14 33 2 2 2 7 2 2 11 26 2 2 3 9 2 2 7 17 3 4 3 9 3 4 3 9 2 2 2 6 3 4 4 11 2 2 5 11 0 2 2 2 11 25 8 15 0 2 4 7 1 4 4 6 22 50M596 2557l-9-19-3-4 0-2-5-9 0-2-5-8-1-4-4-7 0-2-2-2-3-6 0-2-2-2-6-13-2-2-2-6-5-7-1-4-7-10-3-7-27-39-3-2-10-13-2-1-11-12-5-3-1-2-5-3-1-2-6-3-6-5-13-7-7-2-2-1 0-1-14-4-11-1-1-1-19 0-1 1-6 0-1 1-4 0-4 2-3 0-6 2-2 1 0 1-7 2-2 2-5 2 0 1-3 2-3 1 0 1-4 2-1 2-6 4-1 2-11 10-2 4-2 1-2 4-4 4-20 36-1 5-3 5-1 5-2 3 0 3-5 12-3 14-2 4 0 4-2 5 0 4-1 1 0 4-1 1 0 4-2 6-5 40M1252 2575l0-49-1-1 0-17-1-2-1-21-1-1-2-21-1-1 0-5-2-7 0-4-1-1 0-4-1-1 0-4-4-12-3-14-5-15-2-3 0-3-7-14 0-2-4-6-2-6-15-23-3-2-10-13-1 0-3-4-5-3-1-2-16-11-15-7-12-4-4 0-6-2-10 0-1-1-9 0-1 1-9 0-1 1-10 1-10 4-3 0-15 7-23 15-5 4-3 4-7 5-2 3-6 5-17 21-20 30 0 2-4 5-1 4-6 9-1 4-2 2-7 14-1 4-2 2-1 4-13 27 0 2-5 10 0 2-13 29 0 2-5 10-4 12-6 12 0 3-4 7 0 2-5 11"/>
<path stroke="url(#g2_R7)" d="M337 2557l-1 0-20-21-4-2 0-1-4-2 0-1-4-3-3-1 0-1-5-2 0-1-7-3-2-2-2 0-8-4-3 0-9-3-5 0-1-1-17 0 0 1-6 0-1 1-7 1 0 1-3 0-15 7-5 4-3 1 0 1-3 1-1 2-7 5 0 1-12 11-2 4-1 0-3 5-2 1M1048 2575l28-44 2-5 3-3 3-6 6-8 0-2 3-3 18-29 11-15 0-2 3-3 3-6 3-3 3-6 3-3 3-6 3-3 1-3 5-6 1-3 3-3 7-12 3-3 0-2 4-4 1-3 14-21 3-3 9-15 10-13 0-2 4-4 7-12 3-3 18-27 6-7 4-7 13-16 3-6 38-47 3-2 9-11 3-2 27-28 5-3 1-2 5-3 1-2 5-3 1-2 14-9 1-2 18-11M135 2124l29-15 19-8 3 0 18-7 30-8 37-6 20-1 3-1 54 0 3 1 20 1 25 4 19 4 28 9 3 0 36 16 2 2 15 8 23 16 1 2 23 20 5 7 2 1 6 8 2 1 2 4 4 4 2 4 2 1 4 7 3 3 20 33 10 19 4 11 4 6 0 2 6 12 0 2 5 10 5 16 4 9 4 14 2 3 20 70 0 4 3 8 0 4 4 13 2 14 3 10 0 4 7 34 0 5 2 6 2 17M647 2549l-9-34 0-3-2-4 0-4-2-4 0-4-2-4-3-15-3-8-3-15-24-80-2-3-4-13-12-28 0-2-3-5 0-2-3-4 0-2-4-6 0-2-11-18-2-5-15-22-3-2-6-9-2-1-14-15-15-12-18-11-20-9-17-5-18-3-28 0-20 3-26 9-13 8-2 0-15 11-11 10-7 9-4 3-19 29 0 2-3 4 0 2-3 4 0 2-4 7-10 28-1 7-5 16-3 18-1 1-2 19-1 1 0 7-1 1-1 19-1 1 0 13-1 2 0 73 1 1 0 15 1 1 0 11 1 2 0 9 1 3M1289 2572l0-14 1-1 0-63-1-2 0-16-1-1 0-11-1-2-1-16-1-1 0-7-1-1-3-23-1-1-2-13-1-1-4-19-10-30-7-14 0-2-2-2-2-6-6-9 0-2-14-20-16-17-14-12-3-1-3-3-2 0-3-3-2 0-10-6-11-4-15-4-14-1-2-1-13 0-2 1-7 0-12 2-22 7-14 7-10 7-3 1-21 17-14 15-14 18-3 6-7 9 0 2-6 8 0 2-4 5 0 2-3 4 0 2-9 16 0 2-4 7 0 2-4 7 0 2-9 20-10 30-2 3-12 39-8 22-1 7-6 16 0 3-5 13 0 3-5 13-1 6M948 1973h0M928 1974h0M911 1975h0M895 1976h0M882 1978h0M870 1979h0M859 1981h0M849 1983h0M841 1984h0M834 1986l-31 11-12 8-2 3-5 4-8 10-9 19-7 30-1 17-1 2 0 15-1 2 0 77 1 2 0 29 1 3 1 51 1 2 1 51 1 2 1 66 1 2 0 141-1 2M347 2559l-20-22-16-13-6-3 0-1-5-2 0-1-5-3-9-3 0-1-5-1 0-1-12-2-1-1-7 0-1-1-10 0-1 1-11 1-10 3-3 2-2 0-2 2-2 0-2 2-2 0-17 12 0 1-12 11-13 17M1057 2575l3-6 6-8 2-5 5-6 2-5 13-19 0-2 7-9 0-2 13-18 0-2 5-6 2-5 3-3 3-6 5-6 0-2 11-15 0-2 5-6 15-25 13-18 0-2 3-3 1-3 3-3 1-3 13-19 3-6 12-17 1-3 3-3 0-2 3-3 7-12 5-6 1-3 23-33 3-6 9-11 0-2 14-19 20-27 30-35 2-1 21-22 8-6 1-2 10-7 1-2 4-2 1-2 13-8 1-2 6-3M135 2120l12-8 13-6 6-4 35-14 6-1 14-5 44-9 46-4 50 1 22 2 30 5 34 9 37 15 20 11 18 12 20 16 1 2 13 12 16 19 2 4 2 1 4 7 3 3 7 12 3 3 17 31 17 37 5 15 4 8 6 20 2 3 1 6 2 3 12 43M1348 2560l-12-24-7-10-1-3-4-4-8-12-1 0-16-17-16-11-10-5-5-1 0-1-6-1 0-1-10-1-1-1-19 0-1 1-5 0-1 1-10 2 0 1-3 0-11 5 0 1-6 2 0 1-5 2-1 2-5 2-1 2-4 2-1 2-4 2-1 2-8 6 0 1-7 6-3 5-4 3-3 5-3 2-18 25-16 25M726 2519l-1-15-1-2 0-11-1-1 0-9-1-2 0-10-1-2 0-11-1-2 0-11-1-1 0-11-1-2-2-38-2-13 0-12-1-1-3-43-1-2 0-8-2-10 0-8-1-2-3-30-2-8-3-23-10-44-7-22-10-22 0-2-12-21-13-17-11-10-5-6-26-17-24-11-46-12-32-4-48-1-28 2-26 4-41 11-26 12-18 12-3 4-8 6-7 9-2 1-10 14-13 26-9 30-6 35-1 26-1 2 0 44 1 2 0 18 1 2 0 10 1 2 0 10 1 2 1 16 1 1 0 7 1 2 1 12 1 1 2 19 1 1 1 10 2 6 0 5 8 38 2 4 2 13 2 4 4 18 7 21 0 3 3 7 0 3 4 10 0 3 8 21M1289 2572l0-7 1-2 0-74-1-1 0-13-1-2-2-28-1-2 0-5-1-1 0-5-1-1-1-12-1-1-5-27-16-48-2-2 0-2-7-14-2-2 0-2-4-5-4-8-6-7-1-3-14-16-10-9-14-10-17-9-2 0-2-2-17-5-11-2-7 0-1-1-15 0-2 1-7 0-12 2-19 6-11 5-4 3-2 0-11 8-2 0-16 13-5 6-8 7-25 32-2 3 0 2-5 6-2 5-4 5 0 2-3 4 0 2-9 16 0 2-7 13-7 19-5 10-1 5-2 3-2 8-2 3-3 11-5 12-35 112M563 2561l-6-13-4-13-3-5-1-5-2-2-10-27-2-2-1-5-2-2 0-2-3-5 0-2-2-2-3-9-2-2 0-2-2-2 0-2-14-27-5-7 0-2-10-16-5-6-1-3-10-12-1-3-9-9-4-6-16-15-19-14-25-12-3 0-11-4-17-1-1-1-16 1-1 1-5 0-1 1-7 1-9 3-5 3-2 0-9 5-6 5-2 0-3 2-3 4-7 5-7 7-15 18-3 6-3 3-16 31-13 36 0 3-4 11-1 8-2 4-3 18-1 1-7 51M1160 2576l3-5 0-2 7-11 5-12 2-2 0-2 7-13 1-4 5-8 2-7 2-2 2-7 2-2 2-7 2-2 2-7 4-7 2-7 3-5 1-5 5-10 1-5 6-13 7-22 6-14 20-63 2-10 4-11 1-7 5-15 0-3 9-33 2-12 2-5 0-4 2-5 0-4 2-5 0-4 2-5 0-4 3-11 2-15 2-5 8-48 0-6 4-24 1-18 1-2 0-10 1-2 0-34-1-2 0-7-4-16-4-8-9-11-14-8-11-4M1261 1972h0M1252 1970h0M1240 1969h0M1224 1967h0M1203 1965h0M1175 1963h0M1137 1962h0M1088 1961h0M1029 1961h0M970 1961h0M920 1962h0M881 1963h0M852 1965h0M831 1967h0M815 1968h0M802 1970h0M793 1972h0M785 1974l-20 8-3 2-12 13-5 11-3 10 0 5-2 8 0 11-1 2 1 64 1 2 2 47 1 2 0 13 1 2 2 40 1 2 0 13 1 2 0 12 1 2 0 15 1 2 2 46 1 2 0 16 1 2 0 18 1 2 0 18 1 2 1 53 1 2 0 47 1 2 0 46-1 2 0 12M336 2557l-18-19-6-4-1-2-3-1-1-2-3-1 0-1-13-7 0-1-9-3 0-1-12-4-10-1-1-1-17 0-1 1-5 0-21 7 0 1-13 7-1 2-3 1-2 3-3 1 0 1-12 11-10 13"/>
<path stroke="url(#g2_G6)" d="M1180 2577l0-3 4-10 0-3 9-30 1-8 1-1 0-3 5-17 1-9 2-5 1-10 1-1 0-4 2-6 0-6 2-6 0-6 2-7 3-30 1-1 0-9 1-1 0-11 1-2 0-12 1-2 0-61-1-1 0-12-1-1 0-9-1-2 0-6-1-1 0-6-8-37-3-7-1-6-3-5-5-14-5-8 0-2-10-16-12-15-4-3-4-5-22-16-20-11-17-6-20-5-13-2-8 0-2-1-29 0-2 1-22 2-26 7-15 6-11 6-2 0-16 10-17 14-2 3-9 8-4 6-3 2-13 18 0 2-6 8 0 2-3 4-13 27-7 21-2 3-12 39 0 3-6 21-1 8-1 1-1 8-2 5-1 8-1 1 0 5-2 6-4 24-1 1 0 5-1 1-1 9-2 6-1 11-1 1-4 27-2 6-3 22-2 5-2 16-1 1-6 34-2 5 0 4M454 2568l-1 0-6-10-2-1-7-10-2-1-1-3-1 0-5-7-4-3-3-5-17-15-1-2-6-4 0-1-3-1-2-3-3-1 0-1-11-7-2 0 0-1-10-5-11-4-3 0-5-2-5 0-1-1-20 0-1 1-5 0 0 1-8 1 0 1-12 4 0 1-2 0 0 1-3 1-3 2 0 1-2 0 0 1-8 5-3 4-4 2-7 9-3 2-1 3-3 2-1 3-1 0-4 7-1 0-2 5-1 0-6 11M1299 2573l-1-4-18-34-1 0-2-4-1 0-1-3-1 0-1-3-2-1-2-4-3-2-4-6-1 0-4-5-7-5 0-1-4-2-1-2-10-6-6-3-2 0 0-1-13-4-16-1 0-1-1 0-1 1-11 0-1 1-4 0-14 4 0 1-9 3 0 1-2 0-7 5-2 0 0 1-14 9-1 2-4 2-1 2-8 6 0 1-8 7-6 8-6 5-2 4-1 0-4 6-2 1-1 3-2 1-5 8-2 1-1 3-2 1-1 3-4 5M729 2520l-1-1 0-5-2-6-2-16-1-1-1-9-1-1 0-5-1-1-3-22-2-6-3-22-2-6-3-22-1-1-1-9-2-10-1-1 0-5-14-63-7-22-1-7-4-9-7-22-2-3-1-5-4-7-2-7-6-10 0-2-13-20-1-3-14-18-4-3-4-6-6-4-2-3-19-14-21-12-2 0-7-4-14-5-31-7-7 0-2-1-40 0-20 3-26 7-21 10-2 0-26 18-18 19-14 21-7 14 0 2-2 2-11 33-1 8-2 5 0 5-2 6-1 12-1 1-1 18-1 1 0 13-1 2 0 51 1 1 0 16 1 1 0 12 1 1 2 27 1 1 2 19 1 1 0 6 2 6 0 6 1 1 6 34 2 5 0 4 3 9 0 4 3 8 1 7 2 4 0 3 5 17M1085 2576l7-15 0-2 16-33 0-2 4-7 1-4 4-7 0-2 4-7 0-2 13-28 0-3 11-24 3-10 8-18 2-8 6-13 0-3 5-11 2-8 3-6 0-3 4-9 0-3 7-18 0-3 6-16 0-3 5-13 0-3 6-18 0-3 4-12 1-7 2-4 5-24 4-13 8-43 1-1 0-5 4-21 0-6 1-1 1-15 1-1 0-12 1-1 0-41-3-19-3-10-8-15-8-10-10-8-9-4-6-4-18-6-17-4M1145 1983h0M1137 1981h0M1129 1980h0M1119 1979h0M1108 1978h0M1097 1977h0M1084 1976h0M1070 1975h0M1055 1974h0M1038 1974h0M1021 1973h0M1003 1973h0M985 1973h0M966 1973h0M947 1973h0M929 1973h0M912 1974h0M895 1974h0M880 1975h0M866 1976h0M853 1977h0M841 1978h0M830 1979h0M821 1980h0M812 1982h0M804 1983h0M796 1984l-23 6-16 6-9 5-13 10-13 17 0 2-4 7-5 18-1 9-1 1-1 15-1 2 0 14-1 2 0 53 1 2 1 44 1 2 1 34 1 1 1 34 1 1 0 18 1 1 0 16 1 1 0 17 1 2 0 18 1 2 1 48 1 1 0 32 1 2 0 93M808 2554l0-22-1-1 0-98 1-2 0-32 1-1 0-23 1-2 0-21 1-2 0-16 1-2 0-17 1-2 0-15 1-2 0-15 1-2 0-14 1-1 0-16 1-2 1-30 1-1 0-14 1-2 0-16 1-2 0-19 1-2 1-68-1-2-1-23-3-18-4-14-4-9-9-14-11-10-18-10-18-6-13-3M734 1982h0M726 1980h0M718 1979h0M708 1978h0M697 1977h0M685 1975h0M672 1974h0M657 1973h0M641 1973h0M623 1972h0M604 1971h0M585 1971h0M564 1971h0M544 1971h0M524 1971h0M504 1971h0M485 1972h0M468 1973h0M452 1973h0M437 1974h0M424 1975h0M412 1977h0M401 1978h0M391 1979h0M383 1980h0M375 1982l-29 7-21 9-13 10-10 13 0 2-6 13-4 19-1 34 1 2 1 24 1 2 0 6 5 29 0 5 1 1 1 10 3 10 0 5 3 14 1 1 1 8 1 1 1 8 2 4 1 8 3 8 1 8 2 4 5 22 12 37 0 3 6 16 0 3 3 6 1 6 4 9 0 3 2 3 3 11 10 25 2 8 6 13 1 5 6 13 0 2 5 10 3 10 12 26 3 9 4 7 0 2 4 7 0 2 4 7 4 12 21 44M1290 2573l-3 0 0-1-3 0-5-2-6 0-1-1-12 0-1 1-7 0 0 1-8 1 0 1-3 0-6 3M1062 2575l6-11 18-41 4-6 14-33 4-6 0-2 7-14 4-11 3-4 0-2 9-19 5-14 3-4 5-14 9-20 0-2 2-3 0-2 2-2 10-27 2-3 40-108 2-9 13-36 31-96 2-3 7-21 2-3 2-7 3-4 2-7 14-25 6-8 16-15 3-1 5-4 18-8 17-4M1359 1974h0M1368 1973h0M1378 1971h0M1389 1970h0M143 1968h0M160 1967h0M180 1966h0M204 1965h0M233 1964h0M266 1963h0M304 1963h0M343 1963h0M381 1963h0M416 1964h0M446 1965h0M471 1966h0M491 1967h0M509 1968h0M523 1969h0M535 1971h0M545 1972h0M554 1974h0M561 1975l30 10 9 5 13 10 6 7 2 4 2 1 12 21 0 2 3 5 0 2 6 14 3 12 2 3 2 7 1 8 7 24 1 9 2 5 0 4 1 1 0 4 2 5 4 25 1 1 1 11 3 12 4 30 1 1 0 6 1 1 0 6 1 1 0 5 4 23 0 7 1 1 0 5 1 2 1 15 2 9 0 8 3 19 2 28 1 1 0 9 1 1 0 10 1 2 1 22 1 2 0 11 1 2 0 12 1 2 1 32 1 2 0 21 1 2 0 37M924 2570l8-34 7-22 0-3 22-69 6-14 0-3 6-14 0-2 2-2 6-18 3-5 7-19 2-2 2-7 2-2 4-11 5-9 0-2 2-2 5-12 4-6 0-2 2-2 12-24 2-2 14-25 8-11 1-3 6-7 0-2 7-8 0-2 12-14 4-7 15-16 6-8 26-25 25-20 35-22 43-19 31-10 43-9 45-5 37-1M134 2068l29 1 39 4 41 8 25 8 3 0 6 3 13 4 8 4 2 0 13 7 2 0 13 7 39 25 20 16 2 3 8 6 1 2 14 13 12 15 2 1 8 9 4 7 9 10 4 7 7 8 0 2 10 13 0 2 3 3 1 3 8 11 0 2 3 3 0 2 3 3 0 2 10 16 2 6 3 3 0 2 2 2 0 2 2 2 9 18 0 2 2 2 3 8 4 6 5 14 2 2 6 16 2 2 3 10 2 2 16 44 5 11 0 3 4 9 10 30 0 3 4 10 0 3 4 10 1 7 2 4 7 27M972 2573l5-15 2-3 0-3 2-3 1-5 4-8 2-8 5-10 0-3 19-44 0-2 3-7 2-2 3-9 16-33 0-2 2-2 1-4 3-4 0-2 8-15 0-2 3-4 0-2 2-2 5-11 2-2 1-4 6-9 0-2 9-15 0-2 10-16 0-2 3-3 2-5 2-2 0-2 3-3 0-2 7-10 0-2 3-3 12-21 3-3 1-3 3-3 9-15 21-29 8-9 1-3 21-25 6-5 6-8 22-20 2-3 25-20 18-11 1-2 32-17 2 0 21-10 35-11 36-8M136 2058l32-5 24-1 3-1 59 0 49 5 22 4 25 6 11 4 3 0 22 8 26 12 24 14 1 2 9 5 1 2 5 3 19 16 18 20 3 2 7 10 3 2 24 35 14 24 4 9 2 2 0 2 3 4 0 2 6 11 0 2 3 4 3 9 7 14 25 67 1 6 6 16 3 14 5 14 0 3 2 4 0 3 2 5 1 7 2 4 2 12 2 4 3 16 2 5 0 5 2 5 4 23 2 6 0 4 1 1 0 5 1 1 6 36M1163 2526l-9 5-2 3-3 1 0 1-6 4-2 3-10 8-5 7-6 5-10 13-1 0M752 2528l-5-31 0-6-1-1-3-30-1-1 0-8-1-1-1-15-1-2-1-14-1-1 0-8-1-2-1-14-1-1 0-7-1-1 0-7-1-1 0-7-1-1 0-7-1-1 0-5-1-2-2-21-13-73-2-5 0-4-5-16-1-7-11-33-17-35-12-18-2-1-4-6-2-1-3-5-12-10-1-2-12-8-1-2-10-5-1-2-19-9-29-10-19-4-26-3-15 0-3-1-27 1-2 1-9 0-27 5-27 8-28 14-13 9-1 2-5 3-1 2-8 7-15 19 0 2-4 5-8 16-11 33-5 26-1 15-1 2 0 10-1 2 0 58 1 2 0 13 1 1 0 10 1 2 1 17 1 1 0 6 1 2 0 7 1 1 1 11 2 7 0 6 2 6 1 10 2 5 1 10 2 5 0 4 3 9 0 4 1 1 3 15 3 8 5 22 10 30 0 3 2 3 9 27M1303 2573l-11-18-2-1-4-7-3-2-8-10-7-5-1-2-4-2-1-2-8-4 0-1-2 0 0-1-2 0 0-1-2 0 0-1-2 0 0-1-2 0 0-1-9-2 0-1-9-1 0-1-23 0 0 1-5 0-1 1-7 1 0 1-15 5 0 1-7 3 0 1-2 0-3 2 0 1-6 3M1255 2489l0-4-2-4 0-4-4-12 0-3-2-4 0-3-3-9-2-3 0-3-3-5 0-3-13-27-2-2-5-10-17-22-18-16-3-1 0-1-6-3 0-1-6-2-2-2-4-1-5-3-14-3-1-1-6 0-1-1-20 0-1 1-6 0-23 7-16 8-1 2-8 4-1 2-12 8-1 2-21 20-6 9-3 2-25 36-1 4-4 5-6 12-2 2-23 45-1 4-4 6-6 15-3 4-9 21-8 15M629 2553l-4-12-6-12 0-3-3-5 0-2-11-24 0-2-5-10-5-14-13-27-1-4-20-39-4-5 0-2-6-8 0-2-8-10 0-2-9-12-12-15-4-3-12-13-6-4-3-4-13-9-10-5-2-2-6-3-3 0-5-3-13-4-10-1-1-1-8 0-2-1-19 1-1 1-9 1-17 6-15 8-10 7-2 3-5 3 0 1-9 8-3 5-3 2-5 7-12 19-7 14 0 2-9 20-7 22 0 3-3 9 0 4-2 5-1 9-2 6 0 5-1 1-1 12-1 1-2 28-1 1-1 41M1266 2574l-4-48-1-2 0-5-1-1-2-18-1-1 0-4-1-1-3-15"/>
<path stroke="url(#g2_R6)" d="M186 2555l-3 0-1-1-3 0 0 1-10 0-14 4M942 2571l3-10 3-5 7-19 2-2 2-7 16-33 0-2 2-2 0-2 2-2 12-25 10-18 12-19 0-2 3-3 0-2 3-3 0-2 3-3 1-3 8-11 1-3 3-3 1-3 10-13 1-3 8-9 0-2 9-10 0-2 16-18 2-4 12-14 3-2 16-18 14-12 6-7 30-25 29-21 37-22 2 0 4-3 2 0 6-4 2 0 9-5 2 0 23-10 5-1 3-2 37-11 4 0 15-4 23-4 25-2 2-1M135 2158l12 0 2-1 37 0 2 1 24 1 44 7 37 10 32 12 5 3 9 3 12 7 2 0 7 5 20 11 49 37 4 5 16 14 7 9 6 5 15 19 4 3 2 4 17 21 3 6 6 7 1 3 7 9 9 16 4 5 4 7 0 2 4 5 3 5 0 2 6 9 0 2 2 2 0 2 3 4 24 50 3 9 6 12 1 5 3 5 3 10 2 3 5 16 4 8 5 17M1384 2562l-3 0-1-1-23 0M864 2566l0-5 1-1 0-4 1-1 3-18 1-1 2-13 1-1 0-4 2-4 0-4 1-1 7-31 2-4 1-7 5-14 4-17 9-27 2-3 2-9 8-19 1-5 10-22 2-7 5-9 0-2 10-19 0-2 5-7 1-4 11-18 0-2 25-38 3-2 7-11 3-2 9-12 2-1 21-22 9-7 1-2 7-4 1-2 7-4 1-2 7-4 3-3 45-24 3 0 10-5 15-5 3 0 4-2 19-5 44-7 10 0 3-1 51 0 2 1 10 0 10 2 7 0 36 7 19 5 13 4 22 9M135 2145l2 0 22 11 4 1 21 13 4 1 20 13 2 3 23 16 6 6 11 8 3 4 7 5 4 5 9 7 2 3 18 17 9 11 8 7 31 35 1 3 13 14 2 4 18 21 1 3 6 6 1 3 5 5 2 4 19 24 1 3 4 4 4 7 4 4 1 3 4 4 1 3 6 7 0 2 4 4 3 6 16 22 0 2 5 6 6 11 5 6 0 2 3 3 7 13 3 3 2 5 13 20 0 2 4 5 0 2 4 5 0 2 4 5 0 2 4 5M1367 2561l-5-4-3-4-6-4-1-2-3-1 0-1-3-1 0-1-3-1 0-1-2 0-2-2-6-2 0-1-7-2 0-1-12-2 0-1-17-1 0 1-8 0-1 1-8 1-9 3 0 1-2 0-10 5 0 1-4 1 0 1-6 3-1 2-3 1 0 1-10 7-17 18M790 2546l1-49 1-2 0-16 1-2 0-14 1-2 2-38 1-2 0-9 1-2 3-38 1-2 0-6 1-1 0-8 1-2 1-14 1-1 2-22 2-8 0-6 3-14 4-29 2-6 1-11 6-26 0-4 15-59 12-35 6-12 0-2 15-28 13-18 15-16 20-15 17-9 26-10 37-9M1009 1998h0M1017 1997h0M1026 1996h0M1034 1994h0M1043 1993h0M1053 1992h0M1063 1992h0M1074 1991h0M1085 1990h0M1096 1990h0M1108 1989h0M1120 1989h0M1132 1988h0M1144 1988h0M1156 1988h0M1168 1988h0M1181 1989h0M1192 1989h0M1204 1989h0M1215 1990h0M1226 1991h0M1237 1992h0M1247 1992h0M1256 1993h0M1266 1994h0M1274 1995h0M1282 1997h0M1290 1998h0M1298 1999l31 7 24 8 21 10 12 7 7 6M136 2039l16 14 18 22 14 22 8 15 0 2 8 15 11 25 0 2 3 5 2 7 3 5 4 13 2 3 8 23 4 8 1 5 4 8 1 5 4 9 1 5 2 3 1 5 2 3 1 5 2 3 1 5 13 31 2 8 5 10 1 5 5 10 1 5 8 17 1 5 2 2 1 5 3 5 3 9 5 9 3 9 2 2 0 2 9 18 0 2 2 2 0 2 6 11 0 2 2 2 1 4 4 6 0 2 5 8 0 2 5 8 0 2 3 4 0 2 2 2 1 4 6 9 0 2 3 4 0 2 4 5 0 2 7 11 1 4 6 9 3 7 4 5 0 2 6 10M1345 2560l-5-10 0-2-8-16-2-2-1-4-10-16-2-1-4-7-10-12-1 0-5-6-6-4-1-2-7-4 0-1-4-2 0-1-5-2 0-1-20-8-10-1-1-1-19 0-1 1-13 2 0 1-3 0-11 5-2 0-2 2-12 6-1 2-6 3-1 2-9 6 0 1-16 15-10 13-6 6-15 21 0 2-9 12-2 5-9 14M718 2519l-2-25-2-11 0-8-1-2 0-9-2-11-1-20-1-1 0-8-1-2-1-20-1-2-1-17-1-2-1-17-1-2 0-8-4-27 0-8-2-8-1-13-2-8 0-6-3-18-2-6-4-24-7-28-7-22-6-13 0-2-17-33-12-16-13-14-20-16-25-14-31-11-33-7-32-3-37 0-35 4-19 4-34 11-11 5-18 11-12 9-1 2-12 11-2 4-2 1-2 4-2 1-6 11-4 5 0 2-9 18-7 20-8 39 0 7-2 11 0 11-1 2-1 38 1 2 0 27 1 1 0 14 1 2 1 21 1 1 1 16 1 1 0 7 1 2 0 5 1 1 1 12 1 1 3 23 2 6 4 24 1 1 1 8 2 4 1 8 1 1 6 27 2 4 0 3 3 7 2 10 8 24M1322 2567l-1-8-1-1-1-12-1-1-1-9-3-10-1-9-2-4 0-3-3-8-1-7-3-7 0-3-12-31-2-2 0-2-7-14-2-2 0-2-14-21-8-10-4-3-9-10-5-3-2-3-11-7-14-7-12-4-10-1-1-1-23 0-1 1-10 1-15 5-19 10-25 19-18 19-28 39 0 2-3 3 0 2-14 23-3 6 0 2-2 2 0 2-2 2-7 14 0 2-2 2 0 2-6 11 0 2-2 2-2 7-5 9-2 7-2 2 0 2-2 3 0 2-2 2-1 4M1271 2368l0-34-1-2-1-23-1-1 0-7-4-22 0-5-9-35-8-22-7-13 0-2-14-22-15-18-14-12-8-6-10-5-1-2-25-11-29-8-5 0-8-2-8 0-2-1-32 0-36 6-24 8-27 13-6 4-7 5-1 2-4 2-1 2-4 2-1 2-14 13-7 10-2 1-6 8-6 10-11 19-7 15 0 2-4 7-8 24-2 3-6 23-2 3-4 15 0 4-4 13 0 4-3 9 0 4-2 5-1 10-2 5-6 37-1 1 0 4-4 18-2 18-1 1 0 4-2 7 0 5-6 31-1 12-2 6 0 5-2 7 0 5-2 6-2 15-1 1-1 10M469 2569l-3-5 0-2-3-4 0-2-28-47-28-37-2-1-14-15-5-3 0-1-6-4-1-2-9-5-1-2-20-10-9-2 0-1-3 0-5-2-6 0-1-1-18 0-1 1-5 0-1 1-4 0 0 1-10 2-2 1 0 1-7 2-2 1 0 1-5 2-11 8-1 2-4 2-17 18-2 4-5 5-6 9-1 4-7 10-1 4-3 4-6 14 0 2-2 2-10 29M1167 2577l21-42 0-2 9-18 0-2 4-7 0-2 5-10 4-12 3-5 3-10 11-27 19-56 0-3 6-17 2-10 3-7 0-4 7-22 0-4 1-1 1-7 3-8 0-4 4-13 1-9 2-5 1-9 2-5 1-9 1-1 0-4 4-16 11-75 1-19 1-2 0-16 1-2 0-30-1-2 0-12-3-18-6-18-10-17-13-11-18-10-16-6-6-1M1219 1985h0M1210 1983h0M1201 1982h0M1191 1980h0M1179 1978h0M1166 1977h0M1151 1976h0M1134 1975h0M1115 1974h0M1095 1973h0M1073 1972h0M1050 1972h0M1027 1972h0M1003 1972h0M981 1973h0M659 2358l4 14 1 8 3 8 0 4 5 18 9 43 0 4 1 1 1 11 2 6 0 6 1 1 2 16 1 1 3 25M200 2552l-7 0 0-1-16 1-1 1-8 1-12 5M952 2571l5-11 0-2 2-2 2-7 9-18 0-2 2-2 1-4 4-6 0-2 8-15 0-2 2-2 6-13 2-2 3-7 2-2 0-2 5-7 10-19 16-26 8-11 1-3 4-4 0-2 4-4 0-2 12-15 1-3 15-18 0-2 12-13 1-3 33-37 2-1 13-14 31-27 30-24 2 0 13-10 2 0 9-7 2 0 8-6 2 0 14-9 2 0 18-10 7-2 4-3 2 0 3-2 2 0 3-2 19-7 5-1 3-2 46-12 10-1 1-1 12-2 6 0M135 2157l6 0 10-2 12 0 2-1 52 0 2 1 10 0 2 1 8 0 8 2 6 0 43 9 31 10 20 9 2 0 5 3 2 0 6 4 2 0 18 11 5 2 45 32 3 4 6 4 4 5 7 5 2 3 13 12 5 7 5 4 33 42 1 3 7 9 17 27 2 5 10 16 0 2 4 5 0 2 2 2 0 2 3 4 6 13 2 2 0 2 6 11 0 2 6 11 0 2 3 5 3 9 4 7 1 5 7 15 2 8 3 5 4 14 2 2 7 21 0 3 6 16M1368 2561l-10-8 0-1-5-3 0-1-3-1 0-1-3-1 0-1-3-1 0-1-8-4-2 0 0-1-2 0-3-2-3 0 0-1-3 0 0-1-4 0 0-1-5 0-1-1-20 0 0 1-5 0-14 4-18 9 0 1-6 3-1 2-3 1 0 1-12 9-13 14M796 2550l2-53 1-2 0-12 1-2 0-11 1-2 3-43 1-2 1-16 1-2 2-23 4-24 0-6 5-27 1-12 5-23 1-10 2-6 1-10 13-55 2-4 2-10 8-24 0-3 3-6 6-18 4-7 0-2 15-30 14-22 17-19 12-11 3-1 7-6 14-9 10-5 27-11 26-7 44-8M1062 2006h0M1070 2005h0M1078 2004h0M1086 2003h0M1094 2003h0M1103 2002h0M1111 2002h0M1120 2001h0M1129 2001h0M1138 2001h0M1147 2000h0M1156 2000h0M1165 2000h0M1174 2001h0M1183 2001h0M1192 2001h0M1200 2001h0M1209 2002h0M1217 2002h0M1226 2003h0M1234 2004h0M1241 2005h0M1249 2005h0M1256 2006l33 5 22 5 23 7 32 14 17 10 4 4 5 3M134 2056l21 19 14 18 2 1 3 6 9 12 16 28 22 45 0 2 3 5 3 9 8 16 4 12 5 9 6 17 4 7 5 15 10 21 1 5 4 7 5 14 16 34 1 5 2 2 0 2 5 9 0 2 5 9 0 2 2 2 0 2 5 9 0 2 2 2 0 2 2 2 0 2 2 2 1 4 18 36 2 2 0 2 3 6 2 2 0 2 2 2 5 11 2 2 0 2 6 9 1 4 10 16 11 21 4 5 7 14 8 12"/>
<path stroke="url(#g2_G5)" d="M154 2042l41-6 24-2 55-1 4 1 17 0 25 2 23 3 18 4 4 0 10 3 4 0 12 4 3 0 29 10 10 4 31 16 1 2 12 7 16 13 20 19 3 5 2 1 4 6 3 2 7 11 5 5 21 34 0 2 3 4 21 44 1 5 4 7 11 33 2 3 9 27 1 7 4 10 0 3 3 8 3 14 2 4 6 28 2 4 5 26 1 1 1 9 2 6 4 24 1 1 0 5 1 1 0 5 1 1 3 22 1 1 0 6 2 7 0 6 3 16 0 7 1 1 0 6 1 1 0 7M994 2573l3-5 1-5 5-10 3-10 3-5 0-2 3-5 0-2 3-5 0-2 3-5 13-32 6-11 3-9 3-4 1-4 6-11 0-2 3-4 1-4 6-11 0-2 2-2 2-6 2-2 1-4 2-2 1-4 2-2 2-6 6-10 0-2 7-11 0-2 3-4 0-2 2-2 1-4 4-5 0-2 3-4 0-2 2-2 5-11 6-9 0-2 2-2 2-5 6-9 0-2 9-14 4-9 3-3 0-2 8-12 2-5 3-3 0-2 6-8 0-2 4-4 0-2 3-3 0-2 3-3 1-3 13-18 0-2 6-7 1-3 6-7 1-3 11-13 4-7 12-13 9-12 2-1 21-22 20-17 15-10 1-2 15-9 23-11 6-4 15-6 3 0 25-9 3 0 12-4M136 2046l28-6 19-2"/>
<path stroke="url(#g2_R5)" d="M1323 2566l-2-15-1-1 0-4-7-32-2-4 0-3-2-4 0-3-4-12-3-6-1-6-17-37-16-24-8-10-10-9-3-4-5-3-1-2-11-7-14-7-12-4-9-1-1-1-23 0-1 1-5 0-9 2-12 4-17 9-22 16-25 27-16 21-1 3-3 3-18 30 0 2-8 13 0 2-2 2 0 2-2 2-1 4-6 10-4 11-2 2-4 11-2 2 0 2-12 25M649 2549l-5-18-3-16-2-4 0-4-2-4 0-4-2-4 0-4-2-4-3-15-3-8 0-4-2-4-5-22-16-54-2-3-5-17-2-3-1-5-4-8-4-12-3-5 0-2-5-9-1-4-3-4-1-4-3-4 0-2-6-9-2-5-17-25-5-5-4-6-24-23-19-13-28-13-14-4-4 0-1-1-4 0-7-2-11 0-2-1-13 0-1 1-9 0-13 2-30 10-16 9-14 10-2 3-8 6-6 8-4 3-12 16 0 2-6 8 0 2-7 11 0 2-4 7-12 33-1 7-6 21-6 36-2 30-1 2 0 18-1 1 0 47 1 2 0 19 1 2 1 25 1 1 0 8 1 3"/>
<path stroke="url(#g2_G4)" d="M982 2573l0-3 3-5 2-8 3-5 0-3 5-10 2-8 11-24 2-8 2-2 4-11 3-5 5-14 3-4 3-9 6-11 1-4 2-2 3-9 2-2 1-4 3-4 0-2 3-4 0-2 17-34 2-2 0-2 3-4 0-2 2-2 5-11 6-9 0-2 3-4 0-2 2-2 6-12 2-2 0-2 3-3 2-5 2-2 0-2 17-27 0-2 3-3 1-3 23-36 10-13 0-2 4-4 2-4 19-24 5-8 15-16 6-8 4-3 21-22 7-5 1-2 9-6 2-3 24-16 3-3 39-20 14-6 3 0 9-4 19-6 26-6M135 2053l40-6 21-2 11 0 4-1 56 0 3 1 33 2 43 7 9 3 15 3 16 6 3 0 29 12 35 20 30 24 1 2 12 11 10 13 3 2 20 28 12 19 0 2 9 14 0 2 2 2 15 31 0 2 4 7 0 2 5 10 1 5 10 23 17 51 0 3 9 28 2 11 2 4 1 8 2 4 0 3 4 13 1 8 1 1 4 18 0 4 4 14 0 5 2 5 1 11 1 1 2 16 1 1 2 16 1 1 1 13 2 7 0 7"/>
<path stroke="url(#g2_R4)" d="M1057 2576l3-6 6-8 0-2 6-8 2-5 5-6 2-5 5-6 2-5 5-6 2-5 5-6 2-5 3-3 10-17 5-6 0-2 11-15 2-5 9-12 0-2 3-3 2-3 0-2 9-12 0-2 13-18 13-22 7-9 0-2 3-3 1-3 3-3 1-3 12-17 1-3 3-3 0-2 9-12 0-2 3-3 3-6 11-15 1-3 6-7 0-2 8-10 3-6 11-14 0-2 23-31 3-2 9-13 3-2 4-6 3-2 10-13 2-1 25-26 19-15 1-2 6-3 1-2 6-3 1-2 10-6M135 2119l4-3 11-5 2-2 29-14 35-12 3 0 22-6 29-5 32-3 50 0 25 2 28 4 6 2 13 2 15 5 3 0 31 11 2 2 13 5 2 2 7 3 15 9 10 7 29 25 15 18 2 1 2 4 2 1 2 4 9 11 20 32 0 2 14 26 0 2 13 28 22 64 17 64 6 31 2 5 4 25 1 1 0 5 2 7 0 4 1 1 0 5 2 7 4 29M198 2553l-2-1-17 0-1 1-10 1 0 1-3 0 0 1-3 0 0 1-6 2"/>
<path stroke="url(#g2_R3)" d="M471 2569l-2-2-1-4-2-2-13-25-4-5 0-2-4-5-2-5-5-6 0-2-20-28-4-5-4-3-4-6-3-2-13-14-13-9-4-4-8-4 0-1-8-4-7-2-2-2-14-3-1-1-6 0-1-1-20 0-1 1-4 0-1 1-4 0-4 2-3 0-19 9-1 2-5 2-1 2-4 2-1 2-7 5-10 12-3 2-18 27-4 9-3 4-3 9-3 4-13 36M1168 2577l10-19 1-4 2-2 1-4 2-2 0-2 14-29 2-7 2-2 10-27 2-2 8-24 3-5 5-14 9-27 0-3 9-25 0-3 9-28 0-4 4-11 0-3 2-5 6-27 1-1 0-4 4-13 1-9 2-5 8-47 1-1 1-10 1-1 0-6 2-7 0-6 3-17 0-8 1-1 1-18 1-2 0-11 1-2 0-50-1-2-1-14-5-20-9-18-6-8-11-10-13-8-13-6-18-5M1213 1986h0M1204 1985h0M1195 1983h0M1185 1982h0M1174 1980h0M1161 1979h0M1147 1978h0M1131 1976h0M1114 1975h0M1095 1975h0M1076 1974h0M1055 1974h0M1033 1974h0M1012 1974h0M991 1974h0M971 1975h0M952 1975h0M934 1976h0M918 1977h0M904 1979h0M891 1980h0M880 1981h0M869 1983h0M860 1985h0M852 1986h0M844 1988l-18 5-17 8-12 8-9 8-5 6-11 21 0 3-5 14-3 17-1 13-1 2-1 32-1 3 0 66 1 2 0 37 1 2 1 60 1 2 0 28 1 2 0 36 1 1 0 46 1 2 0 89-1 2 0 31M1384 2562l-10-1 0-1-19 1M859 2565l12-62 19-72 5-16 2-3 4-15 2-3 2-9 2-3 1-5 2-3 1-5 4-8 5-15 10-21 0-2 6-11 0-2 4-6 0-2 4-6 0-2 6-9 0-2 26-42 2-1 7-11 3-2 10-14 3-2 7-9 2-1 9-10 8-6 5-6 4-2 17-14 6-3 8-6 44-22 3 0 8-4 12-3 7-3 50-10 8 0 13-2 16 0 2-1 19 0 3 1 15 0 29 3 48 10 28 9 20 9 2 0M136 2142l13 7 4 1 24 14 23 15 4 4 12 8 5 5 10 7 2 3 7 5 3 4 7 5 3 4 31 30 7 9 7 6 26 30 7 10 12 13 1 3 17 20 2 4 5 5 1 3 12 14 1 3 4 4 10 15 5 5 0 2 4 4 16 24 4 4 3 6 4 4 0 2 6 7 0 2 4 4 3 6 9 12 2 5 9 12 2 5 3 3 2 5 5 6 0 2 5 6 0 2 9 13 19 34"/>
<path stroke="url(#g2_R2)" d="M1285 2024l33 8 29 11 28 15 18 13M135 2073l8 6 18 19 2 1 22 29 17 27 1 4 10 16 1 4 6 9 0 2 9 16 0 2 7 13 0 2 4 6 0 2 3 4 2 7 3 4 0 2 5 9 0 2 3 4 2 7 3 4 4 11 7 13 0 2 6 11 0 2 4 7 0 2 2 2 0 2 6 11 0 2 32 65 2 2 0 2 2 2 0 2 4 6 1 4 2 2 0 2 8 13 0 2 8 13 0 2 10 16 0 2 10 16 1 4 8 12 0 2 4 5 0 2 4 5 2 5 4 5 0 2 6 8 0 2 6 8 0 2 10 15M1349 2560l-8-16-13-21-4-4-2-4-2-1-3-5-1 0-13-14-5-3-1-2-16-9 0-1-5-1 0-1-5-1-3-2-3 0-5-2-6 0-1-1-17 0-1 1-6 0-1 1-7 1-3 2-3 0-5 3-2 0-2 1 0 1-2 0-9 5-19 14-1 2-19 18-14 17-18 26-7 12M730 2519l-1-15-1-2 0-10-1-2 0-10-1-2 0-13-1-1-2-41-1-1 0-13-1-2 0-14-1-1 0-14-1-2-2-39-1-1 0-10-1-2 0-10-1-2-2-30-3-18-1-15-2-8 0-6-4-18-1-11-9-36-4-12-7-16 0-2-11-22-15-21-10-11-27-20-21-10-29-10-35-7-40-4-42 0-35 3-27 5-20 5-17 6-28 14-23 18-12 14-3 6-2 1-13 26-9 28-6 36-1 24-1 2 1 64 1 2 0 11 1 2 1 19 3 17 0 7 7 40M1240 2575l3-9 1-8 3-8 4-21 1-1 1-9 2-6 2-14 1-1 4-30 1-1 3-29 1-2 0-8 1-2 1-23 1-1 0-19 1-2 0-48-1-2-1-28-1-1 0-8-1-1 0-6-1-1 0-6-1-1 0-6-3-12 0-4-3-8 0-4-4-14-2-3-1-6-7-15 0-2-5-10-15-24-2-1-3-5-16-15-1-2-10-8-9-6-29-14-20-6-20-4-6 0-11-2-30 0-25 3-18 4-7 3-3 0-19 8-16 8-16 10-1 2-14 11-18 20-14 20-9 16 0 2-13 27-2 8-2 3-7 21-12 45 0 4-5 18-1 10-2 5-1 10-8 40 0 6-1 1 0 4-2 7 0 6-1 1-2 18-2 7-1 11-1 1-5 38-2 6-1 12-7 37M464 2569l-21-38-13-19-1-3-22-29-4-3-9-11-19-16-19-12-14-5 0-1-3 0-9-3-5 0-1-1-22 0-1 1-9 1-12 4-2 2-6 2-2 2-5 2-1 2-3 1-1 2-3 1-5 4-1 2-10 9-6 7-2 4-3 2-11 17-17 34-9 25"/>
<path stroke="url(#g2_R1)" d="M1293 2572l0-14 1-1-1-55-1-2 0-12-1-2 0-9-1-2-1-16-1-1 0-7-1-1 0-5-1-1 0-5-3-16-1-1-2-13-2-4-2-11-5-13 0-3-2-3-1-5-5-11 0-2-3-5 0-2-2-2 0-2-2-2-2-6-15-24-11-13-17-17-2 0-5-5-3-1-3-3-11-6-2 0-2-2-18-6-7-1-1-1-6 0-1-1-29 0-1 1-10 1-17 5-17 8-12 7-18 14-7 8-8 7-18 22-3 6-12 17 0 2-4 5 0 2-7 11 0 2-5 8 0 2-7 13 0 2-4 7-1 5-4 7-4 13-5 10-3 11-2 3-4 14-2 3-31 96M572 2560l-2-7-6-13-1-5-4-8-4-13-3-5-1-5-2-2-2-8-2-2-1-5-2-2-1-5-12-25-1-4-11-22-8-13 0-2-10-15 0-2-10-13-1-3-5-5-1-3-13-15-14-14-24-18-2 0-2-2-10-5-2 0-5-3-9-3-12-2-1-1-8 0-1-1-15 0-1 1-7 0-14 3-3 2-12 4-4 3-7 3-17 13-8 8-13 15-4 7-3 3-8 13 0 2-2 2-3 6 0 2-2 2 0 2-2 2 0 2-9 21-7 22-6 28-1 1-2 14-1 1 0 5-1 1-2 20-1 1 0 6-1 2 0 9-1 2 0 9-1 3M1246 2575l7-29 3-18 1-1 1-11 1-1 3-22 1-1 0-7 2-7 1-15 1-1 2-29 1-2 0-13 1-2 0-22 1-1-1-57M927 2570l11-32 2-2 1-5 4-8 2-7 3-5 0-2 16-34 1-4 11-22 2-2 0-2 2-2 2-6 8-13 0-2 3-3 0-2 9-14 0-2 8-11 0-2 8-11 1-3 6-7 0-2 6-7 0-2 7-8 4-7 13-15 5-8 5-6 6-5 14-17 4-3 16-17 33-28 10-6 17-13 2 0 11-8 2 0 5-4 23-12 2 0 4-3 2 0 5-3 25-10 24-7 7-3 4 0 13-4 30-5 1-1 24-2 2-1 13 0 2-1 26 0M136 2159l33 1 2 1 8 0 38 6 18 5 4 0 38 12 31 13 22 11 14 9 5 2 26 18 42 34 2 3 19 18 15 18 6 5 1 3 13 15 8 10 1 3 7 8 28 42 3 5 0 2 4 5 15 28 2 2 0 2 2 2 0 2 2 2 16 32 0 2 15 31 6 17 2 2 1 5 6 13 3 10M1382 2562l-5-1 0-1-4 0 0-1-5 0-1-1-21 0-1 1-4 0-8 3-3 0 0 1-7 2 0 1-2 0-2 2-2 0 0 1-3 1M849 2563l4-29 2-10 1-1 0-5 7-35 2-5 1-8 4-13 0-4 1-1 4-19 5-15 0-3 6-21 5-13 3-12 2-3 1-6 2-3 6-19 2-3 8-22 12-25 0-2 15-28"/>
<path stroke="url(#g2_R0)" d="M564 2561l-5-11-3-10-3-5-1-5-4-8-2-7-3-5-1-5-2-2-1-5-2-2-1-5-2-2 0-2-3-5-3-9-4-6-1-5-2-2 0-2-2-2 0-2-2-2-2-6-2-2-9-18-2-2 0-2-3-3 0-2-3-3-4-8-10-13-1-3-5-5-1-3-19-21-17-15-3-1-10-8-2 0-4-3-15-7-9-3-3 0-4-2-5 0-1-1-6 0-2-1-16 0-13 2-19 6-6 4-6 2-19 14-5 6-8 7-13 17-3 6-3 3 0 2-6 9 0 2-2 2-3 6 0 2-2 2-15 41 0 3-2 4 0 3-4 13-3 17-1 1 0 5-1 1 0 5-1 1 0 5-2 7-1 14-1 1-1 17M1240 2575l3-8 7-32 1-1 4-23 1-1 0-5 2-6 1-11 2-6 0-6 2-8 0-5 1-1 0-7 1-1 0-7 1-1 0-7 1-1 2-33 1-2 0-18 1-2 0-50-1-2 0-16-1-1-1-20-1-1-1-13-3-12 0-4-1-1 0-4-8-30-2-3-5-16-4-6 0-2-5-8 0-2-8-13-20-24-13-10-1-2-6-3-1-2-10-6-16-8-16-6-3 0-12-4-10-2-22-3-33 0-19 2-33 8-19 8-14 7-16 10-12 10-20 21-17 25-13 23-7 19-3 5-10 30-4 17-2 3 0 4-6 21 0 4-2 5 0 4-4 15 0 4-3 11 0 4-1 1-1 10-4 18 0 5-3 13 0 6-1 1 0 4-2 7-3 25-2 7-3 24-2 7 0 5-1 1 0 5-2 7-1 12-2 6 0 5-4 22"/>
<path stroke="#ff0000" d="M642 2533h0M981 2565h0M984 2555h0M1183 2566h0M798 2533h0M795 2547h0M450 2563h0M448 2561h0M447 2559h0M441 2551h0M438 2548h0M264 2515h0M386 2550h0M392 2563h0M1304 2573h0M1288 2556h0M1287 2555h0M1279 2549h0M1212 2536h0M1172 2556h0M1167 2561h0M1294 2562h0M1286 2546h0M1112 2525h0M1103 2535h0M1084 2559h0M1074 2572h0M343 2555h0M1086 2575h0M1088 2570h0M1115 2572h0M1117 2567h0M1124 2552h0M914 2570h0M915 2567h0M915 2564h0M916 2559h0M1281 2572h0M1277 2553h0M856 2562h0M508 2557h0M807 2531h0M432 2549h0M1288 2573h0M1285 2572h0M1276 2570h0M1272 2569h0M1271 2569h0M1270 2569h0M1267 2569h0M1266 2569h0M1259 2570h0M1239 2574h0M1238 2575h0M985 2572h0M992 2554h0M1063 2574h0M1070 2559h0M1074 2551h0M1078 2542h0M259 2531h0M1240 2562h0M870 2558h0M563 2552h0M260 2528h0M257 2543h0M1242 2537h0M1242 2534h0M872 2558h0M594 2550h0M595 2553h0M972 2573h0M975 2566h0M976 2563h0M981 2549h0M1120 2564h0M1117 2567h0M357 2533h0M1303 2573h0M1297 2563h0M1294 2558h0M1293 2557h0M1290 2554h0M1289 2552h0M1287 2549h0M1279 2540h0M435 2553h0M430 2547h0M247 2538h0M1177 2572h0M1179 2567h0M1182 2556h0M1192 2521h0M878 2552h0M879 2541h0M1290 2573h0M1284 2553h0M1025 2553h0M1017 2566h0M1013 2572h0M409 2565h0M404 2559h0M1157 2572h0M1167 2545h0M945 2529h0M936 2548h0M928 2565h0M626 2544h0M614 2516h0M1266 2573h0M1265 2570h0M1265 2565h0M873 2563h0M572 2557h0M570 2553h0M569 2551h0M997 2568h0M1001 2556h0M1005 2547h0M1012 2531h0M1015 2524h0M1108 2567h0M1110 2563h0M1123 2532h0M466 2567h0M1295 2565h0M1291 2561h0M1288 2560h0M1273 2551h0M1202 2554h0M1195 2557h0M1185 2564h0M1179 2568h0M982 2573h0M983 2568h0M986 2561h0M990 2552h0M992 2544h0M645 2531h0M646 2540h0M1295 2573h0M1294 2572h0M1285 2568h0M1268 2564h0M1267 2564h0M1255 2564h0M1253 2564h0M1247 2565h0M1233 2569h0M430 2561h0M267 2520h0M1252 2575h0M1252 2564h0M1252 2554h0M900 2547h0M896 2556h0M893 2563h0M1052 2568h0M1054 2566h0M1362 2561h0M515 2563h0M1367 2561h0M1313 2530h0M1298 2529h0M1283 2532h0M1247 2549h0M1235 2559h0M388 2557h0M1105 2561h0M1001 2559h0M1000 2562h0M562 2557h0M542 2507h0M540 2501h0M530 2479h0M524 2465h0M517 2452h0M500 2420h0M428 2339h0M258 2400h0M247 2423h0M232 2468h0M230 2479h0M224 2506h0M224 2509h0M221 2527h0M220 2533h0M1246 2553h0M1250 2535h0M1258 2499h0M1259 2490h0M1260 2484h0M849 2450h0M847 2464h0M843 2488h0M842 2495h0M840 2505h0M834 2541h0M831 2557h0M463 2555h0M461 2550h0M459 2548h0M207 2519h0M205 2523h0M1175 2563h0M1187 2538h0M1189 2533h0M1197 2516h0M1293 2558h0M1294 2540h0M1294 2536h0M923 2545h0M920 2554h0M919 2557h0M570 2555h0M568 2549h0M554 2513h0M525 2445h0M227 2500h0M223 2531h0M222 2540h0M1251 2555h0M1252 2549h0M1254 2537h0M1263 2485h0M1172 2567h0M1177 2558h0M1186 2538h0M1066 2560h0M178 2552h0M176 2553h0M157 2558h0M1379 2561h0M1376 2561h0M1374 2561h0M1368 2560h0M1362 2560h0M860 2559h0M861 2556h0M469 2499h0M490 2533h0M495 2542h0M497 2545h0M499 2549h0M1355 2550h0M1300 2531h0M1246 2553h0M1226 2570h0M401 2563h0M1321 2551h0M1317 2534h0M394 2535h0M396 2537h0M402 2548h0M1344 2550h0M1341 2544h0M1338 2540h0M1323 2517h0M1313 2505h0M1142 2539h0M1125 2563h0M1119 2572h0M1118 2574h0M1290 2560h0M1290 2545h0M1241 2570h0M1244 2558h0M1249 2541h0M1250 2535h0M832 2550h0M455 2552h0M451 2545h0M439 2525h0M437 2522h0M427 2507h0M225 2484h0M201 2531h0M199 2536h0M194 2549h0M175 2552h0M1075 2546h0M187 2552h0M160 2557h0M158 2558h0M930 2560h0M942 2530h0M944 2524h0M560 2476h0M576 2511h0M577 2514h0M579 2519h0M592 2552h0M593 2555h0M1382 2562h0M1374 2560h0M1363 2558h0M1360 2558h0M1351 2558h0M1348 2558h0M1330 2562h0M1326 2564h0M1324 2565h0M859 2503h0"/>
<path stroke="#ff4700" d="M982 2563h0M990 2541h0M1181 2573h0M1181 2571h0M1194 2524h0M442 2553h0M383 2543h0M389 2556h0M1303 2571h0M1242 2534h0M1227 2533h0M1185 2547h0M1179 2552h0M1177 2553h0M1160 2566h0M1299 2572h0M1111 2527h0M727 2513h0M1089 2566h0M1096 2551h0M1107 2527h0M1116 2569h0M1130 2536h0M1280 2565h0M979 2567h0M495 2527h0M507 2554h0M438 2562h0M439 2564h0M1254 2570h0M647 2528h0M1068 2564h0M1069 2561h0M263 2512h0M262 2517h0M871 2556h0M565 2556h0M555 2538h0M1240 2571h0M877 2544h0M925 2566h0M934 2532h0M934 2530h0M590 2535h0M1139 2544h0M1122 2561h0M750 2513h0M365 2556h0M366 2559h0M1302 2571h0M447 2568h0M408 2523h0M250 2533h0M876 2563h0M877 2557h0M533 2545h0M534 2548h0M1036 2536h0M1018 2564h0M688 2514h0M400 2555h0M398 2552h0M396 2551h0M373 2531h0M1159 2568h0M1162 2561h0M932 2557h0M927 2567h0M1265 2558h0M571 2555h0M559 2532h0M259 2541h0M655 2529h0M1021 2510h0M1104 2576h0M1115 2552h0M1119 2543h0M1122 2534h0M1284 2557h0M1282 2555h0M1248 2544h0M1204 2553h0M394 2539h0M984 2566h0M999 2528h0M642 2515h0M1292 2571h0M1270 2565h0M1256 2564h0M1224 2573h0M1223 2573h0M801 2503h0M428 2557h0M429 2559h0M432 2566h0M478 2550h0M485 2566h0M591 2547h0M178 2555h0M1382 2562h0M513 2561h0M1252 2546h0M1220 2574h0M1118 2541h0M1321 2559h0M1010 2538h0M912 2550h0M476 2384h0M289 2356h0M1248 2544h0M1263 2468h0M1267 2430h0M1271 2373h0M882 2284h0M858 2396h0M466 2560h0M206 2521h0M1193 2526h0M558 2524h0M229 2488h0M188 2538h0M170 2554h0M952 2571h0M1353 2549h0M1237 2560h0M1228 2569h0M389 2543h0M1343 2551h0M357 2470h0M400 2544h0M1335 2534h0M1324 2519h0M1200 2484h0M1163 2514h0M1135 2549h0M1132 2553h0M728 2492h0M453 2550h0M205 2521h0M689 2515h0M196 2552h0M174 2553h0M162 2557h0M951 2508h0M1379 2561h0M1370 2559h0M857 2513h0"/>
<path stroke="#ff8e00" d="M982 2560h0M988 2546h0M992 2534h0M1184 2561h0M1191 2537h0M446 2558h0M1294 2561h0M1199 2540h0M1190 2545h0M1169 2559h0M1159 2567h0M1296 2566h0M1267 2518h0M1262 2513h0M1106 2532h0M1100 2538h0M1088 2554h0M1076 2568h0M332 2511h0M333 2516h0M1087 2572h0M1106 2529h0M1114 2574h0M1118 2565h0M1134 2527h0M918 2551h0M579 2538h0M584 2556h0M1280 2567h0M1278 2557h0M1272 2531h0M1004 2521h0M986 2553h0M808 2537h0M807 2525h0M807 2507h0M433 2551h0M1279 2570h0M1064 2572h0M1067 2566h0M1071 2557h0M1077 2544h0M1084 2529h0M1241 2544h0M559 2544h0M556 2540h0M1241 2563h0M874 2551h0M930 2545h0M938 2516h0M592 2545h0M1134 2549h0M1292 2555h0M1288 2551h0M1267 2529h0M1258 2522h0M1210 2509h0M1161 2527h0M438 2556h0M423 2538h0M1180 2563h0M797 2520h0M794 2533h0M876 2566h0M532 2543h0M539 2562h0M1282 2546h0M1044 2524h0M1024 2555h0M387 2542h0M371 2529h0M256 2533h0M1170 2537h0M933 2555h0M277 2507h0M1265 2563h0M1264 2547h0M1243 2549h0M881 2542h0M876 2556h0M996 2570h0M1007 2542h0M1008 2540h0M1105 2574h0M1112 2559h0M448 2527h0M463 2560h0M1301 2571h0M1279 2554h0M1252 2544h0M1245 2544h0M1226 2545h0M1206 2552h0M1198 2556h0M783 2543h0M378 2500h0M987 2559h0M647 2545h0M1289 2570h0M1284 2568h0M1280 2567h0M1245 2565h0M1240 2567h0M1236 2568h0M838 2561h0M839 2541h0M473 2539h0M476 2546h0M588 2540h0M585 2536h0M578 2520h0M268 2515h0M1252 2548h0M905 2536h0M198 2529h0M182 2543h0M174 2553h0M168 2556h0M509 2554h0M512 2558h0M1335 2537h0M293 2520h0M1254 2517h0M1264 2455h0M837 2525h0M409 2473h0M201 2533h0M1181 2551h0M1192 2528h0M1293 2521h0M1292 2489h0M936 2504h0M935 2507h0M924 2543h0M916 2566h0M557 2521h0M555 2516h0M545 2490h0M1262 2495h0M1267 2457h0M1187 2536h0M195 2552h0M470 2501h0M1321 2554h0M359 2472h0M409 2559h0M1298 2492h0M1194 2488h0M1152 2526h0M907 2566h0M1253 2520h0M842 2491h0M835 2531h0M462 2566h0M244 2461h0M209 2512h0M208 2514h0M1082 2535h0M958 2491h0M967 2472h0M552 2460h0M563 2484h0M568 2495h0"/>
<path stroke="#ffd500" d="M642 2531h0M643 2539h0M994 2529h0M1189 2544h0M1199 2504h0M452 2566h0M413 2520h0M271 2507h0M243 2544h0M1301 2569h0M1298 2566h0M1297 2565h0M1290 2558h0M1276 2546h0M1267 2541h0M1213 2535h0M1188 2546h0M1168 2560h0M1161 2565h0M774 2538h0M771 2512h0M1292 2557h0M1290 2553h0M1289 2552h0M1288 2550h0M1284 2543h0M1278 2533h0M1134 2506h0M1081 2562h0M1079 2565h0M1073 2573h0M339 2541h0M1097 2549h0M722 2492h0M1123 2554h0M917 2554h0M919 2546h0M570 2507h0M294 2531h0M1015 2503h0M999 2531h0M857 2554h0M860 2517h0M861 2505h0M488 2511h0M511 2563h0M808 2534h0M424 2531h0M427 2538h0M431 2547h0M1274 2570h0M1264 2569h0M1258 2570h0M1246 2572h0M1244 2572h0M1001 2532h0M649 2542h0M1065 2570h0M1081 2535h0M1082 2533h0M551 2529h0M258 2538h0M1239 2575h0M869 2560h0M1241 2558h0M1242 2531h0M881 2534h0M931 2540h0M932 2537h0M588 2529h0M976 2561h0M638 2541h0M1133 2550h0M1128 2555h0M1125 2558h0M1111 2574h0M354 2523h0M1295 2560h0M1273 2534h0M1252 2518h0M1249 2517h0M1240 2513h0M1237 2512h0M1201 2510h0M1177 2518h0M1159 2528h0M428 2544h0M243 2544h0M1182 2558h0M1183 2553h0M793 2541h0M792 2544h0M538 2559h0M1288 2566h0M1285 2557h0M1033 2540h0M1021 2559h0M1020 2561h0M776 2528h0M411 2566h0M244 2545h0M1175 2521h0M938 2544h0M935 2550h0M623 2537h0M277 2520h0M276 2536h0M1264 2553h0M1261 2519h0M1244 2520h0M890 2519h0M875 2559h0M561 2534h0M554 2522h0M995 2572h0M1109 2565h0M1118 2545h0M1205 2552h0M1172 2575h0M1170 2576h0M783 2540h0M385 2518h0M393 2537h0M395 2543h0M998 2530h0M1007 2509h0M636 2480h0M638 2489h0M647 2543h0M1281 2567h0M1260 2564h0M1258 2564h0M1221 2574h0M1220 2575h0M465 2521h0M269 2507h0M908 2529h0M895 2559h0M195 2531h0M1048 2575h0M959 2528h0M876 2509h0M1363 2557h0M1360 2555h0M1357 2552h0M1326 2533h0M1295 2530h0M1264 2539h0M1259 2541h0M354 2496h0M1326 2521h0M1123 2533h0M1316 2533h0M1290 2547h0M225 2503h0M899 2236h0M453 2536h0M210 2511h0M1219 2463h0M767 2491h0M928 2531h0M538 2473h0M196 2548h0M1173 2565h0M338 2549h0M1061 2568h0M962 2548h0M613 2541h0M870 2511h0M507 2563h0M1334 2537h0M1249 2551h0M1244 2554h0M797 2531h0M363 2496h0M373 2515h0M384 2534h0M1342 2549h0M251 2524h0M378 2508h0M405 2553h0M1270 2476h0M1197 2486h0M1182 2497h0M1155 2523h0M1145 2535h0M1129 2557h0M730 2519h0M729 2513h0M729 2506h0M728 2502h0M1251 2532h0M1258 2496h0M837 2524h0M456 2554h0M393 2466h0M229 2478h0M336 2557h0M267 2511h0M1070 2555h0M690 2521h0M168 2555h0M941 2533h0M498 2368h0M561 2478h0M571 2500h0M574 2508h0M1344 2559h0"/>
<path stroke="#e3ff00" d="M641 2528h0M1003 2508h0M1182 2568h0M1184 2564h0M1186 2554h0M1187 2551h0M1192 2532h0M802 2512h0M796 2541h0M453 2568h0M451 2564h0M436 2545h0M433 2542h0M431 2539h0M425 2533h0M419 2526h0M311 2483h0M293 2490h0M260 2519h0M378 2529h0M384 2545h0M1293 2560h0M1283 2552h0M1281 2550h0M1251 2535h0M1222 2534h0M1206 2538h0M1181 2550h0M1163 2564h0M1151 2575h0M772 2524h0M1298 2570h0M1291 2555h0M1282 2539h0M1261 2512h0M1260 2510h0M1255 2506h0M1243 2496h0M1242 2496h0M1220 2485h0M1163 2489h0M1146 2498h0M1129 2510h0M1108 2530h0M1098 2541h0M1096 2543h0M1083 2560h0M331 2509h0M339 2538h0M1108 2524h0M1115 2509h0M1132 2532h0M919 2548h0M924 2524h0M570 2510h0M293 2521h0M295 2545h0M1279 2562h0M1276 2548h0M1270 2522h0M1264 2504h0M990 2547h0M977 2569h0M668 2538h0M666 2533h0M664 2526h0M856 2559h0M489 2514h0M505 2550h0M807 2513h0M419 2520h0M423 2529h0M1278 2570h0M997 2542h0M1076 2546h0M1090 2516h0M1094 2507h0M550 2527h0M258 2536h0M884 2520h0M877 2539h0M876 2542h0M872 2551h0M868 2563h0M561 2548h0M568 2558h0M1242 2544h0M882 2530h0M880 2537h0M926 2561h0M584 2514h0M973 2570h0M991 2522h0M1143 2540h0M1137 2546h0M363 2549h0M1263 2526h0M1257 2521h0M1254 2520h0M1220 2509h0M1190 2513h0M1183 2515h0M1165 2524h0M1164 2525h0M445 2566h0M383 2503h0M801 2497h0M799 2509h0M881 2530h0M523 2522h0M537 2557h0M1287 2562h0M1016 2568h0M308 2526h0M382 2537h0M280 2516h0M275 2519h0M270 2522h0M258 2531h0M247 2541h0M947 2524h0M934 2552h0M627 2546h0M613 2513h0M276 2538h0M1260 2514h0M1257 2499h0M1242 2570h0M1243 2562h0M882 2540h0M877 2554h0M573 2560h0M564 2541h0M261 2528h0M1128 2521h0M1129 2519h0M1141 2489h0M437 2505h0M443 2516h0M447 2525h0M1292 2562h0M1262 2547h0M1242 2544h0M1238 2544h0M1231 2544h0M1230 2545h0M1212 2549h0M1199 2555h0M782 2529h0M782 2526h0M780 2494h0M988 2556h0M1026 2464h0M644 2523h0M1293 2572h0M1288 2569h0M1276 2566h0M1264 2564h0M1262 2564h0M1241 2566h0M802 2541h0M801 2509h0M472 2537h0M477 2548h0M479 2552h0M483 2561h0M592 2549h0M275 2478h0M1252 2535h0M1251 2525h0M324 2544h0M179 2554h0M948 2555h0M964 2517h0M1359 2561h0M1366 2560h0M1365 2559h0M1305 2529h0M1250 2547h0M1233 2560h0M370 2525h0M385 2552h0M1108 2556h0M301 2545h0M1319 2551h0M1318 2545h0M1252 2526h0M832 2554h0M450 2532h0M435 2507h0M227 2481h0M1211 2482h0M767 2498h0M551 2504h0M547 2496h0M337 2315h0M251 2410h0M226 2503h0M1248 2566h0M1265 2476h0M839 2534h0M211 2509h0M1178 2555h0M1196 2516h0M765 2495h0M765 2512h0M184 2542h0M1064 2564h0M174 2553h0M954 2566h0M1370 2560h0M859 2562h0M863 2543h0M487 2529h0M1327 2535h0M1305 2531h0M1303 2531h0M1253 2547h0M796 2534h0M797 2521h0M398 2558h0M306 2540h0M1318 2537h0M1315 2523h0M1313 2517h0M1313 2514h0M1040 2487h0M649 2548h0M388 2524h0M406 2555h0M408 2557h0M1304 2497h0M1220 2476h0M1171 2507h0M1166 2511h0M1150 2528h0M917 2536h0M557 2546h0M223 2513h0M1246 2553h0M1266 2443h0M1267 2430h0M855 2406h0M383 2456h0M331 2430h0M226 2482h0M217 2497h0M210 2510h0M206 2519h0M1162 2572h0M1163 2569h0M1174 2548h0M1175 2546h0M320 2540h0M1089 2524h0M1115 2484h0M690 2518h0M1012 2390h0M582 2528h0M1340 2560h0M1329 2563h0M857 2516h0M868 2463h0"/>
<path stroke="#9cff00" d="M415 2522h0M400 2508h0M286 2494h0M255 2526h0M249 2534h0M372 2513h0M382 2538h0M387 2552h0M1289 2557h0M1237 2533h0M1235 2533h0M1187 2546h0M1153 2572h0M769 2492h0M1297 2568h0M1259 2509h0M1141 2501h0M1140 2502h0M1123 2515h0M1086 2555h0M329 2501h0M341 2548h0M1104 2533h0M722 2512h0M1113 2576h0M743 2507h0M743 2513h0M743 2519h0M304 2551h0M578 2533h0M292 2486h0M1278 2555h0M1272 2529h0M658 2508h0M647 2475h0M857 2551h0M861 2511h0M492 2520h0M808 2539h0M425 2534h0M434 2553h0M1283 2571h0M989 2563h0M990 2561h0M990 2558h0M991 2556h0M995 2546h0M1002 2528h0M1006 2518h0M1007 2516h0M643 2500h0M1087 2522h0M1107 2480h0M705 2508h0M553 2533h0M540 2509h0M264 2510h0M1241 2538h0M1242 2520h0M893 2495h0M558 2542h0M564 2549h0M1243 2529h0M1243 2499h0M893 2500h0M886 2520h0M926 2564h0M927 2558h0M929 2551h0M931 2543h0M590 2537h0M978 2556h0M989 2527h0M994 2513h0M634 2518h0M635 2524h0M639 2546h0M1142 2541h0M1121 2562h0M750 2516h0M345 2492h0M347 2501h0M350 2509h0M353 2519h0M1260 2523h0M1241 2513h0M1221 2509h0M1213 2509h0M1194 2511h0M432 2548h0M417 2532h0M416 2531h0M415 2530h0M404 2519h0M402 2518h0M349 2487h0M290 2495h0M1191 2524h0M530 2538h0M536 2552h0M1274 2525h0M1271 2517h0M1249 2479h0M1070 2490h0M1031 2544h0M309 2531h0M310 2536h0M776 2533h0M292 2511h0M287 2513h0M279 2517h0M277 2517h0M271 2521h0M252 2537h0M246 2543h0M245 2544h0M958 2502h0M942 2535h0M618 2525h0M611 2509h0M610 2506h0M602 2487h0M277 2510h0M276 2541h0M1262 2532h0M1260 2517h0M1255 2489h0M1243 2552h0M1244 2512h0M885 2533h0M878 2552h0M874 2561h0M567 2547h0M538 2492h0M645 2466h0M1009 2538h0M1016 2521h0M1025 2500h0M1030 2489h0M738 2474h0M826 2526h0M424 2476h0M432 2494h0M455 2543h0M458 2549h0M1258 2546h0M1243 2544h0M1181 2567h0M1178 2569h0M990 2549h0M991 2547h0M1000 2526h0M1018 2483h0M1272 2565h0M1248 2565h0M803 2547h0M409 2515h0M420 2540h0M839 2544h0M447 2483h0M449 2488h0M460 2510h0M467 2526h0M474 2541h0M484 2563h0M574 2512h0M1252 2533h0M926 2484h0M916 2508h0M911 2520h0M906 2534h0M902 2543h0M333 2553h0M181 2545h0M176 2555h0M947 2557h0M600 2531h0M490 2521h0M495 2528h0M1340 2540h0M1322 2532h0M1266 2538h0M790 2543h0M790 2540h0M791 2509h0M1335 2538h0M1129 2525h0M1317 2536h0M643 2534h0M464 2557h0M445 2523h0M436 2509h0M360 2433h0M208 2516h0M1185 2543h0M1205 2498h0M1210 2485h0M767 2477h0M983 2383h0M561 2530h0M497 2395h0M280 2359h0M236 2455h0M222 2543h0M1247 2572h0M845 2497h0M839 2530h0M446 2527h0M1201 2506h0M224 2511h0M1057 2575h0M1073 2549h0M1084 2531h0M198 2552h0M165 2555h0M163 2556h0M956 2561h0M614 2544h0M486 2526h0M489 2531h0M1308 2531h0M1282 2534h0M1231 2566h0M371 2511h0M393 2549h0M1150 2521h0M1121 2560h0M303 2532h0M304 2535h0M353 2463h0M1306 2498h0M1265 2475h0M1190 2491h0M730 2516h0M727 2485h0M722 2409h0M1289 2566h0M916 2539h0M910 2557h0M394 2467h0M388 2461h0M372 2448h0M370 2447h0M352 2437h0M335 2430h0M289 2431h0M1167 2562h0M1183 2531h0M288 2518h0M1099 2509h0M1141 2444h0M685 2488h0M687 2501h0M183 2552h0M180 2552h0M973 2459h0M493 2361h0M502 2373h0M867 2467h0M893 2372h0"/>
<path stroke="#55ff00" d="M631 2474h0M996 2524h0M999 2517h0M1009 2493h0M1197 2514h0M1201 2497h0M799 2528h0M445 2556h0M407 2514h0M394 2503h0M383 2496h0M380 2494h0M303 2486h0M281 2498h0M275 2504h0M257 2523h0M248 2536h0M381 2536h0M1284 2553h0M1209 2537h0M1205 2538h0M1201 2540h0M1195 2542h0M1280 2536h0M1279 2535h0M1276 2530h0M1263 2514h0M1256 2507h0M1214 2483h0M1192 2482h0M1171 2486h0M1149 2496h0M1078 2567h0M343 2553h0M722 2509h0M1137 2521h0M923 2530h0M561 2482h0M573 2518h0M576 2528h0M292 2499h0M292 2502h0M1280 2569h0M1277 2550h0M1266 2509h0M650 2485h0M858 2537h0M859 2525h0M860 2520h0M487 2509h0M493 2523h0M808 2551h0M807 2528h0M807 2502h0M413 2507h0M648 2534h0M1096 2502h0M704 2463h0M705 2497h0M705 2506h0M543 2515h0M537 2504h0M263 2514h0M880 2530h0M562 2545h0M556 2535h0M555 2533h0M553 2529h0M525 2479h0M264 2509h0M1242 2542h0M1243 2526h0M1243 2497h0M1242 2483h0M881 2532h0M873 2555h0M957 2456h0M583 2511h0M589 2532h0M990 2525h0M992 2520h0M998 2503h0M619 2444h0M1154 2531h0M1152 2534h0M1150 2535h0M1147 2537h0M742 2457h0M1301 2569h0M1266 2528h0M1223 2509h0M1198 2510h0M1188 2513h0M1181 2516h0M443 2563h0M442 2561h0M425 2541h0M413 2528h0M351 2488h0M249 2535h0M1178 2570h0M1185 2546h0M1189 2531h0M1192 2519h0M1200 2486h0M796 2525h0M510 2491h0M536 2555h0M1279 2538h0M1266 2507h0M1261 2498h0M1059 2503h0M690 2521h0M687 2508h0M302 2473h0M361 2523h0M345 2515h0M344 2514h0M331 2510h0M328 2510h0M321 2509h0M309 2508h0M299 2510h0M264 2526h0M262 2528h0M1161 2563h0M1162 2559h0M988 2445h0M937 2546h0M615 2518h0M278 2496h0M277 2515h0M1263 2540h0M1242 2573h0M1244 2539h0M1244 2536h0M1244 2493h0M899 2494h0M898 2497h0M557 2528h0M555 2524h0M275 2474h0M260 2536h0M646 2468h0M651 2500h0M1010 2535h0M1011 2533h0M736 2515h0M1121 2539h0M1146 2477h0M825 2557h0M825 2543h0M827 2484h0M446 2523h0M1249 2544h0M1241 2544h0M1215 2548h0M1209 2551h0M1186 2563h0M783 2534h0M402 2559h0M403 2561h0M989 2554h0M1001 2523h0M1002 2521h0M633 2463h0M634 2469h0M641 2506h0M643 2517h0M1275 2565h0M1274 2565h0M1252 2564h0M1219 2575h0M802 2532h0M801 2512h0M412 2522h0M425 2551h0M839 2538h0M461 2513h0M583 2531h0M576 2516h0M575 2514h0M264 2543h0M912 2518h0M177 2550h0M1061 2555h0M161 2557h0M954 2541h0M590 2505h0M867 2550h0M881 2486h0M499 2535h0M1332 2536h0M1263 2539h0M1248 2548h0M1244 2551h0M344 2477h0M390 2561h0M1143 2508h0M1134 2519h0M1109 2554h0M284 2485h0M295 2526h0M1311 2513h0M1025 2507h0M1024 2509h0M1019 2520h0M1290 2535h0M469 2567h0M432 2503h0M424 2492h0M256 2446h0M1184 2546h0M767 2469h0M766 2519h0M932 2516h0M541 2482h0M294 2343h0M258 2394h0M836 2550h0M440 2518h0M417 2485h0M1204 2498h0M344 2555h0M312 2525h0M202 2524h0M201 2525h0M180 2547h0M1097 2511h0M171 2554h0M964 2543h0M967 2537h0M969 2532h0M989 2491h0M610 2529h0M615 2546h0M871 2505h0M424 2431h0M462 2488h0M1341 2541h0M1326 2534h0M1323 2533h0M1285 2533h0M1266 2540h0M395 2554h0M399 2560h0M1340 2545h0M1141 2532h0M1117 2566h0M308 2546h0M1320 2549h0M1022 2523h0M1021 2525h0M1009 2551h0M249 2499h0M250 2515h0M251 2527h0M252 2543h0M712 2284h0M926 2506h0M919 2527h0M913 2548h0M223 2510h0M1255 2511h0M1265 2446h0M1271 2342h0M865 2355h0M844 2477h0M386 2459h0M270 2440h0M1168 2560h0M314 2535h0M298 2524h0M272 2512h0M255 2509h0M248 2509h0M180 2546h0M1090 2522h0M1103 2502h0M682 2467h0M969 2467h0M972 2461h0M439 2294h0"/>
<path stroke="#0eff00" d="M642 2536h0M991 2539h0M993 2532h0M1008 2496h0M1012 2486h0M1194 2527h0M1196 2517h0M1206 2471h0M809 2475h0M435 2543h0M416 2523h0M401 2509h0M387 2498h0M368 2488h0M348 2481h0M335 2480h0M327 2480h0M325 2480h0M278 2500h0M252 2529h0M250 2532h0M363 2487h0M370 2508h0M371 2511h0M379 2531h0M380 2534h0M1277 2547h0M1260 2538h0M1208 2537h0M1203 2539h0M1152 2574h0M771 2510h0M770 2504h0M1270 2522h0M1248 2500h0M1236 2492h0M1178 2484h0M1165 2488h0M1099 2540h0M725 2502h0M724 2496h0M327 2488h0M328 2493h0M332 2514h0M337 2534h0M1094 2555h0M1098 2546h0M1109 2522h0M1142 2447h0M722 2498h0M1126 2547h0M1138 2518h0M1153 2479h0M917 2556h0M921 2538h0M925 2522h0M943 2457h0M550 2454h0M562 2484h0M577 2530h0M292 2491h0M294 2529h0M1262 2498h0M1002 2525h0M652 2490h0M643 2461h0M857 2545h0M860 2514h0M477 2486h0M808 2548h0M807 2522h0M807 2487h0M807 2472h0M399 2475h0M407 2493h0M415 2511h0M418 2518h0M1284 2572h0M1005 2521h0M1030 2464h0M1032 2459h0M1089 2518h0M705 2500h0M705 2517h0M544 2517h0M275 2475h0M271 2486h0M269 2491h0M910 2447h0M889 2505h0M565 2551h0M532 2491h0M268 2497h0M263 2516h0M258 2538h0M891 2505h0M571 2475h0M584 2516h0M993 2518h0M622 2459h0M625 2470h0M625 2473h0M630 2493h0M630 2496h0M632 2507h0M636 2529h0M1158 2529h0M1124 2560h0M1112 2573h0M749 2510h0M749 2507h0M746 2484h0M1265 2527h0M1253 2519h0M1224 2509h0M1180 2516h0M1171 2521h0M429 2545h0M421 2537h0M405 2520h0M358 2490h0M353 2489h0M318 2486h0M270 2510h0M242 2546h0M1195 2509h0M1199 2491h0M1201 2481h0M880 2532h0M492 2451h0M1253 2484h0M1077 2482h0M1066 2494h0M1045 2522h0M1039 2531h0M307 2513h0M782 2488h0M781 2494h0M780 2502h0M391 2546h0M348 2516h0M318 2508h0M311 2508h0M1178 2511h0M1179 2506h0M1245 2451h0M975 2469h0M959 2500h0M621 2532h0M619 2527h0M616 2521h0M608 2502h0M581 2439h0M281 2470h0M281 2473h0M278 2499h0M1265 2555h0M1244 2531h0M1244 2523h0M901 2489h0M897 2499h0M552 2518h0M544 2503h0M278 2465h0M260 2533h0M649 2486h0M1042 2463h0M1066 2412h0M736 2512h0M1121 2537h0M1124 2530h0M1143 2484h0M423 2474h0M439 2508h0M454 2541h0M1281 2555h0M1261 2546h0M1260 2546h0M1232 2544h0M1193 2559h0M1190 2561h0M783 2537h0M782 2531h0M781 2514h0M780 2503h0M778 2470h0M365 2464h0M372 2483h0M640 2503h0M803 2544h0M802 2527h0M839 2533h0M839 2530h0M839 2527h0M462 2515h0M572 2507h0M569 2500h0M270 2502h0M1252 2546h0M1244 2454h0M897 2554h0M301 2525h0M251 2509h0M192 2534h0M179 2546h0M945 2563h0M586 2494h0M603 2540h0M451 2459h0M1350 2546h0M1349 2545h0M1324 2533h0M1292 2530h0M362 2511h0M366 2518h0M1268 2464h0M1125 2531h0M711 2451h0M1319 2548h0M1317 2539h0M1029 2499h0M645 2540h0M222 2521h0M314 2422h0M766 2388h0M1251 2333h0M945 2477h0M534 2465h0M298 2339h0M840 2527h0M459 2550h0M208 2516h0M1193 2523h0M765 2516h0M327 2538h0M315 2527h0M310 2524h0M297 2516h0M279 2508h0M221 2513h0M208 2520h0M205 2522h0M199 2527h0M195 2531h0M1110 2491h0M687 2487h0M688 2498h0M689 2501h0M959 2556h0M605 2514h0M1340 2540h0M1290 2532h0M1272 2537h0M369 2508h0M377 2522h0M386 2538h0M391 2547h0M1161 2509h0M1135 2540h0M295 2507h0M305 2538h0M1306 2492h0M248 2483h0M1209 2480h0M917 2533h0M219 2540h0M1270 2390h0M854 2417h0M306 2428h0M219 2494h0M1171 2555h0M1194 2507h0M760 2492h0M325 2545h0M1119 2478h0M1018 2379h0M1140 2242h0M532 2422h0M864 2480h0M882 2410h0"/>
<path stroke="#00ff39" d="M631 2471h0M987 2548h0M1015 2479h0M1185 2559h0M1205 2476h0M1206 2468h0M810 2469h0M797 2536h0M432 2540h0M398 2507h0M384 2496h0M378 2493h0M377 2492h0M359 2484h0M306 2484h0M355 2462h0M377 2527h0M1184 2548h0M1156 2570h0M771 2515h0M767 2471h0M1295 2564h0M1271 2524h0M1139 2503h0M1122 2516h0M726 2505h0M723 2491h0M318 2443h0M320 2451h0M323 2470h0M330 2506h0M335 2526h0M1127 2482h0M1130 2475h0M722 2495h0M1144 2502h0M1150 2488h0M744 2493h0M744 2504h0M929 2506h0M559 2477h0M560 2479h0M563 2487h0M574 2523h0M292 2459h0M292 2497h0M295 2537h0M1269 2518h0M1256 2483h0M1021 2494h0M1012 2509h0M991 2545h0M668 2540h0M649 2480h0M862 2502h0M865 2473h0M486 2507h0M807 2481h0M405 2489h0M411 2502h0M416 2514h0M428 2540h0M1250 2571h0M994 2549h0M1010 2509h0M1019 2488h0M641 2491h0M644 2506h0M1091 2513h0M1104 2484h0M1110 2473h0M1124 2441h0M701 2423h0M705 2503h0M545 2519h0M529 2490h0M288 2444h0M1240 2559h0M1240 2554h0M1242 2496h0M1238 2439h0M919 2424h0M271 2486h0M266 2504h0M265 2506h0M263 2514h0M258 2540h0M920 2429h0M910 2455h0M895 2495h0M936 2522h0M944 2495h0M955 2461h0M967 2426h0M565 2456h0M579 2498h0M999 2501h0M1001 2496h0M1020 2453h0M631 2499h0M632 2504h0M1129 2554h0M740 2436h0M352 2516h0M358 2535h0M1271 2532h0M1268 2530h0M1226 2509h0M1197 2511h0M388 2507h0M374 2497h0M370 2495h0M330 2485h0M319 2485h0M298 2491h0M282 2501h0M280 2502h0M265 2515h0M252 2530h0M1187 2539h0M1193 2516h0M1202 2475h0M805 2475h0M800 2500h0M795 2528h0M878 2549h0M880 2538h0M884 2510h0M511 2494h0M1278 2536h0M1275 2527h0M1262 2500h0M1223 2451h0M1048 2518h0M690 2519h0M301 2451h0M303 2483h0M779 2508h0M778 2514h0M778 2519h0M360 2522h0M354 2519h0M338 2512h0M286 2514h0M259 2530h0M1166 2547h0M1176 2518h0M1176 2516h0M1179 2509h0M953 2511h0M622 2534h0M607 2499h0M286 2444h0M282 2462h0M276 2528h0M1244 2509h0M910 2464h0M895 2504h0M891 2516h0M534 2486h0M281 2459h0M263 2516h0M642 2445h0M646 2471h0M655 2532h0M998 2563h0M1006 2545h0M1047 2451h0M737 2486h0M1125 2528h0M1138 2498h0M1150 2465h0M1155 2453h0M825 2540h0M431 2492h0M451 2534h0M1270 2549h0M1250 2544h0M781 2511h0M780 2506h0M381 2507h0M383 2511h0M1039 2435h0M1243 2566h0M803 2549h0M403 2502h0M410 2518h0M417 2533h0M423 2546h0M838 2558h0M845 2449h0M442 2472h0M446 2481h0M450 2490h0M468 2528h0M470 2533h0M274 2482h0M273 2487h0M1252 2538h0M1252 2527h0M1251 2512h0M939 2455h0M933 2467h0M929 2477h0M917 2506h0M308 2531h0M302 2526h0M284 2516h0M266 2511h0M216 2517h0M199 2527h0M1083 2520h0M1094 2502h0M1106 2484h0M684 2519h0M968 2509h0M592 2511h0M871 2528h0M873 2522h0M485 2512h0M489 2519h0M1318 2531h0M793 2466h0M1283 2473h0M1152 2498h0M288 2503h0M292 2514h0M1021 2514h0M1016 2525h0M1015 2527h0M644 2537h0M248 2481h0M1289 2478h0M320 2422h0M203 2528h0M1248 2379h0M1249 2373h0M766 2376h0M844 2501h0M469 2569h0M426 2497h0M235 2469h0M1185 2541h0M765 2484h0M765 2526h0M222 2512h0M189 2536h0M186 2539h0M1113 2487h0M1121 2473h0M960 2553h0M996 2478h0M599 2500h0M609 2526h0M934 2315h0M430 2440h0M1359 2553h0M1356 2551h0M1344 2543h0M1316 2532h0M1314 2532h0M1256 2545h0M1252 2548h0M1329 2526h0M294 2502h0M1299 2471h0M1047 2475h0M1026 2515h0M637 2501h0M629 2469h0M248 2460h0M240 2229h0M709 2259h0M1290 2557h0M1290 2507h0M915 2542h0M1253 2226h0M328 2548h0M311 2532h0M282 2515h0M1079 2540h0M1126 2466h0M1157 2418h0M1177 2388h0M682 2471h0"/>
<path stroke="#00ff80" d="M633 2482h0M979 2570h0M1007 2498h0M1018 2472h0M1031 2443h0M1186 2556h0M1195 2522h0M1205 2473h0M1209 2455h0M821 2410h0M813 2452h0M812 2461h0M405 2513h0M354 2483h0M323 2480h0M316 2482h0M267 2511h0M367 2499h0M1264 2540h0M1249 2535h0M1238 2533h0M1223 2534h0M1198 2541h0M767 2465h0M1274 2527h0M1235 2491h0M1166 2487h0M1156 2492h0M1124 2514h0M720 2474h0M1101 2540h0M1117 2504h0M1138 2456h0M1156 2411h0M1158 2467h0M297 2549h0M924 2527h0M926 2519h0M557 2471h0M1261 2496h0M1250 2471h0M1225 2432h0M995 2537h0M662 2521h0M659 2511h0M655 2500h0M870 2443h0M466 2463h0M474 2479h0M485 2505h0M502 2543h0M1015 2497h0M636 2465h0M645 2514h0M650 2545h0M1093 2509h0M1100 2493h0M1103 2487h0M700 2410h0M703 2445h0M704 2466h0M705 2485h0M705 2514h0M557 2542h0M265 2505h0M262 2519h0M1241 2549h0M1241 2474h0M1239 2442h0M906 2457h0M893 2493h0M521 2473h0M511 2457h0M504 2447h0M274 2477h0M270 2488h0M1238 2435h0M885 2522h0M935 2527h0M937 2519h0M943 2498h0M946 2490h0M970 2418h0M555 2430h0M569 2467h0M585 2519h0M995 2510h0M631 2501h0M1153 2533h0M744 2472h0M337 2464h0M346 2497h0M355 2526h0M1231 2510h0M440 2559h0M378 2500h0M362 2492h0M340 2486h0M273 2508h0M255 2527h0M1188 2536h0M1209 2441h0M798 2511h0M877 2555h0M892 2467h0M893 2461h0M500 2468h0M528 2534h0M1272 2519h0M1252 2482h0M1088 2470h0M1071 2488h0M1054 2510h0M687 2511h0M686 2506h0M676 2468h0M670 2446h0M661 2412h0M302 2464h0M782 2491h0M780 2499h0M383 2538h0M372 2530h0M329 2510h0M288 2513h0M1255 2487h0M1250 2467h0M1235 2424h0M599 2480h0M585 2447h0M280 2483h0M279 2486h0M279 2491h0M277 2504h0M276 2533h0M1262 2527h0M1242 2575h0M1244 2533h0M1244 2496h0M1243 2475h0M909 2467h0M888 2524h0M884 2535h0M536 2488h0M522 2466h0M274 2476h0M643 2451h0M653 2512h0M738 2467h0M1114 2554h0M1135 2505h0M1142 2487h0M828 2469h0M828 2454h0M414 2453h0M429 2487h0M436 2503h0M456 2545h0M1264 2547h0M1256 2545h0M779 2479h0M361 2452h0M1006 2511h0M1029 2457h0M1053 2407h0M615 2387h0M619 2405h0M1271 2565h0M801 2506h0M801 2449h0M392 2474h0M397 2486h0M406 2509h0M416 2531h0M427 2555h0M841 2495h0M842 2489h0M844 2462h0M434 2456h0M466 2524h0M475 2544h0M566 2496h0M560 2483h0M538 2444h0M273 2485h0M272 2492h0M1250 2496h0M1237 2421h0M937 2458h0M279 2514h0M228 2513h0M173 2555h0M1007 2434h0M581 2483h0M587 2497h0M456 2466h0M488 2517h0M1311 2530h0M1280 2532h0M792 2484h0M331 2449h0M347 2482h0M380 2543h0M1308 2499h0M1034 2489h0M1033 2491h0M634 2496h0M249 2516h0M1290 2532h0M939 2462h0M217 2498h0M1255 2354h0M1286 2218h0M1218 2291h0M462 2555h0M449 2532h0M433 2507h0M409 2475h0M1171 2570h0M1189 2531h0M1192 2526h0M1203 2500h0M210 2519h0M687 2491h0M322 2297h0M341 2320h0M1302 2531h0M1264 2541h0M340 2453h0M359 2489h0M364 2499h0M368 2506h0M1291 2484h0M1180 2492h0M1175 2496h0M293 2499h0M1314 2520h0M1101 2404h0M1056 2460h0M613 2412h0M249 2431h0M248 2447h0M280 2317h0M1237 2472h0M931 2491h0M930 2494h0M525 2471h0M523 2466h0M233 2466h0M229 2480h0M940 2166h0M303 2527h0M280 2515h0M243 2509h0M1106 2498h0M1120 2475h0M683 2478h0"/>
<path stroke="#00ffc6" d="M629 2465h0M1010 2491h0M1013 2484h0M1209 2452h0M818 2425h0M814 2449h0M350 2482h0M329 2480h0M301 2486h0M288 2494h0M342 2419h0M350 2445h0M356 2465h0M358 2472h0M1263 2539h0M1256 2537h0M772 2521h0M767 2462h0M1234 2491h0M1204 2482h0M315 2421h0M319 2446h0M324 2478h0M1149 2428h0M1158 2406h0M721 2414h0M941 2465h0M556 2469h0M566 2497h0M295 2421h0M293 2437h0M293 2445h0M292 2451h0M293 2513h0M1264 2502h0M1255 2481h0M1245 2461h0M1234 2443h0M1184 2401h0M1083 2421h0M1033 2477h0M1016 2501h0M656 2503h0M863 2487h0M866 2467h0M868 2455h0M470 2473h0M481 2495h0M496 2530h0M807 2510h0M807 2447h0M808 2428h0M1004 2523h0M642 2497h0M905 2463h0M890 2503h0M531 2489h0M530 2487h0M529 2485h0M510 2455h0M276 2472h0M270 2490h0M267 2499h0M1242 2480h0M1241 2464h0M1241 2462h0M908 2460h0M952 2469h0M620 2447h0M626 2476h0M743 2460h0M742 2454h0M339 2469h0M1248 2516h0M380 2501h0M364 2492h0M361 2491h0M301 2490h0M288 2496h0M284 2499h0M804 2477h0M803 2483h0M885 2501h0M889 2478h0M891 2470h0M491 2449h0M1277 2531h0M1273 2523h0M1269 2513h0M1264 2504h0M1260 2496h0M1231 2458h0M1226 2453h0M1115 2449h0M1094 2465h0M1091 2468h0M1084 2475h0M1038 2533h0M302 2459h0M303 2481h0M304 2492h0M304 2494h0M787 2449h0M786 2458h0M785 2467h0M783 2479h0M388 2543h0M342 2514h0M294 2511h0M291 2512h0M1182 2496h0M1193 2456h0M1165 2344h0M1012 2408h0M986 2449h0M976 2467h0M960 2498h0M604 2492h0M592 2463h0M582 2442h0M1240 2445h0M1240 2443h0M1238 2435h0M933 2409h0M537 2490h0M523 2468h0M518 2460h0M277 2467h0M263 2519h0M262 2521h0M636 2418h0M637 2424h0M1031 2486h0M739 2427h0M738 2440h0M738 2452h0M738 2455h0M738 2477h0M1156 2451h0M1165 2427h0M827 2481h0M827 2478h0M356 2437h0M418 2535h0M839 2547h0M579 2523h0M280 2461h0M268 2512h0M266 2530h0M1246 2467h0M946 2439h0M930 2475h0M904 2538h0M319 2540h0M296 2522h0M202 2525h0M1067 2544h0M1123 2457h0M683 2512h0M965 2515h0M577 2474h0M582 2486h0M598 2525h0M878 2499h0M472 2491h0M492 2523h0M375 2534h0M1327 2523h0M1200 2464h0M275 2446h0M282 2479h0M287 2497h0M1051 2459h0M1047 2466h0M1042 2474h0M1041 2476h0M1020 2517h0M1290 2500h0M928 2496h0M925 2505h0M1271 2292h0M288 2428h0M1202 2503h0M277 2507h0M262 2505h0M1077 2542h0M1104 2500h0M1117 2480h0M552 2394h0M553 2397h0M608 2523h0M253 2224h0M331 2309h0M1277 2535h0M805 2418h0M376 2520h0M1320 2513h0M1241 2468h0M721 2465h0M279 2445h0M297 2513h0M622 2442h0M605 2385h0M252 2391h0M249 2496h0M937 2472h0M909 2560h0M542 2510h0M538 2499h0M247 2424h0M219 2543h0M1210 2470h0M277 2513h0M263 2510h0M217 2517h0M214 2518h0M1100 2507h0M1174 2392h0M1213 2331h0"/>
<path stroke="#00f1ff" d="M619 2422h0M1022 2462h0M366 2487h0M272 2506h0M365 2494h0M1245 2534h0M764 2419h0M1254 2505h0M1130 2509h0M717 2456h0M312 2390h0M319 2448h0M322 2467h0M324 2475h0M1118 2502h0M1126 2484h0M722 2470h0M1143 2505h0M1147 2495h0M746 2450h0M745 2469h0M745 2481h0M296 2549h0M546 2441h0M581 2546h0M294 2423h0M1248 2467h0M1246 2463h0M1233 2442h0M1062 2441h0M1030 2480h0M659 2513h0M644 2467h0M864 2482h0M459 2450h0M807 2434h0M396 2468h0M410 2500h0M996 2544h0M1039 2445h0M1046 2429h0M1060 2400h0M637 2468h0M638 2474h0M1098 2498h0M1149 2383h0M704 2476h0M559 2544h0M478 2419h0M314 2407h0M308 2413h0M296 2431h0M284 2452h0M282 2456h0M1241 2541h0M1242 2498h0M915 2434h0M902 2470h0M896 2485h0M453 2393h0M283 2455h0M1242 2475h0M1242 2472h0M906 2465h0M874 2553h0M1004 2489h0M1025 2440h0M1027 2436h0M1041 2407h0M605 2392h0M613 2421h0M620 2450h0M331 2438h0M339 2471h0M353 2521h0M393 2510h0M387 2506h0M373 2497h0M368 2494h0M345 2486h0M308 2488h0M1213 2411h0M893 2458h0M1258 2493h0M1235 2462h0M1227 2454h0M1085 2473h0M1056 2508h0M301 2454h0M790 2428h0M784 2470h0M306 2509h0M1193 2453h0M1196 2440h0M1197 2437h0M1201 2419h0M1254 2484h0M1251 2470h0M1219 2393h0M1081 2347h0M1048 2368h0M978 2462h0M972 2473h0M963 2491h0M583 2444h0M287 2437h0M1242 2464h0M1241 2451h0M927 2424h0M917 2446h0M525 2470h0M510 2448h0M492 2424h0M326 2391h0M283 2454h0M264 2511h0M260 2531h0M635 2412h0M1067 2409h0M1072 2400h0M739 2424h0M1163 2432h0M829 2442h0M830 2432h0M831 2413h0M419 2465h0M782 2523h0M777 2458h0M777 2445h0M340 2383h0M357 2439h0M377 2436h0M381 2448h0M407 2398h0M543 2452h0M295 2420h0M287 2440h0M283 2449h0M279 2463h0M1251 2517h0M291 2520h0M263 2510h0M226 2513h0M682 2509h0M580 2480h0M876 2506h0M889 2457h0M899 2425h0M430 2428h0M431 2430h0M442 2446h0M454 2464h0M466 2482h0M493 2526h0M1275 2534h0M790 2546h0M791 2519h0M794 2456h0M797 2419h0M371 2527h0M1245 2458h0M1194 2466h0M1149 2502h0M278 2461h0M296 2529h0M1312 2516h0M1073 2427h0M631 2487h0M249 2510h0M955 2419h0M922 2518h0M849 2470h0M432 2505h0M430 2503h0M386 2452h0M286 2428h0M230 2476h0M223 2486h0M210 2511h0M765 2459h0M291 2512h0M272 2506h0M267 2505h0M264 2505h0M1145 2437h0M667 2390h0M678 2439h0M682 2463h0M579 2451h0M582 2457h0M595 2488h0M885 2449h0M444 2461h0M1327 2522h0M1308 2499h0M1305 2496h0M1234 2468h0M1213 2473h0M292 2496h0M1228 2379h0M1086 2419h0M630 2472h0M248 2444h0M1290 2529h0M1290 2516h0M928 2500h0M914 2545h0M540 2505h0M1177 2544h0M1187 2522h0M1188 2519h0M1208 2476h0M760 2513h0M205 2524h0M197 2529h0"/>
<path stroke="#00aaff" d="M1046 2412h0M626 2451h0M639 2516h0M1038 2429h0M1207 2465h0M823 2401h0M819 2422h0M346 2432h0M765 2441h0M1215 2484h0M1212 2483h0M1172 2485h0M718 2459h0M712 2426h0M698 2355h0M1153 2418h0M721 2405h0M1142 2507h0M744 2490h0M522 2384h0M540 2428h0M293 2523h0M1259 2489h0M1209 2416h0M1098 2411h0M1028 2484h0M1013 2507h0M1010 2511h0M632 2429h0M877 2397h0M878 2394h0M808 2545h0M810 2364h0M392 2459h0M1041 2440h0M1043 2436h0M700 2401h0M701 2420h0M702 2436h0M488 2431h0M394 2372h0M331 2391h0M301 2423h0M294 2434h0M1236 2426h0M949 2361h0M909 2450h0M878 2537h0M557 2537h0M496 2436h0M463 2401h0M294 2433h0M280 2461h0M268 2495h0M1242 2550h0M1240 2456h0M915 2442h0M901 2478h0M888 2515h0M530 2367h0M1026 2438h0M1028 2433h0M1038 2414h0M738 2421h0M317 2358h0M1204 2465h0M1212 2416h0M808 2457h0M793 2538h0M899 2432h0M900 2426h0M495 2456h0M518 2508h0M1259 2494h0M1217 2447h0M1213 2444h0M1202 2439h0M1185 2433h0M1184 2433h0M671 2448h0M301 2423h0M301 2426h0M306 2505h0M1184 2489h0M1232 2417h0M1096 2341h0M1075 2350h0M1053 2364h0M1011 2410h0M557 2392h0M319 2355h0M1256 2492h0M1239 2437h0M474 2404h0M396 2365h0M346 2376h0M308 2410h0M300 2421h0M1078 2388h0M739 2421h0M1131 2514h0M428 2485h0M780 2500h0M778 2461h0M341 2388h0M342 2391h0M391 2532h0M582 2286h0M801 2476h0M801 2433h0M379 2441h0M845 2455h0M847 2434h0M439 2465h0M580 2525h0M287 2438h0M276 2475h0M1251 2514h0M1239 2431h0M959 2412h0M273 2512h0M221 2515h0M1080 2524h0M1088 2511h0M1117 2466h0M1132 2444h0M1144 2425h0M683 2515h0M557 2430h0M601 2534h0M893 2444h0M378 2358h0M418 2412h0M465 2480h0M1227 2566h0M1168 2483h0M1055 2452h0M1035 2486h0M629 2477h0M615 2428h0M248 2494h0M1284 2433h0M852 2456h0M843 2507h0M436 2512h0M253 2449h0M1231 2427h0M765 2502h0M235 2507h0M556 2402h0M799 2486h0M277 2319h0M346 2465h0M1271 2474h0M1220 2471h0M722 2476h0M273 2417h0M287 2478h0M1185 2367h0M1155 2371h0M617 2426h0M250 2418h0M1286 2446h0M941 2460h0M939 2466h0M528 2477h0M1231 2415h0M1247 2371h0M260 2510h0"/>
<path stroke="#0063ff" d="M1214 2414h0M1217 2377h0M362 2485h0M366 2496h0M764 2425h0M727 2510h0M707 2399h0M696 2346h0M311 2368h0M314 2407h0M1146 2498h0M1185 2384h0M1188 2371h0M968 2386h0M970 2381h0M1224 2431h0M1088 2418h0M1082 2423h0M873 2425h0M351 2350h0M353 2355h0M356 2366h0M391 2456h0M1040 2443h0M622 2401h0M694 2339h0M481 2422h0M439 2387h0M347 2381h0M342 2384h0M337 2387h0M297 2429h0M1233 2405h0M928 2404h0M534 2493h0M427 2378h0M336 2386h0M1239 2443h0M1231 2395h0M933 2399h0M890 2508h0M1043 2402h0M742 2451h0M719 2288h0M314 2323h0M1300 2568h0M291 2495h0M1201 2483h0M1211 2422h0M1215 2386h0M813 2427h0M1241 2469h0M1221 2450h0M1145 2435h0M1057 2506h0M1047 2520h0M682 2490h0M664 2423h0M304 2486h0M307 2518h0M787 2452h0M783 2482h0M1208 2380h0M1200 2369h0M1043 2373h0M1005 2418h0M566 2409h0M308 2374h0M304 2383h0M285 2447h0M1213 2346h0M495 2427h0M313 2404h0M285 2448h0M739 2366h0M739 2389h0M739 2392h0M739 2430h0M1158 2446h0M1159 2444h0M825 2535h0M837 2349h0M394 2409h0M406 2437h0M778 2464h0M776 2417h0M1102 2314h0M802 2379h0M802 2365h0M375 2431h0M387 2463h0M394 2479h0M845 2452h0M418 2422h0M433 2454h0M573 2509h0M293 2424h0M291 2429h0M1226 2387h0M1209 2354h0M960 2410h0M932 2470h0M1093 2504h0M1034 2391h0M347 2319h0M441 2444h0M807 2328h0M317 2420h0M1284 2474h0M1278 2470h0M1252 2459h0M1218 2459h0M1177 2477h0M713 2469h0M261 2358h0M268 2408h0M294 2523h0M1088 2409h0M609 2408h0M253 2387h0M248 2446h0M854 2446h0M1107 2496h0M668 2394h0M679 2443h0M485 2292h0M811 2369h0M351 2475h0M1315 2507h0M1245 2468h0M1223 2470h0M718 2421h0M280 2448h0M1230 2380h0M264 2329h0M1290 2513h0M1268 2365h0M547 2521h0M285 2361h0M1214 2459h0M208 2522h0M668 2401h0"/>
<path stroke="#001cff" d="M595 2336h0M700 2365h0M1173 2422h0M965 2395h0M971 2378h0M534 2413h0M299 2388h0M295 2418h0M292 2481h0M1186 2402h0M609 2371h0M574 2305h0M417 2363h0M808 2412h0M811 2340h0M1056 2410h0M473 2414h0M465 2407h0M429 2382h0M1215 2346h0M962 2339h0M932 2396h0M366 2372h0M352 2377h0M291 2439h0M1240 2454h0M1229 2390h0M972 2413h0M1013 2467h0M730 2357h0M1207 2449h0M1216 2383h0M1216 2374h0M940 2288h0M1230 2457h0M1097 2462h0M654 2389h0M301 2440h0M1209 2369h0M1205 2375h0M1079 2348h0M534 2358h0M303 2386h0M1236 2421h0M455 2388h0M386 2365h0M358 2370h0M1188 2354h0M774 2385h0M420 2339h0M278 2468h0M1230 2399h0M1227 2389h0M1211 2356h0M1015 2332h0M297 2523h0M663 2413h0M993 2459h0M441 2266h0M555 2427h0M282 2247h0M340 2310h0M394 2378h0M682 2228h0M258 2320h0M272 2430h0M1172 2362h0M621 2448h0M1279 2408h0M1271 2374h0M993 2337h0M961 2403h0M938 2465h0M927 2499h0M324 2423h0M1264 2319h0M1267 2306h0M764 2357h0M1194 2361h0M1028 2423h0M1146 2278h0M541 2374h0M1318 2532h0M558 2278h0M493 2411h0M331 2328h0M1219 2449h0"/>
<path stroke="#2a00ff" d="M1075 2355h0M613 2398h0M619 2419h0M623 2436h0M390 2500h0M322 2326h0M713 2247h0M497 2333h0M510 2359h0M523 2387h0M1168 2396h0M1127 2398h0M1032 2478h0M594 2339h0M876 2406h0M814 2290h0M814 2283h0M1037 2447h0M1069 2383h0M1099 2326h0M1160 2356h0M1168 2336h0M1181 2302h0M687 2275h0M396 2373h0M368 2374h0M344 2383h0M1226 2376h0M1217 2351h0M1209 2332h0M971 2326h0M946 2366h0M357 2375h0M984 2384h0M1008 2329h0M1031 2284h0M1080 2332h0M1096 2303h0M1111 2279h0M313 2300h0M296 2492h0M814 2421h0M901 2423h0M939 2291h0M1100 2340h0M1069 2353h0M461 2299h0M398 2293h0M372 2302h0M337 2330h0M1225 2375h0M1222 2368h0M976 2332h0M926 2426h0M437 2377h0M299 2422h0M1185 2365h0M373 2360h0M344 2399h0M1142 2248h0M804 2315h0M373 2427h0M852 2390h0M988 2365h0M962 2408h0M1175 2379h0M1218 2316h0M662 2410h0M517 2359h0M1187 2362h0M633 2493h0M254 2380h0M1288 2468h0M966 2391h0M307 2423h0M218 2495h0M1235 2415h0M764 2377h0M765 2445h0M765 2474h0M526 2350h0M265 2289h0M1269 2473h0M264 2365h0M1289 2485h0M343 2324h0"/>
<path stroke="#7100ff" d="M831 2357h0M680 2282h0M323 2233h0M312 2298h0M1159 2403h0M975 2367h0M1007 2297h0M314 2330h0M997 2533h0M495 2236h0M402 2334h0M448 2427h0M324 2263h0M334 2299h0M592 2299h0M446 2391h0M1212 2339h0M1201 2319h0M1193 2306h0M945 2374h0M1017 2310h0M1216 2293h0M1216 2290h0M840 2296h0M376 2238h0M406 2286h0M656 2394h0M655 2392h0M646 2363h0M306 2347h0M1215 2273h0M376 2300h0M1179 2383h0M332 2305h0M486 2375h0M1014 2334h0M623 2288h0M299 2265h0M826 2212h0M595 2364h0M873 2340h0M1262 2326h0M1272 2286h0M764 2361h0M1192 2364h0M715 2384h0M1284 2434h0M1248 2320h0M1193 2262h0M1253 2349h0"/>
<path stroke="#b800ff" d="M1053 2398h0M316 2285h0M366 2266h0M821 2174h0M1101 2324h0M682 2241h0M1148 2265h0M1074 2253h0M1000 2296h0M714 2261h0M1083 2261h0M739 2319h0M736 2506h0M1187 2357h0M1214 2241h0M770 2274h0M313 2227h0M333 2307h0M341 2253h0M1070 2296h0M1030 2319h0M285 2491h0M1260 2344h0M760 2269h0M764 2373h0M1180 2383h0"/>
<path stroke="#ff00ff" d="M1131 2258h0M1213 2255h0M929 2207h0M569 2287h0M1211 2254h0M371 2231h0M363 2220h0M827 2216h0M1152 2275h0M1119 2262h0M1047 2274h0"/>
<path stroke="#000" d="M795 2548l0 1M392 2565h0M774 2539h0M1153 2494l-1 0M305 2551l-1 0M914 2570l0-2M1008 2515l-1 2M296 2548h0M1280 2571l-1-1M1239 2570l0-3M1239 2575h0M257 2545l0 1M596 2557l0 1M979 2554l1-3M350 2511l1 3M1262 2525l0-1-1 0M259 2521l-1 2M242 2547l-1 1M1176 2577l0-1M540 2563l0 1M1289 2571l-1-3M1019 2563l0 1-1 0M1290 2573h0M312 2552h0M776 2530l0 3M332 2511l0-1-1 0M297 2510l-2 1M258 2544l0 2M1111 2561l1-2M452 2536l1 2M462 2558l1 2M1278 2553l-1 0M1272 2550l-2-1M982 2570l1-2M1229 2570l0 1-1 0M838 2562l0-1M891 2569h0M1048 2575h0M949 2552l1-3M1238 2556l-2 2M1345 2560l-1-1M718 2519l0-1M1322 2567h0M995 2573h0M647 2549l0-1M906 2569h0M564 2561l-5-11-3-10-3-5-1-5-4-8-2-7-3-5-1-5-2-2-1-5M223 2514l-2 18-1 1-1 17M1240 2575l8-28 6-27 1-9 1-1M837 2522l0 5-2 6 0 5-4 22M1168 2577h0M221 2549h0M1065 2562l1-2M764 2535h0M691 2518l1 3M692 2523l0 1M156 2559h0M1363 2557l-1-1M253 2544l0 2M1117 2576h0M1289 2572h0M194 2551l-1 1M1160 2576l0-1M336 2557h0M172 2556l-1 1M1057 2576l0-1M198 2553h0M156 2559h0M594 2557l0 1M1382 2562l-1 0"/>
<path stroke="#000" d="M269 2407l6 33 1 1 0 4 2 4 6 29 2 4 2 11 2 4 4 17 3 7 0 3 3 7 0 3 3 6 3 11M1323 2566l-4-26-5-18-2-12-10-31-10-24-2-2 0-2-3-4-1-4-12-20-13-17-3-2-9-10-5-3-2-3-16-10-8-4-16-5-13-1-1-1-13 0-1 1-6 0-1 1-9 1-12 5-3 0-15 8-21 15 0 1-20 19-19 24-1 3-9 12-5 10-3 3 0 2-9 14 0 2-2 2-6 13-2 2 0 2-4 6-1 4-2 2 0 2-2 2-4 11-2 2 0 2-4 7 0 2-2 2-2 7-2 2 0 2-7 14M649 2549l-1-8-2-4-16-67-3-8 0-4-2-4-7-29-11-37-3-6-6-21-2-3-1-5-2-3-8-22-14-29-4-6 0-2-26-38-3-2-4-6-3-2-12-13-6-4-5-5-21-13-20-9-18-5-18-3-29 0-1 1-13 1-24 7-20 10-22 16-3 4-11 10-13 17-2 5-9 14-5 10-2 7-4 7-9 27-9 41-2 20-1 1-1 17-1 2 0 11-1 2 0 20-1 1 0 41 1 1 0 21 1 2 0 12 1 2 0 11 1 1 1 13"/>
</g>
<path d="M67 1239.2H697M67 1186.8H697M67 1134.3H697M67 1081.9H697M67 1029.5H697" stroke="#000" stroke-width="1" fill="none" shape-rendering="crispEdges"/>
<path d="M67 1238.8h6.3M697 1238.8h-6.3M67 1186.4h6.3M697 1186.4h-6.3M67 1133.9h6.3M697 1133.9h-6.3M67 1081.5h6.3M697 1081.5h-6.3M67 1029.0h6.3M697 1029.0h-6.3M84.5 977.0v3.7M84.5 1291.7v-3.7M102.0 977.0v3.7M102.0 1291.7v-3.7M137.0 977.0v3.7M137.0 1291.7v-3.7M154.5 977.0v3.7M154.5 1291.7v-3.7M189.5 977.0v3.7M189.5 1291.7v-3.7M207.0 977.0v3.7M207.0 1291.7v-3.7M242.0 977.0v3.7M242.0 1291.7v-3.7M259.5 977.0v3.7M259.5 1291.7v-3.7M294.5 977.0v3.7M294.5 1291.7v-3.7M312.0 977.0v3.7M312.0 1291.7v-3.7M347.0 977.0v3.7M347.0 1291.7v-3.7M364.5 977.0v3.7M364.5 1291.7v-3.7M399.5 977.0v3.7M399.5 1291.7v-3.7M417.0 977.0v3.7M417.0 1291.7v-3.7M452.0 977.0v3.7M452.0 1291.7v-3.7M469.5 977.0v3.7M469.5 1291.7v-3.7M504.5 977.0v3.7M504.5 1291.7v-3.7M522.0 977.0v3.7M522.0 1291.7v-3.7M557.0 977.0v3.7M557.0 1291.7v-3.7M574.5 977.0v3.7M574.5 1291.7v-3.7M609.5 977.0v3.7M609.5 1291.7v-3.7M627.0 977.0v3.7M627.0 1291.7v-3.7M662.0 977.0v3.7M662.0 1291.7v-3.7M679.5 977.0v3.7M679.5 1291.7v-3.7M67.0 977.0v5.7M67.0 1291.7v-5.7M119.5 977.0v5.7M119.5 1291.7v-5.7M172.0 977.0v5.7M172.0 1291.7v-5.7M224.5 977.0v5.7M224.5 1291.7v-5.7M277.0 977.0v5.7M277.0 1291.7v-5.7M329.5 977.0v5.7M329.5 1291.7v-5.7M382.0 977.0v5.7M382.0 1291.7v-5.7M434.5 977.0v5.7M434.5 1291.7v-5.7M487.0 977.0v5.7M487.0 1291.7v-5.7M539.5 977.0v5.7M539.5 1291.7v-5.7M592.0 977.0v5.7M592.0 1291.7v-5.7M644.5 977.0v5.7M644.5 1291.7v-5.7M697.0 977.0v5.7M697.0 1291.7v-5.7" stroke="#000" stroke-width="2" fill="none"/>
<rect x="67" y="977.0" width="630" height="314.7" fill="none" stroke="#000" stroke-width="4.3"/>
<g font-family="Liberation Sans, Arial, Helvetica, sans-serif" font-size="22.6" text-anchor="middle">
<text transform="translate(67.0 1316.0) scale(0.965 1)">0</text>
<text transform="translate(119.5 1316.0) scale(0.965 1)">30</text>
<text transform="translate(172.0 1316.0) scale(0.965 1)">60</text>
<text transform="translate(224.5 1316.0) scale(0.965 1)">90</text>
<text transform="translate(277.0 1316.0) scale(0.965 1)">120</text>
<text transform="translate(329.5 1316.0) scale(0.965 1)">150</text>
<text transform="translate(382.0 1316.0) scale(0.965 1)">180</text>
<text transform="translate(434.5 1316.0) scale(0.965 1)">210</text>
<text transform="translate(487.0 1316.0) scale(0.965 1)">240</text>
<text transform="translate(539.5 1316.0) scale(0.965 1)">270</text>
<text transform="translate(592.0 1316.0) scale(0.965 1)">300</text>
<text transform="translate(644.5 1316.0) scale(0.965 1)">330</text>
<text transform="translate(697.0 1316.0) scale(0.965 1)">360</text>
</g>
<g font-family="Liberation Sans, Arial, Helvetica, sans-serif" font-size="22.6" text-anchor="end">
<text transform="translate(58.6 1299.8) scale(0.965 1)">0</text>
<text transform="translate(58.6 1247.3) scale(0.965 1)">15</text>
<text transform="translate(58.6 1194.9) scale(0.965 1)">30</text>
<text transform="translate(58.6 1142.4) scale(0.965 1)">45</text>
<text transform="translate(58.6 1090.0) scale(0.965 1)">60</text>
<text transform="translate(58.6 1037.5) scale(0.965 1)">75</text>
<text transform="translate(58.6 985.1) scale(0.965 1)">90</text>
</g>
<text transform="translate(20.4 1134.4) rotate(-90)" font-family="Liberation Sans, Arial, Helvetica, sans-serif" font-size="20.8" text-anchor="middle" textLength="183" lengthAdjust="spacingAndGlyphs">Elevación (grados)</text>
<text x="381.5" y="1344.7" font-family="Liberation Sans, Arial, Helvetica, sans-serif" font-size="20.8" text-anchor="middle" textLength="156" lengthAdjust="spacingAndGlyphs">Azimut (grados)</text>
</g>
<g id="p4">
<text x="1057.0" y="1174.5" font-family="Liberation Serif, Times New Roman, serif" font-size="130" font-weight="bold" text-anchor="middle" textLength="226" lengthAdjust="spacingAndGlyphs" fill="url(#wgw)" filter="url(#embw)">IGN</text>
<g transform="scale(0.5)" fill="none" stroke-width="4.9" stroke-linecap="square" stroke-linejoin="bevel" shape-rendering="crispEdges">
<defs><linearGradient id="g3_G4" gradientUnits="userSpaceOnUse" x1="0" y1="2583.4" x2="0" y2="1954.0"><stop offset="0.000" stop-color="#ff0000"/><stop offset="0.033" stop-color="#ff0000"/><stop offset="0.050" stop-color="#ff3600"/><stop offset="0.067" stop-color="#ff7500"/><stop offset="0.083" stop-color="#ffad00"/><stop offset="0.100" stop-color="#ffe400"/><stop offset="0.117" stop-color="#e7ff00"/><stop offset="0.133" stop-color="#c1ff00"/><stop offset="0.150" stop-color="#9aff00"/><stop offset="0.167" stop-color="#73ff00"/><stop offset="0.183" stop-color="#55ff00"/><stop offset="0.200" stop-color="#37ff00"/><stop offset="0.217" stop-color="#18ff00"/><stop offset="0.233" stop-color="#00ff08"/><stop offset="0.250" stop-color="#00ff2a"/><stop offset="0.267" stop-color="#00ff4d"/><stop offset="0.283" stop-color="#00ff6c"/><stop offset="0.300" stop-color="#00ff85"/><stop offset="0.317" stop-color="#00ff9f"/><stop offset="0.333" stop-color="#00ffb8"/><stop offset="0.378" stop-color="#00fff1"/><stop offset="0.422" stop-color="#00d4ff"/><stop offset="0.467" stop-color="#009fff"/><stop offset="0.511" stop-color="#006cff"/><stop offset="0.556" stop-color="#0039ff"/><stop offset="0.600" stop-color="#0017ff"/><stop offset="0.644" stop-color="#0b00ff"/><stop offset="0.689" stop-color="#2000ff"/><stop offset="0.733" stop-color="#2800ff"/><stop offset="0.778" stop-color="#2f00ff"/><stop offset="0.822" stop-color="#3700ff"/><stop offset="0.867" stop-color="#3e00ff"/><stop offset="0.911" stop-color="#4600ff"/><stop offset="0.956" stop-color="#4d00ff"/><stop offset="1.000" stop-color="#5500ff"/></linearGradient><linearGradient id="g3_G5" gradientUnits="userSpaceOnUse" x1="0" y1="2583.4" x2="0" y2="1954.0"><stop offset="0.000" stop-color="#ff0000"/><stop offset="0.017" stop-color="#ff1500"/><stop offset="0.033" stop-color="#ff3400"/><stop offset="0.050" stop-color="#ff7700"/><stop offset="0.067" stop-color="#ffba00"/><stop offset="0.083" stop-color="#fff600"/><stop offset="0.100" stop-color="#cdff00"/><stop offset="0.117" stop-color="#96ff00"/><stop offset="0.133" stop-color="#6cff00"/><stop offset="0.150" stop-color="#41ff00"/><stop offset="0.167" stop-color="#16ff00"/><stop offset="0.183" stop-color="#00ff0c"/><stop offset="0.200" stop-color="#00ff2e"/><stop offset="0.217" stop-color="#00ff51"/><stop offset="0.233" stop-color="#00ff73"/><stop offset="0.250" stop-color="#00ff95"/><stop offset="0.267" stop-color="#00ffb7"/><stop offset="0.283" stop-color="#00ffd6"/><stop offset="0.300" stop-color="#00ffef"/><stop offset="0.317" stop-color="#00f5ff"/><stop offset="0.333" stop-color="#00dcff"/><stop offset="0.378" stop-color="#00a3ff"/><stop offset="0.422" stop-color="#006aff"/><stop offset="0.467" stop-color="#0034ff"/><stop offset="0.511" stop-color="#0001ff"/><stop offset="0.556" stop-color="#3200ff"/><stop offset="0.600" stop-color="#5400ff"/><stop offset="0.644" stop-color="#7600ff"/><stop offset="0.689" stop-color="#8a00ff"/><stop offset="0.733" stop-color="#9200ff"/><stop offset="0.778" stop-color="#9900ff"/><stop offset="0.822" stop-color="#a100ff"/><stop offset="0.867" stop-color="#a900ff"/><stop offset="0.911" stop-color="#b000ff"/><stop offset="0.956" stop-color="#b800ff"/><stop offset="1.000" stop-color="#bf00ff"/></linearGradient><linearGradient id="g3_G6" gradientUnits="userSpaceOnUse" x1="0" y1="2583.4" x2="0" y2="1954.0"><stop offset="0.000" stop-color="#ff2a00"/><stop offset="0.017" stop-color="#ff4e00"/><stop offset="0.033" stop-color="#ff7100"/><stop offset="0.050" stop-color="#ffb800"/><stop offset="0.067" stop-color="#ffff00"/><stop offset="0.083" stop-color="#bfff00"/><stop offset="0.100" stop-color="#80ff00"/><stop offset="0.117" stop-color="#45ff00"/><stop offset="0.133" stop-color="#17ff00"/><stop offset="0.150" stop-color="#00ff18"/><stop offset="0.167" stop-color="#00ff47"/><stop offset="0.183" stop-color="#00ff6d"/><stop offset="0.200" stop-color="#00ff93"/><stop offset="0.217" stop-color="#00ffba"/><stop offset="0.233" stop-color="#00ffdd"/><stop offset="0.250" stop-color="#00ffff"/><stop offset="0.267" stop-color="#00ddff"/><stop offset="0.283" stop-color="#00beff"/><stop offset="0.300" stop-color="#00a4ff"/><stop offset="0.317" stop-color="#008bff"/><stop offset="0.333" stop-color="#0071ff"/><stop offset="0.378" stop-color="#0039ff"/><stop offset="0.422" stop-color="#0000ff"/><stop offset="0.467" stop-color="#3600ff"/><stop offset="0.511" stop-color="#6900ff"/><stop offset="0.556" stop-color="#9c00ff"/><stop offset="0.600" stop-color="#be00ff"/><stop offset="0.644" stop-color="#e000ff"/><stop offset="0.689" stop-color="#f500ff"/><stop offset="0.733" stop-color="#fc00ff"/><stop offset="0.778" stop-color="#ff00ff"/><stop offset="1.000" stop-color="#ff00ff"/></linearGradient><linearGradient id="g3_G7" gradientUnits="userSpaceOnUse" x1="0" y1="2583.4" x2="0" y2="1954.0"><stop offset="0.000" stop-color="#ff5500"/><stop offset="0.017" stop-color="#ff7c00"/><stop offset="0.033" stop-color="#ffa200"/><stop offset="0.050" stop-color="#ffec00"/><stop offset="0.067" stop-color="#c8ff00"/><stop offset="0.083" stop-color="#85ff00"/><stop offset="0.100" stop-color="#42ff00"/><stop offset="0.117" stop-color="#05ff00"/><stop offset="0.133" stop-color="#00ff2d"/><stop offset="0.150" stop-color="#00ff5f"/><stop offset="0.167" stop-color="#00ff91"/><stop offset="0.183" stop-color="#00ffbb"/><stop offset="0.200" stop-color="#00ffe4"/><stop offset="0.217" stop-color="#00f0ff"/><stop offset="0.233" stop-color="#00ccff"/><stop offset="0.250" stop-color="#00aaff"/><stop offset="0.267" stop-color="#0088ff"/><stop offset="0.283" stop-color="#0069ff"/><stop offset="0.300" stop-color="#004fff"/><stop offset="0.317" stop-color="#0036ff"/><stop offset="0.333" stop-color="#001cff"/><stop offset="0.378" stop-color="#1c00ff"/><stop offset="0.422" stop-color="#5500ff"/><stop offset="0.467" stop-color="#8b00ff"/><stop offset="0.511" stop-color="#be00ff"/><stop offset="0.556" stop-color="#f100ff"/><stop offset="0.600" stop-color="#ff00ff"/><stop offset="1.000" stop-color="#ff00ff"/></linearGradient><linearGradient id="g3_R0" gradientUnits="userSpaceOnUse" x1="0" y1="2583.4" x2="0" y2="1954.0"><stop offset="0.000" stop-color="#ff0000"/><stop offset="0.283" stop-color="#ff0000"/><stop offset="0.300" stop-color="#ff0400"/><stop offset="0.317" stop-color="#ff1700"/><stop offset="0.333" stop-color="#ff2a00"/><stop offset="0.378" stop-color="#ff4d00"/><stop offset="0.422" stop-color="#ff6f00"/><stop offset="0.467" stop-color="#ff8e00"/><stop offset="0.511" stop-color="#ffaa00"/><stop offset="0.556" stop-color="#ffc600"/><stop offset="0.600" stop-color="#ffdd00"/><stop offset="0.644" stop-color="#fff400"/><stop offset="0.689" stop-color="#f6ff00"/><stop offset="0.733" stop-color="#e6ff00"/><stop offset="0.778" stop-color="#d4ff00"/><stop offset="0.822" stop-color="#c9ff00"/><stop offset="0.867" stop-color="#beff00"/><stop offset="0.911" stop-color="#b2ff00"/><stop offset="0.956" stop-color="#a7ff00"/><stop offset="1.000" stop-color="#9cff00"/></linearGradient><linearGradient id="g3_R1" gradientUnits="userSpaceOnUse" x1="0" y1="2583.4" x2="0" y2="1954.0"><stop offset="0.000" stop-color="#ff0000"/><stop offset="0.067" stop-color="#ff0000"/><stop offset="0.083" stop-color="#ff2700"/><stop offset="0.100" stop-color="#ff5c00"/><stop offset="0.117" stop-color="#ff8800"/><stop offset="0.133" stop-color="#ffa100"/><stop offset="0.150" stop-color="#ffbb00"/><stop offset="0.167" stop-color="#ffd500"/><stop offset="0.183" stop-color="#ffdd00"/><stop offset="0.200" stop-color="#ffe600"/><stop offset="0.217" stop-color="#ffee00"/><stop offset="0.233" stop-color="#fffe00"/><stop offset="0.250" stop-color="#edff00"/><stop offset="0.267" stop-color="#daff00"/><stop offset="0.283" stop-color="#c7ff00"/><stop offset="0.300" stop-color="#b4ff00"/><stop offset="0.317" stop-color="#a1ff00"/><stop offset="0.333" stop-color="#8eff00"/><stop offset="0.378" stop-color="#6cff00"/><stop offset="0.422" stop-color="#4aff00"/><stop offset="0.467" stop-color="#2aff00"/><stop offset="0.511" stop-color="#0eff00"/><stop offset="0.556" stop-color="#00ff0e"/><stop offset="0.600" stop-color="#00ff25"/><stop offset="0.644" stop-color="#00ff3b"/><stop offset="0.689" stop-color="#00ff4f"/><stop offset="0.733" stop-color="#00ff60"/><stop offset="0.778" stop-color="#00ff71"/><stop offset="0.822" stop-color="#00ff7d"/><stop offset="0.867" stop-color="#00ff88"/><stop offset="0.911" stop-color="#00ff93"/><stop offset="0.956" stop-color="#00ff9f"/><stop offset="1.000" stop-color="#00ffaa"/></linearGradient><linearGradient id="g3_R2" gradientUnits="userSpaceOnUse" x1="0" y1="2583.4" x2="0" y2="1954.0"><stop offset="0.000" stop-color="#ff0000"/><stop offset="0.050" stop-color="#ff0000"/><stop offset="0.067" stop-color="#ff2000"/><stop offset="0.083" stop-color="#ff5800"/><stop offset="0.100" stop-color="#ff8f00"/><stop offset="0.117" stop-color="#ffbe00"/><stop offset="0.133" stop-color="#ffda00"/><stop offset="0.150" stop-color="#fff600"/><stop offset="0.167" stop-color="#ecff00"/><stop offset="0.183" stop-color="#e0ff00"/><stop offset="0.200" stop-color="#d5ff00"/><stop offset="0.217" stop-color="#caff00"/><stop offset="0.233" stop-color="#baff00"/><stop offset="0.250" stop-color="#a6ff00"/><stop offset="0.267" stop-color="#93ff00"/><stop offset="0.283" stop-color="#80ff00"/><stop offset="0.300" stop-color="#6dff00"/><stop offset="0.317" stop-color="#5aff00"/><stop offset="0.333" stop-color="#47ff00"/><stop offset="0.378" stop-color="#25ff00"/><stop offset="0.422" stop-color="#03ff00"/><stop offset="0.467" stop-color="#00ff1c"/><stop offset="0.511" stop-color="#00ff39"/><stop offset="0.556" stop-color="#00ff55"/><stop offset="0.600" stop-color="#00ff6c"/><stop offset="0.644" stop-color="#00ff82"/><stop offset="0.689" stop-color="#00ff96"/><stop offset="0.733" stop-color="#00ffa7"/><stop offset="0.778" stop-color="#00ffb8"/><stop offset="0.822" stop-color="#00ffc4"/><stop offset="0.867" stop-color="#00ffcf"/><stop offset="0.911" stop-color="#00ffda"/><stop offset="0.956" stop-color="#00ffe6"/><stop offset="1.000" stop-color="#00fff1"/></linearGradient><linearGradient id="g3_R3" gradientUnits="userSpaceOnUse" x1="0" y1="2583.4" x2="0" y2="1954.0"><stop offset="0.000" stop-color="#ff0000"/><stop offset="0.033" stop-color="#ff0000"/><stop offset="0.050" stop-color="#ff2600"/><stop offset="0.067" stop-color="#ff7c00"/><stop offset="0.083" stop-color="#ffb900"/><stop offset="0.100" stop-color="#fff600"/><stop offset="0.117" stop-color="#d4ff00"/><stop offset="0.133" stop-color="#b3ff00"/><stop offset="0.150" stop-color="#91ff00"/><stop offset="0.167" stop-color="#70ff00"/><stop offset="0.183" stop-color="#5fff00"/><stop offset="0.200" stop-color="#4fff00"/><stop offset="0.217" stop-color="#3eff00"/><stop offset="0.233" stop-color="#2cff00"/><stop offset="0.250" stop-color="#19ff00"/><stop offset="0.267" stop-color="#06ff00"/><stop offset="0.283" stop-color="#00ff0d"/><stop offset="0.300" stop-color="#00ff21"/><stop offset="0.317" stop-color="#00ff34"/><stop offset="0.333" stop-color="#00ff47"/><stop offset="0.378" stop-color="#00ff69"/><stop offset="0.422" stop-color="#00ff8b"/><stop offset="0.467" stop-color="#00ffaa"/><stop offset="0.511" stop-color="#00ffc6"/><stop offset="0.556" stop-color="#00ffe3"/><stop offset="0.600" stop-color="#00fff9"/><stop offset="0.644" stop-color="#00eeff"/><stop offset="0.689" stop-color="#00daff"/><stop offset="0.733" stop-color="#00c9ff"/><stop offset="0.778" stop-color="#00b8ff"/><stop offset="0.822" stop-color="#00adff"/><stop offset="0.867" stop-color="#00a1ff"/><stop offset="0.911" stop-color="#0096ff"/><stop offset="0.956" stop-color="#008bff"/><stop offset="1.000" stop-color="#0080ff"/></linearGradient><linearGradient id="g3_R4" gradientUnits="userSpaceOnUse" x1="0" y1="2583.4" x2="0" y2="1954.0"><stop offset="0.000" stop-color="#ff0000"/><stop offset="0.017" stop-color="#ff0000"/><stop offset="0.033" stop-color="#ff2200"/><stop offset="0.050" stop-color="#ff7d00"/><stop offset="0.067" stop-color="#ffd800"/><stop offset="0.083" stop-color="#e4ff00"/><stop offset="0.100" stop-color="#a1ff00"/><stop offset="0.117" stop-color="#68ff00"/><stop offset="0.133" stop-color="#41ff00"/><stop offset="0.150" stop-color="#1aff00"/><stop offset="0.167" stop-color="#00ff0c"/><stop offset="0.183" stop-color="#00ff22"/><stop offset="0.200" stop-color="#00ff38"/><stop offset="0.217" stop-color="#00ff4e"/><stop offset="0.233" stop-color="#00ff62"/><stop offset="0.250" stop-color="#00ff75"/><stop offset="0.267" stop-color="#00ff88"/><stop offset="0.283" stop-color="#00ff9b"/><stop offset="0.300" stop-color="#00ffae"/><stop offset="0.317" stop-color="#00ffc1"/><stop offset="0.333" stop-color="#00ffd4"/><stop offset="0.378" stop-color="#00fff7"/><stop offset="0.422" stop-color="#00e5ff"/><stop offset="0.467" stop-color="#00c6ff"/><stop offset="0.511" stop-color="#00aaff"/><stop offset="0.556" stop-color="#008eff"/><stop offset="0.600" stop-color="#0077ff"/><stop offset="0.644" stop-color="#0060ff"/><stop offset="0.689" stop-color="#004cff"/><stop offset="0.733" stop-color="#003cff"/><stop offset="0.778" stop-color="#002bff"/><stop offset="0.822" stop-color="#001fff"/><stop offset="0.867" stop-color="#0014ff"/><stop offset="0.911" stop-color="#0008ff"/><stop offset="0.956" stop-color="#0300ff"/><stop offset="1.000" stop-color="#0e00ff"/></linearGradient><linearGradient id="g3_R5" gradientUnits="userSpaceOnUse" x1="0" y1="2583.4" x2="0" y2="1954.0"><stop offset="0.000" stop-color="#ff0400"/><stop offset="0.017" stop-color="#ff3100"/><stop offset="0.033" stop-color="#ff5f00"/><stop offset="0.050" stop-color="#ffbe00"/><stop offset="0.067" stop-color="#e1ff00"/><stop offset="0.083" stop-color="#9bff00"/><stop offset="0.100" stop-color="#54ff00"/><stop offset="0.117" stop-color="#17ff00"/><stop offset="0.133" stop-color="#00ff14"/><stop offset="0.150" stop-color="#00ff3f"/><stop offset="0.167" stop-color="#00ff69"/><stop offset="0.183" stop-color="#00ff83"/><stop offset="0.200" stop-color="#00ff9d"/><stop offset="0.217" stop-color="#00ffb7"/><stop offset="0.233" stop-color="#00ffcc"/><stop offset="0.250" stop-color="#00ffdf"/><stop offset="0.267" stop-color="#00fff2"/><stop offset="0.283" stop-color="#00f9ff"/><stop offset="0.300" stop-color="#00e5ff"/><stop offset="0.317" stop-color="#00d2ff"/><stop offset="0.333" stop-color="#00bfff"/><stop offset="0.378" stop-color="#009dff"/><stop offset="0.422" stop-color="#007bff"/><stop offset="0.467" stop-color="#005cff"/><stop offset="0.511" stop-color="#0040ff"/><stop offset="0.556" stop-color="#0023ff"/><stop offset="0.600" stop-color="#000dff"/><stop offset="0.644" stop-color="#0a00ff"/><stop offset="0.689" stop-color="#1e00ff"/><stop offset="0.733" stop-color="#2f00ff"/><stop offset="0.778" stop-color="#4000ff"/><stop offset="0.822" stop-color="#4b00ff"/><stop offset="0.867" stop-color="#5600ff"/><stop offset="0.911" stop-color="#6200ff"/><stop offset="0.956" stop-color="#6d00ff"/><stop offset="1.000" stop-color="#7800ff"/></linearGradient><linearGradient id="g3_R6" gradientUnits="userSpaceOnUse" x1="0" y1="2583.4" x2="0" y2="1954.0"><stop offset="0.000" stop-color="#ff3900"/><stop offset="0.017" stop-color="#ff6a00"/><stop offset="0.033" stop-color="#ff9c00"/><stop offset="0.050" stop-color="#ffff00"/><stop offset="0.067" stop-color="#9cff00"/><stop offset="0.083" stop-color="#51ff00"/><stop offset="0.100" stop-color="#07ff00"/><stop offset="0.117" stop-color="#00ff3a"/><stop offset="0.133" stop-color="#00ff69"/><stop offset="0.150" stop-color="#00ff98"/><stop offset="0.167" stop-color="#00ffc6"/><stop offset="0.183" stop-color="#00ffe4"/><stop offset="0.200" stop-color="#00fcff"/><stop offset="0.217" stop-color="#00deff"/><stop offset="0.233" stop-color="#00c8ff"/><stop offset="0.250" stop-color="#00b5ff"/><stop offset="0.267" stop-color="#00a2ff"/><stop offset="0.283" stop-color="#008eff"/><stop offset="0.300" stop-color="#007bff"/><stop offset="0.317" stop-color="#0068ff"/><stop offset="0.333" stop-color="#0055ff"/><stop offset="0.378" stop-color="#0033ff"/><stop offset="0.422" stop-color="#0011ff"/><stop offset="0.467" stop-color="#0e00ff"/><stop offset="0.511" stop-color="#2a00ff"/><stop offset="0.556" stop-color="#4700ff"/><stop offset="0.600" stop-color="#5d00ff"/><stop offset="0.644" stop-color="#7400ff"/><stop offset="0.689" stop-color="#8800ff"/><stop offset="0.733" stop-color="#9900ff"/><stop offset="0.778" stop-color="#aa00ff"/><stop offset="0.822" stop-color="#b500ff"/><stop offset="0.867" stop-color="#c100ff"/><stop offset="0.911" stop-color="#cc00ff"/><stop offset="0.956" stop-color="#d700ff"/><stop offset="1.000" stop-color="#e300ff"/></linearGradient><linearGradient id="g3_R7" gradientUnits="userSpaceOnUse" x1="0" y1="2583.4" x2="0" y2="1954.0"><stop offset="0.000" stop-color="#ff6300"/><stop offset="0.017" stop-color="#ff9800"/><stop offset="0.033" stop-color="#ffcd00"/><stop offset="0.050" stop-color="#cbff00"/><stop offset="0.067" stop-color="#65ff00"/><stop offset="0.083" stop-color="#17ff00"/><stop offset="0.100" stop-color="#00ff37"/><stop offset="0.117" stop-color="#00ff7b"/><stop offset="0.133" stop-color="#00ffad"/><stop offset="0.150" stop-color="#00ffdf"/><stop offset="0.167" stop-color="#00edff"/><stop offset="0.183" stop-color="#00ccff"/><stop offset="0.200" stop-color="#00abff"/><stop offset="0.217" stop-color="#008aff"/><stop offset="0.233" stop-color="#0073ff"/><stop offset="0.250" stop-color="#0060ff"/><stop offset="0.267" stop-color="#004dff"/><stop offset="0.283" stop-color="#0039ff"/><stop offset="0.300" stop-color="#0026ff"/><stop offset="0.317" stop-color="#0013ff"/><stop offset="0.333" stop-color="#0000ff"/><stop offset="0.378" stop-color="#2200ff"/><stop offset="0.422" stop-color="#4400ff"/><stop offset="0.467" stop-color="#6300ff"/><stop offset="0.511" stop-color="#8000ff"/><stop offset="0.556" stop-color="#9c00ff"/><stop offset="0.600" stop-color="#b300ff"/><stop offset="0.644" stop-color="#c900ff"/><stop offset="0.689" stop-color="#dd00ff"/><stop offset="0.733" stop-color="#ee00ff"/><stop offset="0.778" stop-color="#ff00ff"/><stop offset="1.000" stop-color="#ff00ff"/></linearGradient></defs>
<path stroke="url(#g3_G7)" d="M1472 2427l5-15 2-3 0-3 2-3 2-8 7-16 0-3 2-3 5-16 2-3 2-8 6-14 0-3 7-16 0-3 4-8 0-3 2-3 9-27 2-3 2-8 2-3 0-3 2-3 2-8 7-16 0-3 6-14 0-3 4-8 0-3 7-16 0-3 2-3 2-8 7-16 0-3 3-5 0-3 3-5 0-3 3-5 1-5 7-15 0-3 11-23 0-2 2-2 1-4 1-2 1 0 1-4 1 0 3-6 9-10 2-1 8 0 0 1 2 0 7 8 10 18 0 2 4 7 1 5 3 5 1 5 2 3 0 3 2 3 2 8 2 3 2 8 3 6 0 3 6 16 0 3 4 9 0 3 4 10 0 3 14 42 3 14 11 33 3 14 3 7 0 3 4 10 0 3 7 21 0 3 3 7 4 17 7 20 3 14 8 23 0 3 6 17 0 3 11 34 0 3 11 32 0 3 14 42 0 3M2675 2573l6-18 2-3 0-3 3-5 0-3 4-8 0-3 7-16 0-3 7-16 0-3 7-16 0-3 2-3 2-8 3-5 0-3 4-8 0-3 2-3 8-23M1472 2406l2 7 2 3 0 3 7 21 2 3 3 11 2 3 0 3 2 3 4 14 8 19 0 3 2 3 5 16 3 5 0 3 3 5 7 21 6 13M2051 2573l7-11 2-1 0-2 1 0 6-8 1 0 7-8 3-1 1-2 2 0 1-2 2 0 0-1 7-3 3 0 1-1 11 0 0 1 4 0 0 1 5 1 0 1 5 2 0 1 2 0 1 2 3 1 0 1 14 13 0 2 1 0 0 1 3 2 1 3 3 2 0 2 1 0 5 8M2462 2539l11-34 0-3 3-7 0-3 4-10 4-17 3-7 0-4 3-7 0-3 8-25 1-7 2-4 0-4 7-22 1-7 2-4 1-7 3-8 0-4 3-8 0-3 8-27 7-31 3-8 0-4 3-8 11-47 4-12 0-4 3-8 0-4 3-8 0-4 3-8 11-46 4-11 1-7 3-7 3-14 3-7 1-6 3-6 0-3 7-15 0-2 1 0 1-3 1 0 0-2 5-4 6 1 6 10 1 0 14 39 0 3 7 20 0 3 11 36 0 3 3 8 3 14 8 25 0 3 3 8 3 14 3 7 1 7 4 10 0 3 6 18 4 17 7 20 3 14 8 22 0 3 3 7 3 13 4 9 0 3 4 9 3 13 3 6 0 3 4 10M1830 2576l2-4 0-3 4-7 1-5 3-5 6-18 8-18 10-29 4-8 0-3 2-3 1-5 11-28 0-3 2-3 5-17 2-3 1-6 2-3 16-48 0-3 3-6 0-3 11-32 0-3 3-7 0-3 7-20 4-17 3-7 0-3 3-7 0-3 8-25 0-3 5-15 1-7 3-7 1-7 4-11 0-3 3-8 3-14 4-11 0-4 4-11 0-3 6-19 1-7 3-7 0-4 4-10 0-3 6-18 0-3 8-22 4-8 1 0 2-3 5 0 5 7 11 31 0 3 6 19 0 4 4 11 0 4 4 11 0 4 3 8 0 4 7 24 0 4 4 12 0 4 17 65 0 4 3 8 0 4 4 12 0 4 3 8 8 35 3 8 0 4 7 23 0 4 3 8 5 22 6 19 0 4 2 4 1 7 8 25 0 3 3 8 3 14 21 70M2518 2551l9-3M1555 2570l8-23 0-3 3-6 1-6 3-6 1-6 3-6 0-3 6-16 0-3 8-21 3-13 3-6 0-3 11-31 0-3 7-19 0-3 4-9 0-3 31-93 0-3 3-6 0-3 4-9 0-3 3-6 1-6 3-6 0-3 7-18 0-3 4-8 0-3 3-6 0-3 3-6 0-3 8-19 0-3 3-5 0-3 7-16 1-5 3-5 3-10 18-38 1 0 1-3 1 0 0-2 1 0 2-4 1 0 0-2 1 0 7-8 3-2 2 0 0-1 8 0 3 1 0 1 3 1 0 1 7 6 0 2 2 1 12 20 0 2 4 6 0 2 4 7 0 2 3 5 3 9 4 7 0 2 6 13 1 5 3 5 0 3 3 5 1 5 7 16 0 3 3 5 0 3 8 19 3 11 7 17 0 3 4 8 0 3 2 3 5 17 2 3 2 8 3 6 0 3 2 3 5 17 3 6 0 3 2 3 3 11 2 3 0 3 3 6 0 3 3 6 3 11 2 3 0 3 3 6 0 3 3 6 0 3 8 20 0 3 3 6 0 3 3 6 0 3 3 6 3 11 2 3 0 3 3 6 0 3 3 6 0 3 3 6 3 11 2 3 0 3 3 6 0 3 3 6 0 3 3 6 8 24M1472 2228l4 2 0 1 6 5 0 2 2 1 3 6 1 0 2 3 0 2 1 0 9 18 0 2 4 7 0 2 3 5 3 10 4 8 5 16 2 3 0 3 3 6 0 3 2 3 3 11 3 6 0 3 3 6 0 3 7 19 0 3 4 9 0 3 6 16 1 6 3 6 0 3 7 19 0 3 7 19 0 3 4 9 0 3 6 16 0 3 3 6 1 6 3 6 1 6 3 6 0 3 4 10M2137 2573l6-14 5-16 2-3 5-16 3-5 0-3 4-7 0-3 5-10 1-5 8-16 0-2 3-5 3-9 1-2 1 0 2-6 4-6 0-2 1 0 10-19 1 0 6-10 2-1 4-6 1 0 3-4 3-1 1-2 3-1 0-1 2 0 0-1 2 0 0-1 3 0 0-1 12 0 12 6 0 1 10 9 7 10 1 0 0 2 2 1 4 8 4 5 0 2 1 0 1 3 1 0 1 4 1 0 4 9 1 0 2 6 1 0 1 2 1 4 3 4 0 2 6 11 4 11 1 0 3 6 0 2 3 5 3 9 4 7 0 2 4 7 0 2 17 38M2591 2540l5-12 4-14 2-3 0-3 3-6 3-11 2-3 0-3 11-33 3-6 0-3 6-16 0-3 8-21 0-3 6-16 0-3 4-9 0-3 4-9 0-3 3-6 0-3 3-6 0-3 3-6 2-8 2-3 2-8 2-3 0-3 2-3 1-5 2-3 6-17 3-5 0-2 3-5 0-2 4-6 0-2 2-4 1 0 1-4 1 0 1-3 1 0 0-2 1 0 3-6 3-2 0-2 1 0 3-4 3-1 1-2 4-1 0-1 9 0 7 4M1491 2565l9-27 0-3 4-10 0-3 3-7 3-13 4-10 0-3 4-10 0-3 6-18 4-17 4-10 0-3 3-8 3-14 8-24 0-4 3-7 4-18 3-7 0-4 3-7 1-7 2-4 1-7 3-8 0-3 8-25 6-26 8-25 6-26 8-25 0-3 14-47 3-14 14-43 0-3 8-23 2-3 1-5 3-5 1-4 2-2 0-2 7-8 6 0 0 1 5 4 3 5 7 15 1 5 3 5 0 3 4 8 0 3 2 3 5 17 3 6 0 3 3 6 1 6 3 6 0 3 17 49 0 3 3 6 13 41 2 3 1 6 3 6 0 3 3 6 0 3 2 3 2 8 3 6 0 3 3 6 2 8 2 3 0 3 7 17 0 3 2 3 2 5 0 3 6 14 0 3 4 8 5 16 2 3 0 3 7 16 0 3 10 24 0 3 3 5 1 5 4 8 0 3 3 5 0 3 3 5 0 3 8 18 7 21 3 5 0 3 3 5 1 5 2 3 1 5 11 26 1 5 2 3 9 25M1873 2574l5-12 0-3 3-5 2-8 2-3 1-5 2-3 0-3 4-8 1-5 3-5 0-3 2-3 8-24 4-8 0-3 3-5 0-3 2-3 1-5 4-8 0-3 7-16 0-3 7-16 0-3 7-16 0-3 7-16 0-3 7-16 0-3 2-3 2-8 7-16 0-3 6-14 0-3 2-3 7-21 2-3 0-3 2-3 2-8 2-3 2-8 6-14 0-3 2-3 2-8 2-3 2-8 6-14 0-3 2-3 2-8 2-3 2-8 6-14 0-3 2-3 1-5 4-8 0-3 4-8 0-3 3-5 0-3 2-3 1-5 2-3 6-17 3-5 3-10 1-2 1 0 7-16 1 0 2-5 1 0 1-3 4-5 7-4 6 1 0 1 4 2 2 4 2 1 0 2 1 0 1 3 1 0 0 2 2 2 9 20 4 13 6 14 29 92 0 3 6 17 4 17 7 20 3 14 4 10 4 17 3 7 0 3 7 22 0 3 4 10 3 14 3 7 0 3 4 10 4 17 3 7 3 14 4 10 0 3 7 20 3 14 4 10 0 3 4 10 0 3 3 7 3 13 8 22 0 3 6 18M1472 2544l4-8 0-3 3-5 3-9 4-7 1-5 9-19 0-2 14-30 0-2 4-6 0-2 7-13 0-2 1 0 2-4 0-2 1 0 3-5 0-2 3-5 1 0 0-2 2-3 1 0 0-2 2-3 1 0 0-2 1 0 4-7 2-1 1-3 3-2 3-5 4-2 2-3 9-5 3 0 0-1 9 0 6 2 0 1 2 0 0 1 3 1 1 2 7 5 9 13 1 0 0 2 1 0 2 4 1 0 0 2 4 5 0 2 2 2 12 24 0 2 3 5 3 9 4 7 0 2 6 13 1 5 3 5 0 3 3 5 1 5 4 8 0 3 3 5 0 3 2 3 2 8 2 3 2 8 3 6M2216 2575l2-5 0-3 3-6 1-6 2-3 1-6 3-6 1-6 3-6 0-3 6-16 0-3 3-6 1-6 7-18 3-13 3-6 1-6 3-6 1-6 3-6 0-3 18-54 3-6 0-3 4-8 0-3 6-14 0-3 10-23 1-5 7-14 0-2 2-2 2-6 3-4 0-2 1 0 7-13 2-1 1-3 1 0 8-9 6-3 10 0 0 1 3 0 0 1 3 1 0 1 7 6 6 9 1 0 0 2 2 3 1 0 0 2 8 13 0 2 3 5 3 9 7 14 1 5 3 5 0 3 3 5 0 3 7 16 4 14 3 6 0 3 11 29 0 3 3 6 0 3 2 3 3 11 3 6 0 3 3 6 0 3 2 3 1 6 2 3 10 31 2 3 0 3 3 6 9 27 2 3 0 3 10 24M2722 2561l0-3 10-22M1654 2561l4-7 0-3 10-21 1-5 9-19 0-3 8-16 0-2 14-30 3-9 2-2 1-4 3-6 1 0 0-2 4-6 1-4 2-2 0-2 16-26 1 0 2-4 2-1 4-6 7-6 3-1 0-1 4-1 0-1 2 0 0-1 4 0 1-1 9 1 0 1 2 0 2 1 0 1 2 0 0 1 3 1 0 1 10 9 6 9 1 0 0 2 1 0 5 8 0 2 1 0 1 3 1 0 1 4 1 0 2 5 1 0 0 2 6 11 0 2 14 30 0 3 8 17 0 3 3 5 0 3 3 5 0 3 4 8 5 16 2 3 0 3 6 14M2407 2574l3-7 1-6 3-6 0-3 3-6 1-6 2-3 1-6 3-6 1-6 3-6 0-3 6-16 0-3 8-21 0-3 6-16 0-3 3-6 1-6 3-6 1-6 3-6 0-3 7-18 1-6 3-6 0-3 2-3 5-17 2-3 2-8 2-3 1-5 10-24 0-2 4-7 0-2 3-5 3-9 1 0 5-11 1 0 7-13 11-12 6-3 4 0 0-1 7 1 0 1 2 0 0 1 2 0 0 1 3 1 0 1 4 3 11 15 0 2 1 0 3 7 2 2 0 2 2 4 1 0 1 4 4 7 0 2 6 12 1 5 3 5 1 5 3 5 0 3 3 5 0 3 2 3 2 8 2 3 2 8 6 14 0 3 11 29 0 3 3 6 0 3 2 3 1 6 2 3 3 11 3 6 0 3 2 3 5 17 3 6 0 3 4 8 0 3 6 14 0 3 4 8 0 3 4 8 1 5 2 3 0 3 3 5 0 3 3 5 1 4M1640 2568l2-5 1 0 1-2 0-2 1 0 3-7 1 0 1-4 1 0 1-3 1 0 2-5 2-3 1 0 0-2 2-3 1 0 0-2 1 0 7-12 2-1 1-3 2-1 1-3 3-2 4-6 1 0 6-7 3-1 0-1 4-2 0-1 12-5 12 0 0 1 4 0 0 1 6 2 0 1 3 1 1 2 3 1 0 1 9 8 2 4 3 2 1 3 1 0 3 4 7 13 1 0 2 3 0 2 3 5 1 0 0 2 1 2 1 0 2 5M2310 2577l6-14 0-3 6-14 0-3 4-8 0-3 4-8 0-3 2-3 5-17 3-6 0-3 7-18 0-3 3-6 0-3 4-9 0-3 4-9 0-3 14-41 0-3 3-7 3-13 4-10 0-3 4-10 0-3 10-30 4-17 6-17 4-17 7-20 0-3 7-21 0-3 7-19 0-3 3-7 1-6 3-6 1-6 2-3 4-14 7-16 0-2 8-16 1 0 3-6 1 0 5-6 3-1 5 0 5 3 6 9 1 0 0 2 2 2 6 12 1 5 5 11 0 3 4 8 0 3 4 9 0 3 3 7 0 3 11 34 0 3 3 8 3 14 8 25 1 7 2 4 0 4 2 4 1 7 8 25 1 7 2 4 0 4 2 4 1 7 8 25 0 3 3 8 3 14 3 7 1 7 4 10 3 14 3 7 0 3 11 34 0 3 3 7 0 3 4 9 0 3 4 10 0 3 3 6 0 3 7 19M2146 2567l16-49 0-3 14-43 3-13 3-7 0-3 4-10 0-3 4-10 3-14 7-20 0-3 7-21 3-14 4-10 0-3 7-21 3-14 4-10 4-17 3-7 3-14 4-10 4-17 6-17 0-3 11-34 0-3 3-7 0-3 4-9 0-3 4-10 0-3 6-16 0-3 2-3 3-11 6-14 0-3 2-3 1-5 4-7 4-11 2-4 1 0 1-4 1 0 2-5 1 0 7-8 3 0 0-1 6 1 1 2 3 1 5 8 1 0 0 2 4 5 0 2 4 6 0 2 14 31 10 29 4 8 0 3 2 3 5 16 2 3 2 8 2 3 2 8 2 3 0 3 2 3 10 30 2 3 0 3 6 14 6 19 2 3 0 3 2 3 6 19 2 3 5 16 2 3 0 3 8 19 0 3 3 5 0 3 2 3 2 8 7 16 0 3 2 3 5 16 7 16 0 3 2 3 5 16 7 16 0 3 5 11 2 8 3 5 0 3 4 8 1 5 2 3 0 3 7 16 0 3 3 5 2 8 5 11 0 3 4 8 1 5 3 5 1 5M1514 2573l7-19 2-3 1-5 4-7 1-5 3-5 0-2 3-5 3-9 8-15 1-4 1 0 1-2 1-4 2-2 1-4 1 0 9-17 2-3 1 0 0-2 1 0 10-14 1 0 4-5 4-2 0-1 6-3 0-1 2 0 0-1 12-2 0 1 8 1 10 6 0 1 5 3 0 1 4 3 10 14 1 0 1 3 1 0 1 3 2 3 1 0 0 2 1 0 1 3 1 0 2 5 1 0 1 3 1 0 0 2 2 2 3 7 1 0 0 2 3 4 1 4 1 0 9 18 0 2 4 6 2 6 1 0 1 2 3 9 1 2 1 0 1 4 4 7 0 2 1 2 1 0 5 11M1961 2525l15-45 0-3 4-9 3-13 7-19 0-3 4-10 0-3 3-7 3-13 4-10 0-3 4-10 0-3 3-7 3-13 8-23 0-3 3-7 3-13 3-6 1-6 7-19 0-3 3-6 0-3 3-6 8-24 2-3 1-5 4-7 4-11 1 0 2-4 0-2 1 0 1-3 1 0 0-2 8-11 1 0 2-3 3-1 0-1 3-1 8 0 0 1 2 0 0 1 3 1 0 1 6 5 1 3 2 1 0 2 1 0 1 3 1 0 0 2 3 5 1 0 0 2 3 6 1 0 0 2 5 10 1 5 4 7 0 3 7 16 0 3 3 6 0 3 3 6 8 24 0 3 3 6 0 3 4 10 0 3 4 9 0 3 3 7 3 13 8 22 0 3 3 7 3 13 4 9 0 3 4 10 3 13 3 6 0 3 4 10 0 3 4 9 0 3 6 16 0 3 4 9 0 3 4 9 0 3 3 6 0 3 11 30M1472 2273l4 13 3 15 3 8 1 7 3 8 1 7 2 4 1 7 3 8 3 15 8 25 0 4 3 7 0 4 3 7 0 4 4 10 1 7 3 7 0 3 6 18 4 17 4 10 0 3 14 42 1 6M1843 2566l2-4 1 0 0-2 1 0 3-6 2-3 1 0 1-3 1 0 4-7 1 0 1-3 3-2 1-3 3-2 6-8 4-2 2-3 7-4 0-1 4-1 0-1 2 0 0-1 3 0 0-1 5 0 1-1 10 1 6 3 2 0 0 1 6 3 0 1 8 6 4 6 3 2 0 2 3 2 0 2 2 1 6 9M2487 2577l4-12 3-5 0-3 3-5 5-16 2-3 0-3 8-19 3-11 3-6 0-3 4-8 0-3 3-6 18-54 0-3 3-6 0-3 8-22 0-3 3-7 3-13 8-22 3-14 11-33 3-14 3-7 0-3 4-11 4-17 3-7 0-3 7-22 0-3 4-10 3-14 11-33 3-13 5-15 2-3 0-3 4-8 0-3 3-5 4-11 7-11 1 0 2-3 2 0 0-1 5 0 4 2 3 5 1 0 1 3 1 0 0 2 2 2 6 13 1 5 2 3 0 3 3 6 0 3 4 9 0 3 4 10 3 14 3 7 0 4 3 7 1 7 7 22 0 4 6 19 1 7 3 8 1 7 3 8 0 4 3 8 4 17M1594 2575l25-75 0-3 3-6 0-3 8-21 0-3 6-16 0-3 3-6 1-6 3-6 1-6 2-3 1-6 3-6 0-3 3-6 3-11 2-3 0-3 3-6 0-3 2-3 2-8 7-16 6-18 8-16 3-9 3-4 0-2 8-14 2-3 1 0 0-2 2-1 1-3 1 0 7-8 8-4 9 0 0 1 2 0 5 3 0 1 8 7 2 4 3 4 1 0 0 2 1 0 1 3 1 0 3 7 1 0 0 2 2 4 1 0 0 2 8 15 3 10 3 5 0 2 8 18 1 5 2 3 0 3 2 3 1 5 4 8 0 3 7 17 0 3 2 3 1 6 4 8 0 3 3 6 5 17 2 3 1 6 2 3 2 8 3 6 0 3 3 6 0 3 2 3 2 8 2 3 2 8 6 14 0 3 18 47M2095 2561l7-15 0-2 4-7 0-3 6-12 4-12 4-7 3-10 11-23 0-2 3-5 3-9 4-7 4-11 2-2 1-4 2-4 1 0 2-6 2-2 1-4 1 0 3-7 2-2 0-2 1 0 1-3 1 0 0-2 1 0 5-9 2-1 0-2 3-2 0-2 1 0 10-11 3-1 1-2 4-1 0-1 8-1 0-1 2 0 0 1 6 0 0 1 2 0 2 1 0 1 2 0 0 1 3 1 0 1 11 10 1 3 2 1 1 3 8 11 0 2 1 0 1 3 1 0 0 2 1 2 1 0 1 4 1 2 1 0 2 6 4 6 0 2 3 5 3 9 7 14 1 5 3 5 0 3 7 15 0 3 3 5 2 8 5 11 0 3 4 8 0 3 4 8 0 3 4 10M1472 2244l7-23 0-3 2-4 1-7 4-10 0-4 4-10 0-4 3-7 0-4 2-4 1-7 8-25 0-4 2-4 1-7 7-22 0-4 4-11 4-18 2-4 0-4 4-10 0-4 4-10 0-3 6-18 5-10 3-2 2 0 2 3 1 0 5 10 0 3 3 6 1 6 3 7 0 4 3 7 0 4 8 26 0 4 2 5 9 39 3 8 0 4 6 21 0 4 4 12 0 4 4 12 0 4 6 21 0 4 4 12 0 4 3 8 12 51 3 8 0 4 3 8 0 4 3 8 0 4 4 11 0 4 3 8 1 7 3 8 3 15 4 11 0 4 4 11 0 3 3 8 3 14 8 25 0 3 3 8 3 14 8 23 4 17M2613 2576l3-9 4-7 1-5 3-5 6-18 3-5 5-15 2-3 4-13 4-8 0-3 3-5 5-16 2-3 0-3 4-8 0-3 4-8 0-3 2-3 2-8 2-3 0-3 8-20 0-3 3-6 0-3 3-6 0-3 3-6 1-6 3-6 1-6 3-6 0-3 3-7 0-3 3-6 1-6 7-19 0-3 11-33 3-14 3-7 0-3 4-12M2295 2559l3-9 0-3 7-20 0-3 3-7 0-3 4-10 4-17 3-7 3-14 4-10 1-7 3-7 0-3 6-19 1-7 3-7 0-4 2-4 6-25 2-4 0-4 8-26 3-15 3-8 0-4 8-26 0-4 3-8 0-4 3-8 0-4 8-27 0-3 6-21 0-4 8-27 0-4 3-8 0-4 7-24 0-4 4-12 0-4 3-8 0-4 3-8 0-4 4-12 0-4 3-8 1-7 2-5 5-23 3-8 0-4 4-11 0-4 3-8 1-7 2-4 0-3 4-12 2-4 2 0 3 5 3 9 0 3 4 11 0 3 4 11 0 4 9 30 1 7 4 11 0 3 3 8 3 14 4 11 1 7 3 7 0 3 3 8 3 14 3 7 1 7 4 10 0 3 3 7 3 14 8 23 0 3 3 7 3 13 4 9 0 3 4 10 0 3 3 6 3 13 3 6 1 6 3 6 1 6 3 6 0 3 7 18 0 3 2 3 3 11 2 3 0 3 3 6 0 3 4 8 0 3 4 8 0 3 6 14 0 3 4 8 0 3 4 8 1 5 2 3 0 3 3 5 0 3 4 8 1 5 3 5 0 3 3 5 0 3 3 5 0 3 3 5 8 23 3 5 0 3 4 7 0 3 4 7 6 18 4 7 0 3 4 7 3 9M1845 2573l9-12 1 0 5-6 7-4 1-2 2 0 0-1 2 0 0-1 2 0 0-1 6-1 0-1 14 0 1 1 3 0 0 1 2 0 12 7 1 2 6 4 0 1 5 4 3 5 2 1 1 3 1 0 3 4M2250 2544l10-30 3-13 3-7 4-17 4-10 0-3 3-8 3-14 2-4 2-10 7-22 1-7 2-4 0-4 7-22 1-7 3-8 0-4 11-38 0-4 3-8 0-4 3-8 0-4 8-27 0-4 2-5 9-39 3-8 0-4 6-21 0-4 3-8 1-7 3-9 8-35 3-8 1-7 3-8 3-15 2-4 1-7 4-10 1-6 3-6 0-3 6-13 0-2 6-7 4 0 0 1 4 3 0 2 1 0 3 6 0 2 3 5 1 5 3 6 0 3 3 7 0 3 4 10 0 3 6 18 1 7 3 7 0 4 8 25 0 3 3 8 1 7 2 4 1 7 2 4 1 7 4 11 0 3 3 8 3 14 8 24 0 3 3 8 3 14 4 10 0 3 4 10 0 3 10 30 0 3 4 10 3 13 7 19 0 3 3 6 1 6 3 6 0 3 8 24 3 6 0 3 3 6 0 3 2 3 2 8 3 6 0 3 4 8 0 3 6 14 0 3 4 8 0 3 3 5 2 8 2 3 7 21 3 5 7 21 8 17M1695 2573l5-3 0-1 2 0 0-1 4-1 0-1 3 0 0-1 4 0 0-1 11 0 7 2 0 1 3 0 0 1 5 2 0 1 3 1 0 1 5 3M2087 2551l1-6 7-20 0-3 3-7 0-3 4-10 4-17 3-7 0-3 7-22 0-3 3-7 1-7 2-4 1-7 14-48 3-15 4-11 0-4 3-8 1-7 3-8 0-4 3-8 0-4 8-27 0-3 3-9 0-4 3-8 0-4 11-40 0-4 14-53 0-4 1-1 2-11 3-9 7-31 1-1 0-4 2-5 15-63 4-12 0-3 4-11 0-3 3-6 0-3 3-6 2-2 2 0 4 5 6 18 0 3 11 37 3 15 3 8 1 7 4 11 0 4 6 19 1 7 7 22 1 7 2 4 0 4 3 7 0 4 3 7 1 7 3 7 1 7 3 7 3 14 4 10 4 17 10 30 0 3 4 10 0 3 3 7 3 13 8 21 3 13 3 6 0 3 4 9 0 3 3 6 8 26 3 6 0 3 4 8 0 3 3 6 0 3 2 3 5 16 4 8 0 3 2 3 5 16 3 5 0 3 3 5 7 21 2 3 9 25 3 5 0 3 4 7 1 5 3 5 4 11M2105 2562l7-21 0-3 4-10 0-3 4-10 3-13 3-7 4-17 4-10 0-3 3-8 3-14 7-21 1-7 2-4 1-7 3-8 0-3 8-25 1-7 2-4 0-4 11-37 3-15 11-38 3-15 3-8 0-4 8-26 0-4 3-8 0-4 7-23 0-4 4-11 0-4 3-8 3-15 11-38 0-4 2-4 1-7 4-11 0-4 6-18 1-7 7-20 0-3 3-6 1-5 3-5 0-2 4-5 4 0 0 1 3 2 0 2 6 12 0 3 8 21 0 3 3 7 0 3 7 21 0 3 4 10 0 3 3 7 3 14 8 23 0 3 10 30 0 3 4 10 3 13 31 93 0 3 2 3 3 11 3 6 0 3 3 6 0 3 2 3 2 8 3 6 0 3 4 8 0 3 2 3 2 8 2 3 0 3 4 8 0 3 4 8 0 3 2 3 5 16 10 24 0 3 3 5 0 3 3 5 9 26 6 13 1 5 3 5 4 13 2 3 0 2 10 23 1 5 3 5 0 3 4 7 1 5 3 5 3 9M1489 2557l1-4 3-5 0-3 10-22 1-5 3-5 0-3 3-5 1-5 3-5 1-5 3-5 6-18 4-7 0-3 6-12 1-5 11-23 0-2 3-5 3-9 3-4 1-4 7-12 0-2 1 0 3-7 1 0 1-3 1 0 0-2 1 0 3-6 10-13 7-5 1-2 2 0 0-1 4-1 0-1 3 0 0-1 9 0 0 1 3 0 0 1 6 2 0 1 7 5 4 5 14 21 0 2 2 2 1 4 1 0 2 6 1 0 3 6 0 2 4 7 0 2 3 5 3 9 4 7 0 3 4 7 0 3 3 5 0 3 3 5 0 3 7 16 2 8 2 3 0 3 2 3 7 22 2 3 0 3 3 6 0 3 3 6 0 3 5 12M2256 2575l7-20 0-3 3-6 0-3 4-9 0-3 7-18 0-3 3-6 1-6 3-6 0-3 4-9 0-3 3-6 0-3 3-6 0-3 11-29 0-3 2-3 2-8 3-6 0-3 7-16 0-3 3-5 0-3 3-5 1-5 3-5 1-5 3-5 3-9 4-7 0-2 4-6 0-2 3-4 0-2 1 0 3-7 1 0 2-3 0-2 1 0 5-8 1 0 3-5 4-2 1-2 7-4 4 0 0-1 4 0 0 1 4 0 0 1 4 1 0 1 3 1 0 1 9 8 2 4 3 4 1 0 0 2 1 0 1 3 1 0 2 5 2 2 0 2 3 4 0 2 1 0 3 6 0 2 1 0 3 6 0 2 10 21 0 3 4 7 1 5 9 21 0 3 3 5 5 16 2 3 0 3 4 8 0 3 7 16 0 3 2 3 2 8 7 16 0 3 2 3 2 8 2 3 4 13 7 16 0 3 3 5 1 5 3 5 0 3 4 7 1 4"/>
<path stroke="url(#g3_R7)" d="M1493 2557l1 0 7-14 1 0 2-3 0-2 1 0 6-10 3-2 4-6 1 0 2-3 3-1 1-2 3-1 0-1 2 0 0-1 6-2 9 0 0 1 3 0 10 6 0 1 8 7 3 5 1 0 1 3 1 0 3 6 1 0 2 5 1 0 3 7 1 0 1 4 2 2M2027 2575l1-5 4-7 0-3 4-7 6-18 3-5 1-5 7-15 0-3 3-5 0-2 8-18 1-5 13-31 7-21 3-5 0-3 3-5 11-32 4-8 0-3 2-3 1-5 3-6 0-3 8-19 4-14 2-3 0-3 3-6 12-37 3-6 0-3 3-6 4-12 0-3 2-3 1-6 3-6 1-6 2-3 8-24 0-3 3-6 3-11 2-3 0-3 3-6 0-3 3-6 0-3 4-8 0-3 4-8 6-18 4-7 0-2 4-6 0-2 1 0 1-3 1 0 0-2 7-9 4-2 6 0 4 2 4 5 1 3 1 0 11 24 11 33 0 3 4 10 0 3 3 8 3 14 4 11 0 4 4 11 0 4 3 8 4 19 3 8 11 47 3 8 0 4 4 12 0 4 3 8 0 4 2 5 2 11 3 8 0 4 4 12 0 4 3 8 0 4 2 5 1 7 4 12 0 4 3 8 1 7 10 36 1 7 3 8 10 42M1607 2549l1-6 4-10 0-4 4-10 0-4 3-7 0-4 7-22 4-18 3-8 3-15 11-38 0-4 3-8 0-3 8-27 3-15 3-8 0-4 8-25 0-3 3-8 3-14 8-23 0-3 4-12 2-3 0-3 4-8 1-5 5-11 1 0 2-6 1 0 0-2 2-3 1 0 1-3 1 0 4-5 3-1 0-1 10 1 0 1 6 5 0 2 2 1 2 3 0 2 1 0 2 5 1 0 0 2 6 12 0 3 3 5 2 8 2 3 1 6 3 6 3 13 4 10 4 17 3 7 0 4 3 7 0 4 8 25 0 4 2 4 9 37 2 4 1 7 3 8 0 4 11 37 0 4 2 4 1 7 7 22 0 4 4 11 0 3 3 8 0 3 8 28M2338 2572l2-4 0-4 4-10 4-18 6-18 0-4 3-7 1-7 6-19 0-3 4-11 1-7 3-7 0-4 2-4 4-18 8-25 0-3 3-8 3-14 4-10 0-3 7-21 0-3 3-7 0-3 8-21 0-3 2-3 5-16 7-14 0-2 6-10 0-2 1 0 1-3 2-1 0-2 1 0 7-8 5-1 0-1 7 1 0 1 3 1 1 2 6 5 12 22 0 2 4 7 1 5 5 11 0 3 3 6 11 34 0 3 4 10 0 3 7 21 3 14 2 4 2 10 6 18 1 7 3 7 0 4 4 10 0 4 4 10 0 4 3 7 1 7 2 4 0 3 4 11 4 17 3 7 0 3 7 21 0 3 5 14M1472 1973l4 11 0 4 3 9 0 4 7 29 0 5 4 14 0 5 3 10 0 5 3 10 0 5 8 34 6 34 8 34 3 19 3 10 0 5 4 14 1 9 6 24 0 4 7 29 0 4 4 14 0 4 3 10 3 18 4 13 0 4 4 14 0 4 1 1 2 12 3 9 0 4 4 13 0 4 4 13 0 4 6 21 0 4 17 65M1906 2559l8-16 1 0 2-5 2-3 1 0 0-2 1 0 2-4 1 0 0-2 2-1 1-3 1 0 6-8 6-4 1-2 3-1 0-1 5-1 0-1 4 0 0-1 5 0 11 4 0 1 3 1 0 1 11 10 0 2 3 2 0 2 1 0 2 4 1 0 0 2 1 0 2 3 10 20M2447 2575l1-5 4-7 1-5 9-20 0-3 4-7 1-5 3-5 6-18 7-15 4-13 3-5 0-3 3-5 1-5 4-8 7-21 3-5 0-3 4-8 1-5 5-11 0-3 4-8 0-3 2-3 5-16 3-6 0-3 8-19 0-3 3-6 0-3 3-6 0-3 8-20 0-3 3-6 0-3 5-15 2-3 1-6 3-6 3-13 7-18 0-3 7-19 0-3 7-19 0-3 3-6 1-6 3-6 0-3 7-18 0-3 4-8 0-3 2-3 4-13 7-15 1 0 1-4 2-2 0-2 1 0 2-4 3-2 2-3 3-1 6 1 7 8 7 14 1 5 3 5 0 3 2 3 5 15 0 3 6 17 1 7 3 7 1 7 6 19 0 4 4 11 0 4 3 8 39 159M1680 2560l2-3 1-5 3-5 6-17 4-7 0-2 1 0 3-6 0-2 3-4 0-2 1 0 3-7 5-8 1 0 1-3 6-8 1 0 5-6 4-2 1-2 2 0 0-1 2 0 0-1 3 0 0-1 10 0 0 1 3 0 0 1 4 1 1 2 2 0 0 1 11 10 1 3 2 1 1 3 2 3 1 0 0 2 1 0 4 8 1 0 1 3 1 0 0 2 1 2 1 0 1 4 2 2 1 4 4 6 0 2 4 7 0 2 3 5 3 9 8 16 0 3 3 5M2099 2519l10-38 0-4 3-8 0-4 8-29 0-4 3-9 3-17 1-1 3-12 0-4 4-13 0-4 3-9 0-4 11-45 0-4 10-42 0-4 3-10 1-9 6-24 0-4 4-14 0-4 4-14 0-4 3-10 3-18 8-31 0-4 3-9 0-4 2-5 2-11 7-24 3-9 3-5 0-2 4-6 5-1 0 1 4 3 5 10 7 21 0 3 3 8 0 4 4 11 0 4 4 12 0 4 3 9 3 17 8 29 0 4 9 38 1 1 0 4 4 13 3 17 7 25 0 4 4 12 0 4 2 5 5 23 3 8 0 4 3 8 4 19 3 8 0 4 4 11 0 3 3 8 1 7 6 19 0 3 7 21 4 17 3 7 4 17 7 19 0 3 12 37M1922 2572l5-17 0-3 3-7 0-4 3-7 1-7 2-4 5-21 3-8 0-3 4-11 1-7 3-7 0-4 2-4 4-18 8-25 0-3 3-8 3-14 4-11 4-17 3-7 0-3 3-7 0-3 4-10 0-3 3-6 1-6 6-15 0-3 3-5 5-15 6-11 0-2 4-5 0-2 1 0 4-7 1 0 4-5 6-2 0-1 5 0 0 1 6 2 0 1 5 4 1 3 2 1 0 2 1 0 1 3 1 0 0 2 2 2 6 12 0 2 6 13 1 5 2 3 2 8 2 3 1 6 3 6 3 13 11 33 3 14 4 10 0 3 4 11 0 3 3 8 3 14 8 25 0 3 3 8 3 14 4 10 0 4 4 10 3 14 3 7 0 3 8 24 0 3 3 7 1 6M2393 2561l3-8 0-3 4-9 3-13 7-19 0-3 7-19 3-13 4-9 0-3 7-19 0-3 3-6 0-3 3-6 1-6 4-8 0-3 2-3 8-24 4-7 0-2 6-12 0-2 11-20 9-11 4-2 1-2 7-1 0-1 6 1 0 1 4 1 0 1 9 8 8 14 1 0 0 2 4 6 0 2 3 5 3 9 4 7 0 3 3 5 1 5 3 6 0 3 2 3 3 11 2 3 1 6 3 6 0 3 3 7 3 13 4 10 4 13 0 3 3 7 0 3 3 7 0 3 8 24 0 3 6 18 1 6M1719 2576l2-7 3-5 0-3 4-8 1-5 2-3 0-3 2-3 2-8 6-14 8-26 3-6 1-6 3-6 0-3 3-6 3-13 4-9 0-3 4-10 0-3 3-7 3-13 8-23 0-3 3-8 3-14 3-7 1-7 2-4 6-25 2-4 0-4 8-26 0-4 3-8 0-4 3-8 0-4 4-12 0-4 4-12 0-4 1-1 2-11 3-9 0-4 4-13 0-4 4-13 0-4 3-9 3-18 4-13 0-4 4-14 0-4 3-10 3-18 8-32 0-4 3-10 0-5 7-28 4-23 3-9 1 0 1 2 5 21 0 5 4 14 0 5 3 10 0 5 7 29 0 5 3 10 1 9 6 26 0 4 8 34 6 34 8 34 0 4 10 44 0 4 10 42 0 4 8 32 0 4 3 10 3 18 1 1 3 12 0 4 4 13 0 4 10 39 0 4 7 25 0 4 11 40 0 4 3 8 0 4M2326 2557l4-6 0-2 2-2 2-5 1 0 1-3 11-15 1 0 7-8 3-1 1-2 2 0 0-1 4-2 3 0 0-1 13 1 0 1 4 1 0 1 3 1 1 2 3 1 8 9 5 8 1 0 0 2 1 0 4 8 1 0 1 3 1 0 0 2 1 2 1 0 2 6"/>
<path stroke="url(#g3_G6)" d="M1693 2577l3-10 4-8 0-3 2-3 2-8 2-3 0-3 4-8 0-3 3-6 2-8 2-3 0-3 3-6 0-3 3-6 11-33 0-3 8-21 3-13 11-32 0-3 14-43 0-3 10-30 0-3 4-10 3-14 7-20 0-3 7-21 0-3 3-7 0-3 14-41 0-3 3-6 8-24 7-14 0-2 4-6 0-2 1 0 3-6 1 0 6-7 3-1 5 0 2 1 0 1 2 0 0 1 5 4 0 2 2 1 2 5 2 2 1 4 3 4 0 2 3 5 1 5 6 14 0 3 2 3 6 18 0 3 3 7 0 3 3 7 0 3 4 10 0 3 6 18 1 7 3 7 0 4 3 7 1 7 4 11 0 3 3 8 3 14 8 25 0 3 3 8 1 7 2 4 1 7 3 7 1 7 3 7 0 3 3 8 3 14 4 10 4 17 3 7 3 14 4 10 0 3 18 54 0 3 3 6 0 3 3 9M2274 2568l5-10 1 0 1-4 1 0 3-7 6-9 0-2 1 0 2-3 0-2 1 0 1-3 1 0 1-3 2-3 1 0 7-12 1 0 7-10 1 0 9-10 10-6 0-1 2 0 3-2 3 0 0-1 13 0 0 1 3 0 0 1 2 0 9 5 0 1 15 14 0 2 3 2 0 2 1 0 4 7 1 0 2 5 1 0 2 3 0 2 1 0 3 7 1 0 1 4 2 2 5 10M1983 2573l3-9 1-2 1 0 2-6 2-4 1 0 5-12 2-2 0-2 3-5 1 0 0-2 4-5 0-2 1 0 7-12 2-1 0-2 1 0 3-5 1 0 11-12 4-2 0-1 5-2 0-1 3 0 0-1 3-1 6 0 1-1 0 1 7 0 11 5 0 1 3 1 1 2 3 1 0 1 7 6 4 6 3 2 0 2 3 2 0 2 2 1 8 13 1 0 0 2 2 3 1 0 0 2 4 5 2 5 1 0 3 7 1 0 0 2 3 4 0 2 1 0 3 5 0 2 6 10M2416 2520l1-6 3-6 0-3 4-10 0-3 10-30 0-3 4-10 0-3 7-21 3-14 3-7 1-7 4-10 4-18 6-18 0-4 3-7 1-7 2-4 1-7 3-8 0-3 8-25 0-4 3-7 0-4 3-7 0-4 3-7 1-7 4-10 0-3 3-8 3-14 11-32 1-6 2-3 1-6 2-3 1-5 7-15 0-2 3-5 0-2 3-5 1 0 0-2 2-3 1 0 7-8 8 0 9 8 1 3 4 5 0 2 1 2 1 0 4 11 4 7 0 3 7 16 0 3 3 6 0 3 4 9 0 3 4 10 0 3 10 29 4 17 10 30 4 17 3 7 0 3 3 7 0 3 11 34 0 3 3 7 0 3 4 10 0 3 4 9 0 3 3 7 3 13 8 22 0 3 3 6 0 3 18 54 3 6 0 3 3 6 2 8 2 3 0 3 11 28M1768 2576l5-11 3-10 4-7 0-3 4-7 1-5 15-36 9-26 3-5 0-3 2-3 8-24 4-8 0-3 2-3 2-8 2-3 0-3 3-6 2-8 2-3 8-26 3-6 0-3 4-9 0-3 3-6 0-3 3-6 0-3 8-22 0-3 3-6 3-13 4-10 0-3 4-10 0-3 10-30 4-17 3-7 3-14 7-21 1-7 3-7 0-4 2-4 1-7 8-25 0-4 2-4 9-37 2-4 1-7 3-8 0-4 3-8 0-3 11-38 0-3 3-7 1-6 4-7 3 1 3 6 0 3 6 18 1 7 3 8 1 7 6 21 0 4 4 12 0 4 4 12 0 4 6 21 0 4 8 28 0 4 6 21 0 4 8 28 0 4 6 21 0 4 3 8 1 7 10 37 0 4 3 8 11 46 11 38 0 4 7 22 0 4 4 11 0 3 3 8 5 21 2 4 2 10 2 4 0 3 3 8 3 14 8 23 3 14M1650 2554l0-3 8-23 0-3 3-7 0-3 7-21 0-3 4-10 0-3 14-47 0-3 3-8 3-14 4-11 0-4 7-22 0-4 3-8 5-22 3-8 7-31 3-8 0-4 3-8 1-7 20-77 0-4 4-12 0-4 4-12 0-4 6-21 0-4 8-28 3-17 3-8 0-4 4-12 0-4 4-12 0-4 2-5 5-23 3-8 0-4 4-11 0-3 4-13 1-2 1 0 0-2 3 0 5 12 0 3 9 30 1 7 3 8 1 7 3 8 0 4 7 23 1 7 2 4 1 7 3 8 3 15 8 25 0 4 3 7 0 4 3 7 0 4 4 10 1 7 3 7 0 3 6 18 4 17 4 10 0 3 10 30 0 3 7 19 3 13 4 9 0 3 4 9 0 3 6 16 0 3 8 20 0 3 3 6 0 3 3 6 0 3 8 19 0 3 3 6 3 11 4 8 0 3 4 8 1 5 2 3 0 3 3 5 0 3 8 18 0 3 3 5 4 13 3 5 1 5 3 5 6 18 3 5 1 5 4 7 1 5 4 8M2521 2573l4-1 0-1 3 0 0-1 4 0 0-1 9 0 0 1 8 1 0 1 2 0 0 1 2 0 2 1 0 1 2 0 0 1M1954 2575l1-4 3-5 1-5 7-15 0-2 3-5 0-3 3-5 0-2 10-23 1-5 3-5 0-3 3-5 1-5 3-5 7-21 10-24 5-16 2-3 1-5 7-17 3-11 3-6 2-8 2-3 5-17 2-3 0-3 3-6 1-6 2-3 8-24 0-3 8-21 0-3 6-16 0-3 4-10 0-3 4-9 0-3 10-30 0-3 7-21 0-3 3-7 0-3 4-11 4-17 3-7 0-4 7-21 0-4 3-7 1-7 3-8 0-3 6-19 1-7 4-11 0-4 2-4 1-7 3-8 0-4 2-4 3-14 9-30 2 0 2 4 4 13 0 4 10 35 0 4 3 8 1 7 3 9 0 4 3 8 0 4 3 8 1 7 7 25 0 4 3 8 0 4 4 12 0 4 3 8 1 7 3 9 0 4 3 8 0 4 4 12 0 4 3 8 1 7 6 21 0 4 3 8 2 11 3 8 0 4 10 35 0 4 4 11 0 4 3 8 3 15 8 26 0 4 2 4 4 18 4 11 0 4 4 11 0 3 3 8 3 14 2 4 2 10 4 10 0 4 6 18 0 3 4 10 0 3 6 18M2006 2570l19-55 0-3 3-6 0-3 4-9 0-3 4-9 0-3 3-6 0-3 3-6 1-6 3-6 1-6 3-6 0-3 6-16 0-3 2-3 9-27 0-3 3-6 0-3 4-9 0-3 3-6 1-6 3-6 0-3 7-18 1-6 3-6 0-3 3-6 1-6 2-3 1-6 3-6 0-3 3-6 8-26 3-6 0-3 4-8 0-3 3-6 0-3 2-3 6-19 2-3 5-16 2-3 0-3 3-5 1-5 4-8 3-10 3-5 1-5 7-14 3-9 2-2 1-4 4-6 0-2 1 0 3-5 0-2 1 0 1-3 1 0 0-2 1 0 6-9 1 0 3-4 3-1 0-1 2 0 0-1 3 0 0-1 8 1 0 1 6 3 6 8 1 0 12 20 1 4 3 4 3 9 11 23 1 5 10 23 1 5 5 11 0 3 7 16 2 8 2 3 0 3 2 3 2 8 3 6 0 3 4 8 0 3 3 6 0 3 2 3 3 11 2 3 0 3 3 6 9 29 2 3 0 3 3 6 1 6 3 6 0 3 3 6 0 3 3 6 1 6 3 6 4 12 0 3 2 3 1 6 3 6 11 33 0 3 3 6 11 33 0 3 3 6 16 50 3 6 0 3 3 6 0 3 3 6 0 3M2065 2573l5-12 0-3 4-8 1-5 2-3 2-8 2-3 0-3 2-3 1-5 4-8 0-3 4-8 0-3 6-14 0-3 2-3 7-21 2-3 0-3 2-3 2-8 7-16 0-3 2-3 2-8 2-3 0-3 2-3 7-21 2-3 0-3 2-3 2-8 7-16 0-3 6-14 0-3 4-8 0-3 4-8 3-11 6-14 6-19 2-3 0-3 7-16 0-3 4-8 0-3 2-3 9-27 2-3 5-16 2-3 0-3 3-5 2-8 3-5 0-3 3-5 0-3 3-5 0-3 3-5 1-5 3-5 1-5 3-5 3-10 6-13 2-2 3-9 1 0 3-7 5-8 1 0 1-3 1 0 5-6 4-2 7 0 0 1 2 0 1 2 4 2 1 3 2 1 1 3 2 3 1 0 0 2 1 2 1 0 1 4 1 2 1 0 6 13 3 10 3 5 0 3 8 19 0 3 2 3 4 12 0 3 2 3 6 18 0 3 3 6 3 13 8 22 0 3 10 30 0 3 4 10 0 3 6 17 0 3 11 34 0 3 3 7 0 3 8 23 0 3 6 18 0 3 4 10 0 3 4 10 0 3 3 7 3 13 4 10 0 3 4 10 0 3 3 7 3 13 4 10 0 3 4 10 0 3 3 7 3 13 4 9 0 3 4 10 0 3 4 12M1472 2526l4 3 2 4 1 0 9 13 1 0 18 30M1801 2528l0-3 11-32 0-3 3-7 3-14 4-10 0-3 7-21 0-3 7-22 2-10 2-4 1-7 2-4 0-4 7-22 0-3 7-23 3-15 11-38 0-4 14-49 0-4 3-8 1-7 2-4 1-7 4-11 0-4 3-7 0-4 3-7 0-4 8-23 3-13 11-30 5-10 1 0 0-2 6-7 2 0 0-1 3-1 5 2 2 3 3 2 3 5 8 17 5 16 2 3 0 3 7 19 0 3 10 30 4 17 4 10 3 14 3 7 0 3 4 11 4 17 3 7 3 14 4 10 4 17 3 7 0 3 3 7 4 17 14 42 0 3 7 19 3 13 3 6 1 6 3 6 1 6 3 6 0 3 7 18 0 3 4 8 0 3 3 6 0 3 3 6 0 3 4 8 0 3 4 8 0 3 2 3 1 5 13 34M2635 2573l3-5 1-4 1 0 3-7 1 0 0-2 2-3 1 0 2-5 1 0 3-6 2-1 0-2 1 0 6-9 1 0 10-11 3-1 0-1 4-2 0-1 6-2 0-1 4 0 0-1 14 0 0 1 3 0 14 8 0 1 11 10M1472 2489l5-15 2-3 0-3 2-3 1-5 4-8 0-3 3-5 4-13 3-5 1-5 7-14 0-2 3-5 3-9 3-4 1-4 3-4 1-4 1 0 6-12 1 0 3-6 1 0 5-8 1 0 6-7 3-1 0-1 9-4 9 0 0 1 3 0 0 1 4 1 1 2 2 0 0 1 11 10 0 2 3 2 1 3 2 3 1 0 0 2 1 0 5 8 3 7 1 0 1 4 1 0 2 6 2 2 1 4 4 6 0 2 4 7 0 2 10 21 4 12 3 5 1 5 9 20 1 5 3 5 0 3 3 5 1 5 7 15 6 18 4 7 0 3 4 7 3 10 6 12M1914 2553l0-2 2-3 0-2 4-8 1-5 2-3 1-5 6-14 1-5 2-3 1-5 4-8 0-3 2-3 9-27 2-3 5-16 2-3 0-3 4-8 0-3 3-5 8-24 3-5 1-5 3-5 3-10 11-23 0-2 1-2 1 0 1-4 2-4 1 0 0-2 3-4 3-7 1 0 2-5 1 0 1-3 6-8 1 0 7-8 3-1 0-1 2 0 0-1 2 0 0-1 4 0 0-1 8 1 6 3 0 1 6 4 7 10 1 0 1 3 1 0 15 28 3 9 8 16 0 3 3 5 4 13 3 5 0 3 4 8 3 11 3 6 0 3 4 8 0 3 3 6 12 38 3 6 0 3 3 6 0 3 5 15 2 3 0 3 4 9 0 3 6 17M2699 2574l33-95"/>
<path stroke="url(#g3_R6)" d="M1486 2555l2-1 2 0 0 1 5 0 8 4M1919 2571l8-23 0-3 3-6 1-6 3-6 1-6 3-6 0-3 6-16 0-3 3-6 26-79 2-3 2-8 3-6 0-3 6-14 0-3 4-8 0-3 4-8 1-5 2-3 0-3 7-16 1-5 3-5 0-3 3-5 1-5 2-3 4-12 4-7 0-3 3-5 3-9 8-16 3-9 2-2 1-4 3-6 1 0 0-2 4-6 1-4 2-2 0-2 2-2 6-12 1 0 1-3 1 0 0-2 1 0 3-6 1 0 1-3 1 0 7-10 1 0 6-7 3-1 0-1 4-2 0-1 2 0 3-2 3 0 0-1 9 0 0 1 3 0 0 1 2 0 2 1 0 1 4 1 14 15 10 15 0 2 1 0 1 3 1 0 1 4 1 0 2 6 1 0 2 6 4 6 0 2 4 7 0 2 3 5 3 9 4 7 1 5 3 5 7 21 3 5 0 3 4 8 0 3 6 14 0 3 8 20 0 3 3 6 0 3 7 18 1 6 3 6 3 13 3 6 0 3 8 22 3 13 3 6 0 3 14 42 0 3 4 10 0 3 4 10 0 3 3 7 0 3 3 7 0 3 6 18M2685 2562l2-1 13 0M1819 2566l7-22 1-7 2-4 1-7 2-4 0-4 8-25 1-7 2-4 0-4 2-4 1-7 4-11 0-3 7-23 1-7 2-4 0-4 4-11 0-3 10-34 1-7 7-22 1-7 2-4 0-4 3-7 0-4 3-7 1-7 7-21 0-3 7-22 0-3 10-30 0-3 4-9 0-3 4-9 0-3 3-6 0-3 2-3 2-8 3-5 0-3 4-7 0-2 3-5 3-9 1 0 2-5 1 0 0-2 2-3 1 0 4-7 3-2 2-3 3-2 2 0 0-1 9 0 0 1 2 0 0 1 3 1 1 2 6 5 2 4 2 1 0 2 1 0 2 3 2 5 1 0 1 4 1 0 5 11 1 0 4 11 2 4 1 0 7 19 7 14 0 3 3 5 4 12 3 5 1 5 3 5 0 3 7 15 0 3 4 7 0 3 3 5 0 3 3 5 0 3 4 7 0 3 7 15 0 3 3 5 0 3 7 15 7 21 3 5 1 5 6 13 4 13 2 3 12 33 8 18 7 21 3 5 0 3 7 15 0 3 11 26 1 5 2 3 0 3 3 5 0 3 3 5 1 5 4 8 0 3 3 5M2595 2561l9-14 1 0 11-12 5-3 2 0 0-1 7-1 0-1 4 0 10 3 0 1 6 3 0 1 11 10 1 3 2 1 4 7 1 0 0 2 1 0 2 3 0 2 1 0 1 3 1 0 4 8M1739 2546l10-41 3-8 0-4 4-12 0-4 6-21 0-4 8-29 0-4 3-9 3-17 4-13 0-4 3-12 1-1 3-18 3-9 0-4 4-14 0-4 4-14 0-4 3-9 0-4 7-28 0-4 10-43 0-4 4-14 0-4 10-43 4-23 4-14 0-4 10-42 0-4 9-38 1-1 0-4 6-19 1-2 1 0 0-2 3-2 2 1 3 6 6 19 0 4 3 8 0 4 7 25 0 4 1 1 6 28 3 9 0 4 4 13 0 4 4 12 3 17 1 1 7 31 3 8 0 4 2 5 4 19 3 8 1 7 7 23 0 4 2 4 1 7 8 25 0 3 3 8 3 14 8 24 0 3 10 30 0 3 4 10 0 3 3 6 3 13 3 6 1 6 3 6 1 6 6 15 0 3 3 6 2 8 2 3 4 14 3 6 0 3 4 8 8 24 2 3 1 5 6 13 1 5 2 3 4 12M2509 2560l2-3 7-21 3-5 1-5 4-7 3-9 2-2 6-14 1 0 3-7 1 0 6-11 1 0 2-4 1 0 9-10 3-1 0-1 4-1 0-1 3 0 0-1 9 0 3 1 0 1 2 0 0 1 2 0 0 1 3 1 0 1 6 4 3 5 3 2 0 2 2 1 3 6 1 0 5 8 0 2 1 0 4 9 1 0 1 4 1 2 1 0 2 6 6 11 0 2 8 16 0 3 6 12 0 3 4 7 0 3 3 5M1674 2519l5-22 3-8 0-4 4-12 0-4 6-21 0-4 4-12 0-4 4-13 0-4 3-9 3-17 4-13 0-4 18-76 0-4 10-42 0-4 4-14 0-4 10-42 0-4 4-13 0-4 11-46 3-8 0-4 2-4 4-17 4-8 0-3 4-6 0-2 4-5 6-1 0 1 4 3 0 2 3 4 11 31 1 7 2 4 0 4 3 8 0 3 11 41 3 17 8 29 0 4 3 9 3 17 14 54 0 4 4 12 0 4 4 12 0 4 3 8 0 4 3 8 0 4 11 38 3 15 4 11 1 7 3 7 0 4 3 7 0 3 7 22 0 3 4 10 3 14 14 42 3 13M2424 2567l0-3 7-21 0-3 7-20 0-3 4-9 0-3 3-7 3-13 4-9 0-3 3-6 5-17 2-3 0-3 4-8 1-5 3-5 0-3 10-21 0-2 1-2 1 0 2-6 1 0 6-12 1 0 2-4 8-9 9-5 9 0 0 1 6 2 0 1 10 9 1 3 2 1 5 10 1 0 1 4 1 0 2 5 1 0 4 11 1 0 2 4 0 2 3 5 0 3 4 7 1 5 6 13 0 3 3 5 0 3 4 8 0 3 3 6 2 8 2 3 0 3 3 6 0 3 3 6 1 6 2 3 19 59M1472 2368l4-13 0-4 3-8 0-4 2-5 2-11 3-8 0-4 4-12 0-4 3-8 0-4 2-5 5-23 4-12 0-4 3-8 0-4 3-8 5-22 2-4 1-7 3-7 3-14 4-9 0-3 6-14 1-5 2-4 1 0 1-4 3-5 1 0 4-5 2-1 5 0 8 9 8 17 0 3 2 3 5 15 3 14 4 11 0 3 3 8 1 7 6 21 0 4 4 12 0 4 7 25 0 4 11 43 0 4 3 9 3 17 8 29 3 17 7 25 0 4 4 12 0 4 3 8 0 4 7 24 0 4 7 23 0 4 3 8 4 18 4 11 1 7 2 4 1 7M1935 2569l6-15 1-5 2-3 0-3 3-5 1-5 9-21 1-5 4-7 0-2 4-7 0-2 3-5 3-9 4-6 1-4 2-2 3-7 1 0 0-2 3-5 11-15 1 0 4-5 6-3 0-1 2 0 0-1 3 0 0-1 9 0 0 1 2 0 4 2 0 1 2 0 2 3 4 2 8 12 1 0 3 6 1 0 1 4 1 0 1 3 1 0 0 2 2 4 1 0 0 2 8 15 3 10 3 5 5 15 2 3 8 25 3 6 0 3 3 6M2567 2577l5-16 2-3 0-3 4-8 0-3 4-8 0-3 2-3 5-17 3-6 0-3 3-6 4-12 0-3 3-6 1-6 3-6 0-3 4-10 0-3 3-7 11-36 0-3 3-7 3-14 4-10 1-7 3-7 0-4 3-7 0-4 2-4 1-7 4-11 0-4 4-11 0-4 10-35 0-4 4-12 0-4 6-21 0-4 8-29 0-4 3-9 0-4 7-27 0-4 4-13 0-4 10-42 0-4 4-14 0-4 3-10 0-4 3-10 0-4 4-14 0-4 4-14 3-17 3-11 2-4 2 0 0 1M1472 2358l10 39 0 4 4 12 0 4 3 8 1 7 6 21 0 4 3 8 1 7 4 12 0 3 10 37M1894 2552l4 0 1-1 8 1 7 3 0 1 2 0 0 1 3 2M2336 2571l3-6 11-33 0-3 2-3 3-11 3-6 0-3 3-6 0-3 3-6 0-3 8-20 0-3 2-3 1-6 2-3 2-8 3-6 0-3 4-8 0-3 2-3 2-8 2-3 0-3 4-8 0-3 4-8 0-3 2-3 5-16 7-16 7-21 3-5 0-3 4-7 0-3 3-5 3-10 4-7 0-3 4-7 0-2 14-30 3-9 2-4 1 0 0-2 13-26 1 0 1-4 1 0 1-3 1 0 1-4 1 0 1-3 1 0 0-2 1 0 1-3 1 0 0-2 1 0 4-7 1 0 1-3 1 0 3-5 3-2 3-5 4-2 0-1 4-2 0-1 3-1 0-1 5-1 0-1 12 0 0 1 2 0 4 2 0 1 2 0 0 1 11 10 5 8 1 0 0 2 1 0 9 15 1 4 1 0 2 6 3 4 0 2 11 23 3 10 3 5 1 5 7 16 8 25 2 3 18 54 0 3 14 41 3 13 4 10 0 3 4 10 0 3 3 7 3 13 4 10 0 3 4 10 0 3 3 7 0 3 3 7 0 3 4 10 0 3 4 10 0 3 3 7 0 3 6 18M1761 2561l12-17 1 0 4-5 4-2 0-1 3-1 0-1 2 0 0-1 2 0 0-1 3 0 0-1 11 0 0 1 3 0 0 1 2 0 0 1 2 0 5 3 0 1 11 10 1 3 2 1 3 6 1 0 2 4 1 0 0 2 2 3 1 0 3 7 1 0 0 2M2163 2550l6-26 3-8 0-4 7-24 0-4 3-8 0-4 8-29 3-16 3-9 0-4 4-13 0-4 4-13 0-4 3-9 0-4 3-9 0-4 8-31 0-4 6-23 0-4 4-14 0-4 4-14 0-4 6-23 0-4 4-14 0-4 4-14 0-4 3-10 3-19 8-31 0-4 10-42 0-4 4-13 0-4 3-9 0-4 7-24 0-3 4-10 0-3 6-12 3-1 5 6 6 17 1 7 3 7 0 4 4 11 0 4 2 5 1 7 14 53 0 4 3 8 0 4 4 12 0 4 3 8 1 7 6 21 0 3 11 38 0 4 2 4 1 7 8 25 0 4 3 7 0 3 7 22 0 3 4 10 0 3 6 18 0 3 8 22 0 3 10 29 0 3 3 6 1 6 2 3 1 6 11 29 0 3 2 3 4 14 8 19 0 3 2 3 5 16 3 5 0 3 3 5 7 21 3 5 1 5 5 11"/>
<path stroke="url(#g3_G5)" d="M1472 2042l7-8 3-1 3 0 4 2 0 1 4 3 0 2 1 0 2 3 0 2 1 0 3 5 0 2 4 7 0 2 2 3 1 5 6 14 2 8 3 6 0 3 6 16 0 3 8 23 0 3 3 7 3 13 4 10 0 3 7 21 0 3 7 22 0 3 4 10 0 3 3 8 3 14 8 24 0 3 3 8 3 14 8 24 1 7 2 4 3 14 4 10 0 3 4 11 0 3 6 18 4 17 4 10 0 3 3 7 3 14 4 10 0 3 4 10 0 3 3 7 0 3 3 7 0 3 4 10 0 3 4 10 0 3 6 18M2530 2573l6-13 0-3 4-8 10-29 10-24 0-3 3-5 1-5 4-8 0-3 3-5 0-3 2-3 1-5 4-8 1-5 5-11 8-24 7-16 0-3 7-16 0-3 7-16 0-3 7-16 0-3 4-8 0-3 2-3 13-38 2-3 0-3 2-3 2-8 7-17 0-3 6-14 0-3 4-8 0-3 3-6 2-8 2-3 0-3 3-6 0-3 2-3 0-2 2-3 0-3 3-6 2-8 2-3 0-3 3-6 0-3 4-8 0-3 2-3 0-2 2-3 0-3 6-14 0-3 4-8 0-3 3-5 1-5 2-3 1-5 3-5 4-12 1-2 1 0 2-6 3-4 0-2 2-3 1 0 0-2 1 0 3-4"/>
<path stroke="url(#g3_R5)" d="M1591 2566l3-9 0-3 4-10 0-3 4-10 0-3 10-29 0-3 3-6 5-18 2-3 1-6 2-3 2-8 2-3 7-21 8-16 3-9 1-2 1 0 1-4 3-5 1 0 0-2 2-3 1 0 1-3 10-12 9-5 9 0 0 1 3 0 0 1 6 3 0 1 5 4 2 4 1 0 2 4 1 0 0 2 1 0 2 3 2 5 1 0 8 16 0 2 11 23 4 13 3 5 0 3 7 16 0 3 3 6 0 3 4 8 0 3 3 6 12 38 3 6 0 3 3 6 0 3 3 6 1 6 2 3M2026 2549l2-4 0-3 11-36 1-7 2-4 0-4 2-4 2-10 4-12 0-3 3-8 3-15 7-23 4-19 3-8 0-4 4-11 0-4 7-23 3-15 4-11 0-4 4-11 0-3 3-8 3-14 8-23 0-3 7-21 3-5 0-3 4-7 3-9 1 0 3-7 1 0 2-4 6-5 1-2 3 0 0-1 4 0 0 1 4 1 0 1 6 5 1 3 1 0 2 3 0 2 1 0 8 17 1 5 4 8 0 3 2 3 5 15 0 3 11 33 0 4 3 7 1 7 2 4 0 4 8 25 0 4 6 19 0 4 4 11 1 7 3 8 3 15 3 8 5 22 2 4 5 22 2 4 0 4 4 11 0 3 4 11 4 18 2 4 1 7 5 15"/>
<path stroke="url(#g3_G4)" d="M1841 2573l5-12 1-5 2-3 1-5 4-8 0-3 5-11 2-8 3-5 0-3 4-8 0-3 3-5 0-3 2-3 1-5 4-8 0-3 7-16 0-3 7-16 0-3 7-16 0-3 7-16 0-3 4-8 0-3 5-11 2-8 7-16 0-3 6-14 0-3 4-8 5-16 2-3 0-3 2-3 5-16 4-8 0-3 6-14 0-3 8-19 0-3 2-3 2-8 2-3 0-3 4-8 0-3 4-8 3-11 6-14 9-27 2-3 0-3 4-8 1-5 3-5 0-3 3-5 1-5 2-3 4-12 4-7 3-9 5-10 2-2 0-2 10-14 5-3 6 0 2 1 3 2 4 6 2 1 0 2 2 2 11 23 1 5 3 5 0 3 2 3 2 8 2 3 2 8 3 6 0 3 3 6 3 13 4 9 0 3 4 10 0 3 14 43 0 3 3 7 3 13 4 10 0 3 7 21 3 14 8 23 3 14 3 7 4 17 4 10 3 14 7 20 0 3 7 21 0 3 3 7 0 3 4 10 0 3 7 21 0 3 3 7 0 3 4 10 0 3 4 10 0 3 17 52"/>
<path stroke="url(#g3_R4)" d="M1605 2576l1-5 9-20 1-5 3-5 1-5 2-3 8-22 3-5 0-3 3-5 1-5 7-15 0-3 3-5 4-13 3-5 0-3 3-5 7-21 4-8 0-3 3-5 5-16 2-3 0-3 4-8 0-3 2-3 2-5 0-3 6-14 0-3 4-8 0-3 3-6 8-26 3-6 0-3 7-18 0-3 3-6 1-6 3-6 1-6 3-6 0-3 6-16 0-3 4-9 0-3 7-19 0-3 7-19 0-3 3-6 1-6 3-6 0-3 3-6 0-3 3-6 2-8 2-3 7-21 7-14 1 0 0-2 6-9 3-1 1-2 7 0 0 1 3 1 4 5 1 3 1 0 12 28 0 3 3 6 1 6 3 7 0 3 3 7 0 3 4 11 0 3 4 11 0 4 6 19 0 4 3 8 2 11 3 8 0 4 3 8 0 4 11 40 0 4 6 21 0 4 4 12 0 4 4 12 0 4 6 21 0 4 3 8 1 7 7 25 0 4 7 24 0 4 3 8 8 35 3 8 1 7 3 8 0 4 6 20M2311 2553l1 0 0-1 10 0 0 1 3 0 0 1 6 2 0 1 3 2"/>
<path stroke="url(#g3_R3)" d="M1517 2569l7-21 4-8 0-3 3-5 4-13 3-5 0-3 4-7 0-2 10-22 0-2 1 0 3-6 0-2 4-6 0-2 2-2 3-7 1 0 0-2 2-3 1 0 5-9 2-1 1-3 1 0 7-8 10-5 9 0 8 4 0 1 7 5 6 9 1 0 0 2 1 0 2 4 1 0 0 2 2 2 3 7 1 0 0 2 4 6 0 2 10 21 0 2 8 18 1 5 2 3 0 3 2 3 10 30M2149 2577l5-12 1-5 2-3 2-8 2-3 2-8 2-3 0-3 3-6 0-3 4-8 0-3 3-6 1-6 6-15 0-3 8-22 0-3 3-6 0-3 11-33 0-3 6-18 4-17 4-10 0-4 3-7 0-4 2-4 1-7 8-26 0-3 6-20 0-4 3-8 2-11 3-8 0-4 6-21 0-4 8-29 0-4 10-39 0-4 7-27 0-4 11-46 0-4 3-10 3-18 8-32 3-18 7-23 2 0 2 2 0 3 3 7 0 4 3 9 0 4 8 33 6 34 8 34 0 4 3 11 4 24 7 29 0 5 3 10 3 19 7 29 4 23 3 10 0 5 8 32 0 4 10 42 0 4 4 13 3 18 3 9 0 4 4 13 0 4 10 39 0 4 4 12 0 4 4 12 0 4 2 5 5 23 3 8 1 7M1840 2562l1 0 0-1 4 0 0-1 11 1M2238 2565l0-3 8-25 1-7 2-4 0-4 3-8 0-3 11-37 3-15 4-11 0-4 4-11 3-15 3-8 1-7 2-4 9-37 2-4 0-4 4-11 0-3 7-23 1-7 2-4 0-4 8-25 0-3 10-33 0-3 10-30 0-3 12-36 2-3 0-3 16-36 1 0 5-9 1 0 5-6 7-3 3 0 0 1 3 0 0 1 2 0 0 1 3 1 0 1 4 3 5 8 1 0 0 2 1 0 2 3 5 9 0 2 1 0 2 4 1 4 1 0 1 2 0 2 11 23 3 10 4 7 0 3 4 7 0 3 3 5 4 13 3 5 0 3 3 5 1 5 10 24 1 5 3 5 0 3 3 5 0 3 3 5 0 3 8 18 7 21 3 5 0 3 3 5 7 21 8 18 1 5 9 21 1 5 3 5 4 13 6 13 1 5 3 5 0 3 3 5 4 13 3 5 0 3 4 7 0 3 3 5 0 3 3 5 0 3 3 5 1 5 2 3 8 23 8 19"/>
<path stroke="url(#g3_R2)" d="M1472 2024l7 19 3 14 7 22 1 7 3 8 0 4 3 8 0 4 4 11 0 4 10 35 0 4 4 11 0 4 4 11 3 15 7 22 0 4 3 7 4 18 3 7 0 4 4 10 4 17 10 30 0 3 4 10 0 3 3 7 3 13 3 6 1 6 4 9 0 3 6 16 0 3 2 3 3 11 3 6 0 3 2 3 5 17 2 3 2 8 6 14 0 3 7 16 0 3 3 5 1 5 10 24 1 5 3 5 1 5 4 8 1 5 4 7 1 5M2102 2560l0-2 10-22 0-2 4-7 0-2 2-4 1 0 1-4 6-10 0-2 1 0 9-15 1 0 3-5 1 0 5-6 4-2 1-2 2 0 0-1 6-2 8 0 1 1 3 0 0 1 2 0 0 1 2 0 1 2 2 0 0 1 12 11 0 2 2 1 1 3 1 0 3 6 1 0 1 3 1 0 0 2 4 5 0 2 2 2 1 4 1 0 2 6 1 0 3 6 0 2 4 6 0 2 10 21 1 5 3 5 1 4M2519 2519l3-8 0-3 10-37 0-4 4-12 0-4 4-13 6-29 8-31 0-4 3-9 3-18 8-31 0-4 10-42 0-4 10-43 4-23 4-14 0-4 3-10 0-4 3-10 0-4 4-14 0-4 4-14 0-4 6-26 4-12 0-4 4-11 0-3 3-7 0-3 2-3 1-5 3-5 1 0 1-3 5-1 4 4 0 2 1 0 3 6 7 21 0 4 2 4 1 7 8 28 0 4 3 9 0 4 1 1 2 12 4 13 0 4 4 13 3 17 3 9 0 4 4 13 0 4 4 13 6 29 4 13 0 4 4 12 0 4 1 1 6 27 3 8 0 4 3 8 1 7 10 37M1830 2575l6-18 0-3 4-10 0-3 3-7 3-14 4-10 0-3 6-18 1-7 3-7 0-4 3-7 1-7 7-22 0-4 10-34 7-31 4-12 0-3 10-37 0-4 4-12 0-4 7-24 0-4 2-5 2-11 3-8 0-4 4-12 0-4 3-8 0-3 3-9 1-7 2-4 1-7 4-11 0-3 10-32 7-15 0-2 1-2 1 0 2-5 7-6 6 1 8 10 0 2 6 12 0 3 4 8 0 3 4 10 0 3 3 8 0 3 3 8 1 7 3 8 0 3 7 25 3 17 4 12 0 4 4 13 0 4 3 9 3 17 8 30 0 4 3 9 3 17 8 30 0 4 6 21 0 4 2 5 16 67 7 23 0 4 13 45M2354 2569l8-23 2-3 0-3 3-5 1-5 3-5 1-5 3-5 3-10 8-16 3-9 1 0 2-6 4-6 0-2 1 0 3-5 0-2 1 0 1-3 1 0 0-2 1 0 1-3 1 0 1-3 1 0 6-9 1 0 5-6 10-5 10 0 8 4 0 1 10 9 1 3 1 0 4 7 1 0 19 38 3 10 3 5 0 3 3 5 1 5 4 8 0 3 2 3 5 17 2 3"/>
<path stroke="url(#g3_R1)" d="M1503 2572l11-37 0-3 4-11 0-3 6-19 1-7 3-7 0-4 3-7 1-7 6-19 0-3 4-11 4-17 2-4 1-7 3-7 0-3 11-34 0-3 3-7 0-3 4-9 0-3 4-9 0-3 3-6 0-3 6-13 1-5 9-19 1 0 1-4 1 0 2-3 0-2 2-1 2-4 1 0 3-4 3-2 2 0 0-1 9 0 0 1 2 0 0 1 3 1 0 1 5 4 0 2 2 1 12 22 0 2 6 13 1 5 3 5 0 3 3 6 7 21 0 3 8 22 0 3 6 18 0 3 4 10 4 17 3 7 0 4 3 7 0 3 4 11 4 17 3 7 0 3 7 22 0 3 4 10 0 3 3 7 3 14 10 30M1970 2560l10-30 0-3 10-30 0-3 4-9 0-3 10-30 0-3 3-6 1-6 6-16 0-3 3-6 1-6 2-3 3-11 2-3 0-3 7-16 1-5 3-5 0-2 3-5 3-9 3-4 1-4 3-5 1 0 0-2 1 0 1-3 1 0 0-2 2-1 1-3 1 0 7-8 2 0 0-1 5-2 5 0 5 2 0 1 2 0 0 1 8 7 1 3 1 0 5 8 0 2 1 0 2 5 1 0 0 2 10 21 22 63 0 3 10 30 0 3 4 10 0 3 6 18 4 17 4 10 0 3 8 28M2666 2575l10-30 0-3 7-21 0-3 11-36 0-3 3-8 3-14 4-11 0-4 4-11 3-15 3-8 0-4 4-11 0-4 3-8 11-45M1486 2570l0-3 4-9 3-13 14-41 3-13 8-21 3-13 3-6 0-3 14-40 0-3 3-6 9-29 2-3 1-6 2-3 2-8 3-6 0-3 6-14 0-3 4-8 1-5 2-3 1-5 2-3 1-5 2-3 1-5 2-3 6-17 6-12 0-3 7-15 1 0 3-9 9-18 1 0 1-2 0-2 2-2 2-5 1 0 2-5 2-3 1 0 0-2 1 0 2-4 1 0 0-2 2-1 1-3 3-2 1-3 1 0 6-7 3-1 0-1 4-2 0-1 2 0 0-1 6-2 10 0 6 2 0 1 6 3 1 2 7 5 10 14 1 0 0 2 1 0 8 13 5 9 0 2 1 0 2 4 0 2 1 0 2 4 1 4 1 0 2 4 0 2 4 7 0 2 3 5 3 9 8 16 0 3 3 5 8 23 3 5 0 3 3 5 0 3 2 3 2 8 2 3 2 8 6 14 0 3 3 6 0 3 2 3 0 2 2 3 0 3 3 6 7 21 0 3 2 3 9 27 0 3 3 6 0 3 8 21 3 13 3 6 0 3 8 22 0 3 6 16 0 3 8 22M2253 2562l9-4 12 0 0 1 3 0 0 1 2 0 0 1 5 2 0 1 4 2 3 4M2652 2563l6-21 0-3 3-8 1-7 4-11 0-4 2-4 1-7 3-8 0-4 8-26 6-27 7-23 7-31 3-8 2-11 3-8 6-27 3-8 2-11 3-8 0-3 10-37"/>
<path stroke="url(#g3_R0)" d="M1556 2561l0-3 7-19 0-3 3-7 1-6 3-6 0-3 4-10 3-13 3-6 0-3 4-10 0-3 4-9 0-3 6-16 0-3 3-6 1-6 3-6 2-8 2-3 0-3 6-14 1-5 7-15 0-3 7-13 1-4 3-4 0-2 1 0 5-10 1 0 3-5 7-6 1-2 6-2 0-1 7 0 0 1 6 2 1 2 4 2 6 8 1 3 1 0 1 3 1 0 0 2 3 5 1 0 0 2 9 18 1 5 4 7 0 3 6 14 0 3 4 8 0 3 4 9 0 3 6 16 0 3 8 23 0 3 6 17 4 17 4 10 0 3 6 18 4 17M2247 2575l9-27 0-3 4-10 0-3 3-7 3-14 4-10 0-3 4-11 0-3 3-8 3-14 4-11 0-4 7-22 0-4 3-8 0-3 8-27 11-47 3-8 0-4 17-65 0-4 3-8 0-4 8-27 0-4 3-8 0-4 3-8 0-3 8-25 0-3 3-7 1-6 2-3 0-3 4-8 0-3 4-7 0-2 1 0 4-8 1 0 4-5 6 0 0 1 3 1 2 4 2 1 8 17 0 3 2 3 5 15 0 3 4 10 0 4 2 4 1 7 3 8 0 4 3 8 1 7 7 25 0 4 11 43 6 26 0 4 4 13 0 4 4 13 6 29 4 13 0 4 10 38 0 4 4 12 0 4 4 12 0 4 3 8 0 4 3 8 0 4 11 38 0 4 2 4 1 7 7 22"/>
<path stroke="#ff0000" d="M1793 2533h0M2678 2565h0M2681 2555h0M1697 2566h0M1995 2533h0M2000 2547h0M2277 2563h0M2278 2561h0M2279 2559h0M2283 2551h0M2285 2548h0M2394 2515h0M1524 2550h0M1529 2563h0M2051 2573h0M2064 2556h0M2064 2555h0M2070 2549h0M2113 2536h0M2139 2556h0M2142 2561h0M1987 2562h0M1995 2546h0M2107 2525h0M2113 2535h0M2126 2559h0M2134 2572h0M2707 2555h0M1769 2575h0M1770 2570h0M1832 2572h0M1833 2567h0M1840 2552h0M1555 2570h0M1556 2567h0M1557 2564h0M1559 2559h0M2138 2572h0M2145 2553h0M1492 2562h0M1862 2557h0M1657 2531h0M1991 2549h0M2522 2573h0M2524 2572h0M2530 2570h0M2532 2569h0M2533 2569h0M2534 2569h0M2536 2569h0M2537 2569h0M2541 2570h0M2554 2574h0M2555 2575h0M1874 2572h0M1881 2554h0M1954 2574h0M1960 2559h0M1964 2551h0M1967 2542h0M1666 2531h0M2220 2562h0M2483 2558h0M2725 2552h0M1856 2528h0M1861 2543h0M2420 2537h0M2420 2534h0M2672 2558h0M2390 2550h0M2391 2553h0M2065 2573h0M2068 2566h0M2069 2563h0M2074 2549h0M1500 2564h0M1502 2567h0M2098 2533h0M2635 2573h0M2640 2563h0M2643 2558h0M2644 2557h0M2645 2554h0M2646 2552h0M2648 2549h0M2654 2540h0M1648 2553h0M1651 2547h0M1769 2538h0M2312 2572h0M2314 2567h0M2318 2556h0M2330 2521h0M2151 2552h0M2154 2541h0M1514 2573h0M1522 2553h0M1692 2553h0M1699 2566h0M1701 2572h0M1844 2565h0M1847 2559h0M2489 2572h0M2499 2545h0M1664 2529h0M1672 2548h0M1678 2565h0M1917 2544h0M1928 2516h0M2700 2573h0M2700 2570h0M2702 2565h0M1860 2563h0M2097 2557h0M2098 2553h0M2099 2551h0M2532 2568h0M2537 2556h0M2540 2547h0M2546 2531h0M2549 2524h0M2616 2567h0M2618 2563h0M2630 2532h0M2654 2567h0M1851 2565h0M1854 2561h0M1856 2560h0M1867 2551h0M1912 2554h0M1916 2557h0M1924 2564h0M1927 2568h0M1841 2573h0M1843 2568h0M1846 2561h0M1849 2552h0M1852 2544h0M2215 2531h0M2218 2540h0M1695 2573h0M1696 2572h0M1702 2568h0M1714 2564h0M1714 2564h0M1722 2564h0M1723 2564h0M1728 2565h0M1736 2569h0M2429 2561h0M1702 2520h0M2256 2575h0M2260 2564h0M2263 2554h0M2504 2547h0M2508 2556h0M2511 2563h0M2029 2568h0M2030 2566h0M2697 2561h0M2163 2563h0M2595 2561h0M2626 2530h0M2634 2529h0M2642 2532h0M2662 2549h0M2669 2559h0M2039 2557h0M2644 2561h0M2609 2559h0M2610 2562h0M1557 2557h0M1573 2507h0M1574 2501h0M1581 2479h0M1586 2465h0M1590 2452h0M1601 2420h0M1635 2339h0M1706 2400h0M1714 2423h0M1728 2468h0M1732 2479h0M1740 2506h0M1741 2509h0M1746 2527h0M1748 2533h0M2254 2553h0M2260 2535h0M2270 2499h0M2273 2490h0M2274 2484h0M2482 2450h0M2485 2464h0M2491 2488h0M2493 2495h0M2496 2505h0M2505 2541h0M2510 2557h0M1522 2555h0M1524 2550h0M1524 2548h0M1661 2519h0M1663 2523h0M2154 2563h0M2163 2538h0M2165 2533h0M2171 2516h0M1507 2558h0M1512 2540h0M1513 2536h0M1722 2545h0M1725 2554h0M1726 2557h0M1972 2555h0M1973 2549h0M1985 2513h0M2006 2445h0M2156 2500h0M2165 2531h0M2168 2540h0M2672 2555h0M2674 2549h0M2678 2537h0M2693 2485h0M2570 2567h0M2574 2558h0M2581 2538h0M2453 2560h0M1907 2552h0M1908 2553h0M1918 2558h0M1842 2561h0M1844 2561h0M1845 2561h0M1848 2560h0M1852 2560h0M2239 2559h0M2240 2556h0M2555 2499h0M2568 2533h0M2572 2542h0M2573 2545h0M2574 2549h0M1769 2550h0M1799 2531h0M1829 2553h0M1840 2570h0M2470 2563h0M1595 2551h0M1601 2534h0M1629 2535h0M1630 2537h0M1634 2548h0M2106 2550h0M2108 2544h0M2110 2540h0M2120 2517h0M2126 2505h0M2218 2539h0M2228 2563h0M2232 2572h0M2232 2574h0M1925 2560h0M1930 2545h0M1832 2570h0M1835 2558h0M1840 2541h0M1842 2535h0M2091 2550h0M2360 2552h0M2363 2545h0M2371 2525h0M2372 2522h0M2378 2507h0M2481 2484h0M2499 2531h0M2501 2536h0M2505 2549h0M2416 2552h0M1616 2546h0M2317 2552h0M2332 2557h0M2333 2558h0M1489 2560h0M1498 2530h0M1500 2524h0M1813 2476h0M1825 2511h0M1826 2514h0M1827 2519h0M1838 2552h0M1839 2555h0M2253 2562h0M2258 2560h0M2264 2558h0M2266 2558h0M2271 2558h0M2273 2558h0M2282 2562h0M2285 2564h0M2286 2565h0M2668 2503h0"/>
<path stroke="#ff4700" d="M2679 2563h0M2686 2541h0M1694 2573h0M1695 2571h0M1712 2524h0M2282 2553h0M1521 2543h0M1526 2556h0M2052 2571h0M2094 2534h0M2104 2533h0M2130 2547h0M2134 2552h0M2135 2553h0M2147 2566h0M1983 2572h0M2108 2527h0M2418 2513h0M1772 2566h0M1778 2551h0M1788 2527h0M1832 2569h0M1846 2536h0M2140 2565h0M2344 2567h0M1851 2527h0M1861 2554h0M1996 2562h0M1997 2564h0M2545 2570h0M2246 2528h0M1958 2564h0M1959 2561h0M1659 2512h0M1661 2517h0M2482 2556h0M2723 2556h0M2731 2538h0M2408 2571h0M2667 2544h0M2008 2566h0M2019 2532h0M2020 2530h0M2385 2535h0M1487 2544h0M1498 2561h0M1805 2513h0M2106 2556h0M2107 2559h0M2636 2571h0M1640 2568h0M1666 2523h0M1766 2533h0M2148 2563h0M2149 2557h0M2520 2545h0M2521 2548h0M1685 2536h0M1698 2564h0M1965 2514h0M1850 2555h0M1852 2552h0M1853 2551h0M1868 2531h0M2490 2568h0M2493 2561h0M1675 2557h0M1679 2567h0M2705 2558h0M2098 2555h0M2107 2532h0M2304 2541h0M1644 2529h0M2554 2510h0M2613 2576h0M2623 2552h0M2626 2543h0M2630 2534h0M1859 2557h0M1860 2555h0M1883 2544h0M1911 2553h0M2571 2539h0M1844 2566h0M1858 2528h0M2210 2515h0M1698 2571h0M1713 2565h0M1721 2564h0M1742 2573h0M1743 2573h0M2101 2503h0M2428 2557h0M2428 2559h0M2431 2566h0M2465 2550h0M2471 2566h0M1493 2547h0M1490 2555h0M2686 2562h0M2162 2561h0M2659 2546h0M2678 2574h0M2637 2541h0M2426 2559h0M2602 2538h0M2563 2550h0M1614 2384h0M1689 2356h0M2257 2544h0M2279 2468h0M2289 2430h0M2304 2373h0M2442 2284h0M2469 2396h0M1520 2560h0M1662 2521h0M2168 2526h0M1981 2524h0M2153 2488h0M1994 2538h0M1911 2554h0M2336 2571h0M1770 2549h0M1834 2560h0M1840 2569h0M2462 2543h0M1684 2551h0M1604 2470h0M1632 2544h0M2112 2534h0M2120 2519h0M2185 2484h0M2205 2514h0M2222 2549h0M2224 2553h0M2526 2492h0M2361 2550h0M2496 2521h0M1927 2515h0M2312 2552h0M2324 2553h0M2331 2557h0M1505 2508h0M2255 2561h0M2260 2559h0M2666 2513h0"/>
<path stroke="#ff8e00" d="M2680 2560h0M2685 2546h0M2689 2534h0M1699 2561h0M1707 2537h0M2280 2558h0M2059 2561h0M2121 2540h0M2127 2545h0M2140 2559h0M2148 2567h0M1986 2566h0M2011 2518h0M2014 2513h0M2112 2532h0M2115 2538h0M2124 2554h0M2132 2568h0M2691 2511h0M2693 2516h0M1770 2572h0M1787 2529h0M1831 2574h0M1834 2565h0M1849 2527h0M1561 2551h0M1934 2538h0M1940 2556h0M2140 2567h0M2143 2557h0M2153 2531h0M2324 2521h0M2338 2553h0M1655 2537h0M1658 2525h0M1664 2507h0M1992 2551h0M2528 2570h0M1955 2572h0M1958 2566h0M1961 2557h0M1966 2544h0M1972 2529h0M2226 2544h0M2728 2544h0M2730 2540h0M2411 2563h0M2670 2551h0M2014 2545h0M2024 2516h0M2388 2545h0M1490 2549h0M2644 2555h0M2647 2551h0M2663 2529h0M2669 2522h0M2700 2509h0M2729 2527h0M1646 2556h0M1657 2538h0M2316 2563h0M2610 2520h0M2615 2533h0M2147 2566h0M2519 2543h0M2526 2562h0M1524 2546h0M1678 2524h0M1693 2555h0M1859 2542h0M1869 2529h0M1942 2533h0M2502 2537h0M1674 2555h0M2141 2507h0M2703 2563h0M2708 2547h0M1602 2549h0M1852 2542h0M1857 2556h0M2532 2570h0M2542 2542h0M2543 2540h0M2614 2574h0M2620 2559h0M2638 2527h0M2652 2560h0M1846 2571h0M1862 2554h0M1881 2544h0M1885 2544h0M1897 2545h0M1910 2552h0M1915 2556h0M2251 2543h0M2556 2500h0M1846 2559h0M2219 2545h0M1700 2570h0M1703 2568h0M1706 2567h0M1728 2565h0M1732 2567h0M1734 2568h0M2106 2561h0M2112 2541h0M2461 2539h0M2463 2546h0M1496 2540h0M1497 2536h0M1504 2520h0M1700 2515h0M2265 2548h0M2500 2536h0M1569 2529h0M1579 2543h0M1584 2553h0M1496 2556h0M2160 2554h0M2162 2558h0M2614 2537h0M1921 2520h0M2265 2517h0M2282 2455h0M2501 2525h0M1555 2473h0M1666 2533h0M2159 2551h0M2167 2528h0M1518 2521h0M1526 2489h0M1710 2504h0M1711 2507h0M1721 2543h0M1728 2566h0M1982 2521h0M1984 2516h0M1992 2490h0M2690 2495h0M2700 2457h0M2582 2536h0M1897 2552h0M2556 2501h0M1594 2554h0M1605 2472h0M1638 2559h0M2135 2492h0M2189 2488h0M2211 2526h0M2151 2566h0M1846 2520h0M2075 2491h0M2085 2531h0M2355 2566h0M2470 2461h0M2492 2512h0M2493 2514h0M1621 2535h0M1510 2491h0M1517 2472h0M1808 2460h0M1816 2484h0M1819 2495h0"/>
<path stroke="#ffd500" d="M1792 2531h0M1795 2539h0M2691 2529h0M1705 2544h0M1719 2504h0M2275 2566h0M2302 2520h0M2389 2507h0M2411 2544h0M2054 2569h0M2056 2566h0M2056 2565h0M2062 2558h0M2072 2546h0M2078 2541h0M2112 2535h0M2128 2546h0M2141 2560h0M2146 2565h0M2462 2538h0M2470 2512h0M1990 2557h0M1992 2553h0M1993 2552h0M1994 2550h0M1997 2543h0M2002 2533h0M2093 2506h0M2128 2562h0M2130 2565h0M2134 2573h0M2701 2541h0M1779 2549h0M2101 2492h0M1839 2554h0M1560 2554h0M1563 2546h0M1924 2507h0M1589 2531h0M2316 2503h0M2329 2531h0M1495 2554h0M1506 2517h0M1510 2505h0M1845 2511h0M1865 2563h0M1656 2534h0M1984 2531h0M1986 2538h0M1990 2547h0M2532 2570h0M2538 2569h0M2542 2570h0M2550 2572h0M2551 2572h0M1888 2532h0M2250 2542h0M1956 2570h0M1970 2535h0M1971 2533h0M1478 2529h0M1669 2538h0M2216 2575h0M2484 2560h0M2413 2558h0M2421 2531h0M2664 2534h0M2016 2540h0M2017 2537h0M2383 2529h0M2070 2561h0M2443 2541h0M1491 2550h0M1495 2555h0M1496 2558h0M1506 2574h0M2094 2523h0M2642 2560h0M2658 2534h0M2673 2518h0M2675 2517h0M2681 2513h0M2683 2512h0M2705 2510h0M2720 2518h0M2731 2528h0M1653 2544h0M1772 2544h0M2317 2558h0M2319 2553h0M2617 2541h0M2618 2544h0M2526 2559h0M1517 2566h0M1520 2557h0M1686 2540h0M1695 2559h0M1696 2561h0M1544 2528h0M1843 2566h0M1951 2545h0M2508 2521h0M1670 2544h0M1672 2550h0M1920 2537h0M2146 2520h0M2151 2536h0M2707 2553h0M2718 2519h0M1612 2520h0M1843 2519h0M1858 2559h0M2106 2534h0M2112 2522h0M2531 2572h0M2617 2565h0M2625 2545h0M1910 2552h0M1932 2575h0M1933 2576h0M2252 2540h0M2563 2518h0M2570 2537h0M2573 2543h0M1857 2530h0M1865 2509h0M2199 2480h0M2202 2489h0M2218 2543h0M1705 2567h0M1719 2564h0M1720 2564h0M1744 2574h0M1745 2575h0M2454 2521h0M1698 2507h0M2498 2529h0M2509 2559h0M1571 2531h0M2027 2575h0M1933 2528h0M1835 2509h0M2597 2557h0M2599 2555h0M2601 2552h0M2619 2533h0M2636 2530h0M2652 2539h0M2655 2541h0M2016 2496h0M2525 2521h0M2633 2533h0M2434 2533h0M2345 2547h0M1739 2503h0M2431 2236h0M1529 2536h0M1658 2511h0M2189 2463h0M2428 2491h0M1718 2531h0M1997 2473h0M2089 2548h0M2571 2565h0M1911 2549h0M2449 2568h0M2344 2548h0M2685 2541h0M2252 2511h0M2580 2563h0M1781 2537h0M1827 2551h0M1830 2554h0M2168 2531h0M2444 2496h0M2451 2515h0M2458 2534h0M1685 2549h0M2252 2524h0M1618 2508h0M1636 2553h0M2150 2476h0M2187 2486h0M2195 2497h0M2210 2523h0M2216 2535h0M2225 2557h0M2519 2519h0M2521 2513h0M2523 2506h0M2524 2502h0M1843 2532h0M1854 2496h0M2084 2524h0M2359 2554h0M2397 2466h0M2478 2478h0M2326 2557h0M2364 2511h0M1613 2555h0M1929 2521h0M2328 2555h0M1497 2533h0M1777 2368h0M1814 2478h0M1821 2500h0M1824 2508h0M2274 2559h0"/>
<path stroke="#e3ff00" d="M1791 2528h0M2699 2508h0M1696 2568h0M1698 2564h0M1701 2554h0M1702 2551h0M1709 2532h0M1988 2512h0M1998 2541h0M2274 2568h0M2276 2564h0M2287 2545h0M2288 2542h0M2290 2539h0M2294 2533h0M2298 2526h0M2363 2483h0M2374 2490h0M2397 2519h0M1516 2529h0M1522 2545h0M2060 2560h0M2067 2552h0M2069 2550h0M2089 2535h0M2107 2534h0M2117 2538h0M2133 2550h0M2145 2564h0M2153 2575h0M2467 2524h0M1984 2570h0M1991 2555h0M1999 2539h0M2015 2512h0M2016 2510h0M2020 2506h0M2028 2496h0M2028 2496h0M2042 2485h0M2076 2489h0M2086 2498h0M2097 2510h0M2110 2530h0M2117 2541h0M2118 2543h0M2127 2560h0M2690 2509h0M2700 2538h0M1789 2524h0M1795 2509h0M1847 2532h0M1562 2548h0M1570 2524h0M1924 2510h0M1586 2521h0M1594 2545h0M2141 2562h0M2147 2548h0M2156 2522h0M2163 2504h0M2336 2547h0M2345 2569h0M2592 2538h0M2594 2533h0M2596 2526h0M1493 2559h0M1846 2514h0M1860 2550h0M1662 2513h0M1980 2520h0M1983 2529h0M2529 2570h0M1885 2542h0M1966 2546h0M1978 2516h0M1981 2507h0M1479 2527h0M1668 2536h0M2469 2520h0M2476 2539h0M2476 2542h0M2480 2551h0M2484 2563h0M2727 2548h0M1656 2558h0M2417 2544h0M2662 2530h0M2665 2537h0M2009 2561h0M2378 2514h0M2066 2570h0M2084 2522h0M1484 2540h0M1489 2546h0M2104 2549h0M2666 2526h0M2670 2521h0M2672 2520h0M2694 2509h0M2712 2513h0M2716 2515h0M2727 2524h0M2728 2525h0M1641 2566h0M1682 2503h0M2603 2497h0M2607 2509h0M2158 2530h0M2512 2522h0M2525 2557h0M1518 2562h0M1700 2568h0M2223 2526h0M1862 2537h0M1925 2516h0M1929 2519h0M1932 2522h0M1940 2531h0M1948 2541h0M1662 2524h0M1673 2552h0M1916 2546h0M1929 2513h0M2152 2538h0M2720 2514h0M2725 2499h0M1595 2570h0M1598 2562h0M1851 2540h0M1856 2554h0M2096 2560h0M2104 2541h0M2300 2528h0M2635 2521h0M2636 2519h0M2647 2489h0M2630 2505h0M2634 2516h0M2638 2525h0M1854 2562h0M1874 2547h0M1887 2544h0M1889 2544h0M1894 2544h0M1895 2545h0M1906 2549h0M1914 2555h0M2255 2529h0M2256 2526h0M2266 2494h0M1847 2556h0M1882 2464h0M2212 2523h0M1697 2572h0M1700 2569h0M1708 2566h0M1716 2564h0M1718 2564h0M1731 2566h0M2090 2541h0M2099 2509h0M2460 2537h0M2464 2548h0M2466 2552h0M2470 2561h0M1492 2549h0M1687 2478h0M2269 2535h0M2273 2525h0M1501 2544h0M1490 2554h0M1924 2555h0M1937 2517h0M2699 2561h0M2596 2560h0M2596 2559h0M2630 2529h0M2660 2547h0M2670 2560h0M2027 2525h0M2037 2552h0M2643 2556h0M1929 2545h0M2428 2551h0M2430 2545h0M2262 2526h0M2509 2554h0M1531 2532h0M1540 2507h0M1646 2481h0M2182 2482h0M2430 2498h0M1987 2504h0M1990 2496h0M2086 2315h0M2129 2410h0M2157 2503h0M2669 2566h0M2695 2476h0M1669 2534h0M2075 2509h0M2574 2555h0M2588 2516h0M1587 2495h0M1591 2512h0M1996 2542h0M2451 2564h0M1909 2553h0M2338 2566h0M1847 2560h0M2238 2562h0M2244 2543h0M2567 2529h0M1784 2535h0M1797 2531h0M1798 2531h0M1825 2547h0M2167 2534h0M2170 2521h0M2468 2558h0M2356 2540h0M1600 2537h0M1604 2523h0M1606 2517h0M1607 2514h0M1749 2487h0M2027 2548h0M1624 2524h0M1636 2555h0M1637 2557h0M2132 2497h0M2176 2476h0M2201 2507h0M2204 2511h0M2212 2528h0M2142 2536h0M2398 2546h0M2579 2513h0M1837 2553h0M1868 2443h0M1872 2430h0M2054 2406h0M2402 2456h0M2427 2430h0M2480 2482h0M2486 2497h0M2491 2510h0M2495 2519h0M1720 2572h0M1721 2569h0M1729 2548h0M1730 2546h0M2336 2540h0M1625 2524h0M1641 2484h0M1928 2518h0M1544 2390h0M1830 2528h0M2277 2560h0M2283 2563h0M2665 2516h0M2679 2463h0"/>
<path stroke="#9cff00" d="M2301 2522h0M2310 2508h0M2378 2494h0M2401 2526h0M2406 2534h0M1510 2513h0M1519 2538h0M1524 2552h0M2063 2557h0M2098 2533h0M2098 2533h0M2129 2546h0M2151 2572h0M2476 2492h0M1985 2568h0M2017 2509h0M2089 2501h0M2090 2502h0M2100 2515h0M2125 2555h0M2687 2501h0M2704 2548h0M1785 2533h0M2107 2512h0M1830 2576h0M2156 2507h0M2158 2513h0M2160 2519h0M2518 2551h0M1932 2533h0M1574 2486h0M2144 2555h0M2154 2529h0M2602 2508h0M2614 2475h0M1496 2551h0M1508 2511h0M1848 2520h0M1654 2539h0M1985 2534h0M1993 2553h0M2526 2571h0M1877 2563h0M1878 2561h0M1879 2558h0M1880 2556h0M1883 2546h0M1890 2528h0M1894 2518h0M1895 2516h0M2237 2500h0M1975 2522h0M1992 2480h0M2300 2508h0M1476 2533h0M1487 2509h0M1658 2510h0M2228 2538h0M2234 2520h0M2460 2495h0M2729 2542h0M1659 2549h0M2422 2529h0M2432 2499h0M2652 2500h0M2658 2520h0M2008 2564h0M2010 2558h0M2013 2551h0M2015 2543h0M2386 2537h0M2071 2556h0M2082 2527h0M2087 2513h0M2436 2518h0M2438 2524h0M2445 2546h0M1485 2541h0M1499 2562h0M1804 2516h0M2083 2492h0M2086 2501h0M2089 2509h0M2092 2519h0M2668 2523h0M2680 2513h0M2693 2509h0M2698 2509h0M2709 2511h0M1650 2548h0M1660 2532h0M1661 2531h0M1662 2530h0M1669 2519h0M1670 2518h0M1702 2487h0M1738 2495h0M2330 2524h0M2518 2538h0M2523 2552h0M1533 2525h0M1537 2517h0M1555 2479h0M1661 2490h0M1688 2544h0M2224 2531h0M2226 2536h0M1546 2533h0M1917 2511h0M1921 2513h0M1926 2517h0M1927 2517h0M1931 2521h0M1944 2537h0M1949 2543h0M1950 2544h0M1653 2502h0M1666 2535h0M1924 2525h0M1930 2509h0M1931 2506h0M1938 2487h0M2142 2510h0M2153 2541h0M2714 2532h0M2719 2517h0M2728 2489h0M1602 2552h0M1615 2512h0M1848 2533h0M1855 2552h0M1859 2561h0M2101 2547h0M2124 2492h0M1625 2466h0M2544 2538h0M2550 2521h0M2558 2500h0M2562 2489h0M1677 2474h0M2305 2526h0M2618 2476h0M2625 2494h0M2644 2543h0M2647 2549h0M1876 2546h0M1886 2544h0M1926 2567h0M1928 2569h0M1850 2549h0M1851 2547h0M1859 2526h0M1874 2483h0M1711 2565h0M1727 2565h0M2088 2547h0M2411 2515h0M2420 2540h0M2111 2544h0M2439 2483h0M2441 2488h0M2449 2510h0M2456 2526h0M2462 2541h0M2470 2563h0M1507 2512h0M2270 2533h0M2481 2484h0M2490 2508h0M2494 2520h0M2499 2534h0M2503 2543h0M1496 2553h0M1580 2545h0M1491 2555h0M1924 2557h0M2265 2531h0M2148 2521h0M2150 2528h0M2611 2540h0M2621 2532h0M2652 2538h0M1740 2543h0M1741 2540h0M1748 2509h0M2518 2538h0M2630 2525h0M2433 2536h0M1611 2534h0M1521 2557h0M1534 2523h0M1539 2509h0M1580 2433h0M1660 2516h0M2162 2543h0M2177 2498h0M2182 2485h0M2425 2477h0M1675 2383h0M1980 2530h0M2022 2395h0M2111 2359h0M2143 2455h0M2168 2543h0M2667 2572h0M1659 2497h0M1668 2530h0M1951 2527h0M2592 2506h0M1972 2511h0M2447 2575h0M2457 2549h0M2464 2531h0M1896 2552h0M1914 2555h0M1915 2556h0M2340 2561h0M2686 2544h0M2566 2526h0M2568 2531h0M1795 2531h0M1809 2534h0M1838 2566h0M2449 2511h0M2464 2549h0M1790 2521h0M1808 2560h0M2353 2532h0M2354 2535h0M1602 2463h0M2131 2498h0M2153 2475h0M2190 2491h0M2520 2516h0M2528 2485h0M2546 2409h0M1924 2566h0M2143 2539h0M2148 2557h0M2396 2467h0M2400 2461h0M2407 2448h0M2408 2447h0M2417 2437h0M2425 2430h0M2446 2431h0M1724 2562h0M1735 2531h0M2353 2518h0M1631 2509h0M1657 2444h0M1920 2488h0M1924 2501h0M2319 2552h0M2321 2552h0M1521 2459h0M1775 2361h0M1779 2373h0M2678 2467h0M2702 2372h0"/>
<path stroke="#55ff00" d="M1775 2474h0M2693 2524h0M2695 2517h0M2704 2493h0M1715 2514h0M1721 2497h0M1994 2528h0M2280 2556h0M2306 2514h0M2314 2503h0M2321 2496h0M2322 2494h0M2368 2486h0M2382 2498h0M2386 2504h0M2400 2523h0M2406 2536h0M1518 2536h0M2066 2553h0M2115 2537h0M2118 2538h0M2120 2540h0M2124 2542h0M2000 2536h0M2001 2535h0M2004 2530h0M2014 2514h0M2019 2507h0M2046 2483h0M2059 2482h0M2071 2486h0M2084 2496h0M2131 2567h0M2706 2553h0M2106 2509h0M1852 2521h0M1568 2530h0M1915 2482h0M1927 2518h0M1930 2528h0M1579 2499h0M1580 2502h0M2139 2569h0M2146 2550h0M2162 2509h0M2610 2485h0M1500 2537h0M1504 2525h0M1505 2520h0M1844 2509h0M1849 2523h0M1650 2551h0M1658 2528h0M1665 2502h0M1974 2507h0M2247 2534h0M1983 2502h0M2287 2463h0M2296 2497h0M2299 2506h0M1484 2515h0M1489 2504h0M1660 2514h0M2472 2530h0M1661 2545h0M1665 2535h0M1666 2533h0M1668 2529h0M1689 2479h0M1849 2509h0M2418 2542h0M2423 2526h0M2433 2497h0M2437 2483h0M2663 2532h0M2672 2555h0M2044 2456h0M2377 2511h0M2384 2532h0M2083 2525h0M2084 2520h0M2091 2503h0M2414 2444h0M1477 2531h0M1479 2534h0M1480 2535h0M1482 2537h0M1822 2457h0M2637 2569h0M2664 2528h0M2692 2509h0M2707 2510h0M2713 2513h0M2717 2516h0M1643 2563h0M1644 2561h0M1655 2541h0M1663 2528h0M1701 2488h0M1767 2535h0M2313 2570h0M2322 2546h0M2327 2531h0M2331 2519h0M2343 2486h0M2612 2525h0M2500 2491h0M2524 2555h0M1528 2538h0M1541 2507h0M1546 2498h0M1668 2503h0M1962 2521h0M1966 2508h0M2205 2473h0M1875 2523h0M1885 2515h0M1886 2514h0M1894 2510h0M1896 2510h0M1900 2509h0M1907 2508h0M1913 2510h0M1936 2526h0M1938 2528h0M2492 2563h0M2494 2559h0M1630 2445h0M1671 2546h0M1927 2518h0M2138 2496h0M2144 2515h0M2711 2540h0M1594 2573h0M1606 2539h0M1607 2536h0M1621 2493h0M1834 2494h0M1835 2497h0M2109 2528h0M2111 2524h0M2280 2474h0M2302 2536h0M1626 2468h0M1636 2500h0M2545 2535h0M2546 2533h0M1689 2515h0M2628 2539h0M2652 2477h0M2295 2557h0M2300 2543h0M2317 2484h0M2637 2523h0M1882 2544h0M1888 2544h0M1904 2548h0M1908 2551h0M1923 2563h0M2253 2534h0M2579 2559h0M2580 2561h0M1848 2554h0M1860 2523h0M1860 2521h0M2194 2463h0M2196 2469h0M2207 2506h0M2210 2517h0M1709 2565h0M1710 2565h0M1724 2564h0M1746 2575h0M2092 2532h0M2098 2512h0M2414 2522h0M2425 2551h0M2112 2538h0M2450 2513h0M1499 2531h0M1505 2516h0M1506 2514h0M1710 2543h0M2493 2518h0M1582 2550h0M2035 2555h0M1500 2557h0M1929 2541h0M2257 2505h0M1824 2550h0M1841 2486h0M2153 2535h0M2616 2536h0M2653 2539h0M2661 2548h0M2664 2551h0M2009 2477h0M2041 2561h0M2622 2508h0M2627 2519h0M2642 2554h0M1910 2485h0M1923 2526h0M2440 2513h0M2591 2507h0M2592 2509h0M2596 2520h0M2349 2535h0M1518 2567h0M1542 2503h0M1546 2492h0M1629 2446h0M2161 2546h0M2423 2469h0M2435 2519h0M1714 2516h0M1994 2482h0M2104 2343h0M2124 2394h0M1673 2550h0M1954 2518h0M1968 2485h0M2595 2498h0M1908 2555h0M1926 2525h0M1985 2524h0M1986 2525h0M1999 2547h0M2472 2511h0M1910 2554h0M2346 2543h0M2348 2537h0M2350 2532h0M2364 2491h0M2681 2529h0M2686 2546h0M2254 2505h0M2529 2431h0M2551 2488h0M1776 2541h0M1785 2534h0M1787 2533h0M1807 2533h0M1818 2540h0M2466 2554h0M2469 2560h0M1686 2545h0M1796 2532h0M1811 2566h0M2358 2546h0M1596 2549h0M1762 2523h0M1762 2525h0M1771 2551h0M2245 2499h0M2249 2515h0M2252 2527h0M2257 2543h0M2574 2284h0M2134 2506h0M2140 2527h0M2146 2548h0M2578 2510h0M1849 2511h0M1868 2446h0M1895 2342h0M2042 2355h0M2071 2477h0M2400 2459h0M2456 2440h0M1725 2560h0M2339 2535h0M2348 2524h0M2362 2512h0M2371 2509h0M2374 2509h0M2413 2546h0M1626 2522h0M1634 2502h0M1915 2467h0M1518 2467h0M1520 2461h0M1750 2294h0"/>
<path stroke="#0eff00" d="M1794 2536h0M2687 2539h0M2690 2532h0M2703 2496h0M2707 2486h0M1711 2527h0M1714 2517h0M1730 2471h0M1977 2475h0M2288 2543h0M2300 2523h0M2309 2509h0M2318 2498h0M2330 2488h0M2341 2481h0M2349 2480h0M2353 2480h0M2355 2480h0M2384 2500h0M2403 2529h0M2405 2532h0M1500 2487h0M1508 2508h0M1509 2511h0M1517 2531h0M1518 2534h0M2071 2547h0M2083 2538h0M2116 2537h0M2119 2539h0M2152 2574h0M2471 2510h0M2473 2504h0M2008 2522h0M2024 2500h0M2032 2492h0M2067 2484h0M2075 2488h0M2116 2540h0M2421 2502h0M2423 2496h0M2683 2488h0M2685 2493h0M2692 2514h0M2699 2534h0M1776 2555h0M1780 2546h0M1790 2522h0M1818 2447h0M2103 2498h0M1841 2547h0M1853 2518h0M1868 2479h0M1560 2556h0M1566 2538h0M1571 2522h0M1592 2457h0M1905 2454h0M1916 2484h0M1931 2530h0M1576 2491h0M1588 2529h0M2166 2498h0M2326 2525h0M2609 2490h0M2618 2461h0M1497 2545h0M1507 2514h0M1835 2486h0M1651 2548h0M1659 2522h0M1670 2487h0M1674 2472h0M1962 2475h0M1969 2493h0M1976 2511h0M1979 2518h0M2525 2572h0M1893 2521h0M1914 2464h0M1916 2459h0M1977 2518h0M2297 2500h0M2302 2517h0M1483 2517h0M1645 2475h0M1650 2486h0M1651 2491h0M2443 2447h0M2463 2505h0M1658 2551h0M1684 2491h0M1845 2497h0M1852 2516h0M1860 2538h0M2653 2505h0M2364 2475h0M2378 2516h0M2085 2518h0M2418 2459h0M2421 2470h0M2422 2473h0M2428 2493h0M2429 2496h0M2433 2507h0M2440 2529h0M1475 2529h0M1497 2560h0M1505 2573h0M1806 2510h0M1807 2507h0M1814 2484h0M2665 2527h0M2672 2519h0M2691 2509h0M2718 2516h0M2723 2521h0M1652 2545h0M1658 2537h0M1668 2520h0M1697 2490h0M1700 2489h0M1720 2486h0M1751 2510h0M1773 2546h0M2335 2509h0M2341 2491h0M2344 2481h0M2157 2532h0M2485 2451h0M1552 2484h0M1657 2482h0M1664 2494h0M1678 2522h0M1682 2531h0M2218 2513h0M1532 2488h0M1533 2494h0M1536 2502h0M1856 2546h0M1883 2516h0M1902 2508h0M1906 2508h0M2512 2511h0M2513 2506h0M1486 2451h0M1640 2469h0M1652 2500h0M1922 2532h0M1924 2527h0M1926 2521h0M1933 2502h0M1956 2439h0M2129 2470h0M2130 2473h0M2139 2499h0M2706 2555h0M1608 2531h0M1611 2523h0M1832 2489h0M1836 2499h0M2113 2518h0M2120 2503h0M2276 2465h0M2302 2533h0M1631 2486h0M2572 2463h0M2591 2412h0M1688 2512h0M2629 2537h0M2631 2530h0M2649 2484h0M2617 2474h0M2630 2508h0M2644 2541h0M1861 2555h0M1874 2546h0M1875 2546h0M1893 2544h0M1918 2559h0M1920 2561h0M2252 2537h0M2254 2531h0M2260 2514h0M2263 2503h0M2273 2470h0M2543 2464h0M2550 2483h0M2206 2503h0M2089 2544h0M2094 2527h0M2114 2533h0M2115 2530h0M2116 2527h0M2451 2515h0M1509 2507h0M1511 2500h0M1696 2502h0M2266 2546h0M2296 2454h0M2507 2554h0M1514 2525h0M1540 2509h0M1573 2534h0M1580 2546h0M1922 2563h0M2253 2494h0M2267 2540h0M2124 2459h0M2605 2546h0M2606 2545h0M2620 2533h0M2638 2530h0M2022 2511h0M2024 2518h0M2559 2464h0M2632 2531h0M1691 2451h0M2429 2548h0M2432 2539h0M2588 2499h0M1609 2540h0M1744 2521h0M1601 2422h0M2404 2388h0M1572 2333h0M1702 2477h0M2000 2465h0M2102 2339h0M1667 2527h0M1942 2550h0M2078 2516h0M2586 2523h0M1592 2516h0M1917 2538h0M1924 2527h0M1927 2524h0M1934 2516h0M1944 2508h0M1974 2513h0M1981 2520h0M1983 2522h0M1986 2527h0M1989 2531h0M2480 2491h0M1504 2487h0M1507 2498h0M1508 2501h0M2342 2556h0M2677 2514h0M1777 2540h0M1804 2532h0M1814 2537h0M2448 2508h0M2454 2522h0M2460 2538h0M2463 2547h0M1784 2509h0M1799 2540h0M2345 2507h0M2355 2538h0M1614 2492h0M2240 2483h0M2181 2480h0M2141 2533h0M2587 2540h0M1882 2390h0M2056 2417h0M2438 2428h0M2485 2494h0M1727 2555h0M1744 2507h0M2001 2492h0M2333 2545h0M1644 2478h0M1547 2379h0M1599 2242h0M1796 2422h0M2674 2480h0M2693 2410h0"/>
<path stroke="#00ff39" d="M1774 2471h0M2684 2548h0M2709 2479h0M1700 2559h0M1728 2476h0M1731 2468h0M1975 2469h0M1996 2536h0M2289 2540h0M2311 2507h0M2320 2496h0M2323 2493h0M2324 2492h0M2335 2484h0M2366 2484h0M1491 2462h0M1515 2527h0M2131 2548h0M2149 2570h0M2470 2515h0M2483 2471h0M1986 2564h0M2008 2524h0M2091 2503h0M2101 2516h0M2420 2505h0M2425 2491h0M2668 2443h0M2671 2451h0M2677 2470h0M2689 2506h0M2696 2526h0M1805 2482h0M1808 2475h0M2102 2495h0M1859 2502h0M1864 2488h0M2152 2493h0M2155 2504h0M1576 2506h0M1913 2477h0M1914 2479h0M1916 2487h0M1929 2523h0M1566 2459h0M1578 2497h0M1591 2537h0M2158 2518h0M2172 2483h0M2312 2494h0M2319 2509h0M2335 2545h0M2591 2540h0M2612 2480h0M1510 2502h0M1519 2473h0M1843 2507h0M1672 2481h0M1967 2489h0M1972 2502h0M1977 2514h0M1987 2540h0M2547 2571h0M1882 2549h0M1897 2509h0M1905 2488h0M2234 2491h0M2238 2506h0M1979 2513h0M1990 2484h0M1994 2473h0M2007 2441h0M2275 2423h0M2298 2503h0M1482 2519h0M1495 2490h0M1632 2444h0M2221 2559h0M2223 2554h0M2242 2496h0M2260 2439h0M2435 2424h0M1840 2486h0M1847 2504h0M1848 2506h0M1851 2514h0M1860 2540h0M2627 2429h0M2636 2455h0M2650 2495h0M2022 2522h0M2031 2495h0M2042 2461h0M2054 2426h0M2358 2456h0M2372 2498h0M2092 2501h0M2093 2496h0M2109 2453h0M2430 2499h0M2432 2504h0M1494 2554h0M1828 2436h0M2092 2516h0M2098 2535h0M2660 2532h0M2662 2530h0M2690 2509h0M2708 2511h0M1678 2507h0M1687 2497h0M1690 2495h0M1714 2485h0M1720 2485h0M1733 2491h0M1743 2501h0M1744 2502h0M1755 2515h0M1764 2530h0M2324 2539h0M2332 2516h0M2346 2475h0M2596 2475h0M2604 2500h0M2613 2528h0M2152 2549h0M2155 2538h0M2164 2510h0M2501 2494h0M1529 2536h0M1532 2527h0M1545 2500h0M1574 2451h0M1676 2518h0M1963 2519h0M2198 2451h0M2209 2483h0M1538 2508h0M1539 2514h0M1541 2519h0M1876 2522h0M1880 2519h0M1889 2512h0M1922 2514h0M1939 2530h0M2498 2547h0M2509 2518h0M2510 2516h0M2512 2509h0M1657 2511h0M1921 2534h0M1934 2499h0M2120 2444h0M2126 2462h0M2148 2528h0M1616 2509h0M1824 2464h0M1838 2504h0M1842 2516h0M2126 2486h0M2274 2459h0M2295 2516h0M1619 2445h0M1627 2471h0M1645 2532h0M2534 2563h0M2541 2545h0M2576 2451h0M1680 2486h0M2632 2528h0M2644 2498h0M2656 2465h0M2660 2453h0M2301 2540h0M2624 2492h0M2641 2534h0M1868 2549h0M1882 2544h0M2260 2511h0M2262 2506h0M2559 2507h0M2560 2511h0M1892 2435h0M1730 2566h0M2087 2549h0M2406 2502h0M2412 2518h0M2418 2533h0M2423 2546h0M2106 2558h0M2139 2449h0M2434 2472h0M2438 2481h0M2442 2490h0M2456 2528h0M2458 2533h0M1689 2482h0M1691 2487h0M2268 2538h0M2272 2527h0M2277 2512h0M2470 2455h0M2475 2467h0M2478 2477h0M2489 2506h0M1510 2531h0M1513 2526h0M1523 2516h0M1532 2511h0M1559 2517h0M1568 2527h0M2049 2520h0M2056 2502h0M2063 2484h0M2352 2519h0M1939 2509h0M2259 2511h0M1830 2528h0M1832 2522h0M2144 2512h0M2147 2519h0M2624 2531h0M1759 2466h0M2551 2473h0M2616 2498h0M1916 2503h0M1919 2514h0M2594 2514h0M2597 2525h0M2598 2527h0M1610 2537h0M1819 2481h0M2364 2478h0M1598 2422h0M1664 2528h0M2214 2379h0M2216 2373h0M2401 2376h0M1660 2501h0M1935 2569h0M1963 2497h0M2058 2469h0M2580 2541h0M1584 2484h0M1594 2526h0M1973 2512h0M1993 2536h0M1994 2539h0M2482 2487h0M2487 2473h0M2343 2553h0M2368 2478h0M2672 2500h0M2680 2526h0M2305 2315h0M2532 2440h0M1766 2553h0M1768 2551h0M1775 2543h0M1790 2532h0M1791 2532h0M1823 2545h0M1826 2548h0M1694 2526h0M2344 2502h0M1621 2471h0M1745 2475h0M1759 2515h0M2040 2501h0M2049 2469h0M2234 2460h0M1528 2229h0M2580 2259h0M1926 2557h0M1940 2507h0M2144 2542h0M1924 2226h0M2331 2548h0M2341 2532h0M2357 2515h0M1619 2540h0M1648 2466h0M1666 2418h0M1678 2388h0M1916 2471h0"/>
<path stroke="#00ff80" d="M1777 2482h0M2676 2570h0M2702 2498h0M2712 2472h0M2722 2443h0M1700 2556h0M1713 2522h0M1729 2473h0M1735 2455h0M1958 2410h0M1970 2452h0M1972 2461h0M2307 2513h0M2337 2483h0M2356 2480h0M2360 2482h0M2392 2511h0M1504 2499h0M2080 2540h0M2090 2535h0M2097 2533h0M2106 2534h0M2122 2541h0M2484 2465h0M2006 2527h0M2033 2491h0M2074 2487h0M2080 2492h0M2099 2514h0M2430 2474h0M1783 2540h0M1797 2504h0M1815 2456h0M1832 2411h0M1872 2467h0M2523 2549h0M1569 2527h0M1572 2519h0M1911 2471h0M2167 2496h0M2177 2471h0M2196 2432h0M2331 2537h0M2598 2521h0M2602 2511h0M2605 2500h0M1528 2443h0M1826 2463h0M1832 2479h0M1842 2505h0M1857 2543h0M1902 2497h0M2226 2465h0M2241 2514h0M2251 2545h0M1980 2509h0M1986 2493h0M1989 2487h0M2272 2410h0M2281 2445h0M2288 2466h0M2293 2485h0M2302 2514h0M1473 2542h0M1657 2505h0M1662 2519h0M2224 2549h0M2249 2474h0M2260 2442h0M2447 2457h0M2459 2493h0M1692 2473h0M1699 2457h0M1703 2447h0M1837 2477h0M1841 2488h0M2453 2435h0M2659 2522h0M2021 2527h0M2023 2519h0M2030 2498h0M2033 2490h0M2056 2418h0M2350 2430h0M2362 2467h0M2379 2519h0M2088 2510h0M2431 2501h0M1478 2533h0M1818 2472h0M2073 2464h0M2084 2497h0M2095 2526h0M2686 2510h0M1644 2559h0M1685 2500h0M1694 2492h0M1707 2486h0M1749 2508h0M1762 2527h0M2325 2536h0M2358 2441h0M2608 2511h0M2150 2555h0M2177 2467h0M2179 2461h0M2491 2468h0M2516 2534h0M1536 2519h0M1553 2482h0M1650 2470h0M1660 2488h0M1672 2510h0M1966 2511h0M1967 2506h0M1980 2468h0M1986 2446h0M1997 2412h0M2203 2464h0M1532 2491h0M1535 2499h0M1861 2538h0M1868 2530h0M1895 2510h0M1920 2513h0M1473 2487h0M1480 2467h0M1496 2424h0M1941 2480h0M1953 2447h0M2134 2483h0M2134 2486h0M2136 2491h0M2140 2504h0M2150 2533h0M2715 2527h0M1594 2575h0M1608 2533h0M1620 2496h0M1627 2475h0M1825 2467h0M1845 2524h0M1849 2535h0M2126 2488h0M2135 2466h0M2280 2476h0M1621 2451h0M1639 2512h0M1675 2467h0M2622 2554h0M2641 2505h0M2648 2487h0M2322 2469h0M2326 2454h0M2610 2453h0M2623 2487h0M2629 2503h0M2645 2545h0M1873 2547h0M1878 2545h0M2270 2479h0M2539 2452h0M1864 2511h0M1884 2457h0M1902 2407h0M2171 2387h0M2176 2405h0M1712 2565h0M2100 2506h0M2117 2449h0M2395 2474h0M2400 2486h0M2408 2509h0M2417 2531h0M2427 2555h0M2126 2495h0M2127 2489h0M2135 2462h0M2428 2456h0M2455 2524h0M2462 2544h0M1513 2496h0M1518 2483h0M1534 2444h0M1690 2485h0M1692 2492h0M2282 2496h0M2308 2421h0M2471 2458h0M1525 2514h0M1552 2513h0M1493 2555h0M1965 2434h0M2250 2483h0M2254 2497h0M2126 2466h0M2146 2517h0M2627 2530h0M2644 2532h0M1755 2484h0M2000 2449h0M2011 2482h0M2034 2543h0M2444 2499h0M2585 2489h0M2586 2491h0M1622 2496h0M1829 2516h0M2350 2532h0M2538 2462h0M1653 2498h0M2221 2354h0M2256 2218h0M1588 2291h0M1940 2555h0M1949 2532h0M1958 2507h0M1972 2475h0M2569 2570h0M2583 2531h0M2585 2526h0M2594 2500h0M1980 2519h0M1505 2491h0M2477 2297h0M2486 2320h0M1798 2531h0M1818 2541h0M2428 2453h0M2442 2489h0M2445 2499h0M2448 2506h0M1718 2484h0M1774 2492h0M1776 2496h0M2343 2499h0M1605 2520h0M1716 2404h0M1740 2460h0M2064 2412h0M2226 2431h0M2231 2447h0M1553 2317h0M2167 2472h0M2129 2491h0M2130 2494h0M2421 2471h0M2423 2466h0M2565 2466h0M2569 2480h0M1996 2166h0M2345 2527h0M2358 2515h0M2377 2509h0M1636 2498h0M1644 2475h0M1917 2478h0"/>
<path stroke="#00ffc6" d="M1772 2465h0M2705 2491h0M2708 2484h0M1736 2452h0M1962 2425h0M1969 2449h0M2340 2482h0M2352 2480h0M2369 2486h0M2378 2494h0M1476 2419h0M1485 2445h0M1492 2465h0M1495 2472h0M2081 2539h0M2085 2537h0M2468 2521h0M2485 2462h0M2034 2491h0M2052 2482h0M2661 2421h0M2669 2446h0M2680 2478h0M1826 2428h0M1833 2406h0M2079 2414h0M1589 2465h0M1910 2469h0M1920 2497h0M1553 2421h0M1559 2437h0M1561 2445h0M1563 2451h0M1583 2513h0M2164 2502h0M2173 2481h0M2182 2461h0M2190 2443h0M2221 2401h0M2274 2421h0M2304 2477h0M2316 2501h0M2604 2503h0M1515 2487h0M1521 2467h0M1524 2455h0M1830 2473h0M1839 2495h0M1852 2530h0M1663 2510h0M1681 2447h0M1686 2428h0M1892 2523h0M2236 2497h0M2448 2463h0M2462 2503h0M1685 2489h0M1686 2487h0M1686 2485h0M1700 2455h0M1835 2472h0M1842 2490h0M1846 2499h0M2438 2480h0M2443 2464h0M2444 2462h0M2638 2460h0M2040 2469h0M2414 2447h0M2423 2476h0M1821 2460h0M1823 2454h0M2075 2469h0M2676 2516h0M1684 2501h0M1693 2492h0M1695 2491h0M1731 2490h0M1739 2496h0M1742 2499h0M2597 2477h0M2599 2483h0M2167 2501h0M2174 2478h0M2176 2470h0M2484 2449h0M1531 2531h0M1534 2523h0M1538 2513h0M1543 2504h0M1546 2496h0M1568 2458h0M1572 2453h0M1634 2449h0M1646 2465h0M1648 2468h0M1652 2475h0M1683 2533h0M2201 2459h0M2208 2481h0M2211 2492h0M2212 2494h0M1520 2449h0M1523 2458h0M1525 2467h0M1529 2479h0M1858 2543h0M1887 2514h0M1916 2511h0M1918 2512h0M2517 2496h0M2531 2456h0M1540 2344h0M1615 2408h0M1632 2449h0M1639 2467h0M1651 2498h0M1937 2492h0M1947 2463h0M1955 2442h0M1636 2445h0M1637 2443h0M1640 2435h0M1804 2409h0M2125 2490h0M2134 2468h0M2138 2460h0M2277 2467h0M2296 2519h0M2297 2521h0M1611 2418h0M1613 2424h0M2563 2486h0M1664 2427h0M1667 2440h0M1671 2452h0M1672 2455h0M1678 2477h0M2661 2451h0M2670 2427h0M2318 2481h0M2319 2478h0M2533 2437h0M2419 2535h0M2110 2547h0M1503 2523h0M1681 2461h0M1700 2512h0M1706 2530h0M2292 2467h0M2464 2439h0M2477 2475h0M2501 2538h0M1504 2540h0M1517 2522h0M1566 2525h0M2039 2544h0M2073 2457h0M2350 2512h0M1938 2515h0M2247 2474h0M2251 2486h0M2263 2525h0M1838 2499h0M2136 2491h0M2148 2523h0M2030 2534h0M2524 2523h0M2592 2464h0M1899 2446h0M1909 2479h0M1914 2497h0M2574 2459h0M2577 2466h0M2580 2474h0M2581 2476h0M2595 2517h0M2358 2500h0M2547 2496h0M2550 2505h0M2238 2292h0M2030 2428h0M2593 2503h0M1944 2507h0M1952 2505h0M2460 2542h0M2476 2500h0M2484 2480h0M2640 2394h0M2641 2397h0M2680 2523h0M2449 2224h0M2482 2309h0M1812 2535h0M2196 2418h0M2453 2520h0M1700 2513h0M1743 2468h0M2112 2465h0M2327 2445h0M2347 2513h0M2056 2442h0M2070 2385h0M2216 2391h0M2244 2496h0M2124 2472h0M2149 2560h0M2409 2510h0M2413 2499h0M2552 2424h0M2588 2543h0M1756 2470h0M2359 2513h0M2366 2510h0M2391 2517h0M2392 2518h0M1632 2507h0M1676 2392h0M1698 2331h0"/>
<path stroke="#00f1ff" d="M1759 2422h0M2715 2462h0M2330 2487h0M2388 2506h0M1503 2494h0M2092 2534h0M2498 2419h0M2021 2505h0M2096 2509h0M2435 2456h0M2652 2390h0M2670 2448h0M2676 2467h0M2679 2475h0M1798 2502h0M1804 2484h0M2095 2470h0M1858 2505h0M1861 2495h0M2140 2450h0M2145 2469h0M2148 2481h0M2524 2549h0M1901 2441h0M1937 2546h0M1554 2423h0M2179 2467h0M2181 2463h0M2191 2442h0M2286 2441h0M2306 2480h0M2601 2513h0M2616 2467h0M1517 2482h0M1821 2450h0M1685 2434h0M1959 2468h0M1972 2500h0M1884 2544h0M1921 2445h0M1927 2429h0M1938 2400h0M2227 2468h0M2229 2474h0M1985 2498h0M2028 2383h0M2290 2476h0M1472 2544h0M1528 2419h0M1614 2407h0M1617 2413h0M1626 2431h0M1636 2452h0M1637 2456h0M2227 2541h0M2241 2498h0M2439 2434h0M2451 2470h0M2456 2485h0M1733 2393h0M1828 2455h0M2440 2475h0M2441 2472h0M2639 2465h0M2671 2553h0M2096 2489h0M2113 2440h0M2115 2436h0M2126 2407h0M2398 2392h0M2406 2421h0M2415 2450h0M2064 2438h0M2076 2471h0M2093 2521h0M1676 2510h0M1679 2506h0M1688 2497h0M1691 2494h0M1705 2486h0M1727 2488h0M2367 2411h0M2180 2458h0M1548 2493h0M1566 2462h0M1571 2454h0M1651 2473h0M1671 2508h0M2199 2454h0M1514 2428h0M1526 2470h0M1909 2509h0M2532 2453h0M2536 2440h0M2537 2437h0M2543 2419h0M1474 2484h0M1479 2470h0M1510 2393h0M1579 2347h0M1594 2368h0M1637 2462h0M1642 2473h0M1649 2491h0M1954 2444h0M2118 2437h0M1630 2464h0M1635 2451h0M1810 2424h0M1818 2446h0M2134 2470h0M2143 2448h0M2154 2424h0M2240 2391h0M2272 2454h0M2294 2511h0M2301 2531h0M1609 2412h0M2592 2409h0M2596 2400h0M1663 2424h0M2668 2432h0M2330 2442h0M2332 2432h0M2337 2413h0M2614 2465h0M2257 2523h0M2276 2458h0M2280 2445h0M2515 2383h0M2534 2439h0M2381 2436h0M2386 2448h0M2406 2398h0M1531 2452h0M1665 2420h0M1673 2440h0M1677 2449h0M1682 2463h0M2275 2517h0M1519 2520h0M1534 2510h0M1553 2513h0M2350 2509h0M2249 2480h0M1836 2506h0M1849 2457h0M1858 2425h0M2112 2428h0M2112 2430h0M2119 2446h0M2126 2464h0M2133 2482h0M2149 2526h0M2646 2534h0M1739 2546h0M1746 2519h0M1762 2456h0M1770 2419h0M2028 2527h0M2570 2458h0M2595 2466h0M2618 2502h0M1903 2461h0M1924 2529h0M2439 2516h0M2562 2427h0M1624 2487h0M1827 2510h0M2526 2419h0M2554 2518h0M1652 2470h0M1959 2505h0M1960 2503h0M1985 2452h0M2031 2428h0M2062 2476h0M2066 2486h0M2076 2511h0M1578 2459h0M1938 2512h0M1947 2506h0M1950 2505h0M1952 2505h0M2501 2437h0M1480 2390h0M1492 2439h0M1498 2463h0M2658 2451h0M2659 2457h0M2669 2488h0M2269 2449h0M2540 2461h0M1696 2522h0M1708 2499h0M1710 2496h0M1747 2468h0M1757 2473h0M2342 2496h0M1662 2379h0M1723 2419h0M2048 2472h0M2230 2444h0M1934 2529h0M1938 2516h0M2132 2500h0M2145 2545h0M2411 2505h0M1731 2544h0M1739 2522h0M1740 2519h0M1755 2476h0M2007 2513h0M2398 2524h0M2402 2529h0"/>
<path stroke="#00aaff" d="M1477 2412h0M1768 2451h0M1788 2516h0M2728 2429h0M1732 2465h0M1955 2401h0M1961 2422h0M1481 2432h0M2491 2441h0M2045 2484h0M2047 2483h0M2070 2485h0M2434 2459h0M2444 2426h0M2464 2355h0M1829 2418h0M2077 2405h0M1857 2507h0M2151 2490h0M1882 2384h0M1896 2428h0M1587 2523h0M2169 2489h0M2207 2416h0M2266 2411h0M2308 2484h0M2318 2507h0M2320 2511h0M2629 2429h0M1541 2397h0M1542 2394h0M1652 2545h0M1704 2364h0M1956 2459h0M1923 2440h0M1924 2436h0M2269 2401h0M2274 2420h0M2279 2436h0M1522 2431h0M1571 2372h0M1603 2391h0M1622 2423h0M1628 2434h0M2265 2426h0M2414 2361h0M2444 2450h0M2475 2537h0M1664 2537h0M1708 2436h0M1728 2401h0M1818 2433h0M1831 2461h0M1844 2495h0M2415 2550h0M2446 2456h0M2631 2442h0M2644 2478h0M2657 2515h0M2329 2367h0M2114 2438h0M2116 2433h0M2123 2414h0M1832 2421h0M2039 2358h0M2350 2465h0M2365 2416h0M2591 2457h0M2616 2538h0M2188 2432h0M2190 2426h0M2487 2456h0M2506 2508h0M1547 2494h0M1577 2447h0M1580 2444h0M1586 2439h0M1595 2433h0M1596 2433h0M1986 2448h0M2190 2423h0M2190 2426h0M2216 2505h0M2519 2489h0M1499 2417h0M1572 2341h0M1581 2350h0M1592 2364h0M1616 2410h0M1973 2392h0M2087 2355h0M2728 2492h0M1639 2437h0M2165 2404h0M2204 2365h0M2229 2376h0M2252 2410h0M2257 2421h0M2600 2388h0M1662 2421h0M2638 2514h0M2622 2485h0M2264 2500h0M2275 2461h0M2517 2388h0M2518 2391h0M2568 2532h0M2141 2286h0M2109 2476h0M2121 2433h0M2383 2441h0M2137 2455h0M2143 2434h0M2432 2465h0M1502 2525h0M1672 2438h0M1686 2475h0M2276 2514h0M2304 2431h0M2455 2412h0M1529 2512h0M1556 2515h0M2047 2524h0M2052 2511h0M2070 2466h0M2078 2444h0M2085 2425h0M2351 2515h0M2233 2430h0M2266 2534h0M1853 2444h0M2084 2358h0M2106 2412h0M2132 2480h0M2673 2566h0M2608 2483h0M2572 2452h0M2584 2486h0M1627 2477h0M1640 2428h0M1823 2494h0M2377 2433h0M1649 2456h0M1662 2507h0M1957 2512h0M2048 2449h0M2617 2427h0M1588 2502h0M1966 2507h0M2643 2402h0M2179 2486h0M2386 2319h0M2433 2465h0M1728 2474h0M1754 2471h0M2110 2476h0M2319 2417h0M2336 2478h0M1680 2367h0M1692 2371h0M2060 2426h0M2223 2418h0M1957 2446h0M2120 2460h0M2122 2466h0M2420 2477h0M1774 2415h0M1787 2371h0M2368 2510h0"/>
<path stroke="#0063ff" d="M1748 2414h0M1760 2377h0M2333 2485h0M1504 2496h0M2496 2425h0M2419 2510h0M2452 2399h0M2467 2346h0M2644 2368h0M2657 2407h0M1860 2498h0M1901 2384h0M1905 2371h0M1615 2386h0M1616 2381h0M2197 2431h0M2271 2418h0M2274 2423h0M1533 2425h0M1917 2350h0M1919 2355h0M1923 2366h0M1955 2456h0M1922 2443h0M2207 2401h0M2252 2339h0M1526 2422h0M1549 2387h0M1594 2381h0M1597 2384h0M1600 2387h0M1625 2429h0M2272 2405h0M2428 2404h0M1683 2493h0M1746 2378h0M1791 2386h0M2450 2443h0M2466 2395h0M2616 2399h0M2654 2508h0M2127 2402h0M1824 2451h0M1868 2288h0M2028 2323h0M2638 2568h0M1737 2495h0M2344 2483h0M2364 2422h0M2375 2386h0M2582 2427h0M1561 2469h0M1574 2450h0M1617 2435h0M1670 2506h0M1677 2520h0M1972 2490h0M1994 2423h0M2210 2486h0M2220 2518h0M1521 2452h0M1530 2482h0M2555 2380h0M1522 2369h0M1597 2373h0M1619 2418h0M1967 2409h0M2095 2374h0M2098 2383h0M2121 2447h0M1671 2346h0M2153 2427h0M2248 2404h0M2269 2448h0M1647 2366h0M1653 2389h0M1654 2392h0M1664 2430h0M2663 2446h0M2664 2444h0M2302 2535h0M2355 2349h0M2593 2409h0M2603 2437h0M2274 2464h0M2288 2417h0M1937 2314h0M2136 2379h0M2140 2365h0M2379 2431h0M2391 2463h0M2397 2479h0M2138 2452h0M2415 2422h0M2428 2454h0M1508 2509h0M1667 2424h0M1669 2429h0M2320 2387h0M2333 2354h0M2454 2410h0M2476 2470h0M2055 2504h0M1980 2391h0M2070 2319h0M2118 2444h0M1791 2328h0M1990 2420h0M2550 2474h0M2554 2470h0M2567 2459h0M2583 2459h0M2603 2477h0M1686 2469h0M1875 2358h0M1888 2408h0M1922 2523h0M2554 2409h0M1645 2408h0M1794 2387h0M1810 2446h0M1646 2446h0M2478 2496h0M1481 2394h0M1493 2443h0M2607 2292h0M2207 2369h0M2436 2475h0M1704 2507h0M1742 2468h0M1752 2470h0M2123 2421h0M2328 2448h0M1661 2380h0M2199 2329h0M1938 2513h0M1980 2365h0M2406 2521h0M2528 2361h0M1760 2459h0M2396 2522h0M1898 2401h0"/>
<path stroke="#001cff" d="M1734 2336h0M2462 2365h0M1888 2422h0M1612 2395h0M1617 2378h0M1891 2413h0M1543 2388h0M1552 2418h0M1573 2481h0M2220 2402h0M2648 2371h0M2671 2305h0M1789 2363h0M1691 2412h0M1710 2340h0M1934 2410h0M1531 2414h0M1535 2407h0M1554 2382h0M2292 2346h0M2406 2339h0M2426 2396h0M1776 2372h0M1783 2377h0M1821 2439h0M2447 2454h0M2468 2390h0M2058 2413h0M2104 2467h0M1850 2357h0M2355 2449h0M2376 2383h0M2378 2374h0M2230 2288h0M1569 2457h0M1644 2462h0M2004 2389h0M2195 2440h0M2559 2369h0M1518 2375h0M1580 2348h0M1987 2358h0M2099 2386h0M1644 2421h0M2176 2388h0M2209 2365h0M2223 2370h0M2694 2354h0M2296 2385h0M1597 2339h0M1684 2468h0M2316 2399h0M2319 2389h0M2332 2356h0M2421 2332h0M1516 2523h0M2325 2413h0M1956 2459h0M2177 2266h0M2232 2427h0M2042 2247h0M2066 2310h0M2092 2378h0M1742 2228h0M1866 2320h0M1895 2430h0M2518 2362h0M1635 2448h0M2384 2408h0M2393 2374h0M2502 2337h0M2521 2403h0M2539 2465h0M2548 2499h0M2014 2423h0M2648 2319h0M2652 2306h0M1554 2357h0M2529 2361h0M2387 2423h0M2442 2278h0M2634 2374h0M1790 2532h0M2099 2278h0M2442 2411h0M2508 2328h0M1763 2449h0"/>
<path stroke="#2a00ff" d="M1498 2355h0M1752 2398h0M1758 2419h0M1763 2436h0M2316 2500h0M2703 2326h0M2036 2247h0M1864 2333h0M1873 2359h0M1882 2387h0M2230 2396h0M2251 2398h0M2305 2478h0M2658 2339h0M1538 2406h0M1723 2290h0M1725 2283h0M1920 2447h0M1944 2383h0M1965 2326h0M2037 2356h0M2044 2336h0M2056 2302h0M2236 2275h0M1570 2373h0M1584 2374h0M1596 2383h0M2281 2376h0M2290 2351h0M2297 2332h0M2400 2326h0M2415 2366h0M1780 2375h0M2068 2384h0M2086 2329h0M2101 2284h0M2153 2332h0M2163 2303h0M2172 2279h0M2022 2300h0M1734 2492h0M2581 2421h0M2190 2423h0M2229 2291h0M1570 2340h0M1584 2353h0M2022 2299h0M2047 2293h0M2058 2302h0M2076 2330h0M1660 2375h0M1663 2368h0M1776 2332h0M1811 2426h0M2184 2377h0M2258 2422h0M2691 2365h0M2575 2360h0M2520 2399h0M1960 2248h0M2153 2315h0M2378 2427h0M2155 2390h0M2436 2365h0M2453 2408h0M2103 2379h0M2126 2316h0M2324 2410h0M2210 2359h0M2512 2362h0M1622 2493h0M1792 2380h0M2367 2468h0M2518 2391h0M2022 2423h0M2070 2495h0M2621 2415h0M1559 2377h0M1574 2445h0M1581 2474h0M2626 2350h0M2377 2289h0M1729 2473h0M2305 2365h0M1946 2485h0M2504 2324h0"/>
<path stroke="#7100ff" d="M1943 2357h0M2484 2282h0M2604 2233h0M2624 2298h0M1834 2403h0M1621 2367h0M1644 2297h0M1524 2330h0M2330 2533h0M2704 2236h0M1778 2334h0M1812 2427h0M1889 2263h0M1901 2299h0M2177 2299h0M1546 2391h0M2294 2339h0M2302 2319h0M2308 2306h0M2608 2374h0M2092 2310h0M2403 2293h0M2404 2290h0M2546 2296h0M2407 2238h0M2425 2286h0M2002 2394h0M2003 2392h0M2012 2363h0M2166 2347h0M2588 2273h0M2056 2300h0M2685 2383h0M2336 2305h0M1566 2375h0M2422 2334h0M2294 2288h0M2049 2265h0M1817 2212h0M1657 2364h0M1621 2340h0M2646 2326h0M2657 2286h0M1555 2361h0M2528 2364h0M2132 2384h0M1960 2434h0M1994 2320h0M2017 2262h0M1793 2349h0"/>
<path stroke="#b800ff" d="M1482 2398h0M2691 2285h0M1754 2266h0M1752 2174h0M1966 2324h0M2227 2241h0M2330 2265h0M2357 2253h0M2577 2296h0M1875 2261h0M1731 2261h0M1635 2319h0M1686 2506h0M2694 2357h0M2729 2241h0M2325 2274h0M2313 2227h0M2337 2307h0M2356 2253h0M2397 2296h0M2414 2319h0M1912 2491h0M2402 2344h0M1535 2269h0M1558 2373h0M2521 2383h0"/>
<path stroke="#ff00ff" d="M1533 2258h0M1941 2255h0M1594 2207h0M2366 2287h0M2414 2254h0M2405 2231h0M2122 2220h0M2714 2216h0M1705 2275h0M1718 2262h0M2479 2274h0"/>
<path stroke="#000" d="M2000 2548l0 1M1530 2565h0M2462 2539h0M2082 2494l1 0M2518 2551h0M1555 2570l1-2M2322 2515l0 2M1595 2548h0M2527 2571l1 0 0-1M2218 2570l0-3M2216 2575h0M1862 2545l1 1M2392 2557l0 1M2072 2554l1-3M2090 2511l1 3M2666 2525l1-1M1759 2521l1 2M1773 2547l1 1M2310 2577l1-1M2527 2563l0 1M1515 2571l1-3M1697 2563l0 1 1 0M1514 2573h0M2232 2552h0M1545 2530l1 3M1893 2511l0-1 1 0M1915 2510l1 1M2305 2544l1 2M2619 2561l1-2M2642 2536l1 2M2651 2558l1 2M1863 2553l1 0M1868 2550l0-1M1842 2570l1-2M1739 2570l0 1 1 0M2105 2562l1-1M2513 2569h0M2027 2575h0M1925 2552l1-3M2667 2556l1 2M2509 2560l1-1M1674 2519l0-1M2424 2567h0M2613 2573h0M1607 2549l0-1M2569 2569h0M1556 2561l0-3 7-19 0-3 3-7 1-6 3-6 0-3 4-10 1-6M1742 2514l10 33 0 3M2247 2575l2-4 0-3 3-7 0-3 4-10 0-3 4-10 0-3 3-7 0-3 4-12M2500 2522l11 38M2149 2577h0M2170 2549h0M2452 2562l1-2M1597 2535h0M1512 2518l1 3M1514 2523l0 1M1919 2559h0M1763 2557l1 0 0-1M2257 2544l1 2M2233 2576h0M1922 2572h0M2506 2551l1 1M1719 2576l0-1M2326 2557h0M2418 2556l0 1M1605 2576l0-1M2311 2553h0M2334 2559h0M1839 2557l1 1M2253 2562l1 0"/>
<path stroke="#000" d="M1472 2407l4 12 0 4 2 4 1 7 3 7 0 4 4 10 4 17 3 7 3 14 8 22 0 3 3 7 3 13 5 13M2007 2566l11-37 4-10 3-13 15-45 2-3 0-3 4-8 0-3 2-3 8-22 4-7 0-2 3-6 1 0 0-2 2-4 1 0 1-4 1 0 2-5 2-3 1 0 0-2 2-1 2-4 1 0 7-8 3-1 0-1 6-1 0-1 5 0 9 4 0 1 8 7 5 8 1 0 0 2 1 0 2 3 0 2 1 0 3 5 0 2 1 2 1 0 2 6 3 4 3 9 4 7 1 5 3 5 10 29 4 8 0 3 3 6 0 3 2 3 3 11 2 3 0 3 3 6 4 12 0 3 2 3 1 6 3 6 10 30M2442 2549l6-18 1-7 3-7 0-4 3-7 1-7 6-19 5-22 2-4 1-7 3-8 0-4 7-23 0-4 4-11 0-4 3-8 4-19 7-23 3-15 7-22 0-4 3-7 1-7 3-7 3-14 18-51 10-18 1 0 4-5 3-1 0-1 10 1 0 1 5 4 9 15 0 2 7 14 0 3 2 3 2 8 2 3 1 6 4 9 0 3 3 7 0 3 3 7 0 3 8 25 4 18 2 4 0 4 4 11 1 7 2 4 1 7 3 8 0 4 14 49 3 15 4 11 0 4 4 11 1 7 2 4 0 4 2 4 1 7 4 11 0 3 4 11 0 3 8 27"/>
</g>
<path d="M736 1239.2H1366M736 1186.8H1366M736 1134.3H1366M736 1081.9H1366M736 1029.5H1366" stroke="#000" stroke-width="1" fill="none" shape-rendering="crispEdges"/>
<path d="M736 1238.8h6.3M1366 1238.8h-6.3M736 1186.4h6.3M1366 1186.4h-6.3M736 1133.9h6.3M1366 1133.9h-6.3M736 1081.5h6.3M1366 1081.5h-6.3M736 1029.0h6.3M1366 1029.0h-6.3M762.2 977.0v3.7M762.2 1291.7v-3.7M788.5 977.0v3.7M788.5 1291.7v-3.7M841.0 977.0v3.7M841.0 1291.7v-3.7M867.2 977.0v3.7M867.2 1291.7v-3.7M919.8 977.0v3.7M919.8 1291.7v-3.7M946.0 977.0v3.7M946.0 1291.7v-3.7M998.5 977.0v3.7M998.5 1291.7v-3.7M1024.8 977.0v3.7M1024.8 1291.7v-3.7M1077.2 977.0v3.7M1077.2 1291.7v-3.7M1103.5 977.0v3.7M1103.5 1291.7v-3.7M1156.0 977.0v3.7M1156.0 1291.7v-3.7M1182.2 977.0v3.7M1182.2 1291.7v-3.7M1234.8 977.0v3.7M1234.8 1291.7v-3.7M1261.0 977.0v3.7M1261.0 1291.7v-3.7M1313.5 977.0v3.7M1313.5 1291.7v-3.7M1339.8 977.0v3.7M1339.8 1291.7v-3.7M736.0 977.0v5.7M736.0 1291.7v-5.7M814.8 977.0v5.7M814.8 1291.7v-5.7M893.5 977.0v5.7M893.5 1291.7v-5.7M972.2 977.0v5.7M972.2 1291.7v-5.7M1051.0 977.0v5.7M1051.0 1291.7v-5.7M1129.8 977.0v5.7M1129.8 1291.7v-5.7M1208.5 977.0v5.7M1208.5 1291.7v-5.7M1287.2 977.0v5.7M1287.2 1291.7v-5.7M1366.0 977.0v5.7M1366.0 1291.7v-5.7" stroke="#000" stroke-width="2" fill="none"/>
<rect x="736" y="977.0" width="630" height="314.7" fill="none" stroke="#000" stroke-width="4.3"/>
<g font-family="Liberation Sans, Arial, Helvetica, sans-serif" font-size="22.6" text-anchor="middle">
<text transform="translate(736.0 1316.0) scale(0.965 1)">0</text>
<text transform="translate(814.8 1316.0) scale(0.965 1)">3</text>
<text transform="translate(893.5 1316.0) scale(0.965 1)">6</text>
<text transform="translate(972.2 1316.0) scale(0.965 1)">9</text>
<text transform="translate(1051.0 1316.0) scale(0.965 1)">12</text>
<text transform="translate(1129.8 1316.0) scale(0.965 1)">15</text>
<text transform="translate(1208.5 1316.0) scale(0.965 1)">18</text>
<text transform="translate(1287.2 1316.0) scale(0.965 1)">21</text>
<text transform="translate(1366.0 1316.0) scale(0.965 1)">24</text>
</g>
<g font-family="Liberation Sans, Arial, Helvetica, sans-serif" font-size="22.6" text-anchor="end">
<text transform="translate(1397.8 1299.8) scale(0.965 1)">0</text>
<text transform="translate(1397.8 1247.3) scale(0.965 1)">15</text>
<text transform="translate(1397.8 1194.9) scale(0.965 1)">30</text>
<text transform="translate(1397.8 1142.4) scale(0.965 1)">45</text>
<text transform="translate(1397.8 1090.0) scale(0.965 1)">60</text>
<text transform="translate(1397.8 1037.5) scale(0.965 1)">75</text>
<text transform="translate(1397.8 985.1) scale(0.965 1)">90</text>
</g>
<text transform="translate(1428.8 1134.4) rotate(-90)" font-family="Liberation Sans, Arial, Helvetica, sans-serif" font-size="20.8" text-anchor="middle" textLength="183" lengthAdjust="spacingAndGlyphs">Elevación (grados)</text>
<text x="1051" y="1344.7" font-family="Liberation Sans, Arial, Helvetica, sans-serif" font-size="20.8" text-anchor="middle" textLength="150.4" lengthAdjust="spacingAndGlyphs">Tiempo (horas)</text>
</g>
</svg></body></html>
